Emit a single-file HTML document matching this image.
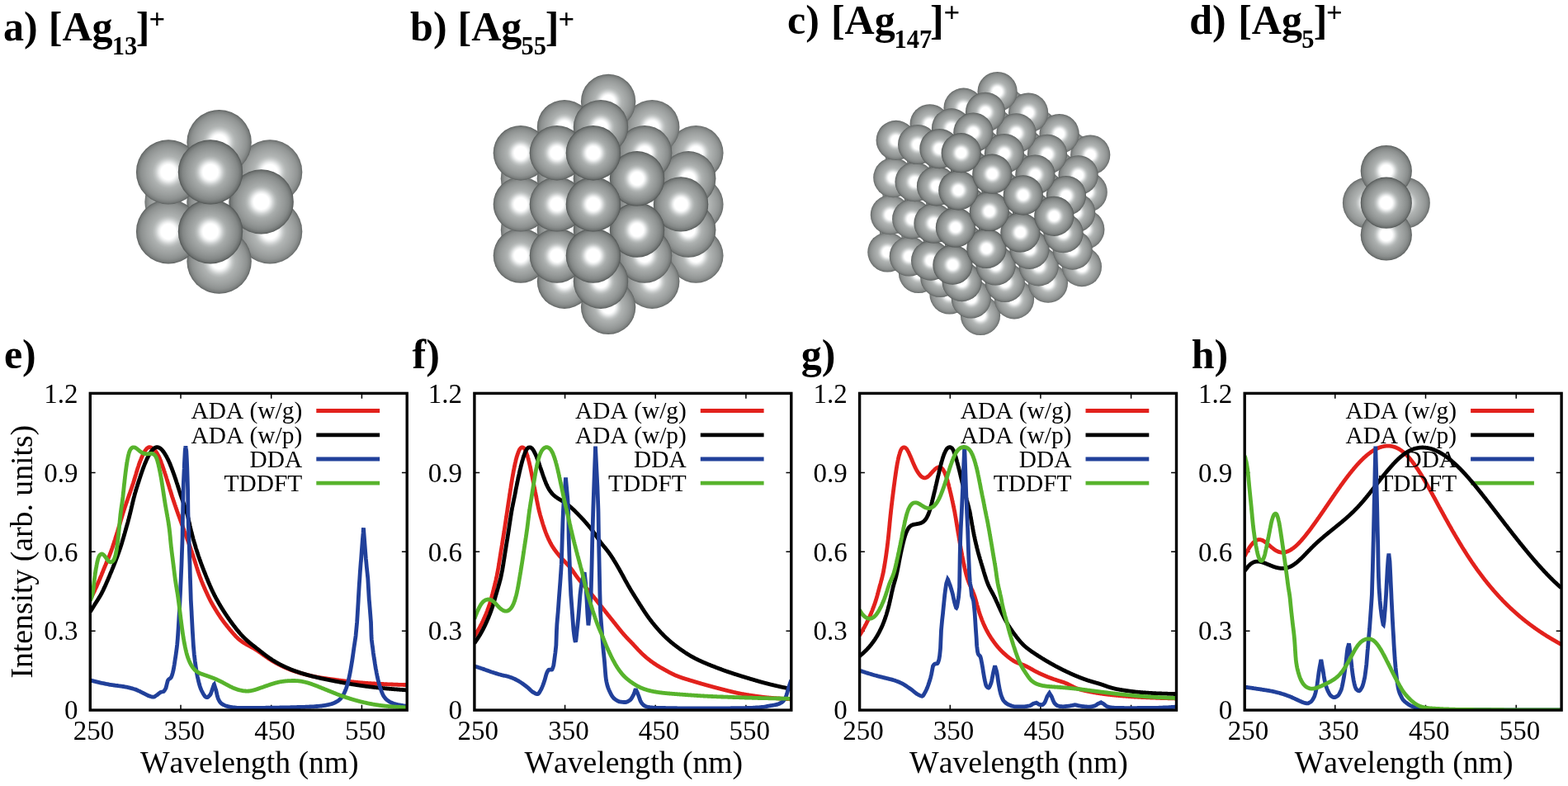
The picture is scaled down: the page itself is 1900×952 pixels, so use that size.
<!DOCTYPE html>
<html lang="en">
<head>
<meta charset="utf-8">
<title>Silver cluster absorption spectra</title>
<style>html,body{margin:0;padding:0;background:#fff;overflow:hidden}svg{display:block}</style>
</head>
<body>
<svg width="1900" height="952" viewBox="0 0 1900 952" font-family='"Liberation Serif", "DejaVu Serif", serif' fill="#000" style="display:block;font-kerning:none">
<rect width="1900" height="952" fill="#fff"/>
<defs>
<radialGradient id="sg" cx="50%" cy="50%" r="50%"><stop offset="0" stop-color="#ffffff"/><stop offset="0.23" stop-color="#ffffff"/><stop offset="0.27" stop-color="#f4f5f5"/><stop offset="0.31" stop-color="#e6e8e8"/><stop offset="0.37" stop-color="#cdd0d0"/><stop offset="0.43" stop-color="#b8bcbb"/><stop offset="0.5" stop-color="#a8acab"/><stop offset="0.62" stop-color="#9ca09f"/><stop offset="0.735" stop-color="#919594"/><stop offset="0.855" stop-color="#838786"/><stop offset="0.94" stop-color="#6f7372"/><stop offset="0.985" stop-color="#585c5b"/><stop offset="1" stop-color="#4a4e4d"/></radialGradient>
</defs>
<text x="4.1" y="49.3" font-size="50" font-weight="bold">a)</text>
<text x="58.8" y="49.3" font-size="50" font-weight="bold">[Ag</text>
<text x="135.7" y="66.2" font-size="30.5" font-weight="bold">13</text>
<text x="164.8" y="49.3" font-size="50" font-weight="bold">]</text>
<text x="180.4" y="34.3" font-size="34.5" font-weight="bold">+</text>
<text x="497.1" y="49.3" font-size="50" font-weight="bold">b)</text>
<text x="554.6" y="49.3" font-size="50" font-weight="bold">[Ag</text>
<text x="631.6" y="66.2" font-size="30.5" font-weight="bold">55</text>
<text x="660.7" y="49.3" font-size="50" font-weight="bold">]</text>
<text x="676.5" y="34.3" font-size="34.5" font-weight="bold">+</text>
<text x="954" y="41.1" font-size="50" font-weight="bold">c)</text>
<text x="1006.9" y="41.1" font-size="50" font-weight="bold">[Ag</text>
<text x="1083.4" y="58" font-size="30.5" font-weight="bold">147</text>
<text x="1126.9" y="41.1" font-size="50" font-weight="bold">]</text>
<text x="1143.4" y="26.1" font-size="34.5" font-weight="bold">+</text>
<text x="1441.3" y="41.1" font-size="50" font-weight="bold">d)</text>
<text x="1500.2" y="41.1" font-size="50" font-weight="bold">[Ag</text>
<text x="1577.2" y="58" font-size="30.5" font-weight="bold">5</text>
<text x="1591.8" y="41.1" font-size="50" font-weight="bold">]</text>
<text x="1606.9" y="26.1" font-size="34.5" font-weight="bold">+</text>
<text x="4.9" y="445.5" font-size="50" font-weight="bold">e)</text>
<text x="499.5" y="445.5" font-size="50" font-weight="bold">f)</text>
<text x="970.8" y="445.5" font-size="50" font-weight="bold">g)</text>
<text x="1443.8" y="445.5" font-size="50" font-weight="bold">h)</text>
<g>
<circle cx="276.2" cy="280.4" r="39.2" fill="url(#sg)"/>
<circle cx="276.2" cy="280.4" r="39.5" fill="#fff" opacity="0.18"/>
<circle cx="276.2" cy="208.4" r="39.2" fill="url(#sg)"/>
<circle cx="276.2" cy="208.4" r="39.5" fill="#fff" opacity="0.18"/>
<circle cx="214.6" cy="244.4" r="39.2" fill="url(#sg)"/>
<circle cx="214.6" cy="244.4" r="39.5" fill="#fff" opacity="0.16"/>
<circle cx="327.1" cy="280.4" r="39.2" fill="url(#sg)"/>
<circle cx="327.1" cy="280.4" r="39.5" fill="#fff" opacity="0.11"/>
<circle cx="327.1" cy="208.4" r="39.2" fill="url(#sg)"/>
<circle cx="327.1" cy="208.4" r="39.5" fill="#fff" opacity="0.11"/>
<circle cx="265.6" cy="316.5" r="39.2" fill="url(#sg)"/>
<circle cx="265.6" cy="316.5" r="39.5" fill="#fff" opacity="0.09"/>
<circle cx="265.6" cy="244.4" r="39.2" fill="url(#sg)"/>
<circle cx="265.6" cy="244.4" r="39.5" fill="#fff" opacity="0.09"/>
<circle cx="265.6" cy="172.3" r="39.2" fill="url(#sg)"/>
<circle cx="265.6" cy="172.3" r="39.5" fill="#fff" opacity="0.09"/>
<circle cx="204.1" cy="280.4" r="39.2" fill="url(#sg)"/>
<circle cx="204.1" cy="280.4" r="39.5" fill="#fff" opacity="0.07"/>
<circle cx="204.1" cy="208.4" r="39.2" fill="url(#sg)"/>
<circle cx="204.1" cy="208.4" r="39.5" fill="#fff" opacity="0.07"/>
<circle cx="316.6" cy="244.4" r="39.2" fill="url(#sg)"/>
<circle cx="316.6" cy="244.4" r="39.5" fill="#fff" opacity="0.02"/>
<circle cx="255" cy="280.4" r="39.2" fill="url(#sg)"/>
<circle cx="255" cy="208.4" r="39.2" fill="url(#sg)"/>
</g>
<g>
<circle cx="755.3" cy="309.6" r="33.2" fill="url(#sg)"/>
<circle cx="755.3" cy="309.6" r="33.5" fill="#fff" opacity="0.18"/>
<circle cx="755.3" cy="247.4" r="33.2" fill="url(#sg)"/>
<circle cx="755.3" cy="247.4" r="33.5" fill="#fff" opacity="0.18"/>
<circle cx="755.3" cy="185.2" r="33.2" fill="url(#sg)"/>
<circle cx="755.3" cy="185.2" r="33.5" fill="#fff" opacity="0.18"/>
<circle cx="702.2" cy="278.5" r="33.2" fill="url(#sg)"/>
<circle cx="702.2" cy="278.5" r="33.5" fill="#fff" opacity="0.17"/>
<circle cx="702.2" cy="216.3" r="33.2" fill="url(#sg)"/>
<circle cx="702.2" cy="216.3" r="33.5" fill="#fff" opacity="0.17"/>
<circle cx="649.1" cy="247.4" r="33.2" fill="url(#sg)"/>
<circle cx="649.1" cy="247.4" r="33.5" fill="#fff" opacity="0.16"/>
<circle cx="799.3" cy="309.6" r="33.2" fill="url(#sg)"/>
<circle cx="799.3" cy="309.6" r="33.5" fill="#fff" opacity="0.14"/>
<circle cx="799.3" cy="247.4" r="33.2" fill="url(#sg)"/>
<circle cx="799.3" cy="247.4" r="33.5" fill="#fff" opacity="0.14"/>
<circle cx="799.3" cy="185.2" r="33.2" fill="url(#sg)"/>
<circle cx="799.3" cy="185.2" r="33.5" fill="#fff" opacity="0.14"/>
<circle cx="746.2" cy="340.7" r="33.2" fill="url(#sg)"/>
<circle cx="746.2" cy="340.7" r="33.5" fill="#fff" opacity="0.13"/>
<circle cx="746.2" cy="278.5" r="33.2" fill="url(#sg)"/>
<circle cx="746.2" cy="278.5" r="33.5" fill="#fff" opacity="0.13"/>
<circle cx="746.2" cy="216.3" r="33.2" fill="url(#sg)"/>
<circle cx="746.2" cy="216.3" r="33.5" fill="#fff" opacity="0.13"/>
<circle cx="746.2" cy="154.1" r="33.2" fill="url(#sg)"/>
<circle cx="746.2" cy="154.1" r="33.5" fill="#fff" opacity="0.13"/>
<circle cx="693.1" cy="309.6" r="33.2" fill="url(#sg)"/>
<circle cx="693.1" cy="309.6" r="33.5" fill="#fff" opacity="0.13"/>
<circle cx="693.1" cy="247.4" r="33.2" fill="url(#sg)"/>
<circle cx="693.1" cy="247.4" r="33.5" fill="#fff" opacity="0.13"/>
<circle cx="693.1" cy="185.2" r="33.2" fill="url(#sg)"/>
<circle cx="693.1" cy="185.2" r="33.5" fill="#fff" opacity="0.13"/>
<circle cx="640" cy="278.5" r="33.2" fill="url(#sg)"/>
<circle cx="640" cy="278.5" r="33.5" fill="#fff" opacity="0.12"/>
<circle cx="640" cy="216.3" r="33.2" fill="url(#sg)"/>
<circle cx="640" cy="216.3" r="33.5" fill="#fff" opacity="0.12"/>
<circle cx="843.3" cy="309.6" r="33.2" fill="url(#sg)"/>
<circle cx="843.3" cy="309.6" r="33.5" fill="#fff" opacity="0.11"/>
<circle cx="843.3" cy="247.4" r="33.2" fill="url(#sg)"/>
<circle cx="843.3" cy="247.4" r="33.5" fill="#fff" opacity="0.11"/>
<circle cx="843.3" cy="185.2" r="33.2" fill="url(#sg)"/>
<circle cx="843.3" cy="185.2" r="33.5" fill="#fff" opacity="0.11"/>
<circle cx="790.2" cy="340.7" r="33.2" fill="url(#sg)"/>
<circle cx="790.2" cy="340.7" r="33.5" fill="#fff" opacity="0.10"/>
<circle cx="790.2" cy="278.5" r="33.2" fill="url(#sg)"/>
<circle cx="790.2" cy="278.5" r="33.5" fill="#fff" opacity="0.10"/>
<circle cx="790.2" cy="216.3" r="33.2" fill="url(#sg)"/>
<circle cx="790.2" cy="216.3" r="33.5" fill="#fff" opacity="0.10"/>
<circle cx="790.2" cy="154.1" r="33.2" fill="url(#sg)"/>
<circle cx="790.2" cy="154.1" r="33.5" fill="#fff" opacity="0.10"/>
<circle cx="737.1" cy="371.8" r="33.2" fill="url(#sg)"/>
<circle cx="737.1" cy="371.8" r="33.5" fill="#fff" opacity="0.09"/>
<circle cx="737.1" cy="309.6" r="33.2" fill="url(#sg)"/>
<circle cx="737.1" cy="309.6" r="33.5" fill="#fff" opacity="0.09"/>
<circle cx="737.1" cy="247.4" r="33.2" fill="url(#sg)"/>
<circle cx="737.1" cy="247.4" r="33.5" fill="#fff" opacity="0.09"/>
<circle cx="737.1" cy="185.2" r="33.2" fill="url(#sg)"/>
<circle cx="737.1" cy="185.2" r="33.5" fill="#fff" opacity="0.09"/>
<circle cx="737.1" cy="123" r="33.2" fill="url(#sg)"/>
<circle cx="737.1" cy="123" r="33.5" fill="#fff" opacity="0.09"/>
<circle cx="684" cy="340.7" r="33.2" fill="url(#sg)"/>
<circle cx="684" cy="340.7" r="33.5" fill="#fff" opacity="0.08"/>
<circle cx="684" cy="278.5" r="33.2" fill="url(#sg)"/>
<circle cx="684" cy="278.5" r="33.5" fill="#fff" opacity="0.08"/>
<circle cx="684" cy="216.3" r="33.2" fill="url(#sg)"/>
<circle cx="684" cy="216.3" r="33.5" fill="#fff" opacity="0.08"/>
<circle cx="684" cy="154.1" r="33.2" fill="url(#sg)"/>
<circle cx="684" cy="154.1" r="33.5" fill="#fff" opacity="0.08"/>
<circle cx="630.9" cy="309.6" r="33.2" fill="url(#sg)"/>
<circle cx="630.9" cy="309.6" r="33.5" fill="#fff" opacity="0.07"/>
<circle cx="630.9" cy="247.4" r="33.2" fill="url(#sg)"/>
<circle cx="630.9" cy="247.4" r="33.5" fill="#fff" opacity="0.07"/>
<circle cx="630.9" cy="185.2" r="33.2" fill="url(#sg)"/>
<circle cx="630.9" cy="185.2" r="33.5" fill="#fff" opacity="0.07"/>
<circle cx="834.2" cy="278.5" r="33.2" fill="url(#sg)"/>
<circle cx="834.2" cy="278.5" r="33.5" fill="#fff" opacity="0.06"/>
<circle cx="834.2" cy="216.3" r="33.2" fill="url(#sg)"/>
<circle cx="834.2" cy="216.3" r="33.5" fill="#fff" opacity="0.06"/>
<circle cx="781.1" cy="309.6" r="33.2" fill="url(#sg)"/>
<circle cx="781.1" cy="309.6" r="33.5" fill="#fff" opacity="0.05"/>
<circle cx="781.1" cy="247.4" r="33.2" fill="url(#sg)"/>
<circle cx="781.1" cy="247.4" r="33.5" fill="#fff" opacity="0.05"/>
<circle cx="781.1" cy="185.2" r="33.2" fill="url(#sg)"/>
<circle cx="781.1" cy="185.2" r="33.5" fill="#fff" opacity="0.05"/>
<circle cx="728" cy="340.7" r="33.2" fill="url(#sg)"/>
<circle cx="728" cy="340.7" r="33.5" fill="#fff" opacity="0.04"/>
<circle cx="728" cy="278.5" r="33.2" fill="url(#sg)"/>
<circle cx="728" cy="278.5" r="33.5" fill="#fff" opacity="0.04"/>
<circle cx="728" cy="216.3" r="33.2" fill="url(#sg)"/>
<circle cx="728" cy="216.3" r="33.5" fill="#fff" opacity="0.04"/>
<circle cx="728" cy="154.1" r="33.2" fill="url(#sg)"/>
<circle cx="728" cy="154.1" r="33.5" fill="#fff" opacity="0.04"/>
<circle cx="674.9" cy="309.6" r="33.2" fill="url(#sg)"/>
<circle cx="674.9" cy="309.6" r="33.5" fill="#fff" opacity="0.04"/>
<circle cx="674.9" cy="247.4" r="33.2" fill="url(#sg)"/>
<circle cx="674.9" cy="247.4" r="33.5" fill="#fff" opacity="0.04"/>
<circle cx="674.9" cy="185.2" r="33.2" fill="url(#sg)"/>
<circle cx="674.9" cy="185.2" r="33.5" fill="#fff" opacity="0.04"/>
<circle cx="825.1" cy="247.4" r="33.2" fill="url(#sg)"/>
<circle cx="825.1" cy="247.4" r="33.5" fill="#fff" opacity="0.02"/>
<circle cx="772" cy="278.5" r="33.2" fill="url(#sg)"/>
<circle cx="772" cy="216.3" r="33.2" fill="url(#sg)"/>
<circle cx="718.9" cy="309.6" r="33.2" fill="url(#sg)"/>
<circle cx="718.9" cy="247.4" r="33.2" fill="url(#sg)"/>
<circle cx="718.9" cy="185.2" r="33.2" fill="url(#sg)"/>
</g>
<g>
<circle cx="1231.9" cy="307.8" r="24.1" fill="url(#sg)"/>
<circle cx="1231.9" cy="307.8" r="24.4" fill="#fff" opacity="0.18"/>
<circle cx="1194.3" cy="282.3" r="24.1" fill="url(#sg)"/>
<circle cx="1194.3" cy="282.3" r="24.4" fill="#fff" opacity="0.18"/>
<circle cx="1235.3" cy="262.6" r="24.1" fill="url(#sg)"/>
<circle cx="1235.3" cy="262.6" r="24.4" fill="#fff" opacity="0.18"/>
<circle cx="1156.8" cy="256.7" r="24.1" fill="url(#sg)"/>
<circle cx="1156.8" cy="256.7" r="24.4" fill="#fff" opacity="0.18"/>
<circle cx="1197.8" cy="237.1" r="24.1" fill="url(#sg)"/>
<circle cx="1197.8" cy="237.1" r="24.4" fill="#fff" opacity="0.18"/>
<circle cx="1119.3" cy="231.2" r="24.1" fill="url(#sg)"/>
<circle cx="1119.3" cy="231.2" r="24.4" fill="#fff" opacity="0.17"/>
<circle cx="1238.7" cy="217.5" r="24.1" fill="url(#sg)"/>
<circle cx="1238.7" cy="217.5" r="24.4" fill="#fff" opacity="0.17"/>
<circle cx="1160.2" cy="211.6" r="24.1" fill="url(#sg)"/>
<circle cx="1160.2" cy="211.6" r="24.4" fill="#fff" opacity="0.17"/>
<circle cx="1201.2" cy="192" r="24.1" fill="url(#sg)"/>
<circle cx="1201.2" cy="192" r="24.4" fill="#fff" opacity="0.17"/>
<circle cx="1242.2" cy="172.3" r="24.1" fill="url(#sg)"/>
<circle cx="1242.2" cy="172.3" r="24.4" fill="#fff" opacity="0.17"/>
<circle cx="1217.2" cy="332.5" r="24.1" fill="url(#sg)"/>
<circle cx="1217.2" cy="332.5" r="24.4" fill="#fff" opacity="0.15"/>
<circle cx="1258.2" cy="312.9" r="24.1" fill="url(#sg)"/>
<circle cx="1258.2" cy="312.9" r="24.4" fill="#fff" opacity="0.15"/>
<circle cx="1179.7" cy="307" r="24.1" fill="url(#sg)"/>
<circle cx="1179.7" cy="307" r="24.4" fill="#fff" opacity="0.15"/>
<circle cx="1220.7" cy="287.4" r="24.1" fill="url(#sg)"/>
<circle cx="1220.7" cy="287.4" r="24.4" fill="#fff" opacity="0.15"/>
<circle cx="1142.2" cy="281.5" r="24.1" fill="url(#sg)"/>
<circle cx="1142.2" cy="281.5" r="24.4" fill="#fff" opacity="0.15"/>
<circle cx="1261.6" cy="267.7" r="24.1" fill="url(#sg)"/>
<circle cx="1261.6" cy="267.7" r="24.4" fill="#fff" opacity="0.15"/>
<circle cx="1183.1" cy="261.8" r="24.1" fill="url(#sg)"/>
<circle cx="1183.1" cy="261.8" r="24.4" fill="#fff" opacity="0.15"/>
<circle cx="1104.7" cy="255.9" r="24.1" fill="url(#sg)"/>
<circle cx="1104.7" cy="255.9" r="24.4" fill="#fff" opacity="0.15"/>
<circle cx="1224.1" cy="242.2" r="24.1" fill="url(#sg)"/>
<circle cx="1224.1" cy="242.2" r="24.4" fill="#fff" opacity="0.15"/>
<circle cx="1145.6" cy="236.3" r="24.1" fill="url(#sg)"/>
<circle cx="1145.6" cy="236.3" r="24.4" fill="#fff" opacity="0.15"/>
<circle cx="1265.1" cy="222.6" r="24.1" fill="url(#sg)"/>
<circle cx="1265.1" cy="222.6" r="24.4" fill="#fff" opacity="0.15"/>
<circle cx="1186.6" cy="216.7" r="24.1" fill="url(#sg)"/>
<circle cx="1186.6" cy="216.7" r="24.4" fill="#fff" opacity="0.15"/>
<circle cx="1108.1" cy="210.8" r="24.1" fill="url(#sg)"/>
<circle cx="1108.1" cy="210.8" r="24.4" fill="#fff" opacity="0.14"/>
<circle cx="1227.5" cy="197" r="24.1" fill="url(#sg)"/>
<circle cx="1227.5" cy="197" r="24.4" fill="#fff" opacity="0.14"/>
<circle cx="1149.1" cy="191.2" r="24.1" fill="url(#sg)"/>
<circle cx="1149.1" cy="191.2" r="24.4" fill="#fff" opacity="0.14"/>
<circle cx="1268.5" cy="177.4" r="24.1" fill="url(#sg)"/>
<circle cx="1268.5" cy="177.4" r="24.4" fill="#fff" opacity="0.14"/>
<circle cx="1190" cy="171.5" r="24.1" fill="url(#sg)"/>
<circle cx="1190" cy="171.5" r="24.4" fill="#fff" opacity="0.14"/>
<circle cx="1231" cy="151.9" r="24.1" fill="url(#sg)"/>
<circle cx="1231" cy="151.9" r="24.4" fill="#fff" opacity="0.14"/>
<circle cx="1202.6" cy="357.2" r="24.1" fill="url(#sg)"/>
<circle cx="1202.6" cy="357.2" r="24.4" fill="#fff" opacity="0.13"/>
<circle cx="1243.6" cy="337.6" r="24.1" fill="url(#sg)"/>
<circle cx="1243.6" cy="337.6" r="24.4" fill="#fff" opacity="0.12"/>
<circle cx="1165.1" cy="331.7" r="24.1" fill="url(#sg)"/>
<circle cx="1165.1" cy="331.7" r="24.4" fill="#fff" opacity="0.12"/>
<circle cx="1284.5" cy="318" r="24.1" fill="url(#sg)"/>
<circle cx="1284.5" cy="318" r="24.4" fill="#fff" opacity="0.12"/>
<circle cx="1206.1" cy="312.1" r="24.1" fill="url(#sg)"/>
<circle cx="1206.1" cy="312.1" r="24.4" fill="#fff" opacity="0.12"/>
<circle cx="1127.6" cy="306.2" r="24.1" fill="url(#sg)"/>
<circle cx="1127.6" cy="306.2" r="24.4" fill="#fff" opacity="0.12"/>
<circle cx="1247" cy="292.4" r="24.1" fill="url(#sg)"/>
<circle cx="1247" cy="292.4" r="24.4" fill="#fff" opacity="0.12"/>
<circle cx="1168.5" cy="286.6" r="24.1" fill="url(#sg)"/>
<circle cx="1168.5" cy="286.6" r="24.4" fill="#fff" opacity="0.12"/>
<circle cx="1288" cy="272.8" r="24.1" fill="url(#sg)"/>
<circle cx="1288" cy="272.8" r="24.4" fill="#fff" opacity="0.12"/>
<circle cx="1090" cy="280.7" r="24.1" fill="url(#sg)"/>
<circle cx="1090" cy="280.7" r="24.4" fill="#fff" opacity="0.12"/>
<circle cx="1209.5" cy="266.9" r="24.1" fill="url(#sg)"/>
<circle cx="1209.5" cy="266.9" r="24.4" fill="#fff" opacity="0.12"/>
<circle cx="1131" cy="261" r="24.1" fill="url(#sg)"/>
<circle cx="1131" cy="261" r="24.4" fill="#fff" opacity="0.12"/>
<circle cx="1250.4" cy="247.3" r="24.1" fill="url(#sg)"/>
<circle cx="1250.4" cy="247.3" r="24.4" fill="#fff" opacity="0.12"/>
<circle cx="1172" cy="241.4" r="24.1" fill="url(#sg)"/>
<circle cx="1172" cy="241.4" r="24.4" fill="#fff" opacity="0.12"/>
<circle cx="1291.4" cy="227.7" r="24.1" fill="url(#sg)"/>
<circle cx="1291.4" cy="227.7" r="24.4" fill="#fff" opacity="0.12"/>
<circle cx="1093.5" cy="235.5" r="24.1" fill="url(#sg)"/>
<circle cx="1093.5" cy="235.5" r="24.4" fill="#fff" opacity="0.12"/>
<circle cx="1212.9" cy="221.8" r="24.1" fill="url(#sg)"/>
<circle cx="1212.9" cy="221.8" r="24.4" fill="#fff" opacity="0.12"/>
<circle cx="1134.4" cy="215.9" r="24.1" fill="url(#sg)"/>
<circle cx="1134.4" cy="215.9" r="24.4" fill="#fff" opacity="0.12"/>
<circle cx="1253.9" cy="202.1" r="24.1" fill="url(#sg)"/>
<circle cx="1253.9" cy="202.1" r="24.4" fill="#fff" opacity="0.12"/>
<circle cx="1175.4" cy="196.3" r="24.1" fill="url(#sg)"/>
<circle cx="1175.4" cy="196.3" r="24.4" fill="#fff" opacity="0.12"/>
<circle cx="1294.8" cy="182.5" r="24.1" fill="url(#sg)"/>
<circle cx="1294.8" cy="182.5" r="24.4" fill="#fff" opacity="0.11"/>
<circle cx="1096.9" cy="190.4" r="24.1" fill="url(#sg)"/>
<circle cx="1096.9" cy="190.4" r="24.4" fill="#fff" opacity="0.11"/>
<circle cx="1216.4" cy="176.6" r="24.1" fill="url(#sg)"/>
<circle cx="1216.4" cy="176.6" r="24.4" fill="#fff" opacity="0.11"/>
<circle cx="1137.9" cy="170.7" r="24.1" fill="url(#sg)"/>
<circle cx="1137.9" cy="170.7" r="24.4" fill="#fff" opacity="0.11"/>
<circle cx="1257.3" cy="157" r="24.1" fill="url(#sg)"/>
<circle cx="1257.3" cy="157" r="24.4" fill="#fff" opacity="0.11"/>
<circle cx="1178.8" cy="151.1" r="24.1" fill="url(#sg)"/>
<circle cx="1178.8" cy="151.1" r="24.4" fill="#fff" opacity="0.11"/>
<circle cx="1219.8" cy="131.5" r="24.1" fill="url(#sg)"/>
<circle cx="1219.8" cy="131.5" r="24.4" fill="#fff" opacity="0.11"/>
<circle cx="1188" cy="382" r="24.1" fill="url(#sg)"/>
<circle cx="1188" cy="382" r="24.4" fill="#fff" opacity="0.10"/>
<circle cx="1229" cy="362.3" r="24.1" fill="url(#sg)"/>
<circle cx="1229" cy="362.3" r="24.4" fill="#fff" opacity="0.10"/>
<circle cx="1150.5" cy="356.4" r="24.1" fill="url(#sg)"/>
<circle cx="1150.5" cy="356.4" r="24.4" fill="#fff" opacity="0.10"/>
<circle cx="1269.9" cy="342.7" r="24.1" fill="url(#sg)"/>
<circle cx="1269.9" cy="342.7" r="24.4" fill="#fff" opacity="0.10"/>
<circle cx="1191.4" cy="336.8" r="24.1" fill="url(#sg)"/>
<circle cx="1191.4" cy="336.8" r="24.4" fill="#fff" opacity="0.10"/>
<circle cx="1310.9" cy="323.1" r="24.1" fill="url(#sg)"/>
<circle cx="1310.9" cy="323.1" r="24.4" fill="#fff" opacity="0.10"/>
<circle cx="1113" cy="330.9" r="24.1" fill="url(#sg)"/>
<circle cx="1113" cy="330.9" r="24.4" fill="#fff" opacity="0.10"/>
<circle cx="1232.4" cy="317.2" r="24.1" fill="url(#sg)"/>
<circle cx="1232.4" cy="317.2" r="24.4" fill="#fff" opacity="0.09"/>
<circle cx="1153.9" cy="311.3" r="24.1" fill="url(#sg)"/>
<circle cx="1153.9" cy="311.3" r="24.4" fill="#fff" opacity="0.09"/>
<circle cx="1273.4" cy="297.5" r="24.1" fill="url(#sg)"/>
<circle cx="1273.4" cy="297.5" r="24.4" fill="#fff" opacity="0.09"/>
<circle cx="1075.4" cy="305.4" r="24.1" fill="url(#sg)"/>
<circle cx="1075.4" cy="305.4" r="24.4" fill="#fff" opacity="0.09"/>
<circle cx="1194.9" cy="291.7" r="24.1" fill="url(#sg)"/>
<circle cx="1194.9" cy="291.7" r="24.4" fill="#fff" opacity="0.09"/>
<circle cx="1314.3" cy="277.9" r="24.1" fill="url(#sg)"/>
<circle cx="1314.3" cy="277.9" r="24.4" fill="#fff" opacity="0.09"/>
<circle cx="1116.4" cy="285.8" r="24.1" fill="url(#sg)"/>
<circle cx="1116.4" cy="285.8" r="24.4" fill="#fff" opacity="0.09"/>
<circle cx="1235.8" cy="272" r="24.1" fill="url(#sg)"/>
<circle cx="1235.8" cy="272" r="24.4" fill="#fff" opacity="0.09"/>
<circle cx="1157.3" cy="266.1" r="24.1" fill="url(#sg)"/>
<circle cx="1157.3" cy="266.1" r="24.4" fill="#fff" opacity="0.09"/>
<circle cx="1276.8" cy="252.4" r="24.1" fill="url(#sg)"/>
<circle cx="1276.8" cy="252.4" r="24.4" fill="#fff" opacity="0.09"/>
<circle cx="1078.9" cy="260.2" r="24.1" fill="url(#sg)"/>
<circle cx="1078.9" cy="260.2" r="24.4" fill="#fff" opacity="0.09"/>
<circle cx="1198.3" cy="246.5" r="24.1" fill="url(#sg)"/>
<circle cx="1198.3" cy="246.5" r="24.4" fill="#fff" opacity="0.09"/>
<circle cx="1317.7" cy="232.8" r="24.1" fill="url(#sg)"/>
<circle cx="1317.7" cy="232.8" r="24.4" fill="#fff" opacity="0.09"/>
<circle cx="1119.8" cy="240.6" r="24.1" fill="url(#sg)"/>
<circle cx="1119.8" cy="240.6" r="24.4" fill="#fff" opacity="0.09"/>
<circle cx="1239.3" cy="226.9" r="24.1" fill="url(#sg)"/>
<circle cx="1239.3" cy="226.9" r="24.4" fill="#fff" opacity="0.09"/>
<circle cx="1160.8" cy="221" r="24.1" fill="url(#sg)"/>
<circle cx="1160.8" cy="221" r="24.4" fill="#fff" opacity="0.09"/>
<circle cx="1280.2" cy="207.2" r="24.1" fill="url(#sg)"/>
<circle cx="1280.2" cy="207.2" r="24.4" fill="#fff" opacity="0.09"/>
<circle cx="1082.3" cy="215.1" r="24.1" fill="url(#sg)"/>
<circle cx="1082.3" cy="215.1" r="24.4" fill="#fff" opacity="0.09"/>
<circle cx="1201.7" cy="201.3" r="24.1" fill="url(#sg)"/>
<circle cx="1201.7" cy="201.3" r="24.4" fill="#fff" opacity="0.09"/>
<circle cx="1321.2" cy="187.6" r="24.1" fill="url(#sg)"/>
<circle cx="1321.2" cy="187.6" r="24.4" fill="#fff" opacity="0.09"/>
<circle cx="1123.2" cy="195.5" r="24.1" fill="url(#sg)"/>
<circle cx="1123.2" cy="195.5" r="24.4" fill="#fff" opacity="0.09"/>
<circle cx="1242.7" cy="181.7" r="24.1" fill="url(#sg)"/>
<circle cx="1242.7" cy="181.7" r="24.4" fill="#fff" opacity="0.09"/>
<circle cx="1164.2" cy="175.8" r="24.1" fill="url(#sg)"/>
<circle cx="1164.2" cy="175.8" r="24.4" fill="#fff" opacity="0.09"/>
<circle cx="1283.6" cy="162.1" r="24.1" fill="url(#sg)"/>
<circle cx="1283.6" cy="162.1" r="24.4" fill="#fff" opacity="0.08"/>
<circle cx="1085.7" cy="169.9" r="24.1" fill="url(#sg)"/>
<circle cx="1085.7" cy="169.9" r="24.4" fill="#fff" opacity="0.08"/>
<circle cx="1205.2" cy="156.2" r="24.1" fill="url(#sg)"/>
<circle cx="1205.2" cy="156.2" r="24.4" fill="#fff" opacity="0.08"/>
<circle cx="1126.7" cy="150.3" r="24.1" fill="url(#sg)"/>
<circle cx="1126.7" cy="150.3" r="24.4" fill="#fff" opacity="0.08"/>
<circle cx="1246.1" cy="136.6" r="24.1" fill="url(#sg)"/>
<circle cx="1246.1" cy="136.6" r="24.4" fill="#fff" opacity="0.08"/>
<circle cx="1167.6" cy="130.7" r="24.1" fill="url(#sg)"/>
<circle cx="1167.6" cy="130.7" r="24.4" fill="#fff" opacity="0.08"/>
<circle cx="1208.6" cy="111" r="24.1" fill="url(#sg)"/>
<circle cx="1208.6" cy="111" r="24.4" fill="#fff" opacity="0.08"/>
<circle cx="1176.8" cy="361.5" r="24.1" fill="url(#sg)"/>
<circle cx="1176.8" cy="361.5" r="24.4" fill="#fff" opacity="0.07"/>
<circle cx="1217.8" cy="341.9" r="24.1" fill="url(#sg)"/>
<circle cx="1217.8" cy="341.9" r="24.4" fill="#fff" opacity="0.07"/>
<circle cx="1139.3" cy="336" r="24.1" fill="url(#sg)"/>
<circle cx="1139.3" cy="336" r="24.4" fill="#fff" opacity="0.07"/>
<circle cx="1258.7" cy="322.3" r="24.1" fill="url(#sg)"/>
<circle cx="1258.7" cy="322.3" r="24.4" fill="#fff" opacity="0.07"/>
<circle cx="1180.2" cy="316.4" r="24.1" fill="url(#sg)"/>
<circle cx="1180.2" cy="316.4" r="24.4" fill="#fff" opacity="0.07"/>
<circle cx="1299.7" cy="302.6" r="24.1" fill="url(#sg)"/>
<circle cx="1299.7" cy="302.6" r="24.4" fill="#fff" opacity="0.07"/>
<circle cx="1101.8" cy="310.5" r="24.1" fill="url(#sg)"/>
<circle cx="1101.8" cy="310.5" r="24.4" fill="#fff" opacity="0.07"/>
<circle cx="1221.2" cy="296.7" r="24.1" fill="url(#sg)"/>
<circle cx="1221.2" cy="296.7" r="24.4" fill="#fff" opacity="0.06"/>
<circle cx="1142.7" cy="290.9" r="24.1" fill="url(#sg)"/>
<circle cx="1142.7" cy="290.9" r="24.4" fill="#fff" opacity="0.06"/>
<circle cx="1262.2" cy="277.1" r="24.1" fill="url(#sg)"/>
<circle cx="1262.2" cy="277.1" r="24.4" fill="#fff" opacity="0.06"/>
<circle cx="1183.7" cy="271.2" r="24.1" fill="url(#sg)"/>
<circle cx="1183.7" cy="271.2" r="24.4" fill="#fff" opacity="0.06"/>
<circle cx="1303.1" cy="257.5" r="24.1" fill="url(#sg)"/>
<circle cx="1303.1" cy="257.5" r="24.4" fill="#fff" opacity="0.06"/>
<circle cx="1105.2" cy="265.3" r="24.1" fill="url(#sg)"/>
<circle cx="1105.2" cy="265.3" r="24.4" fill="#fff" opacity="0.06"/>
<circle cx="1224.6" cy="251.6" r="24.1" fill="url(#sg)"/>
<circle cx="1224.6" cy="251.6" r="24.4" fill="#fff" opacity="0.06"/>
<circle cx="1146.2" cy="245.7" r="24.1" fill="url(#sg)"/>
<circle cx="1146.2" cy="245.7" r="24.4" fill="#fff" opacity="0.06"/>
<circle cx="1265.6" cy="232" r="24.1" fill="url(#sg)"/>
<circle cx="1265.6" cy="232" r="24.4" fill="#fff" opacity="0.06"/>
<circle cx="1187.1" cy="226.1" r="24.1" fill="url(#sg)"/>
<circle cx="1187.1" cy="226.1" r="24.4" fill="#fff" opacity="0.06"/>
<circle cx="1306.6" cy="212.3" r="24.1" fill="url(#sg)"/>
<circle cx="1306.6" cy="212.3" r="24.4" fill="#fff" opacity="0.06"/>
<circle cx="1108.6" cy="220.2" r="24.1" fill="url(#sg)"/>
<circle cx="1108.6" cy="220.2" r="24.4" fill="#fff" opacity="0.06"/>
<circle cx="1228.1" cy="206.4" r="24.1" fill="url(#sg)"/>
<circle cx="1228.1" cy="206.4" r="24.4" fill="#fff" opacity="0.06"/>
<circle cx="1149.6" cy="200.6" r="24.1" fill="url(#sg)"/>
<circle cx="1149.6" cy="200.6" r="24.4" fill="#fff" opacity="0.06"/>
<circle cx="1269" cy="186.8" r="24.1" fill="url(#sg)"/>
<circle cx="1269" cy="186.8" r="24.4" fill="#fff" opacity="0.06"/>
<circle cx="1190.5" cy="180.9" r="24.1" fill="url(#sg)"/>
<circle cx="1190.5" cy="180.9" r="24.4" fill="#fff" opacity="0.06"/>
<circle cx="1112.1" cy="175" r="24.1" fill="url(#sg)"/>
<circle cx="1112.1" cy="175" r="24.4" fill="#fff" opacity="0.06"/>
<circle cx="1231.5" cy="161.3" r="24.1" fill="url(#sg)"/>
<circle cx="1231.5" cy="161.3" r="24.4" fill="#fff" opacity="0.06"/>
<circle cx="1153" cy="155.4" r="24.1" fill="url(#sg)"/>
<circle cx="1153" cy="155.4" r="24.4" fill="#fff" opacity="0.06"/>
<circle cx="1194" cy="135.8" r="24.1" fill="url(#sg)"/>
<circle cx="1194" cy="135.8" r="24.4" fill="#fff" opacity="0.05"/>
<circle cx="1165.6" cy="341.1" r="24.1" fill="url(#sg)"/>
<circle cx="1165.6" cy="341.1" r="24.4" fill="#fff" opacity="0.04"/>
<circle cx="1206.6" cy="321.5" r="24.1" fill="url(#sg)"/>
<circle cx="1206.6" cy="321.5" r="24.4" fill="#fff" opacity="0.04"/>
<circle cx="1128.1" cy="315.6" r="24.1" fill="url(#sg)"/>
<circle cx="1128.1" cy="315.6" r="24.4" fill="#fff" opacity="0.04"/>
<circle cx="1247.5" cy="301.8" r="24.1" fill="url(#sg)"/>
<circle cx="1247.5" cy="301.8" r="24.4" fill="#fff" opacity="0.04"/>
<circle cx="1169.1" cy="296" r="24.1" fill="url(#sg)"/>
<circle cx="1169.1" cy="296" r="24.4" fill="#fff" opacity="0.04"/>
<circle cx="1288.5" cy="282.2" r="24.1" fill="url(#sg)"/>
<circle cx="1288.5" cy="282.2" r="24.4" fill="#fff" opacity="0.04"/>
<circle cx="1210" cy="276.3" r="24.1" fill="url(#sg)"/>
<circle cx="1210" cy="276.3" r="24.4" fill="#fff" opacity="0.03"/>
<circle cx="1131.5" cy="270.4" r="24.1" fill="url(#sg)"/>
<circle cx="1131.5" cy="270.4" r="24.4" fill="#fff" opacity="0.03"/>
<circle cx="1251" cy="256.7" r="24.1" fill="url(#sg)"/>
<circle cx="1251" cy="256.7" r="24.4" fill="#fff" opacity="0.03"/>
<circle cx="1172.5" cy="250.8" r="24.1" fill="url(#sg)"/>
<circle cx="1172.5" cy="250.8" r="24.4" fill="#fff" opacity="0.03"/>
<circle cx="1291.9" cy="237.1" r="24.1" fill="url(#sg)"/>
<circle cx="1291.9" cy="237.1" r="24.4" fill="#fff" opacity="0.03"/>
<circle cx="1213.5" cy="231.2" r="24.1" fill="url(#sg)"/>
<circle cx="1213.5" cy="231.2" r="24.4" fill="#fff" opacity="0.03"/>
<circle cx="1135" cy="225.3" r="24.1" fill="url(#sg)"/>
<circle cx="1135" cy="225.3" r="24.4" fill="#fff" opacity="0.03"/>
<circle cx="1254.4" cy="211.5" r="24.1" fill="url(#sg)"/>
<circle cx="1254.4" cy="211.5" r="24.4" fill="#fff" opacity="0.03"/>
<circle cx="1175.9" cy="205.6" r="24.1" fill="url(#sg)"/>
<circle cx="1175.9" cy="205.6" r="24.4" fill="#fff" opacity="0.03"/>
<circle cx="1216.9" cy="186" r="24.1" fill="url(#sg)"/>
<circle cx="1216.9" cy="186" r="24.4" fill="#fff" opacity="0.03"/>
<circle cx="1138.4" cy="180.1" r="24.1" fill="url(#sg)"/>
<circle cx="1138.4" cy="180.1" r="24.4" fill="#fff" opacity="0.03"/>
<circle cx="1179.4" cy="160.5" r="24.1" fill="url(#sg)"/>
<circle cx="1179.4" cy="160.5" r="24.4" fill="#fff" opacity="0.03"/>
<circle cx="1154.4" cy="320.7" r="24.1" fill="url(#sg)"/>
<circle cx="1195.4" cy="301" r="24.1" fill="url(#sg)"/>
<circle cx="1236.4" cy="281.4" r="24.1" fill="url(#sg)"/>
<circle cx="1157.9" cy="275.5" r="24.1" fill="url(#sg)"/>
<circle cx="1277.3" cy="261.8" r="24.1" fill="url(#sg)"/>
<circle cx="1198.8" cy="255.9" r="24.1" fill="url(#sg)"/>
<circle cx="1239.8" cy="236.3" r="24.1" fill="url(#sg)"/>
<circle cx="1161.3" cy="230.4" r="24.1" fill="url(#sg)"/>
<circle cx="1202.3" cy="210.7" r="24.1" fill="url(#sg)"/>
<circle cx="1164.7" cy="185.2" r="24.1" fill="url(#sg)"/>
</g>
<g>
<circle cx="1658" cy="245.7" r="31.1" fill="url(#sg)"/>
<circle cx="1658" cy="245.7" r="31.4" fill="#fff" opacity="0.10"/>
<circle cx="1701.7" cy="245.7" r="31.1" fill="url(#sg)"/>
<circle cx="1701.7" cy="245.7" r="31.4" fill="#fff" opacity="0.10"/>
<circle cx="1679.8" cy="207.1" r="31.1" fill="url(#sg)"/>
<circle cx="1679.8" cy="207.1" r="31.4" fill="#fff" opacity="0.05"/>
<circle cx="1679.8" cy="284.4" r="31.1" fill="url(#sg)"/>
<circle cx="1679.8" cy="284.4" r="31.4" fill="#fff" opacity="0.05"/>
<circle cx="1679.8" cy="245.7" r="31.1" fill="url(#sg)"/>
</g>
<g>
<path d="M219 860.1 v-6.3 M219 476.4 v6.3 M328.7 860.1 v-6.3 M328.7 476.4 v6.3 M438.4 860.1 v-6.3 M438.4 476.4 v6.3 M109.3 764.2 h6.3 M493.2 764.2 h-6.3 M109.3 668.3 h6.3 M493.2 668.3 h-6.3 M109.3 572.4 h6.3 M493.2 572.4 h-6.3" stroke="#000" stroke-width="1.5" fill="none"/>
<path d="M383.3 497.5 H460.1" stroke="#e2211c" stroke-width="4.8" fill="none"/>
<path d="M383.3 526.8 H460.1" stroke="#000000" stroke-width="4.8" fill="none"/>
<path d="M383.3 556 H460.1" stroke="#21409a" stroke-width="4.8" fill="none"/>
<path d="M383.3 585.2 H460.1" stroke="#57b32c" stroke-width="4.8" fill="none"/>
<clipPath id="cp0"><rect x="109.3" y="476.4" width="383.9" height="383.7"/></clipPath>
<g clip-path="url(#cp0)" fill="none" stroke-width="4.8" stroke-linejoin="bevel">
<path d="M109.3 726.3 L109.6 725.9 L109.8 725.4 L110 725 L110.2 724.5 L110.5 724.1 L110.7 723.6 L110.9 723.2 L111.1 722.7 L111.3 722.3 L111.6 721.8 L111.8 721.4 L112 720.9 L112.2 720.5 L112.4 720 L112.6 719.6 L112.9 719.1 L113.1 718.7 L113.3 718.2 L113.5 717.8 L113.7 717.3 L113.9 716.9 L114.2 716.4 L114.4 716 L114.6 715.5 L114.8 715 L115 714.6 L115.2 714.1 L115.4 713.7 L115.6 713.2 L115.8 712.8 L116 712.3 L116.2 711.9 L116.5 711.4 L116.7 711 L116.9 710.5 L117.1 710 L117.3 709.6 L117.5 709.1 L117.7 708.7 L117.9 708.2 L118.1 707.8 L118.3 707.3 L118.5 706.8 L118.7 706.4 L118.9 705.9 L119.1 705.5 L119.3 705 L119.5 704.6 L119.7 704.1 L119.9 703.6 L120.1 703.2 L120.3 702.7 L120.5 702.3 L120.7 701.8 L120.9 701.3 L121.1 700.9 L121.3 700.4 L121.5 700 L121.6 699.5 L121.8 699 L122 698.6 L122.2 698.1 L122.4 697.6 L122.6 697.2 L122.8 696.7 L123 696.3 L123.2 695.8 L123.3 695.3 L123.5 694.9 L123.7 694.4 L123.9 693.9 L124.1 693.5 L124.3 693 L124.5 692.5 L124.7 692.1 L124.8 691.6 L125 691.2 L125.2 690.7 L125.4 690.2 L125.6 689.8 L125.8 689.3 L126 688.8 L126.2 688.4 L126.3 687.9 L126.5 687.5 L126.7 687 L126.9 686.5 L127.1 686.1 L127.3 685.6 L127.5 685.1 L127.7 684.7 L127.9 684.2 L128.1 683.8 L128.3 683.3 L128.5 682.8 L128.7 682.4 L128.9 681.9 L129 681.5 L129.2 681 L129.4 680.5 L129.6 680.1 L129.8 679.6 L130 679.2 L130.2 678.7 L130.4 678.2 L130.6 677.8 L130.8 677.3 L131 676.9 L131.2 676.4 L131.4 675.9 L131.6 675.5 L131.8 675 L132 674.5 L132.1 674.1 L132.3 673.6 L132.5 673.2 L132.7 672.7 L132.9 672.2 L133.1 671.8 L133.2 671.3 L133.4 670.8 L133.6 670.4 L133.8 669.9 L134 669.4 L134.1 669 L134.3 668.5 L134.5 668 L134.6 667.6 L134.8 667.1 L135 666.6 L135.2 666.1 L135.3 665.7 L135.5 665.2 L135.6 664.7 L135.8 664.3 L136 663.8 L136.1 663.3 L136.3 662.8 L136.5 662.4 L136.6 661.9 L136.8 661.4 L136.9 660.9 L137.1 660.5 L137.2 660 L137.4 659.5 L137.6 659 L137.7 658.6 L137.9 658.1 L138 657.6 L138.2 657.1 L138.3 656.7 L138.5 656.2 L138.6 655.7 L138.8 655.2 L138.9 654.8 L139.1 654.3 L139.2 653.8 L139.4 653.3 L139.5 652.8 L139.7 652.4 L139.8 651.9 L140 651.4 L140.1 650.9 L140.3 650.5 L140.4 650 L140.6 649.5 L140.7 649 L140.9 648.6 L141 648.1 L141.2 647.6 L141.3 647.1 L141.5 646.7 L141.6 646.2 L141.8 645.7 L141.9 645.2 L142.1 644.7 L142.2 644.3 L142.4 643.8 L142.5 643.3 L142.7 642.8 L142.8 642.4 L143 641.9 L143.1 641.4 L143.3 640.9 L143.4 640.4 L143.6 640 L143.7 639.5 L143.8 639 L144 638.5 L144.1 638 L144.3 637.6 L144.4 637.1 L144.6 636.6 L144.7 636.1 L144.9 635.7 L145 635.2 L145.1 634.7 L145.3 634.2 L145.4 633.7 L145.6 633.3 L145.7 632.8 L145.8 632.3 L146 631.8 L146.1 631.3 L146.3 630.9 L146.4 630.4 L146.5 629.9 L146.7 629.4 L146.8 628.9 L147 628.5 L147.1 628 L147.3 627.5 L147.4 627 L147.5 626.5 L147.7 626.1 L147.8 625.6 L148 625.1 L148.1 624.6 L148.3 624.1 L148.4 623.7 L148.5 623.2 L148.7 622.7 L148.8 622.2 L149 621.8 L149.1 621.3 L149.3 620.8 L149.4 620.3 L149.6 619.8 L149.7 619.4 L149.9 618.9 L150 618.4 L150.2 617.9 L150.3 617.5 L150.5 617 L150.6 616.5 L150.8 616 L151 615.6 L151.1 615.1 L151.3 614.6 L151.4 614.1 L151.6 613.7 L151.7 613.2 L151.9 612.7 L152.1 612.2 L152.2 611.8 L152.4 611.3 L152.5 610.8 L152.7 610.3 L152.9 609.9 L153 609.4 L153.2 608.9 L153.4 608.5 L153.5 608 L153.7 607.5 L153.9 607 L154 606.6 L154.2 606.1 L154.3 605.6 L154.5 605.2 L154.7 604.7 L154.8 604.2 L155 603.7 L155.2 603.3 L155.3 602.8 L155.5 602.3 L155.7 601.9 L155.8 601.4 L156 600.9 L156.2 600.4 L156.3 600 L156.5 599.5 L156.7 599 L156.8 598.6 L157 598.1 L157.2 597.6 L157.3 597.1 L157.5 596.7 L157.7 596.2 L157.8 595.7 L158 595.2 L158.2 594.8 L158.3 594.3 L158.5 593.8 L158.7 593.4 L158.8 592.9 L159 592.4 L159.1 591.9 L159.3 591.5 L159.5 591 L159.6 590.5 L159.8 590 L159.9 589.6 L160.1 589.1 L160.3 588.6 L160.4 588.1 L160.6 587.7 L160.7 587.2 L160.9 586.7 L161 586.3 L161.2 585.8 L161.4 585.3 L161.5 584.8 L161.7 584.3 L161.8 583.9 L162 583.4 L162.1 582.9 L162.3 582.4 L162.4 582 L162.6 581.5 L162.7 581 L162.9 580.5 L163 580.1 L163.1 579.6 L163.3 579.1 L163.4 578.6 L163.6 578.1 L163.7 577.7 L163.9 577.2 L164 576.7 L164.1 576.2 L164.3 575.7 L164.4 575.3 L164.6 574.8 L164.7 574.3 L164.9 573.8 L165 573.3 L165.1 572.9 L165.3 572.4 L165.4 571.9 L165.6 571.4 L165.7 571 L165.9 570.5 L166 570 L166.2 569.5 L166.3 569 L166.4 568.6 L166.6 568.1 L166.7 567.6 L166.9 567.1 L167 566.7 L167.2 566.2 L167.4 565.7 L167.5 565.2 L167.7 564.8 L167.8 564.3 L168 563.8 L168.1 563.3 L168.3 562.9 L168.5 562.4 L168.6 561.9 L168.8 561.4 L169 561 L169.1 560.5 L169.3 560 L169.5 559.6 L169.7 559.1 L169.8 558.6 L170 558.2 L170.2 557.7 L170.4 557.2 L170.6 556.8 L170.8 556.3 L170.9 555.9 L171.1 555.4 L171.3 554.9 L171.5 554.5 L171.7 554 L171.9 553.6 L172.1 553.1 L172.3 552.7 L172.5 552.2 L172.7 551.8 L172.9 551.3 L173.2 550.9 L173.4 550.4 L173.6 550 L173.8 549.6 L174 549.1 L174.3 548.7 L174.5 548.3 L174.7 547.8 L175 547.4 L175.2 547 L175.4 546.6 L175.7 546.2 L175.9 545.8 L176.2 545.4 L176.5 545 L176.8 544.6 L177.1 544.2 L177.4 543.9 L177.7 543.5 L178 543.2 L178.4 542.9 L178.7 542.6 L179.1 542.3 L179.5 542.1 L179.9 541.9 L180.3 541.8 L180.7 541.7 L181.2 541.7 L181.6 541.7 L182 541.8 L182.5 541.9 L182.9 542 L183.3 542.2 L183.8 542.4 L184.2 542.6 L184.6 542.8 L185 543.1 L185.4 543.3 L185.8 543.6 L186.1 543.9 L186.5 544.2 L186.8 544.5 L187.2 544.9 L187.5 545.2 L187.8 545.6 L188.1 545.9 L188.4 546.3 L188.7 546.7 L189 547.1 L189.3 547.5 L189.6 547.9 L189.8 548.3 L190.1 548.7 L190.4 549.1 L190.6 549.5 L190.8 550 L191.1 550.4 L191.3 550.8 L191.6 551.2 L191.8 551.7 L192 552.1 L192.2 552.6 L192.4 553 L192.7 553.5 L192.9 553.9 L193.1 554.4 L193.3 554.8 L193.5 555.3 L193.7 555.7 L193.8 556.2 L194 556.6 L194.2 557.1 L194.4 557.6 L194.6 558 L194.8 558.5 L194.9 559 L195.1 559.4 L195.3 559.9 L195.5 560.4 L195.6 560.8 L195.8 561.3 L196 561.8 L196.1 562.3 L196.3 562.7 L196.5 563.2 L196.6 563.7 L196.8 564.1 L197 564.6 L197.1 565.1 L197.3 565.6 L197.4 566 L197.6 566.5 L197.8 567 L197.9 567.4 L198.1 567.9 L198.2 568.4 L198.4 568.9 L198.6 569.3 L198.7 569.8 L198.9 570.3 L199 570.8 L199.2 571.2 L199.4 571.7 L199.5 572.2 L199.7 572.7 L199.8 573.1 L200 573.6 L200.1 574.1 L200.3 574.6 L200.4 575 L200.6 575.5 L200.7 576 L200.9 576.5 L201.1 576.9 L201.2 577.4 L201.4 577.9 L201.5 578.4 L201.7 578.9 L201.8 579.3 L202 579.8 L202.1 580.3 L202.3 580.8 L202.4 581.2 L202.6 581.7 L202.7 582.2 L202.8 582.7 L203 583.1 L203.1 583.6 L203.3 584.1 L203.4 584.6 L203.6 585.1 L203.7 585.5 L203.9 586 L204 586.5 L204.2 587 L204.3 587.5 L204.5 587.9 L204.6 588.4 L204.8 588.9 L204.9 589.4 L205.1 589.8 L205.2 590.3 L205.3 590.8 L205.5 591.3 L205.6 591.8 L205.8 592.2 L205.9 592.7 L206.1 593.2 L206.2 593.7 L206.4 594.1 L206.5 594.6 L206.7 595.1 L206.8 595.6 L207 596.1 L207.1 596.5 L207.3 597 L207.4 597.5 L207.5 598 L207.7 598.4 L207.8 598.9 L208 599.4 L208.1 599.9 L208.3 600.4 L208.4 600.8 L208.6 601.3 L208.7 601.8 L208.9 602.3 L209.1 602.7 L209.2 603.2 L209.4 603.7 L209.5 604.2 L209.7 604.6 L209.8 605.1 L210 605.6 L210.1 606.1 L210.3 606.5 L210.5 607 L210.6 607.5 L210.8 608 L210.9 608.4 L211.1 608.9 L211.3 609.4 L211.4 609.9 L211.6 610.3 L211.7 610.8 L211.9 611.3 L212.1 611.7 L212.2 612.2 L212.4 612.7 L212.6 613.2 L212.7 613.6 L212.9 614.1 L213 614.6 L213.2 615 L213.4 615.5 L213.5 616 L213.7 616.5 L213.9 616.9 L214 617.4 L214.2 617.9 L214.4 618.4 L214.5 618.8 L214.7 619.3 L214.9 619.8 L215 620.2 L215.2 620.7 L215.4 621.2 L215.5 621.6 L215.7 622.1 L215.9 622.6 L216 623.1 L216.2 623.5 L216.4 624 L216.6 624.5 L216.7 624.9 L216.9 625.4 L217.1 625.9 L217.2 626.4 L217.4 626.8 L217.6 627.3 L217.7 627.8 L217.9 628.2 L218.1 628.7 L218.2 629.2 L218.4 629.6 L218.6 630.1 L218.8 630.6 L218.9 631.1 L219.1 631.5 L219.3 632 L219.4 632.5 L219.6 632.9 L219.8 633.4 L220 633.9 L220.1 634.3 L220.3 634.8 L220.5 635.3 L220.6 635.8 L220.8 636.2 L221 636.7 L221.2 637.2 L221.3 637.6 L221.5 638.1 L221.7 638.6 L221.9 639 L222 639.5 L222.2 640 L222.4 640.4 L222.5 640.9 L222.7 641.4 L222.9 641.9 L223.1 642.3 L223.2 642.8 L223.4 643.3 L223.6 643.7 L223.7 644.2 L223.9 644.7 L224.1 645.1 L224.3 645.6 L224.4 646.1 L224.6 646.5 L224.8 647 L225 647.5 L225.1 648 L225.3 648.4 L225.5 648.9 L225.6 649.4 L225.8 649.8 L226 650.3 L226.2 650.8 L226.3 651.2 L226.5 651.7 L226.7 652.2 L226.8 652.7 L227 653.1 L227.2 653.6 L227.4 654.1 L227.5 654.5 L227.7 655 L227.9 655.5 L228 655.9 L228.2 656.4 L228.4 656.9 L228.5 657.4 L228.7 657.8 L228.9 658.3 L229 658.8 L229.2 659.2 L229.4 659.7 L229.6 660.2 L229.7 660.7 L229.9 661.1 L230.1 661.6 L230.2 662.1 L230.4 662.5 L230.6 663 L230.7 663.5 L230.9 664 L231 664.4 L231.2 664.9 L231.4 665.4 L231.5 665.8 L231.7 666.3 L231.9 666.8 L232 667.3 L232.2 667.7 L232.4 668.2 L232.5 668.7 L232.7 669.2 L232.8 669.6 L233 670.1 L233.2 670.6 L233.3 671 L233.5 671.5 L233.6 672 L233.8 672.5 L233.9 672.9 L234.1 673.4 L234.3 673.9 L234.4 674.4 L234.6 674.8 L234.7 675.3 L234.9 675.8 L235 676.3 L235.2 676.7 L235.3 677.2 L235.5 677.7 L235.6 678.2 L235.8 678.7 L235.9 679.1 L236.1 679.6 L236.2 680.1 L236.4 680.6 L236.5 681 L236.7 681.5 L236.8 682 L237 682.5 L237.1 682.9 L237.3 683.4 L237.4 683.9 L237.6 684.4 L237.7 684.9 L237.9 685.3 L238 685.8 L238.2 686.3 L238.3 686.8 L238.5 687.2 L238.6 687.7 L238.8 688.2 L238.9 688.7 L239.1 689.2 L239.2 689.6 L239.4 690.1 L239.5 690.6 L239.7 691.1 L239.8 691.5 L240 692 L240.1 692.5 L240.3 693 L240.5 693.4 L240.6 693.9 L240.8 694.4 L240.9 694.9 L241.1 695.3 L241.3 695.8 L241.4 696.3 L241.6 696.7 L241.8 697.2 L241.9 697.7 L242.1 698.2 L242.3 698.6 L242.4 699.1 L242.6 699.6 L242.8 700 L243 700.5 L243.1 701 L243.3 701.4 L243.5 701.9 L243.7 702.4 L243.9 702.8 L244 703.3 L244.2 703.8 L244.4 704.2 L244.6 704.7 L244.8 705.2 L245 705.6 L245.2 706.1 L245.4 706.5 L245.5 707 L245.7 707.5 L245.9 707.9 L246.1 708.4 L246.3 708.8 L246.5 709.3 L246.7 709.8 L246.9 710.2 L247.1 710.7 L247.3 711.1 L247.5 711.6 L247.7 712 L247.9 712.5 L248.1 713 L248.3 713.4 L248.5 713.9 L248.7 714.3 L248.9 714.8 L249.1 715.3 L249.3 715.7 L249.5 716.2 L249.7 716.6 L250 717.1 L250.2 717.5 L250.4 718 L250.6 718.4 L250.8 718.9 L251 719.3 L251.2 719.8 L251.4 720.3 L251.6 720.7 L251.8 721.2 L252 721.6 L252.3 722.1 L252.5 722.5 L252.7 723 L252.9 723.4 L253.1 723.9 L253.3 724.3 L253.6 724.8 L253.8 725.2 L254 725.7 L254.2 726.1 L254.5 726.5 L254.7 727 L254.9 727.4 L255.2 727.9 L255.4 728.3 L255.6 728.8 L255.9 729.2 L256.1 729.6 L256.3 730.1 L256.6 730.5 L256.8 731 L257.1 731.4 L257.3 731.8 L257.6 732.3 L257.8 732.7 L258 733.1 L258.3 733.6 L258.5 734 L258.8 734.4 L259.1 734.9 L259.3 735.3 L259.6 735.7 L259.8 736.1 L260.1 736.6 L260.3 737 L260.6 737.4 L260.8 737.9 L261.1 738.3 L261.4 738.7 L261.6 739.1 L261.9 739.6 L262.2 740 L262.4 740.4 L262.7 740.8 L263 741.3 L263.2 741.7 L263.5 742.1 L263.8 742.5 L264 742.9 L264.3 743.4 L264.6 743.8 L264.9 744.2 L265.1 744.6 L265.4 745 L265.7 745.5 L266 745.9 L266.2 746.3 L266.5 746.7 L266.8 747.1 L267.1 747.5 L267.3 747.9 L267.6 748.4 L267.9 748.8 L268.2 749.2 L268.5 749.6 L268.8 750 L269.1 750.4 L269.4 750.8 L269.7 751.2 L269.9 751.6 L270.2 752 L270.5 752.4 L270.8 752.8 L271.1 753.2 L271.4 753.6 L271.7 754 L272 754.4 L272.3 754.8 L272.6 755.2 L272.9 755.6 L273.3 756 L273.6 756.4 L273.9 756.8 L274.2 757.2 L274.5 757.6 L274.8 758 L275.1 758.3 L275.4 758.7 L275.8 759.1 L276.1 759.5 L276.4 759.9 L276.7 760.3 L277 760.7 L277.3 761 L277.7 761.4 L278 761.8 L278.3 762.2 L278.6 762.6 L278.9 763 L279.3 763.3 L279.6 763.7 L279.9 764.1 L280.2 764.5 L280.6 764.9 L280.9 765.3 L281.2 765.6 L281.5 766 L281.9 766.4 L282.2 766.8 L282.5 767.1 L282.8 767.5 L283.2 767.9 L283.5 768.3 L283.8 768.6 L284.2 769 L284.5 769.4 L284.8 769.7 L285.2 770.1 L285.5 770.5 L285.9 770.8 L286.2 771.2 L286.6 771.6 L286.9 771.9 L287.3 772.3 L287.6 772.6 L288 772.9 L288.3 773.3 L288.7 773.6 L289.1 773.9 L289.4 774.3 L289.8 774.6 L290.2 774.9 L290.6 775.2 L291 775.5 L291.4 775.8 L291.8 776.1 L292.2 776.4 L292.6 776.7 L293 777 L293.4 777.3 L293.8 777.6 L294.2 777.8 L294.6 778.1 L295 778.4 L295.4 778.6 L295.9 778.9 L296.3 779.2 L296.7 779.4 L297.2 779.7 L297.6 779.9 L298 780.2 L298.5 780.4 L298.9 780.6 L299.3 780.9 L299.8 781.1 L300.2 781.4 L300.6 781.6 L301.1 781.8 L301.5 782.1 L302 782.3 L302.4 782.5 L302.9 782.8 L303.3 783 L303.7 783.2 L304.2 783.5 L304.6 783.7 L305 784 L305.5 784.2 L305.9 784.4 L306.4 784.7 L306.8 784.9 L307.2 785.2 L307.7 785.4 L308.1 785.7 L308.5 785.9 L308.9 786.2 L309.4 786.5 L309.8 786.7 L310.2 787 L310.6 787.2 L311 787.5 L311.5 787.8 L311.9 788.1 L312.3 788.3 L312.7 788.6 L313.1 788.9 L313.5 789.2 L313.9 789.5 L314.3 789.8 L314.8 790.1 L315.2 790.3 L315.6 790.6 L316 790.9 L316.4 791.2 L316.8 791.5 L317.2 791.8 L317.6 792.1 L318 792.4 L318.4 792.7 L318.8 793 L319.2 793.3 L319.6 793.6 L320 793.8 L320.4 794.1 L320.8 794.4 L321.2 794.7 L321.6 795 L322.1 795.3 L322.5 795.6 L322.9 795.9 L323.3 796.1 L323.7 796.4 L324.1 796.7 L324.5 797 L324.9 797.3 L325.4 797.5 L325.8 797.8 L326.2 798.1 L326.6 798.4 L327 798.6 L327.5 798.9 L327.9 799.2 L328.3 799.4 L328.7 799.7 L329.2 800 L329.6 800.2 L330 800.5 L330.4 800.7 L330.9 801 L331.3 801.2 L331.7 801.5 L332.2 801.7 L332.6 802 L333 802.2 L333.5 802.5 L333.9 802.7 L334.3 803 L334.8 803.2 L335.2 803.4 L335.7 803.7 L336.1 803.9 L336.5 804.2 L337 804.4 L337.4 804.6 L337.9 804.8 L338.3 805.1 L338.8 805.3 L339.2 805.5 L339.6 805.7 L340.1 806 L340.5 806.2 L341 806.4 L341.4 806.6 L341.9 806.8 L342.3 807 L342.8 807.3 L343.2 807.5 L343.7 807.7 L344.2 807.9 L344.6 808.1 L345.1 808.3 L345.5 808.5 L346 808.7 L346.4 808.9 L346.9 809.1 L347.4 809.3 L347.8 809.5 L348.3 809.7 L348.7 809.9 L349.2 810.1 L349.7 810.3 L350.1 810.4 L350.6 810.6 L351.1 810.8 L351.5 811 L352 811.2 L352.5 811.4 L352.9 811.5 L353.4 811.7 L353.9 811.9 L354.3 812.1 L354.8 812.2 L355.3 812.4 L355.7 812.6 L356.2 812.7 L356.7 812.9 L357.2 813 L357.6 813.2 L358.1 813.4 L358.6 813.5 L359 813.7 L359.5 813.8 L360 814 L360.5 814.1 L361 814.3 L361.4 814.4 L361.9 814.6 L362.4 814.7 L362.9 814.9 L363.3 815 L363.8 815.2 L364.3 815.3 L364.8 815.4 L365.3 815.6 L365.7 815.7 L366.2 815.9 L366.7 816 L367.2 816.1 L367.7 816.3 L368.1 816.4 L368.6 816.5 L369.1 816.6 L369.6 816.8 L370.1 816.9 L370.6 817 L371 817.2 L371.5 817.3 L372 817.4 L372.5 817.5 L373 817.6 L373.5 817.8 L374 817.9 L374.4 818 L374.9 818.1 L375.4 818.2 L375.9 818.3 L376.4 818.5 L376.9 818.6 L377.4 818.7 L377.8 818.8 L378.3 818.9 L378.8 819 L379.3 819.1 L379.8 819.2 L380.3 819.3 L380.8 819.4 L381.3 819.5 L381.8 819.6 L382.3 819.7 L382.7 819.8 L383.2 819.9 L383.7 820 L384.2 820.1 L384.7 820.2 L385.2 820.3 L385.7 820.4 L386.2 820.4 L386.7 820.5 L387.2 820.6 L387.7 820.7 L388.2 820.8 L388.6 820.8 L389.1 820.9 L389.6 821 L390.1 821.1 L390.6 821.2 L391.1 821.2 L391.6 821.3 L392.1 821.4 L392.6 821.5 L393.1 821.5 L393.6 821.6 L394.1 821.7 L394.6 821.7 L395.1 821.8 L395.6 821.9 L396.1 821.9 L396.6 822 L397.1 822.1 L397.6 822.1 L398 822.2 L398.5 822.3 L399 822.3 L399.5 822.4 L400 822.5 L400.5 822.6 L401 822.6 L401.5 822.7 L402 822.8 L402.5 822.8 L403 822.9 L403.5 823 L404 823 L404.5 823.1 L405 823.2 L405.5 823.2 L406 823.3 L406.5 823.4 L407 823.4 L407.5 823.5 L408 823.6 L408.4 823.7 L408.9 823.7 L409.4 823.8 L409.9 823.9 L410.4 823.9 L410.9 824 L411.4 824.1 L411.9 824.1 L412.4 824.2 L412.9 824.3 L413.4 824.3 L413.9 824.4 L414.4 824.5 L414.9 824.5 L415.4 824.6 L415.9 824.7 L416.4 824.7 L416.9 824.8 L417.4 824.8 L417.9 824.9 L418.4 824.9 L418.9 825 L419.4 825.1 L419.8 825.1 L420.3 825.2 L420.8 825.2 L421.3 825.3 L421.8 825.3 L422.3 825.4 L422.8 825.4 L423.3 825.5 L423.8 825.5 L424.3 825.6 L424.8 825.6 L425.3 825.7 L425.8 825.7 L426.3 825.8 L426.8 825.8 L427.3 825.9 L427.8 825.9 L428.3 826 L428.8 826 L429.3 826.1 L429.8 826.1 L430.3 826.2 L430.8 826.2 L431.3 826.3 L431.8 826.3 L432.3 826.4 L432.8 826.4 L433.3 826.5 L433.8 826.5 L434.3 826.6 L434.8 826.6 L435.3 826.7 L435.8 826.7 L436.3 826.8 L436.8 826.8 L437.3 826.8 L437.8 826.9 L438.3 826.9 L438.8 827 L439.3 827 L439.8 827.1 L440.3 827.1 L440.7 827.1 L441.2 827.2 L441.7 827.2 L442.2 827.3 L442.7 827.3 L443.2 827.3 L443.7 827.4 L444.2 827.4 L444.7 827.4 L445.2 827.5 L445.7 827.5 L446.2 827.6 L446.7 827.6 L447.2 827.6 L447.7 827.7 L448.2 827.7 L448.7 827.7 L449.2 827.7 L449.7 827.8 L450.2 827.8 L450.7 827.8 L451.2 827.9 L451.7 827.9 L452.2 827.9 L452.7 827.9 L453.2 828 L453.7 828 L454.2 828 L454.7 828.1 L455.2 828.1 L455.7 828.1 L456.2 828.1 L456.7 828.2 L457.2 828.2 L457.7 828.2 L458.2 828.2 L458.7 828.3 L459.2 828.3 L459.7 828.3 L460.2 828.3 L460.7 828.4 L461.2 828.4 L461.7 828.4 L462.2 828.4 L462.7 828.5 L463.2 828.5 L463.7 828.5 L464.2 828.5 L464.7 828.5 L465.2 828.6 L465.7 828.6 L466.2 828.6 L466.7 828.6 L467.2 828.7 L467.7 828.7 L468.2 828.7 L468.7 828.7 L469.2 828.8 L469.7 828.8 L470.2 828.8 L470.7 828.8 L471.2 828.8 L471.7 828.9 L472.2 828.9 L472.7 828.9 L473.2 828.9 L473.7 828.9 L474.2 829 L474.7 829 L475.2 829 L475.7 829 L476.2 829 L476.7 829.1 L477.2 829.1 L477.7 829.1 L478.2 829.1 L478.7 829.1 L479.2 829.2 L479.7 829.2 L480.2 829.2 L480.7 829.2 L481.2 829.2 L481.7 829.2 L482.2 829.3 L482.7 829.3 L483.2 829.3 L483.7 829.3 L484.2 829.3 L484.7 829.3 L485.2 829.3 L485.7 829.4 L486.2 829.4 L486.7 829.4 L487.2 829.4 L487.7 829.4 L488.2 829.4 L488.7 829.5 L489.2 829.5 L489.7 829.5 L490.2 829.5 L490.7 829.5 L491.2 829.5 L491.7 829.5 L492.2 829.6 L492.7 829.6" stroke="#e2211c"/>
<path d="M109.3 741.1 L109.6 740.6 L109.9 740.2 L110.1 739.8 L110.4 739.3 L110.7 738.9 L110.9 738.5 L111.2 738.1 L111.4 737.6 L111.7 737.2 L112 736.8 L112.2 736.4 L112.5 735.9 L112.7 735.5 L113 735.1 L113.3 734.7 L113.5 734.2 L113.8 733.8 L114.1 733.4 L114.3 733 L114.6 732.5 L114.9 732.1 L115.1 731.7 L115.4 731.3 L115.7 730.9 L115.9 730.4 L116.2 730 L116.5 729.6 L116.7 729.2 L117 728.7 L117.3 728.3 L117.6 727.9 L117.8 727.5 L118.1 727.1 L118.4 726.6 L118.6 726.2 L118.9 725.8 L119.2 725.4 L119.4 724.9 L119.7 724.5 L119.9 724.1 L120.2 723.7 L120.5 723.2 L120.7 722.8 L121 722.4 L121.2 722 L121.5 721.5 L121.7 721.1 L122 720.7 L122.2 720.2 L122.5 719.8 L122.7 719.3 L122.9 718.9 L123.2 718.5 L123.4 718 L123.6 717.6 L123.9 717.1 L124.1 716.7 L124.3 716.3 L124.5 715.8 L124.8 715.4 L125 714.9 L125.2 714.5 L125.4 714 L125.6 713.6 L125.8 713.1 L126 712.6 L126.2 712.2 L126.5 711.7 L126.7 711.3 L126.9 710.8 L127.1 710.4 L127.3 709.9 L127.5 709.5 L127.7 709 L127.9 708.6 L128.1 708.1 L128.3 707.6 L128.5 707.2 L128.7 706.7 L128.9 706.3 L129.1 705.8 L129.3 705.3 L129.5 704.9 L129.7 704.4 L129.9 704 L130.1 703.5 L130.3 703.1 L130.5 702.6 L130.7 702.1 L130.9 701.7 L131.1 701.2 L131.3 700.8 L131.5 700.3 L131.7 699.8 L131.9 699.4 L132.1 698.9 L132.3 698.5 L132.5 698 L132.7 697.5 L132.8 697.1 L133 696.6 L133.2 696.2 L133.4 695.7 L133.6 695.2 L133.8 694.8 L134 694.3 L134.2 693.9 L134.4 693.4 L134.6 692.9 L134.8 692.5 L135 692 L135.2 691.5 L135.4 691.1 L135.5 690.6 L135.7 690.2 L135.9 689.7 L136.1 689.2 L136.3 688.8 L136.5 688.3 L136.7 687.8 L136.9 687.4 L137.1 686.9 L137.2 686.5 L137.4 686 L137.6 685.5 L137.8 685.1 L138 684.6 L138.2 684.1 L138.4 683.7 L138.5 683.2 L138.7 682.7 L138.9 682.3 L139.1 681.8 L139.3 681.3 L139.5 680.9 L139.6 680.4 L139.8 679.9 L140 679.5 L140.2 679 L140.4 678.5 L140.5 678.1 L140.7 677.6 L140.9 677.1 L141.1 676.7 L141.3 676.2 L141.4 675.7 L141.6 675.3 L141.8 674.8 L142 674.3 L142.1 673.9 L142.3 673.4 L142.5 672.9 L142.6 672.5 L142.8 672 L143 671.5 L143.2 671.1 L143.3 670.6 L143.5 670.1 L143.7 669.6 L143.8 669.2 L144 668.7 L144.2 668.2 L144.3 667.8 L144.5 667.3 L144.7 666.8 L144.8 666.3 L145 665.9 L145.1 665.4 L145.3 664.9 L145.5 664.4 L145.6 664 L145.8 663.5 L145.9 663 L146.1 662.5 L146.2 662.1 L146.4 661.6 L146.6 661.1 L146.7 660.6 L146.9 660.2 L147 659.7 L147.2 659.2 L147.3 658.7 L147.5 658.3 L147.6 657.8 L147.8 657.3 L147.9 656.8 L148 656.3 L148.2 655.9 L148.3 655.4 L148.5 654.9 L148.6 654.4 L148.8 654 L148.9 653.5 L149 653 L149.2 652.5 L149.3 652 L149.5 651.6 L149.6 651.1 L149.7 650.6 L149.9 650.1 L150 649.6 L150.2 649.2 L150.3 648.7 L150.4 648.2 L150.6 647.7 L150.7 647.2 L150.9 646.7 L151 646.3 L151.1 645.8 L151.3 645.3 L151.4 644.8 L151.5 644.3 L151.7 643.9 L151.8 643.4 L152 642.9 L152.1 642.4 L152.2 641.9 L152.4 641.5 L152.5 641 L152.6 640.5 L152.8 640 L152.9 639.5 L153 639.1 L153.2 638.6 L153.3 638.1 L153.4 637.6 L153.6 637.1 L153.7 636.6 L153.9 636.2 L154 635.7 L154.1 635.2 L154.3 634.7 L154.4 634.2 L154.5 633.8 L154.7 633.3 L154.8 632.8 L154.9 632.3 L155.1 631.8 L155.2 631.3 L155.3 630.9 L155.4 630.4 L155.6 629.9 L155.7 629.4 L155.8 628.9 L156 628.4 L156.1 628 L156.2 627.5 L156.3 627 L156.5 626.5 L156.6 626 L156.7 625.5 L156.8 625.1 L157 624.6 L157.1 624.1 L157.2 623.6 L157.3 623.1 L157.4 622.6 L157.6 622.2 L157.7 621.7 L157.8 621.2 L157.9 620.7 L158 620.2 L158.2 619.7 L158.3 619.2 L158.4 618.8 L158.5 618.3 L158.6 617.8 L158.7 617.3 L158.9 616.8 L159 616.3 L159.1 615.8 L159.2 615.3 L159.3 614.9 L159.4 614.4 L159.5 613.9 L159.7 613.4 L159.8 612.9 L159.9 612.4 L160 611.9 L160.1 611.5 L160.2 611 L160.3 610.5 L160.5 610 L160.6 609.5 L160.7 609 L160.8 608.5 L160.9 608 L161 607.6 L161.2 607.1 L161.3 606.6 L161.4 606.1 L161.5 605.6 L161.6 605.1 L161.8 604.6 L161.9 604.2 L162 603.7 L162.1 603.2 L162.2 602.7 L162.4 602.2 L162.5 601.7 L162.6 601.3 L162.8 600.8 L162.9 600.3 L163 599.8 L163.1 599.3 L163.3 598.8 L163.4 598.4 L163.5 597.9 L163.7 597.4 L163.8 596.9 L164 596.4 L164.1 596 L164.2 595.5 L164.4 595 L164.5 594.5 L164.7 594 L164.8 593.6 L164.9 593.1 L165.1 592.6 L165.2 592.1 L165.4 591.7 L165.5 591.2 L165.7 590.7 L165.8 590.2 L166 589.7 L166.1 589.3 L166.3 588.8 L166.4 588.3 L166.6 587.8 L166.7 587.4 L166.9 586.9 L167 586.4 L167.2 585.9 L167.3 585.5 L167.5 585 L167.6 584.5 L167.8 584 L168 583.5 L168.1 583.1 L168.3 582.6 L168.4 582.1 L168.6 581.6 L168.7 581.2 L168.9 580.7 L169 580.2 L169.2 579.7 L169.3 579.3 L169.5 578.8 L169.6 578.3 L169.8 577.8 L170 577.4 L170.1 576.9 L170.3 576.4 L170.4 575.9 L170.6 575.5 L170.7 575 L170.9 574.5 L171.1 574 L171.2 573.6 L171.4 573.1 L171.5 572.6 L171.7 572.2 L171.9 571.7 L172 571.2 L172.2 570.7 L172.4 570.3 L172.5 569.8 L172.7 569.3 L172.9 568.8 L173 568.4 L173.2 567.9 L173.4 567.4 L173.5 567 L173.7 566.5 L173.9 566 L174.1 565.6 L174.2 565.1 L174.4 564.6 L174.6 564.2 L174.8 563.7 L175 563.2 L175.1 562.8 L175.3 562.3 L175.5 561.8 L175.7 561.4 L175.9 560.9 L176.1 560.5 L176.3 560 L176.5 559.5 L176.7 559.1 L176.9 558.6 L177.1 558.2 L177.3 557.7 L177.5 557.2 L177.7 556.8 L177.9 556.3 L178.1 555.9 L178.3 555.4 L178.5 555 L178.7 554.5 L179 554.1 L179.2 553.7 L179.4 553.2 L179.6 552.8 L179.9 552.3 L180.1 551.9 L180.3 551.5 L180.6 551 L180.8 550.6 L181.1 550.2 L181.3 549.8 L181.6 549.3 L181.8 548.9 L182.1 548.5 L182.4 548.1 L182.6 547.7 L182.9 547.3 L183.2 546.9 L183.5 546.5 L183.8 546.1 L184.1 545.7 L184.4 545.4 L184.7 545 L185 544.7 L185.3 544.3 L185.7 544 L186 543.6 L186.3 543.3 L186.7 543 L187.1 542.7 L187.5 542.5 L187.9 542.3 L188.3 542.1 L188.7 541.9 L189.1 541.8 L189.6 541.7 L190 541.7 L190.4 541.7 L190.9 541.7 L191.3 541.8 L191.8 541.9 L192.2 542.1 L192.7 542.2 L193.1 542.4 L193.5 542.7 L193.9 542.9 L194.3 543.2 L194.7 543.4 L195 543.7 L195.4 544.1 L195.7 544.4 L196.1 544.7 L196.4 545.1 L196.7 545.4 L197 545.8 L197.3 546.2 L197.6 546.6 L197.9 547 L198.2 547.3 L198.5 547.7 L198.7 548.1 L199 548.5 L199.3 548.9 L199.5 549.4 L199.8 549.8 L200.1 550.2 L200.3 550.6 L200.6 551 L200.8 551.5 L201.1 551.9 L201.3 552.3 L201.6 552.7 L201.8 553.2 L202 553.6 L202.3 554.1 L202.5 554.5 L202.7 554.9 L203 555.4 L203.2 555.8 L203.4 556.3 L203.6 556.7 L203.8 557.2 L204 557.6 L204.3 558.1 L204.5 558.5 L204.7 559 L204.9 559.4 L205.1 559.9 L205.3 560.4 L205.5 560.8 L205.7 561.3 L205.9 561.7 L206.1 562.2 L206.3 562.7 L206.4 563.1 L206.6 563.6 L206.8 564 L207 564.5 L207.2 565 L207.4 565.4 L207.6 565.9 L207.8 566.4 L207.9 566.8 L208.1 567.3 L208.3 567.8 L208.5 568.2 L208.6 568.7 L208.8 569.2 L209 569.6 L209.2 570.1 L209.3 570.6 L209.5 571 L209.7 571.5 L209.9 572 L210 572.4 L210.2 572.9 L210.4 573.4 L210.5 573.9 L210.7 574.3 L210.9 574.8 L211 575.3 L211.2 575.7 L211.4 576.2 L211.5 576.7 L211.7 577.2 L211.9 577.6 L212 578.1 L212.2 578.6 L212.3 579.1 L212.5 579.5 L212.7 580 L212.8 580.5 L213 580.9 L213.1 581.4 L213.3 581.9 L213.5 582.4 L213.6 582.8 L213.8 583.3 L213.9 583.8 L214.1 584.3 L214.2 584.7 L214.4 585.2 L214.5 585.7 L214.7 586.2 L214.9 586.7 L215 587.1 L215.2 587.6 L215.3 588.1 L215.5 588.6 L215.6 589 L215.8 589.5 L215.9 590 L216.1 590.5 L216.2 590.9 L216.4 591.4 L216.5 591.9 L216.7 592.4 L216.8 592.8 L217 593.3 L217.1 593.8 L217.3 594.3 L217.4 594.8 L217.6 595.2 L217.7 595.7 L217.9 596.2 L218 596.7 L218.2 597.1 L218.3 597.6 L218.5 598.1 L218.6 598.6 L218.8 599 L218.9 599.5 L219.1 600 L219.2 600.5 L219.4 600.9 L219.6 601.4 L219.7 601.9 L219.9 602.4 L220 602.8 L220.2 603.3 L220.4 603.8 L220.5 604.2 L220.7 604.7 L220.9 605.2 L221 605.7 L221.2 606.1 L221.4 606.6 L221.6 607.1 L221.7 607.5 L221.9 608 L222.1 608.5 L222.2 608.9 L222.4 609.4 L222.6 609.9 L222.8 610.3 L222.9 610.8 L223.1 611.3 L223.3 611.8 L223.5 612.2 L223.6 612.7 L223.8 613.2 L224 613.6 L224.1 614.1 L224.3 614.6 L224.5 615 L224.6 615.5 L224.8 616 L225 616.5 L225.1 616.9 L225.3 617.4 L225.4 617.9 L225.6 618.4 L225.7 618.8 L225.9 619.3 L226 619.8 L226.2 620.3 L226.3 620.7 L226.4 621.2 L226.6 621.7 L226.7 622.2 L226.8 622.7 L227 623.1 L227.1 623.6 L227.2 624.1 L227.3 624.6 L227.5 625.1 L227.6 625.6 L227.7 626.1 L227.8 626.5 L227.9 627 L228 627.5 L228.2 628 L228.3 628.5 L228.4 629 L228.5 629.5 L228.6 629.9 L228.7 630.4 L228.8 630.9 L228.9 631.4 L229 631.9 L229.1 632.4 L229.3 632.9 L229.4 633.4 L229.5 633.9 L229.6 634.3 L229.7 634.8 L229.8 635.3 L229.9 635.8 L230 636.3 L230.1 636.8 L230.2 637.3 L230.4 637.8 L230.5 638.2 L230.6 638.7 L230.7 639.2 L230.8 639.7 L230.9 640.2 L231 640.7 L231.2 641.2 L231.3 641.6 L231.4 642.1 L231.5 642.6 L231.6 643.1 L231.8 643.6 L231.9 644.1 L232 644.6 L232.1 645 L232.3 645.5 L232.4 646 L232.5 646.5 L232.6 647 L232.8 647.5 L232.9 647.9 L233 648.4 L233.1 648.9 L233.3 649.4 L233.4 649.9 L233.5 650.4 L233.7 650.8 L233.8 651.3 L233.9 651.8 L234.1 652.3 L234.2 652.8 L234.3 653.2 L234.5 653.7 L234.6 654.2 L234.7 654.7 L234.9 655.2 L235 655.6 L235.2 656.1 L235.3 656.6 L235.4 657.1 L235.6 657.6 L235.7 658.1 L235.9 658.5 L236 659 L236.1 659.5 L236.3 660 L236.4 660.4 L236.6 660.9 L236.7 661.4 L236.9 661.9 L237 662.4 L237.1 662.8 L237.3 663.3 L237.4 663.8 L237.6 664.3 L237.7 664.8 L237.9 665.2 L238 665.7 L238.2 666.2 L238.3 666.7 L238.5 667.1 L238.6 667.6 L238.8 668.1 L238.9 668.6 L239.1 669 L239.2 669.5 L239.4 670 L239.6 670.5 L239.7 670.9 L239.9 671.4 L240 671.9 L240.2 672.4 L240.3 672.8 L240.5 673.3 L240.7 673.8 L240.8 674.3 L241 674.7 L241.1 675.2 L241.3 675.7 L241.5 676.2 L241.6 676.6 L241.8 677.1 L242 677.6 L242.1 678 L242.3 678.5 L242.5 679 L242.6 679.5 L242.8 679.9 L243 680.4 L243.1 680.9 L243.3 681.3 L243.5 681.8 L243.7 682.3 L243.8 682.7 L244 683.2 L244.2 683.7 L244.3 684.2 L244.5 684.6 L244.7 685.1 L244.9 685.6 L245.1 686 L245.2 686.5 L245.4 687 L245.6 687.4 L245.8 687.9 L245.9 688.4 L246.1 688.8 L246.3 689.3 L246.5 689.8 L246.7 690.2 L246.8 690.7 L247 691.2 L247.2 691.6 L247.4 692.1 L247.6 692.6 L247.8 693 L247.9 693.5 L248.1 693.9 L248.3 694.4 L248.5 694.9 L248.7 695.3 L248.9 695.8 L249 696.3 L249.2 696.7 L249.4 697.2 L249.6 697.7 L249.8 698.1 L250 698.6 L250.2 699.1 L250.3 699.5 L250.5 700 L250.7 700.4 L250.9 700.9 L251.1 701.4 L251.3 701.8 L251.5 702.3 L251.7 702.8 L251.9 703.2 L252 703.7 L252.2 704.1 L252.4 704.6 L252.6 705.1 L252.8 705.5 L253 706 L253.2 706.5 L253.4 706.9 L253.6 707.4 L253.8 707.8 L254 708.3 L254.2 708.8 L254.4 709.2 L254.6 709.7 L254.8 710.1 L255 710.6 L255.2 711 L255.4 711.5 L255.6 712 L255.8 712.4 L256 712.9 L256.2 713.3 L256.4 713.8 L256.6 714.2 L256.8 714.7 L257.1 715.1 L257.3 715.6 L257.5 716 L257.7 716.5 L257.9 716.9 L258.1 717.4 L258.4 717.8 L258.6 718.3 L258.8 718.7 L259 719.2 L259.2 719.6 L259.5 720.1 L259.7 720.5 L259.9 721 L260.2 721.4 L260.4 721.8 L260.6 722.3 L260.8 722.7 L261.1 723.2 L261.3 723.6 L261.5 724.1 L261.8 724.5 L262 724.9 L262.3 725.4 L262.5 725.8 L262.7 726.3 L263 726.7 L263.2 727.1 L263.5 727.6 L263.7 728 L264 728.4 L264.2 728.9 L264.4 729.3 L264.7 729.7 L264.9 730.2 L265.2 730.6 L265.4 731 L265.7 731.5 L265.9 731.9 L266.2 732.3 L266.4 732.8 L266.7 733.2 L267 733.6 L267.2 734.1 L267.5 734.5 L267.7 734.9 L268 735.3 L268.2 735.8 L268.5 736.2 L268.8 736.6 L269 737.1 L269.3 737.5 L269.6 737.9 L269.8 738.3 L270.1 738.7 L270.4 739.2 L270.6 739.6 L270.9 740 L271.2 740.4 L271.4 740.9 L271.7 741.3 L272 741.7 L272.3 742.1 L272.5 742.5 L272.8 742.9 L273.1 743.4 L273.3 743.8 L273.6 744.2 L273.9 744.6 L274.2 745 L274.5 745.4 L274.7 745.9 L275 746.3 L275.3 746.7 L275.6 747.1 L275.9 747.5 L276.1 747.9 L276.4 748.3 L276.7 748.7 L277 749.2 L277.3 749.6 L277.6 750 L277.9 750.4 L278.2 750.8 L278.4 751.2 L278.7 751.6 L279 752 L279.3 752.4 L279.6 752.8 L279.9 753.2 L280.2 753.6 L280.5 754 L280.8 754.4 L281.1 754.9 L281.4 755.3 L281.7 755.7 L282 756.1 L282.3 756.5 L282.6 756.9 L282.9 757.3 L283.2 757.7 L283.5 758.1 L283.8 758.4 L284.1 758.8 L284.4 759.2 L284.7 759.6 L285 760 L285.3 760.4 L285.6 760.8 L285.9 761.2 L286.2 761.6 L286.5 762 L286.9 762.4 L287.2 762.8 L287.5 763.2 L287.8 763.5 L288.1 763.9 L288.5 764.3 L288.8 764.7 L289.1 765.1 L289.4 765.5 L289.7 765.8 L290.1 766.2 L290.4 766.6 L290.7 767 L291.1 767.3 L291.4 767.7 L291.7 768.1 L292 768.5 L292.4 768.8 L292.7 769.2 L293.1 769.6 L293.4 769.9 L293.7 770.3 L294.1 770.7 L294.4 771 L294.8 771.4 L295.1 771.7 L295.5 772.1 L295.8 772.4 L296.2 772.8 L296.5 773.1 L296.9 773.5 L297.3 773.8 L297.6 774.2 L298 774.5 L298.4 774.8 L298.7 775.2 L299.1 775.5 L299.5 775.8 L299.8 776.2 L300.2 776.5 L300.6 776.8 L301 777.2 L301.4 777.5 L301.7 777.8 L302.1 778.1 L302.5 778.4 L302.9 778.8 L303.3 779.1 L303.7 779.4 L304.1 779.7 L304.4 780 L304.8 780.3 L305.2 780.6 L305.6 780.9 L306 781.3 L306.4 781.6 L306.8 781.9 L307.2 782.2 L307.6 782.5 L308 782.8 L308.4 783.1 L308.8 783.4 L309.2 783.7 L309.5 784 L309.9 784.3 L310.3 784.7 L310.7 785 L311.1 785.3 L311.5 785.6 L311.9 785.9 L312.3 786.2 L312.7 786.5 L313.1 786.8 L313.5 787.1 L313.9 787.4 L314.3 787.8 L314.6 788.1 L315 788.4 L315.4 788.7 L315.8 789 L316.2 789.3 L316.6 789.6 L317 789.9 L317.4 790.2 L317.8 790.5 L318.2 790.8 L318.6 791.2 L319 791.5 L319.4 791.8 L319.8 792.1 L320.2 792.4 L320.6 792.7 L321 793 L321.4 793.3 L321.8 793.6 L322.2 793.9 L322.6 794.2 L323 794.5 L323.4 794.8 L323.8 795.1 L324.2 795.3 L324.6 795.6 L325 795.9 L325.4 796.2 L325.8 796.5 L326.2 796.8 L326.6 797.1 L327 797.4 L327.4 797.6 L327.9 797.9 L328.3 798.2 L328.7 798.5 L329.1 798.8 L329.5 799 L329.9 799.3 L330.4 799.6 L330.8 799.8 L331.2 800.1 L331.6 800.4 L332.1 800.6 L332.5 800.9 L332.9 801.1 L333.3 801.4 L333.8 801.7 L334.2 801.9 L334.6 802.2 L335.1 802.4 L335.5 802.7 L335.9 802.9 L336.4 803.2 L336.8 803.4 L337.2 803.6 L337.7 803.9 L338.1 804.1 L338.6 804.4 L339 804.6 L339.4 804.8 L339.9 805.1 L340.3 805.3 L340.8 805.5 L341.2 805.7 L341.7 806 L342.1 806.2 L342.6 806.4 L343 806.6 L343.5 806.8 L343.9 807.1 L344.4 807.3 L344.8 807.5 L345.3 807.7 L345.7 807.9 L346.2 808.1 L346.6 808.3 L347.1 808.5 L347.5 808.7 L348 808.9 L348.4 809.1 L348.9 809.3 L349.4 809.5 L349.8 809.7 L350.3 809.9 L350.7 810.1 L351.2 810.3 L351.7 810.5 L352.1 810.7 L352.6 810.9 L353.1 811.1 L353.5 811.2 L354 811.4 L354.5 811.6 L354.9 811.8 L355.4 812 L355.9 812.1 L356.3 812.3 L356.8 812.5 L357.3 812.7 L357.7 812.8 L358.2 813 L358.7 813.2 L359.1 813.3 L359.6 813.5 L360.1 813.6 L360.6 813.8 L361 814 L361.5 814.1 L362 814.3 L362.5 814.4 L362.9 814.6 L363.4 814.7 L363.9 814.9 L364.4 815.1 L364.8 815.2 L365.3 815.4 L365.8 815.5 L366.3 815.7 L366.7 815.8 L367.2 815.9 L367.7 816.1 L368.2 816.2 L368.7 816.4 L369.1 816.5 L369.6 816.7 L370.1 816.8 L370.6 816.9 L371.1 817.1 L371.5 817.2 L372 817.4 L372.5 817.5 L373 817.6 L373.5 817.8 L373.9 817.9 L374.4 818 L374.9 818.1 L375.4 818.3 L375.9 818.4 L376.4 818.5 L376.8 818.7 L377.3 818.8 L377.8 818.9 L378.3 819 L378.8 819.2 L379.3 819.3 L379.8 819.4 L380.2 819.5 L380.7 819.6 L381.2 819.8 L381.7 819.9 L382.2 820 L382.7 820.1 L383.2 820.2 L383.6 820.3 L384.1 820.5 L384.6 820.6 L385.1 820.7 L385.6 820.8 L386.1 820.9 L386.6 821 L387 821.1 L387.5 821.2 L388 821.4 L388.5 821.5 L389 821.6 L389.5 821.7 L390 821.8 L390.5 821.9 L391 822 L391.4 822.1 L391.9 822.2 L392.4 822.3 L392.9 822.4 L393.4 822.5 L393.9 822.6 L394.4 822.7 L394.9 822.8 L395.4 822.9 L395.8 823 L396.3 823.1 L396.8 823.2 L397.3 823.3 L397.8 823.4 L398.3 823.5 L398.8 823.6 L399.3 823.7 L399.8 823.8 L400.3 823.9 L400.7 824 L401.2 824.1 L401.7 824.2 L402.2 824.3 L402.7 824.4 L403.2 824.5 L403.7 824.6 L404.2 824.7 L404.7 824.8 L405.2 824.9 L405.7 825 L406.1 825.1 L406.6 825.2 L407.1 825.3 L407.6 825.4 L408.1 825.4 L408.6 825.5 L409.1 825.6 L409.6 825.7 L410.1 825.8 L410.6 825.9 L411.1 826 L411.6 826.1 L412 826.2 L412.5 826.3 L413 826.3 L413.5 826.4 L414 826.5 L414.5 826.6 L415 826.7 L415.5 826.8 L416 826.9 L416.5 827 L417 827.1 L417.5 827.1 L417.9 827.2 L418.4 827.3 L418.9 827.4 L419.4 827.5 L419.9 827.6 L420.4 827.7 L420.9 827.8 L421.4 827.8 L421.9 827.9 L422.4 828 L422.9 828.1 L423.4 828.2 L423.9 828.3 L424.3 828.4 L424.8 828.4 L425.3 828.5 L425.8 828.6 L426.3 828.7 L426.8 828.8 L427.3 828.8 L427.8 828.9 L428.3 829 L428.8 829.1 L429.3 829.2 L429.8 829.2 L430.3 829.3 L430.8 829.4 L431.3 829.5 L431.8 829.5 L432.2 829.6 L432.7 829.7 L433.2 829.8 L433.7 829.8 L434.2 829.9 L434.7 830 L435.2 830.1 L435.7 830.1 L436.2 830.2 L436.7 830.3 L437.2 830.4 L437.7 830.4 L438.2 830.5 L438.7 830.6 L439.2 830.6 L439.7 830.7 L440.2 830.8 L440.7 830.8 L441.2 830.9 L441.6 831 L442.1 831.1 L442.6 831.1 L443.1 831.2 L443.6 831.3 L444.1 831.3 L444.6 831.4 L445.1 831.4 L445.6 831.5 L446.1 831.6 L446.6 831.6 L447.1 831.7 L447.6 831.8 L448.1 831.8 L448.6 831.9 L449.1 831.9 L449.6 832 L450.1 832.1 L450.6 832.1 L451.1 832.2 L451.6 832.2 L452.1 832.3 L452.6 832.4 L453.1 832.4 L453.6 832.5 L454.1 832.5 L454.5 832.6 L455 832.6 L455.5 832.7 L456 832.7 L456.5 832.8 L457 832.8 L457.5 832.9 L458 832.9 L458.5 833 L459 833.1 L459.5 833.1 L460 833.2 L460.5 833.2 L461 833.3 L461.5 833.3 L462 833.4 L462.5 833.4 L463 833.5 L463.5 833.5 L464 833.6 L464.5 833.6 L465 833.6 L465.5 833.7 L466 833.7 L466.5 833.8 L467 833.8 L467.5 833.9 L468 833.9 L468.5 834 L469 834 L469.5 834.1 L470 834.1 L470.5 834.1 L471 834.2 L471.5 834.2 L472 834.3 L472.5 834.3 L473 834.4 L473.5 834.4 L474 834.4 L474.5 834.5 L475 834.5 L475.5 834.6 L476 834.6 L476.5 834.6 L476.9 834.7 L477.4 834.7 L477.9 834.8 L478.4 834.8 L478.9 834.8 L479.4 834.9 L479.9 834.9 L480.4 834.9 L480.9 835 L481.4 835 L481.9 835.1 L482.4 835.1 L482.9 835.1 L483.4 835.2 L483.9 835.2 L484.4 835.3 L484.9 835.3 L485.4 835.3 L485.9 835.4 L486.4 835.4 L486.9 835.4 L487.4 835.5 L487.9 835.5 L488.4 835.5 L488.9 835.6 L489.4 835.6 L489.9 835.7 L490.4 835.7 L490.9 835.7 L491.4 835.8 L491.9 835.8 L492.4 835.8 L492.9 835.9" stroke="#000000"/>
<path d="M109.3 823.9 L110.3 824.2 L111.3 824.4 L112.3 824.7 L113.3 824.9 L114.3 825.2 L115.3 825.4 L116.3 825.7 L117.3 825.9 L118.3 826.2 L119.3 826.4 L120.3 826.6 L121.3 826.9 L122.3 827.1 L123.3 827.3 L124.3 827.5 L125.3 827.7 L126.3 827.9 L127.3 828.1 L128.3 828.3 L129.3 828.5 L130.3 828.7 L131.3 828.9 L131.6 828.9 L132.3 829.1 L133.3 829.3 L134.3 829.4 L135.3 829.6 L136.3 829.7 L137.3 829.9 L138.3 830 L139.3 830.1 L140.3 830.3 L141.3 830.4 L142.3 830.5 L143.3 830.7 L144.3 830.8 L145.3 830.9 L146.3 831.1 L147.3 831.2 L148.3 831.4 L149.3 831.5 L150.3 831.7 L151.3 831.9 L152.3 832.1 L152.6 832.1 L153.3 832.2 L154.3 832.4 L155.3 832.7 L156.3 832.9 L157.3 833.1 L158.3 833.4 L159.3 833.6 L160.3 833.9 L161.3 834.2 L162.3 834.5 L163.2 834.7 L163.3 834.8 L164.3 835.1 L165.3 835.5 L166.3 836 L167.3 836.4 L168.3 836.9 L169.3 837.3 L170.3 837.8 L171.3 838.3 L172.3 838.8 L173.3 839.3 L173.7 839.5 L174.3 839.8 L175.3 840.3 L176.3 840.9 L177.3 841.4 L178.3 841.9 L179.3 842.4 L180 842.6 L180.3 842.8 L181.3 843.1 L182.3 843.5 L183.3 843.8 L184.3 844.1 L185.3 844.2 L185.8 844.2 L186.3 844.1 L187.3 843.8 L188.3 843.1 L189.3 842.4 L190.3 841.7 L190.5 841.6 L191.3 841 L192.3 840.1 L193.3 839.3 L194.3 838.6 L194.7 838.4 L195.3 838.2 L196.3 838 L197.3 837.8 L198.3 837.4 L198.4 837.4 L199.3 836.4 L200.3 834.7 L201.1 833.2 L201.3 832.3 L202.3 828.2 L203.3 824.4 L203.7 823.7 L204.3 822.9 L205.3 822.2 L206.3 821.6 L207.3 820.6 L207.4 820.5 L208.3 818.3 L209.3 814.8 L210 812.1 L210.3 810.5 L211.3 804.8 L212.3 798.2 L212.6 796.3 L213.3 791.6 L214.3 784.1 L214.7 780.5 L215.3 773.5 L216.3 758.5 L217.3 741.4 L217.4 741.1 L218.3 721.5 L218.4 720 L219.3 699.3 L220 683.2 L220.3 674.1 L221.1 651.6 L221.3 634.4 L221.6 620 L222.1 593.7 L222.3 586.1 L223.2 567.4 L223.3 563 L224.2 546.3 L224.3 545 L224.7 542.1 L224.9 540.3 L225.2 542.1 L225.3 543.1 L225.8 546.3 L226.3 555.5 L226.8 567.4 L227.3 583.2 L227.6 593.7 L227.9 620 L228.3 636.3 L228.9 651.6 L229.3 663.4 L230 683.2 L230.3 695.7 L231.1 720 L231.3 726.9 L232.1 741.1 L232.3 745.6 L233.3 764.4 L234.3 780.8 L234.7 785.8 L235.3 792.4 L236.3 801.1 L236.8 804.7 L237.3 808.2 L238.3 814.4 L239.3 819.7 L240 822.6 L240.3 824.1 L241.3 828 L242.3 831.5 L243.3 834.4 L244.2 836.3 L244.3 836.6 L245.3 838.5 L246.3 840.4 L247.3 842 L248.3 843.4 L249.3 844.3 L250.3 844.7 L250.5 844.7 L251.3 844.6 L252.3 844 L253.3 843.1 L254.3 842 L254.7 841.6 L255.3 840.5 L256.3 837.8 L257.3 834.7 L257.9 833.2 L258.3 831.9 L259 830.1 L259.3 829.1 L259.5 828.9 L259.9 830.3 L260.3 831.5 L261.3 834.5 L261.6 835.3 L262.3 838.4 L263.3 842.9 L264.2 845.8 L264.3 846.1 L265.3 848.1 L266.3 849.8 L267.3 851.1 L268.3 852.1 L268.4 852.1 L269.3 852.7 L270.3 853.4 L271.3 853.9 L272.3 854.4 L273.3 854.8 L274.3 855.1 L275.3 855.4 L276.3 855.7 L276.8 855.8 L277.3 855.9 L278.3 856.1 L279.3 856.3 L280.3 856.5 L281.3 856.6 L282.3 856.8 L283.3 856.9 L284.3 857 L285.3 857.2 L286.3 857.2 L287.3 857.3 L288.3 857.4 L289.3 857.4 L289.5 857.4 L290.3 857.4 L291.3 857.4 L292.3 857.4 L293.3 857.4 L294.3 857.4 L295.3 857.4 L296.3 857.4 L297.3 857.4 L298.3 857.4 L299.3 857.4 L300 857.4 L300.3 857.4 L301.3 857.4 L302.3 857.4 L303.3 857.4 L304.3 857.4 L305.3 857.4 L306.3 857.4 L307.3 857.4 L308.3 857.3 L309.3 857.3 L310.3 857.3 L311.3 857.3 L312.3 857.3 L313.3 857.3 L314.3 857.3 L315.3 857.3 L316.3 857.3 L317.3 857.3 L318.3 857.3 L319.3 857.3 L320.3 857.3 L321.3 857.3 L322.3 857.2 L323.3 857.2 L324.3 857.2 L325.3 857.2 L326.3 857.2 L327.3 857.2 L328.3 857.2 L329.3 857.2 L330.3 857.2 L331.3 857.2 L331.6 857.2 L332.3 857.1 L333.3 857.1 L334.3 857.1 L335.3 857.1 L336.3 857.1 L337.3 857.1 L338.3 857.1 L339.3 857 L340.3 857 L341.3 857 L342.3 857 L343.3 857 L344.3 856.9 L345.3 856.9 L346.3 856.9 L347.3 856.9 L348.3 856.8 L349.3 856.8 L350.3 856.8 L351.3 856.8 L352.3 856.7 L352.6 856.7 L353.3 856.7 L354.3 856.7 L355.3 856.7 L356.3 856.6 L357.3 856.6 L358.3 856.6 L359.3 856.6 L360.3 856.5 L361.3 856.5 L362.3 856.5 L363.3 856.5 L364.3 856.4 L365.3 856.4 L366.3 856.4 L367.3 856.3 L368.3 856.3 L369.3 856.3 L370.3 856.2 L371.3 856.2 L372.3 856.2 L373.3 856.1 L373.7 856.1 L374.3 856.1 L375.3 856 L376.3 856 L377.3 855.9 L378.3 855.9 L379.3 855.8 L380.3 855.8 L381.3 855.7 L382.3 855.6 L383.3 855.5 L384.2 855.5 L384.3 855.5 L385.3 855.4 L386.3 855.3 L387.3 855.2 L388.3 855.1 L389.3 855 L390.3 854.8 L391.3 854.7 L392.3 854.6 L393.3 854.4 L394.3 854.3 L394.7 854.2 L395.3 854.1 L396.3 853.9 L397.3 853.7 L398.3 853.5 L399.3 853.2 L400.3 853 L401.3 852.7 L402.3 852.4 L403.2 852.1 L403.3 852 L404.3 851.7 L405.3 851.2 L406.3 850.8 L407.3 850.2 L408.3 849.7 L409.3 849 L409.5 848.9 L410.3 848.3 L411.3 847.5 L412.3 846.5 L413.3 845.4 L414.3 844.2 L414.7 843.7 L415.3 842.8 L416.3 841.1 L417.3 839 L418.3 836.7 L418.9 835.3 L419.3 834.2 L420.3 831.2 L421.3 827.6 L422.1 824.7 L422.3 823.7 L423.3 819.2 L424.3 814.2 L424.7 812.1 L425.3 808.7 L426.3 802.6 L426.8 799.5 L427.3 796.1 L428.3 789 L428.9 784.7 L429.3 782 L430.3 775.4 L431.1 770 L431.3 767.4 L432.3 757.1 L432.6 753.7 L433.3 742.5 L434.2 727.4 L434.3 725 L435.3 708 L435.8 701.1 L436.3 693.2 L437.3 680.2 L437.4 680 L438.3 667.2 L439.3 654.3 L440.1 645.2 L440.3 640.5 L440.5 639.4 L440.9 645.1 L441.3 650.3 L442.3 663.5 L443.3 676.2 L443.7 680 L444.3 686.6 L445.3 696 L445.8 701.1 L446.3 709.8 L447.3 727.1 L447.4 727.4 L448.3 738.5 L449.3 751.4 L449.5 753.7 L450 770 L450.3 774.7 L451.3 783 L451.6 784.7 L452.3 790.6 L453.3 797.3 L453.7 799.5 L454.3 803.7 L455.3 809.7 L455.8 812.1 L456.3 815.1 L457.3 820.1 L458.3 824.5 L458.4 824.7 L459.3 828.2 L460.3 831.6 L461.3 834.6 L461.6 835.3 L462.3 837.3 L463.3 839.9 L464.3 842.1 L465.3 843.7 L465.3 843.8 L466.3 845.1 L467.3 846.3 L468.3 847.2 L469.3 848.1 L470.3 848.8 L470.5 848.9 L471.3 849.5 L472.3 850.1 L473.3 850.6 L474.3 851.1 L475.3 851.5 L476.3 851.9 L476.8 852.1 L477.3 852.3 L478.3 852.6 L479.3 852.9 L480.3 853.2 L481.3 853.4 L482.3 853.6 L483.3 853.8 L484.2 854 L484.3 854 L485.3 854.2 L486.3 854.4 L487.3 854.5 L488.3 854.7 L489.3 854.8 L490.3 855 L491.3 855.1 L492.3 855.2 L493.2 855.3" stroke="#21409a" stroke-linejoin="miter" stroke-miterlimit="2.5"/>
<path d="M109.4 727.4 L109.6 727 L109.8 726.5 L110 726.1 L110.1 725.6 L110.3 725.2 L110.5 724.7 L110.7 724.3 L110.9 723.8 L111 723.4 L111.2 722.9 L111.3 722.4 L111.5 721.9 L111.6 721.5 L111.7 721 L111.8 720.5 L111.9 720 L112.1 719.5 L112.2 719.1 L112.3 718.6 L112.3 718.1 L112.4 717.6 L112.5 717.1 L112.6 716.6 L112.7 716.1 L112.8 715.6 L112.8 715.1 L112.9 714.6 L113 714.1 L113 713.6 L113.1 713.1 L113.1 712.6 L113.2 712.1 L113.3 711.6 L113.3 711.2 L113.4 710.7 L113.4 710.2 L113.5 709.7 L113.5 709.2 L113.6 708.7 L113.7 708.2 L113.7 707.7 L113.8 707.2 L113.8 706.7 L113.9 706.2 L113.9 705.7 L114 705.2 L114 704.7 L114.1 704.2 L114.2 703.7 L114.2 703.2 L114.3 702.7 L114.3 702.2 L114.4 701.7 L114.5 701.2 L114.5 700.7 L114.6 700.2 L114.7 699.7 L114.7 699.2 L114.8 698.7 L114.9 698.2 L114.9 697.7 L115 697.3 L115.1 696.8 L115.2 696.3 L115.2 695.8 L115.3 695.3 L115.4 694.8 L115.4 694.3 L115.5 693.8 L115.6 693.3 L115.7 692.8 L115.8 692.3 L115.8 691.8 L115.9 691.3 L116 690.8 L116.1 690.3 L116.2 689.8 L116.2 689.4 L116.3 688.9 L116.4 688.4 L116.5 687.9 L116.6 687.4 L116.7 686.9 L116.8 686.4 L116.9 685.9 L117 685.4 L117 684.9 L117.1 684.4 L117.2 683.9 L117.3 683.5 L117.4 683 L117.5 682.5 L117.6 682 L117.7 681.5 L117.8 681 L117.9 680.5 L118 680 L118.2 679.5 L118.3 679.1 L118.4 678.6 L118.5 678.1 L118.6 677.6 L118.8 677.1 L118.9 676.7 L119 676.2 L119.2 675.7 L119.4 675.3 L119.5 674.8 L119.7 674.4 L119.9 674 L120.1 673.6 L120.3 673.2 L120.6 672.8 L120.8 672.5 L121.1 672.2 L121.4 671.9 L121.7 671.6 L122.1 671.4 L122.4 671.2 L122.7 671.1 L123.1 671 L123.5 671 L123.8 671.1 L124.2 671.2 L124.6 671.4 L124.9 671.6 L125.3 671.9 L125.6 672.1 L125.9 672.4 L126.2 672.8 L126.5 673.1 L126.8 673.4 L127.1 673.8 L127.4 674.2 L127.7 674.6 L128 675 L128.3 675.4 L128.6 675.8 L128.8 676.2 L129.1 676.6 L129.4 677 L129.7 677.4 L129.9 677.8 L130.2 678.2 L130.5 678.5 L130.8 678.9 L131.1 679.2 L131.5 679.5 L131.8 679.8 L132.1 680.1 L132.5 680.3 L132.9 680.5 L133.2 680.7 L133.6 680.8 L134 680.9 L134.4 680.9 L134.8 680.8 L135.2 680.7 L135.5 680.6 L135.9 680.4 L136.2 680.1 L136.5 679.9 L136.8 679.5 L137.1 679.2 L137.3 678.9 L137.6 678.5 L137.8 678.1 L138.1 677.7 L138.3 677.2 L138.5 676.8 L138.6 676.4 L138.8 675.9 L139 675.5 L139.2 675 L139.3 674.5 L139.4 674.1 L139.6 673.6 L139.7 673.1 L139.8 672.6 L140 672.1 L140.1 671.7 L140.2 671.2 L140.3 670.7 L140.4 670.2 L140.5 669.7 L140.6 669.2 L140.7 668.7 L140.8 668.2 L140.9 667.7 L141 667.3 L141.1 666.8 L141.2 666.3 L141.3 665.8 L141.4 665.3 L141.4 664.8 L141.5 664.3 L141.6 663.8 L141.7 663.3 L141.7 662.8 L141.8 662.3 L141.9 661.8 L142 661.3 L142 660.8 L142.1 660.3 L142.2 659.8 L142.2 659.4 L142.3 658.9 L142.3 658.4 L142.4 657.9 L142.5 657.4 L142.5 656.9 L142.6 656.4 L142.6 655.9 L142.7 655.4 L142.8 654.9 L142.8 654.4 L142.9 653.9 L142.9 653.4 L143 652.9 L143.1 652.4 L143.1 651.9 L143.2 651.4 L143.2 650.9 L143.3 650.4 L143.3 649.9 L143.4 649.4 L143.4 648.9 L143.5 648.4 L143.5 647.9 L143.6 647.4 L143.6 646.9 L143.7 646.4 L143.7 645.9 L143.8 645.4 L143.8 644.9 L143.9 644.4 L143.9 644 L144 643.5 L144 643 L144.1 642.5 L144.1 642 L144.2 641.5 L144.2 641 L144.3 640.5 L144.3 640 L144.4 639.5 L144.4 639 L144.5 638.5 L144.5 638 L144.6 637.5 L144.6 637 L144.7 636.5 L144.7 636 L144.8 635.5 L144.8 635 L144.9 634.5 L144.9 634 L145 633.5 L145 633 L145.1 632.5 L145.1 632 L145.1 631.5 L145.2 631 L145.2 630.5 L145.3 630 L145.3 629.5 L145.4 629 L145.4 628.5 L145.5 628 L145.5 627.5 L145.6 627 L145.6 626.5 L145.7 626 L145.7 625.5 L145.8 625 L145.8 624.5 L145.9 624 L145.9 623.5 L146 623.1 L146.1 622.6 L146.1 622.1 L146.2 621.6 L146.2 621.1 L146.3 620.6 L146.3 620.1 L146.4 619.6 L146.5 619.1 L146.5 618.6 L146.6 618.1 L146.7 617.6 L146.7 617.1 L146.8 616.6 L146.9 616.1 L146.9 615.6 L147 615.1 L147.1 614.6 L147.2 614.1 L147.2 613.6 L147.3 613.1 L147.4 612.6 L147.5 612.2 L147.5 611.7 L147.6 611.2 L147.7 610.7 L147.8 610.2 L147.8 609.7 L147.9 609.2 L148 608.7 L148.1 608.2 L148.1 607.7 L148.2 607.2 L148.3 606.7 L148.3 606.2 L148.4 605.7 L148.5 605.2 L148.5 604.7 L148.6 604.2 L148.7 603.7 L148.7 603.2 L148.8 602.7 L148.8 602.2 L148.9 601.8 L149 601.3 L149 600.8 L149.1 600.3 L149.1 599.8 L149.2 599.3 L149.2 598.8 L149.3 598.3 L149.3 597.8 L149.4 597.3 L149.4 596.8 L149.5 596.3 L149.5 595.8 L149.6 595.3 L149.7 594.8 L149.7 594.3 L149.8 593.8 L149.8 593.3 L149.9 592.8 L149.9 592.3 L150 591.8 L150 591.3 L150.1 590.8 L150.1 590.3 L150.2 589.8 L150.2 589.3 L150.3 588.8 L150.3 588.3 L150.4 587.8 L150.4 587.3 L150.5 586.8 L150.5 586.3 L150.6 585.8 L150.7 585.3 L150.7 584.8 L150.8 584.4 L150.8 583.9 L150.9 583.4 L150.9 582.9 L151 582.4 L151 581.9 L151.1 581.4 L151.1 580.9 L151.2 580.4 L151.3 579.9 L151.3 579.4 L151.4 578.9 L151.4 578.4 L151.5 577.9 L151.5 577.4 L151.6 576.9 L151.7 576.4 L151.7 575.9 L151.8 575.4 L151.8 574.9 L151.9 574.4 L152 573.9 L152 573.4 L152.1 572.9 L152.1 572.4 L152.2 571.9 L152.3 571.4 L152.3 570.9 L152.4 570.4 L152.5 570 L152.5 569.5 L152.6 569 L152.7 568.5 L152.7 568 L152.8 567.5 L152.9 567 L152.9 566.5 L153 566 L153.1 565.5 L153.1 565 L153.2 564.5 L153.3 564 L153.4 563.5 L153.4 563 L153.5 562.5 L153.6 562 L153.7 561.5 L153.7 561 L153.8 560.6 L153.9 560.1 L154 559.6 L154.1 559.1 L154.2 558.6 L154.2 558.1 L154.3 557.6 L154.4 557.1 L154.5 556.6 L154.6 556.1 L154.7 555.6 L154.8 555.1 L154.9 554.6 L155 554.2 L155.1 553.7 L155.2 553.2 L155.3 552.7 L155.4 552.2 L155.5 551.7 L155.6 551.2 L155.7 550.7 L155.8 550.3 L156 549.8 L156.1 549.3 L156.2 548.8 L156.4 548.4 L156.5 547.9 L156.7 547.4 L156.9 547 L157 546.5 L157.2 546.1 L157.4 545.6 L157.6 545.2 L157.8 544.8 L158.1 544.4 L158.3 544 L158.6 543.6 L158.9 543.3 L159.2 543 L159.5 542.7 L159.8 542.4 L160.2 542.2 L160.5 542 L160.9 541.9 L161.3 541.8 L161.7 541.8 L162.1 541.8 L162.5 541.8 L162.9 541.9 L163.4 542 L163.8 542.2 L164.2 542.4 L164.5 542.6 L164.9 542.9 L165.3 543.1 L165.7 543.4 L166.1 543.7 L166.5 544 L166.8 544.3 L167.2 544.6 L167.6 544.9 L168 545.2 L168.3 545.5 L168.7 545.9 L169.1 546.2 L169.5 546.5 L169.9 546.8 L170.3 547.1 L170.7 547.3 L171.1 547.6 L171.5 547.9 L171.9 548.1 L172.4 548.4 L172.8 548.6 L173.2 548.8 L173.7 549 L174.1 549.2 L174.6 549.3 L175 549.4 L175.5 549.6 L176 549.7 L176.4 549.7 L176.9 549.8 L177.4 549.8 L177.9 549.8 L178.3 549.8 L178.8 549.8 L179.3 549.8 L179.8 549.7 L180.3 549.7 L180.7 549.6 L181.2 549.6 L181.7 549.5 L182.1 549.5 L182.6 549.5 L183.1 549.4 L183.5 549.4 L184 549.5 L184.4 549.5 L184.8 549.6 L185.3 549.8 L185.7 549.9 L186.1 550.1 L186.4 550.3 L186.8 550.6 L187.1 550.9 L187.4 551.2 L187.7 551.5 L188 551.9 L188.3 552.3 L188.5 552.7 L188.8 553.1 L189 553.5 L189.2 553.9 L189.4 554.4 L189.6 554.8 L189.8 555.3 L190 555.7 L190.1 556.2 L190.3 556.6 L190.4 557.1 L190.6 557.6 L190.7 558.1 L190.9 558.5 L191 559 L191.1 559.5 L191.3 560 L191.4 560.5 L191.5 561 L191.6 561.4 L191.8 561.9 L191.9 562.4 L192 562.9 L192.1 563.4 L192.2 563.9 L192.3 564.4 L192.4 564.8 L192.6 565.3 L192.7 565.8 L192.8 566.3 L192.9 566.8 L193 567.3 L193.1 567.8 L193.2 568.3 L193.3 568.8 L193.4 569.2 L193.5 569.7 L193.6 570.2 L193.7 570.7 L193.8 571.2 L193.9 571.7 L194 572.2 L194.1 572.7 L194.2 573.2 L194.3 573.7 L194.4 574.1 L194.5 574.6 L194.5 575.1 L194.6 575.6 L194.7 576.1 L194.8 576.6 L194.9 577.1 L195 577.6 L195.1 578.1 L195.2 578.6 L195.3 579.1 L195.3 579.6 L195.4 580.1 L195.5 580.5 L195.6 581 L195.7 581.5 L195.8 582 L195.8 582.5 L195.9 583 L196 583.5 L196.1 584 L196.2 584.5 L196.2 585 L196.3 585.5 L196.4 586 L196.5 586.5 L196.6 587 L196.6 587.5 L196.7 588 L196.8 588.4 L196.9 588.9 L196.9 589.4 L197 589.9 L197.1 590.4 L197.2 590.9 L197.2 591.4 L197.3 591.9 L197.4 592.4 L197.5 592.9 L197.5 593.4 L197.6 593.9 L197.7 594.4 L197.8 594.9 L197.8 595.4 L197.9 595.9 L198 596.4 L198.1 596.8 L198.1 597.3 L198.2 597.8 L198.3 598.3 L198.4 598.8 L198.4 599.3 L198.5 599.8 L198.6 600.3 L198.7 600.8 L198.7 601.3 L198.8 601.8 L198.9 602.3 L199 602.8 L199 603.3 L199.1 603.8 L199.2 604.3 L199.3 604.8 L199.3 605.3 L199.4 605.7 L199.5 606.2 L199.6 606.7 L199.7 607.2 L199.7 607.7 L199.8 608.2 L199.9 608.7 L200 609.2 L200.1 609.7 L200.1 610.2 L200.2 610.7 L200.3 611.2 L200.4 611.7 L200.5 612.2 L200.5 612.7 L200.6 613.1 L200.7 613.6 L200.8 614.1 L200.9 614.6 L201 615.1 L201.1 615.6 L201.1 616.1 L201.2 616.6 L201.3 617.1 L201.4 617.6 L201.5 618.1 L201.6 618.6 L201.7 619.1 L201.8 619.5 L201.9 620 L201.9 620.5 L202 621 L202.1 621.5 L202.2 622 L202.3 622.5 L202.4 623 L202.5 623.5 L202.6 624 L202.7 624.5 L202.7 625 L202.8 625.5 L202.9 625.9 L203 626.4 L203.1 626.9 L203.2 627.4 L203.3 627.9 L203.3 628.4 L203.4 628.9 L203.5 629.4 L203.6 629.9 L203.7 630.4 L203.8 630.9 L203.8 631.4 L203.9 631.9 L204 632.4 L204.1 632.8 L204.2 633.3 L204.2 633.8 L204.3 634.3 L204.4 634.8 L204.4 635.3 L204.5 635.8 L204.6 636.3 L204.7 636.8 L204.7 637.3 L204.8 637.8 L204.9 638.3 L204.9 638.8 L205 639.3 L205.1 639.8 L205.1 640.3 L205.2 640.8 L205.3 641.3 L205.3 641.8 L205.4 642.3 L205.4 642.8 L205.5 643.2 L205.5 643.7 L205.6 644.2 L205.7 644.7 L205.7 645.2 L205.8 645.7 L205.8 646.2 L205.9 646.7 L205.9 647.2 L206 647.7 L206 648.2 L206.1 648.7 L206.1 649.2 L206.2 649.7 L206.2 650.2 L206.3 650.7 L206.3 651.2 L206.4 651.7 L206.4 652.2 L206.4 652.7 L206.5 653.2 L206.5 653.7 L206.6 654.2 L206.6 654.7 L206.7 655.2 L206.7 655.7 L206.8 656.2 L206.8 656.7 L206.9 657.2 L206.9 657.7 L207 658.2 L207 658.7 L207.1 659.2 L207.1 659.7 L207.2 660.2 L207.2 660.7 L207.3 661.2 L207.3 661.7 L207.4 662.2 L207.4 662.6 L207.5 663.1 L207.6 663.6 L207.6 664.1 L207.7 664.6 L207.7 665.1 L207.8 665.6 L207.8 666.1 L207.9 666.6 L208 667.1 L208 667.6 L208.1 668.1 L208.1 668.6 L208.2 669.1 L208.3 669.6 L208.3 670.1 L208.4 670.6 L208.5 671.1 L208.5 671.6 L208.6 672.1 L208.6 672.6 L208.7 673.1 L208.8 673.6 L208.8 674.1 L208.9 674.6 L209 675.1 L209 675.6 L209.1 676 L209.2 676.5 L209.2 677 L209.3 677.5 L209.3 678 L209.4 678.5 L209.5 679 L209.5 679.5 L209.6 680 L209.7 680.5 L209.7 681 L209.8 681.5 L209.8 682 L209.9 682.5 L210 683 L210 683.5 L210.1 684 L210.2 684.5 L210.2 685 L210.3 685.5 L210.3 686 L210.4 686.5 L210.5 687 L210.5 687.5 L210.6 688 L210.6 688.5 L210.7 688.9 L210.8 689.4 L210.8 689.9 L210.9 690.4 L210.9 690.9 L211 691.4 L211.1 691.9 L211.1 692.4 L211.2 692.9 L211.2 693.4 L211.3 693.9 L211.4 694.4 L211.4 694.9 L211.5 695.4 L211.5 695.9 L211.6 696.4 L211.7 696.9 L211.7 697.4 L211.8 697.9 L211.9 698.4 L211.9 698.9 L212 699.4 L212.1 699.9 L212.1 700.4 L212.2 700.9 L212.3 701.4 L212.3 701.8 L212.4 702.3 L212.5 702.8 L212.5 703.3 L212.6 703.8 L212.7 704.3 L212.8 704.8 L212.8 705.3 L212.9 705.8 L213 706.3 L213.1 706.8 L213.1 707.3 L213.2 707.8 L213.3 708.3 L213.4 708.8 L213.5 709.3 L213.5 709.8 L213.6 710.2 L213.7 710.7 L213.8 711.2 L213.9 711.7 L214 712.2 L214 712.7 L214.1 713.2 L214.2 713.7 L214.3 714.2 L214.4 714.7 L214.5 715.2 L214.5 715.7 L214.6 716.2 L214.7 716.7 L214.8 717.1 L214.9 717.6 L214.9 718.1 L215 718.6 L215.1 719.1 L215.2 719.6 L215.3 720.1 L215.3 720.6 L215.4 721.1 L215.5 721.6 L215.5 722.1 L215.6 722.6 L215.7 723.1 L215.8 723.6 L215.8 724.1 L215.9 724.6 L216 725.1 L216 725.6 L216.1 726.1 L216.2 726.5 L216.2 727 L216.3 727.5 L216.4 728 L216.4 728.5 L216.5 729 L216.6 729.5 L216.6 730 L216.7 730.5 L216.8 731 L216.8 731.5 L216.9 732 L216.9 732.5 L217 733 L217.1 733.5 L217.1 734 L217.2 734.5 L217.3 735 L217.3 735.5 L217.4 736 L217.4 736.5 L217.5 737 L217.6 737.5 L217.6 738 L217.7 738.4 L217.8 738.9 L217.8 739.4 L217.9 739.9 L217.9 740.4 L218 740.9 L218.1 741.4 L218.1 741.9 L218.2 742.4 L218.3 742.9 L218.3 743.4 L218.4 743.9 L218.4 744.4 L218.5 744.9 L218.6 745.4 L218.6 745.9 L218.7 746.4 L218.7 746.9 L218.8 747.4 L218.9 747.9 L218.9 748.4 L219 748.9 L219 749.4 L219.1 749.9 L219.2 750.4 L219.2 750.9 L219.3 751.3 L219.4 751.8 L219.4 752.3 L219.5 752.8 L219.5 753.3 L219.6 753.8 L219.7 754.3 L219.7 754.8 L219.8 755.3 L219.9 755.8 L219.9 756.3 L220 756.8 L220.1 757.3 L220.1 757.8 L220.2 758.3 L220.3 758.8 L220.3 759.3 L220.4 759.8 L220.5 760.3 L220.5 760.8 L220.6 761.3 L220.7 761.8 L220.7 762.3 L220.8 762.7 L220.9 763.2 L221 763.7 L221 764.2 L221.1 764.7 L221.2 765.2 L221.2 765.7 L221.3 766.2 L221.4 766.7 L221.4 767.2 L221.5 767.7 L221.6 768.2 L221.7 768.7 L221.7 769.2 L221.8 769.7 L221.9 770.2 L222 770.7 L222 771.2 L222.1 771.7 L222.2 772.1 L222.3 772.6 L222.4 773.1 L222.4 773.6 L222.5 774.1 L222.6 774.6 L222.7 775.1 L222.8 775.6 L222.9 776.1 L222.9 776.6 L223 777.1 L223.1 777.6 L223.2 778.1 L223.3 778.5 L223.4 779 L223.5 779.5 L223.6 780 L223.7 780.5 L223.8 781 L223.9 781.5 L224 782 L224.1 782.5 L224.2 783 L224.3 783.5 L224.4 783.9 L224.5 784.4 L224.6 784.9 L224.7 785.4 L224.8 785.9 L224.9 786.4 L225 786.9 L225.1 787.4 L225.3 787.8 L225.4 788.3 L225.5 788.8 L225.6 789.3 L225.7 789.8 L225.9 790.3 L226 790.8 L226.1 791.2 L226.2 791.7 L226.4 792.2 L226.5 792.7 L226.6 793.2 L226.8 793.6 L226.9 794.1 L227.1 794.6 L227.2 795.1 L227.4 795.5 L227.5 796 L227.7 796.5 L227.9 797 L228 797.4 L228.2 797.9 L228.4 798.4 L228.6 798.8 L228.7 799.3 L228.9 799.8 L229.1 800.2 L229.3 800.7 L229.5 801.1 L229.7 801.6 L229.9 802.1 L230.1 802.5 L230.3 803 L230.6 803.4 L230.8 803.8 L231 804.3 L231.3 804.7 L231.5 805.2 L231.7 805.6 L232 806 L232.3 806.4 L232.5 806.9 L232.8 807.3 L233.1 807.7 L233.4 808.1 L233.6 808.5 L233.9 808.9 L234.2 809.3 L234.6 809.7 L234.9 810.1 L235.2 810.4 L235.5 810.8 L235.9 811.2 L236.2 811.5 L236.6 811.8 L236.9 812.2 L237.3 812.5 L237.7 812.8 L238.1 813.1 L238.5 813.4 L238.9 813.7 L239.3 813.9 L239.7 814.2 L240.1 814.4 L240.6 814.7 L241 814.9 L241.4 815.1 L241.9 815.3 L242.3 815.5 L242.8 815.7 L243.3 815.9 L243.7 816.1 L244.2 816.3 L244.7 816.4 L245.1 816.6 L245.6 816.8 L246.1 816.9 L246.5 817.1 L247 817.3 L247.5 817.4 L248 817.6 L248.4 817.7 L248.9 817.9 L249.4 818.1 L249.9 818.2 L250.3 818.4 L250.8 818.6 L251.3 818.7 L251.7 818.9 L252.2 819 L252.7 819.2 L253.2 819.4 L253.6 819.5 L254.1 819.7 L254.6 819.9 L255 820 L255.5 820.2 L256 820.4 L256.4 820.6 L256.9 820.7 L257.4 820.9 L257.8 821.1 L258.3 821.3 L258.8 821.5 L259.2 821.7 L259.7 821.8 L260.2 822 L260.6 822.2 L261.1 822.4 L261.5 822.6 L262 822.8 L262.5 823 L262.9 823.2 L263.4 823.4 L263.8 823.6 L264.3 823.9 L264.7 824.1 L265.2 824.3 L265.6 824.5 L266.1 824.7 L266.5 824.9 L267 825.1 L267.4 825.4 L267.9 825.6 L268.3 825.8 L268.8 826 L269.2 826.3 L269.7 826.5 L270.1 826.7 L270.5 827 L271 827.2 L271.4 827.5 L271.9 827.7 L272.3 827.9 L272.7 828.2 L273.2 828.4 L273.6 828.7 L274 828.9 L274.5 829.1 L274.9 829.4 L275.4 829.6 L275.8 829.9 L276.2 830.1 L276.7 830.3 L277.1 830.6 L277.6 830.8 L278 831 L278.5 831.3 L278.9 831.5 L279.3 831.7 L279.8 831.9 L280.2 832.1 L280.7 832.3 L281.2 832.6 L281.6 832.8 L282.1 833 L282.5 833.2 L283 833.4 L283.4 833.6 L283.9 833.8 L284.4 833.9 L284.8 834.1 L285.3 834.3 L285.8 834.5 L286.2 834.6 L286.7 834.8 L287.2 835 L287.6 835.1 L288.1 835.3 L288.6 835.4 L289.1 835.5 L289.6 835.7 L290 835.8 L290.5 835.9 L291 836 L291.5 836.1 L292 836.2 L292.5 836.3 L293 836.4 L293.5 836.5 L293.9 836.6 L294.4 836.7 L294.9 836.8 L295.4 836.8 L295.9 836.9 L296.4 836.9 L296.9 837 L297.4 837 L297.9 837 L298.4 837.1 L298.9 837.1 L299.4 837.1 L299.9 837.1 L300.4 837.1 L300.9 837 L301.4 837 L301.9 837 L302.3 836.9 L302.8 836.8 L303.3 836.8 L303.8 836.7 L304.3 836.6 L304.8 836.5 L305.3 836.4 L305.8 836.3 L306.3 836.2 L306.7 836.1 L307.2 836 L307.7 835.8 L308.2 835.7 L308.7 835.6 L309.1 835.4 L309.6 835.3 L310.1 835.1 L310.6 835 L311 834.8 L311.5 834.7 L312 834.5 L312.5 834.3 L312.9 834.2 L313.4 834 L313.9 833.8 L314.4 833.7 L314.8 833.5 L315.3 833.3 L315.8 833.2 L316.2 833 L316.7 832.8 L317.2 832.7 L317.7 832.5 L318.1 832.3 L318.6 832.2 L319.1 832 L319.5 831.8 L320 831.7 L320.5 831.5 L321 831.3 L321.4 831.2 L321.9 831 L322.4 830.8 L322.8 830.7 L323.3 830.5 L323.8 830.4 L324.3 830.2 L324.7 830 L325.2 829.9 L325.7 829.7 L326.1 829.5 L326.6 829.4 L327.1 829.2 L327.6 829.1 L328 828.9 L328.5 828.8 L329 828.6 L329.5 828.5 L330 828.3 L330.4 828.2 L330.9 828 L331.4 827.9 L331.9 827.7 L332.3 827.6 L332.8 827.4 L333.3 827.3 L333.8 827.2 L334.3 827 L334.7 826.9 L335.2 826.8 L335.7 826.7 L336.2 826.6 L336.7 826.4 L337.2 826.3 L337.7 826.2 L338.2 826.1 L338.6 826 L339.1 825.9 L339.6 825.8 L340.1 825.7 L340.6 825.7 L341.1 825.6 L341.6 825.5 L342.1 825.4 L342.6 825.3 L343.1 825.3 L343.6 825.2 L344.1 825.1 L344.6 825.1 L345.1 825 L345.6 825 L346 824.9 L346.5 824.9 L347 824.8 L347.5 824.8 L348 824.8 L348.5 824.7 L349 824.7 L349.5 824.7 L350 824.7 L350.5 824.6 L351 824.6 L351.5 824.6 L352 824.6 L352.5 824.6 L353 824.5 L353.5 824.5 L354 824.5 L354.5 824.5 L355 824.5 L355.5 824.5 L356 824.5 L356.5 824.5 L357 824.5 L357.5 824.5 L358 824.5 L358.5 824.6 L359 824.6 L359.5 824.6 L360 824.7 L360.5 824.7 L361 824.7 L361.5 824.8 L362 824.8 L362.5 824.9 L363 825 L363.5 825 L364 825.1 L364.5 825.2 L365 825.2 L365.5 825.3 L366 825.4 L366.4 825.5 L366.9 825.6 L367.4 825.7 L367.9 825.8 L368.4 825.9 L368.9 826 L369.4 826.1 L369.9 826.2 L370.4 826.3 L370.8 826.5 L371.3 826.6 L371.8 826.7 L372.3 826.8 L372.8 827 L373.2 827.1 L373.7 827.3 L374.2 827.4 L374.7 827.6 L375.2 827.7 L375.6 827.9 L376.1 828 L376.6 828.2 L377 828.3 L377.5 828.5 L378 828.7 L378.5 828.8 L378.9 829 L379.4 829.2 L379.9 829.3 L380.3 829.5 L380.8 829.7 L381.3 829.9 L381.7 830 L382.2 830.2 L382.7 830.4 L383.1 830.6 L383.6 830.8 L384.1 831 L384.5 831.1 L385 831.3 L385.5 831.5 L385.9 831.7 L386.4 831.9 L386.9 832.1 L387.3 832.3 L387.8 832.5 L388.2 832.6 L388.7 832.8 L389.2 833 L389.6 833.2 L390.1 833.4 L390.6 833.6 L391 833.8 L391.5 834 L391.9 834.1 L392.4 834.3 L392.9 834.5 L393.3 834.7 L393.8 834.9 L394.3 835.1 L394.7 835.3 L395.2 835.4 L395.7 835.6 L396.1 835.8 L396.6 836 L397.1 836.2 L397.5 836.4 L398 836.6 L398.4 836.8 L398.9 836.9 L399.4 837.1 L399.8 837.3 L400.3 837.5 L400.8 837.7 L401.2 837.9 L401.7 838.1 L402.2 838.2 L402.6 838.4 L403.1 838.6 L403.5 838.8 L404 839 L404.5 839.2 L404.9 839.4 L405.4 839.6 L405.9 839.7 L406.3 839.9 L406.8 840.1 L407.3 840.3 L407.7 840.5 L408.2 840.7 L408.7 840.8 L409.1 841 L409.6 841.2 L410.1 841.4 L410.5 841.5 L411 841.7 L411.5 841.9 L411.9 842.1 L412.4 842.2 L412.9 842.4 L413.3 842.6 L413.8 842.8 L414.3 842.9 L414.8 843.1 L415.2 843.3 L415.7 843.4 L416.2 843.6 L416.6 843.8 L417.1 843.9 L417.6 844.1 L418.1 844.2 L418.5 844.4 L419 844.6 L419.5 844.7 L420 844.9 L420.4 845 L420.9 845.2 L421.4 845.3 L421.9 845.5 L422.3 845.6 L422.8 845.8 L423.3 845.9 L423.8 846.1 L424.2 846.2 L424.7 846.4 L425.2 846.5 L425.7 846.7 L426.2 846.8 L426.6 847 L427.1 847.1 L427.6 847.3 L428.1 847.4 L428.6 847.5 L429 847.7 L429.5 847.8 L430 848 L430.5 848.1 L431 848.2 L431.4 848.4 L431.9 848.5 L432.4 848.6 L432.9 848.7 L433.4 848.9 L433.9 849 L434.3 849.1 L434.8 849.3 L435.3 849.4 L435.8 849.5 L436.3 849.6 L436.8 849.8 L437.2 849.9 L437.7 850 L438.2 850.1 L438.7 850.2 L439.2 850.3 L439.7 850.5 L440.2 850.6 L440.6 850.7 L441.1 850.8 L441.6 850.9 L442.1 851 L442.6 851.1 L443.1 851.2 L443.6 851.3 L444.1 851.5 L444.5 851.6 L445 851.7 L445.5 851.8 L446 851.9 L446.5 852 L447 852.1 L447.5 852.2 L448 852.3 L448.5 852.4 L449 852.5 L449.4 852.5 L449.9 852.6 L450.4 852.7 L450.9 852.8 L451.4 852.9 L451.9 853 L452.4 853.1 L452.9 853.2 L453.4 853.3 L453.9 853.3 L454.4 853.4 L454.9 853.5 L455.4 853.6 L455.9 853.7 L456.3 853.7 L456.8 853.8 L457.3 853.9 L457.8 854 L458.3 854 L458.8 854.1 L459.3 854.2 L459.8 854.3 L460.3 854.3 L460.8 854.4 L461.3 854.5 L461.8 854.5 L462.3 854.6 L462.8 854.7 L463.3 854.7 L463.8 854.8 L464.3 854.8 L464.8 854.9 L465.3 855 L465.8 855 L466.3 855.1 L466.8 855.1 L467.2 855.2 L467.7 855.2 L468.2 855.3 L468.7 855.3 L469.2 855.4 L469.7 855.4 L470.2 855.5 L470.7 855.5 L471.2 855.6 L471.7 855.6 L472.2 855.6 L472.7 855.7 L473.2 855.7 L473.7 855.8 L474.2 855.8 L474.7 855.9 L475.2 855.9 L475.7 855.9 L476.2 856 L476.7 856 L477.2 856.1 L477.7 856.1 L478.2 856.1 L478.7 856.2 L479.2 856.2 L479.7 856.2 L480.2 856.3 L480.7 856.3 L481.2 856.3 L481.7 856.4 L482.2 856.4 L482.7 856.4 L483.2 856.5 L483.7 856.5 L484.2 856.5 L484.7 856.5 L485.2 856.6 L485.7 856.6 L486.2 856.6 L486.7 856.6 L487.2 856.7 L487.7 856.7 L488.2 856.7 L488.7 856.7 L489.2 856.8 L489.7 856.8 L490.2 856.8 L490.7 856.8 L491.2 856.9 L491.7 856.9 L492.2 856.9 L492.7 856.9" stroke="#57b32c"/>
</g>
<text x="366.2" y="507.4" font-size="29.4" text-anchor="end">ADA (w/g)</text>
<text x="366.2" y="536.7" font-size="29.4" text-anchor="end">ADA (w/p)</text>
<text x="366.2" y="565.9" font-size="29.4" text-anchor="end">DDA</text>
<text x="366.2" y="595.1" font-size="29.4" text-anchor="end">TDDFT</text>
<rect x="109.3" y="476.4" width="383.9" height="383.7" fill="none" stroke="#000" stroke-width="3.4"/>
<text x="113.6" y="896.2" font-size="33" text-anchor="middle">250</text>
<text x="223.3" y="896.2" font-size="33" text-anchor="middle">350</text>
<text x="333" y="896.2" font-size="33" text-anchor="middle">450</text>
<text x="442.7" y="896.2" font-size="33" text-anchor="middle">550</text>
<text x="94.4" y="871.3" font-size="33" text-anchor="end">0</text>
<text x="94.4" y="775.4" font-size="33" text-anchor="end">0.3</text>
<text x="94.4" y="679.5" font-size="33" text-anchor="end">0.6</text>
<text x="94.4" y="583.6" font-size="33" text-anchor="end">0.9</text>
<text x="94.4" y="487.6" font-size="33" text-anchor="end">1.2</text>
<text x="302.3" y="936.3" font-size="37.7" text-anchor="middle">Wavelength (nm)</text>
<text transform="translate(39.1 668.2) rotate(-90)" font-size="37.7" text-anchor="middle">Intensity (arb. units)</text>
</g>
<g>
<path d="M684.6 860.1 v-6.3 M684.6 476.4 v6.3 M794.2 860.1 v-6.3 M794.2 476.4 v6.3 M903.9 860.1 v-6.3 M903.9 476.4 v6.3 M574.9 764.2 h6.3 M958.8 764.2 h-6.3 M574.9 668.3 h6.3 M958.8 668.3 h-6.3 M574.9 572.4 h6.3 M958.8 572.4 h-6.3" stroke="#000" stroke-width="1.5" fill="none"/>
<path d="M848.8 497.5 H925.6" stroke="#e2211c" stroke-width="4.8" fill="none"/>
<path d="M848.8 526.8 H925.6" stroke="#000000" stroke-width="4.8" fill="none"/>
<path d="M848.8 556 H925.6" stroke="#21409a" stroke-width="4.8" fill="none"/>
<path d="M848.8 585.2 H925.6" stroke="#57b32c" stroke-width="4.8" fill="none"/>
<clipPath id="cp1"><rect x="574.9" y="476.4" width="383.9" height="383.7"/></clipPath>
<g clip-path="url(#cp1)" fill="none" stroke-width="4.8" stroke-linejoin="bevel">
<path d="M574.9 770.5 L575.2 770.1 L575.4 769.7 L575.7 769.2 L576 768.8 L576.2 768.4 L576.5 768 L576.8 767.5 L577 767.1 L577.3 766.7 L577.6 766.3 L577.8 765.8 L578.1 765.4 L578.3 765 L578.6 764.6 L578.8 764.1 L579.1 763.7 L579.4 763.3 L579.6 762.8 L579.9 762.4 L580.1 762 L580.4 761.5 L580.6 761.1 L580.8 760.7 L581.1 760.2 L581.3 759.8 L581.6 759.4 L581.8 758.9 L582 758.5 L582.3 758 L582.5 757.6 L582.7 757.1 L583 756.7 L583.2 756.3 L583.4 755.8 L583.6 755.4 L583.9 754.9 L584.1 754.5 L584.3 754 L584.5 753.6 L584.7 753.1 L585 752.7 L585.2 752.2 L585.4 751.8 L585.6 751.3 L585.8 750.9 L586 750.4 L586.2 750 L586.4 749.5 L586.6 749 L586.8 748.6 L587 748.1 L587.2 747.7 L587.4 747.2 L587.6 746.8 L587.8 746.3 L588 745.8 L588.2 745.4 L588.4 744.9 L588.6 744.5 L588.8 744 L589 743.5 L589.2 743.1 L589.4 742.6 L589.6 742.1 L589.7 741.7 L589.9 741.2 L590.1 740.7 L590.3 740.3 L590.5 739.8 L590.6 739.3 L590.8 738.9 L591 738.4 L591.2 737.9 L591.3 737.5 L591.5 737 L591.7 736.5 L591.8 736.1 L592 735.6 L592.1 735.1 L592.3 734.6 L592.5 734.2 L592.6 733.7 L592.8 733.2 L592.9 732.7 L593.1 732.3 L593.2 731.8 L593.4 731.3 L593.5 730.8 L593.7 730.4 L593.8 729.9 L594 729.4 L594.1 728.9 L594.2 728.4 L594.4 728 L594.5 727.5 L594.7 727 L594.8 726.5 L594.9 726 L595.1 725.6 L595.2 725.1 L595.3 724.6 L595.5 724.1 L595.6 723.6 L595.7 723.1 L595.9 722.7 L596 722.2 L596.1 721.7 L596.3 721.2 L596.4 720.7 L596.5 720.2 L596.6 719.8 L596.8 719.3 L596.9 718.8 L597 718.3 L597.1 717.8 L597.3 717.3 L597.4 716.9 L597.5 716.4 L597.6 715.9 L597.7 715.4 L597.9 714.9 L598 714.4 L598.1 714 L598.2 713.5 L598.4 713 L598.5 712.5 L598.6 712 L598.7 711.5 L598.8 711 L599 710.6 L599.1 710.1 L599.2 709.6 L599.3 709.1 L599.5 708.6 L599.6 708.1 L599.7 707.6 L599.8 707.2 L599.9 706.7 L600.1 706.2 L600.2 705.7 L600.3 705.2 L600.4 704.7 L600.5 704.2 L600.6 703.8 L600.8 703.3 L600.9 702.8 L601 702.3 L601.1 701.8 L601.2 701.3 L601.3 700.8 L601.4 700.4 L601.5 699.9 L601.6 699.4 L601.7 698.9 L601.8 698.4 L602 697.9 L602.1 697.4 L602.2 696.9 L602.3 696.4 L602.4 696 L602.4 695.5 L602.5 695 L602.6 694.5 L602.7 694 L602.8 693.5 L602.9 693 L603 692.5 L603.1 692 L603.2 691.5 L603.3 691 L603.4 690.5 L603.4 690.1 L603.5 689.6 L603.6 689.1 L603.7 688.6 L603.8 688.1 L603.9 687.6 L604 687.1 L604 686.6 L604.1 686.1 L604.2 685.6 L604.3 685.1 L604.4 684.6 L604.4 684.1 L604.5 683.6 L604.6 683.2 L604.7 682.7 L604.8 682.2 L604.8 681.7 L604.9 681.2 L605 680.7 L605.1 680.2 L605.2 679.7 L605.2 679.2 L605.3 678.7 L605.4 678.2 L605.5 677.7 L605.5 677.2 L605.6 676.7 L605.7 676.2 L605.8 675.7 L605.9 675.3 L605.9 674.8 L606 674.3 L606.1 673.8 L606.2 673.3 L606.3 672.8 L606.3 672.3 L606.4 671.8 L606.5 671.3 L606.6 670.8 L606.6 670.3 L606.7 669.8 L606.8 669.3 L606.9 668.8 L607 668.3 L607 667.8 L607.1 667.3 L607.2 666.9 L607.3 666.4 L607.4 665.9 L607.4 665.4 L607.5 664.9 L607.6 664.4 L607.7 663.9 L607.8 663.4 L607.8 662.9 L607.9 662.4 L608 661.9 L608.1 661.4 L608.2 660.9 L608.2 660.4 L608.3 659.9 L608.4 659.5 L608.5 659 L608.5 658.5 L608.6 658 L608.7 657.5 L608.8 657 L608.9 656.5 L608.9 656 L609 655.5 L609.1 655 L609.2 654.5 L609.3 654 L609.3 653.5 L609.4 653 L609.5 652.5 L609.6 652 L609.7 651.6 L609.7 651.1 L609.8 650.6 L609.9 650.1 L610 649.6 L610 649.1 L610.1 648.6 L610.2 648.1 L610.3 647.6 L610.4 647.1 L610.4 646.6 L610.5 646.1 L610.6 645.6 L610.7 645.1 L610.7 644.6 L610.8 644.1 L610.9 643.7 L611 643.2 L611.1 642.7 L611.1 642.2 L611.2 641.7 L611.3 641.2 L611.4 640.7 L611.4 640.2 L611.5 639.7 L611.6 639.2 L611.7 638.7 L611.7 638.2 L611.8 637.7 L611.9 637.2 L612 636.7 L612 636.2 L612.1 635.7 L612.2 635.2 L612.3 634.8 L612.3 634.3 L612.4 633.8 L612.5 633.3 L612.6 632.8 L612.6 632.3 L612.7 631.8 L612.8 631.3 L612.9 630.8 L612.9 630.3 L613 629.8 L613.1 629.3 L613.2 628.8 L613.2 628.3 L613.3 627.8 L613.4 627.3 L613.5 626.8 L613.5 626.3 L613.6 625.9 L613.7 625.4 L613.7 624.9 L613.8 624.4 L613.9 623.9 L614 623.4 L614 622.9 L614.1 622.4 L614.2 621.9 L614.3 621.4 L614.3 620.9 L614.4 620.4 L614.5 619.9 L614.6 619.4 L614.6 618.9 L614.7 618.4 L614.8 617.9 L614.9 617.4 L614.9 617 L615 616.5 L615.1 616 L615.1 615.5 L615.2 615 L615.3 614.5 L615.4 614 L615.4 613.5 L615.5 613 L615.6 612.5 L615.7 612 L615.7 611.5 L615.8 611 L615.9 610.5 L616 610 L616 609.5 L616.1 609 L616.2 608.5 L616.3 608.1 L616.3 607.6 L616.4 607.1 L616.5 606.6 L616.6 606.1 L616.6 605.6 L616.7 605.1 L616.8 604.6 L616.9 604.1 L616.9 603.6 L617 603.1 L617.1 602.6 L617.2 602.1 L617.2 601.6 L617.3 601.1 L617.4 600.6 L617.5 600.1 L617.5 599.6 L617.6 599.2 L617.7 598.7 L617.8 598.2 L617.8 597.7 L617.9 597.2 L618 596.7 L618.1 596.2 L618.1 595.7 L618.2 595.2 L618.3 594.7 L618.4 594.2 L618.4 593.7 L618.5 593.2 L618.6 592.7 L618.7 592.2 L618.7 591.7 L618.8 591.2 L618.9 590.8 L619 590.3 L619.1 589.8 L619.1 589.3 L619.2 588.8 L619.3 588.3 L619.4 587.8 L619.4 587.3 L619.5 586.8 L619.6 586.3 L619.7 585.8 L619.8 585.3 L619.8 584.8 L619.9 584.3 L620 583.8 L620.1 583.3 L620.2 582.9 L620.2 582.4 L620.3 581.9 L620.4 581.4 L620.5 580.9 L620.6 580.4 L620.7 579.9 L620.7 579.4 L620.8 578.9 L620.9 578.4 L621 577.9 L621.1 577.4 L621.2 576.9 L621.3 576.4 L621.3 576 L621.4 575.5 L621.5 575 L621.6 574.5 L621.7 574 L621.8 573.5 L621.9 573 L622 572.5 L622 572 L622.1 571.5 L622.2 571 L622.3 570.5 L622.4 570 L622.5 569.6 L622.6 569.1 L622.7 568.6 L622.8 568.1 L622.9 567.6 L623 567.1 L623.1 566.6 L623.2 566.1 L623.3 565.6 L623.4 565.1 L623.5 564.7 L623.6 564.2 L623.7 563.7 L623.8 563.2 L623.9 562.7 L624 562.2 L624.1 561.7 L624.2 561.2 L624.3 560.7 L624.4 560.3 L624.5 559.8 L624.7 559.3 L624.8 558.8 L624.9 558.3 L625 557.8 L625.1 557.3 L625.2 556.9 L625.4 556.4 L625.5 555.9 L625.6 555.4 L625.7 554.9 L625.9 554.5 L626 554 L626.1 553.5 L626.3 553 L626.4 552.6 L626.6 552.1 L626.7 551.6 L626.9 551.2 L627 550.7 L627.2 550.2 L627.3 549.8 L627.5 549.3 L627.7 548.9 L627.8 548.4 L628 548 L628.2 547.5 L628.3 547.1 L628.5 546.6 L628.7 546.2 L628.9 545.7 L629.1 545.3 L629.3 544.9 L629.5 544.5 L629.8 544.1 L630.1 543.7 L630.3 543.3 L630.7 543 L631 542.7 L631.3 542.4 L631.7 542.2 L632.1 542 L632.4 541.9 L632.8 541.9 L633.2 541.9 L633.6 542 L634 542.1 L634.3 542.4 L634.7 542.6 L635 542.9 L635.3 543.3 L635.6 543.6 L635.9 544 L636.1 544.4 L636.3 544.8 L636.6 545.3 L636.8 545.7 L637 546.1 L637.2 546.6 L637.3 547 L637.5 547.5 L637.7 547.9 L637.8 548.4 L638 548.8 L638.2 549.3 L638.3 549.7 L638.5 550.2 L638.6 550.7 L638.8 551.1 L638.9 551.6 L639.1 552 L639.2 552.5 L639.4 553 L639.5 553.5 L639.6 553.9 L639.8 554.4 L639.9 554.9 L640 555.4 L640.2 555.8 L640.3 556.3 L640.4 556.8 L640.6 557.3 L640.7 557.8 L640.8 558.3 L640.9 558.7 L641 559.2 L641.1 559.7 L641.3 560.2 L641.4 560.7 L641.5 561.2 L641.6 561.7 L641.7 562.1 L641.8 562.6 L641.9 563.1 L642 563.6 L642.2 564.1 L642.3 564.6 L642.4 565.1 L642.5 565.6 L642.6 566.1 L642.7 566.5 L642.8 567 L642.9 567.5 L643 568 L643.1 568.5 L643.2 569 L643.3 569.5 L643.4 570 L643.5 570.5 L643.6 570.9 L643.7 571.4 L643.8 571.9 L643.9 572.4 L644 572.9 L644.1 573.4 L644.2 573.9 L644.3 574.4 L644.4 574.9 L644.5 575.4 L644.6 575.8 L644.7 576.3 L644.8 576.8 L644.9 577.3 L645 577.8 L645.1 578.3 L645.2 578.8 L645.3 579.3 L645.4 579.8 L645.5 580.3 L645.6 580.7 L645.7 581.2 L645.8 581.7 L645.9 582.2 L646 582.7 L646.1 583.2 L646.2 583.7 L646.3 584.2 L646.4 584.7 L646.5 585.2 L646.6 585.7 L646.7 586.1 L646.8 586.6 L646.8 587.1 L646.9 587.6 L647 588.1 L647.1 588.6 L647.2 589.1 L647.3 589.6 L647.4 590.1 L647.5 590.6 L647.6 591 L647.7 591.5 L647.8 592 L647.9 592.5 L648 593 L648.1 593.5 L648.2 594 L648.3 594.5 L648.4 595 L648.5 595.5 L648.6 596 L648.7 596.4 L648.8 596.9 L648.9 597.4 L649 597.9 L649.1 598.4 L649.2 598.9 L649.3 599.4 L649.4 599.9 L649.5 600.4 L649.6 600.9 L649.7 601.3 L649.8 601.8 L649.9 602.3 L649.9 602.8 L650 603.3 L650.1 603.8 L650.2 604.3 L650.3 604.8 L650.4 605.3 L650.5 605.8 L650.6 606.3 L650.7 606.7 L650.8 607.2 L650.9 607.7 L651 608.2 L651.1 608.7 L651.2 609.2 L651.3 609.7 L651.4 610.2 L651.5 610.7 L651.6 611.2 L651.7 611.7 L651.8 612.1 L651.9 612.6 L652 613.1 L652.1 613.6 L652.2 614.1 L652.3 614.6 L652.4 615.1 L652.5 615.6 L652.6 616 L652.7 616.5 L652.9 617 L653 617.5 L653.1 618 L653.2 618.5 L653.3 619 L653.4 619.5 L653.6 619.9 L653.7 620.4 L653.8 620.9 L653.9 621.4 L654.1 621.9 L654.2 622.4 L654.3 622.8 L654.5 623.3 L654.6 623.8 L654.7 624.3 L654.9 624.8 L655 625.2 L655.1 625.7 L655.3 626.2 L655.4 626.7 L655.6 627.2 L655.7 627.6 L655.8 628.1 L656 628.6 L656.1 629.1 L656.3 629.6 L656.4 630 L656.6 630.5 L656.7 631 L656.8 631.5 L657 631.9 L657.1 632.4 L657.3 632.9 L657.4 633.4 L657.6 633.9 L657.7 634.3 L657.9 634.8 L658 635.3 L658.2 635.8 L658.3 636.2 L658.5 636.7 L658.6 637.2 L658.8 637.7 L658.9 638.2 L659.1 638.6 L659.2 639.1 L659.4 639.6 L659.6 640 L659.7 640.5 L659.9 641 L660 641.5 L660.2 641.9 L660.4 642.4 L660.5 642.9 L660.7 643.3 L660.9 643.8 L661.1 644.3 L661.2 644.7 L661.4 645.2 L661.6 645.7 L661.8 646.1 L662 646.6 L662.2 647.1 L662.3 647.5 L662.5 648 L662.7 648.5 L662.9 648.9 L663.1 649.4 L663.3 649.8 L663.5 650.3 L663.7 650.8 L663.9 651.2 L664.1 651.7 L664.3 652.1 L664.5 652.6 L664.7 653 L664.9 653.5 L665.2 653.9 L665.4 654.4 L665.6 654.8 L665.8 655.3 L666 655.7 L666.3 656.2 L666.5 656.6 L666.7 657.1 L666.9 657.5 L667.2 657.9 L667.4 658.4 L667.6 658.8 L667.9 659.3 L668.1 659.7 L668.4 660.1 L668.6 660.6 L668.9 661 L669.1 661.4 L669.4 661.8 L669.7 662.3 L669.9 662.7 L670.2 663.1 L670.5 663.5 L670.8 663.9 L671 664.3 L671.3 664.8 L671.6 665.2 L671.9 665.6 L672.2 666 L672.5 666.4 L672.8 666.8 L673.1 667.2 L673.4 667.6 L673.7 668 L674 668.4 L674.3 668.8 L674.6 669.2 L674.9 669.6 L675.2 669.9 L675.5 670.3 L675.8 670.7 L676.1 671.1 L676.5 671.5 L676.8 671.9 L677.1 672.3 L677.4 672.6 L677.7 673 L678.1 673.4 L678.4 673.8 L678.7 674.2 L679.1 674.5 L679.4 674.9 L679.7 675.3 L680 675.6 L680.4 676 L680.7 676.4 L681.1 676.8 L681.4 677.1 L681.7 677.5 L682.1 677.9 L682.4 678.2 L682.8 678.6 L683.1 679 L683.4 679.3 L683.8 679.7 L684.1 680 L684.5 680.4 L684.8 680.8 L685.2 681.1 L685.5 681.5 L685.9 681.8 L686.2 682.2 L686.5 682.6 L686.9 682.9 L687.2 683.3 L687.6 683.7 L687.9 684 L688.2 684.4 L688.6 684.8 L688.9 685.1 L689.2 685.5 L689.6 685.9 L689.9 686.3 L690.2 686.6 L690.5 687 L690.9 687.4 L691.2 687.8 L691.5 688.2 L691.8 688.6 L692.1 689 L692.4 689.3 L692.7 689.7 L693 690.1 L693.3 690.5 L693.6 690.9 L693.9 691.3 L694.2 691.7 L694.5 692.2 L694.8 692.6 L695 693 L695.3 693.4 L695.6 693.8 L695.9 694.2 L696.2 694.6 L696.5 695 L696.8 695.4 L697 695.8 L697.3 696.2 L697.6 696.6 L697.9 697.1 L698.2 697.5 L698.5 697.9 L698.8 698.3 L699.1 698.7 L699.4 699.1 L699.7 699.5 L700 699.9 L700.3 700.3 L700.6 700.7 L700.9 701.1 L701.2 701.4 L701.5 701.8 L701.8 702.2 L702.1 702.6 L702.4 703 L702.8 703.4 L703.1 703.8 L703.4 704.1 L703.7 704.5 L704.1 704.9 L704.4 705.3 L704.7 705.7 L705 706.1 L705.4 706.4 L705.7 706.8 L706 707.2 L706.3 707.6 L706.7 707.9 L707 708.3 L707.3 708.7 L707.7 709.1 L708 709.4 L708.3 709.8 L708.6 710.2 L709 710.6 L709.3 710.9 L709.6 711.3 L710 711.7 L710.3 712.1 L710.6 712.4 L710.9 712.8 L711.3 713.2 L711.6 713.6 L711.9 714 L712.2 714.3 L712.6 714.7 L712.9 715.1 L713.2 715.5 L713.5 715.9 L713.9 716.2 L714.2 716.6 L714.5 717 L714.8 717.4 L715.2 717.8 L715.5 718.2 L715.8 718.5 L716.1 718.9 L716.4 719.3 L716.7 719.7 L717.1 720.1 L717.4 720.5 L717.7 720.9 L718 721.3 L718.3 721.6 L718.6 722 L718.9 722.4 L719.3 722.8 L719.6 723.2 L719.9 723.6 L720.2 724 L720.5 724.4 L720.8 724.8 L721.1 725.2 L721.4 725.5 L721.8 725.9 L722.1 726.3 L722.4 726.7 L722.7 727.1 L723 727.5 L723.3 727.9 L723.6 728.3 L723.9 728.7 L724.3 729.1 L724.6 729.5 L724.9 729.8 L725.2 730.2 L725.5 730.6 L725.8 731 L726.1 731.4 L726.4 731.8 L726.8 732.2 L727.1 732.6 L727.4 733 L727.7 733.4 L728 733.7 L728.3 734.1 L728.6 734.5 L728.9 734.9 L729.3 735.3 L729.6 735.7 L729.9 736.1 L730.2 736.5 L730.5 736.9 L730.8 737.3 L731.1 737.7 L731.4 738 L731.7 738.4 L732.1 738.8 L732.4 739.2 L732.7 739.6 L733 740 L733.3 740.4 L733.6 740.8 L733.9 741.2 L734.2 741.6 L734.6 741.9 L734.9 742.3 L735.2 742.7 L735.5 743.1 L735.8 743.5 L736.1 743.9 L736.4 744.3 L736.7 744.7 L737.1 745.1 L737.4 745.5 L737.7 745.9 L738 746.2 L738.3 746.6 L738.6 747 L738.9 747.4 L739.2 747.8 L739.6 748.2 L739.9 748.6 L740.2 749 L740.5 749.4 L740.8 749.8 L741.1 750.1 L741.4 750.5 L741.7 750.9 L742.1 751.3 L742.4 751.7 L742.7 752.1 L743 752.5 L743.3 752.9 L743.6 753.3 L743.9 753.7 L744.2 754.1 L744.6 754.4 L744.9 754.8 L745.2 755.2 L745.5 755.6 L745.8 756 L746.1 756.4 L746.4 756.8 L746.7 757.2 L747 757.6 L747.4 758 L747.7 758.4 L748 758.8 L748.3 759.1 L748.6 759.5 L748.9 759.9 L749.2 760.3 L749.5 760.7 L749.8 761.1 L750.2 761.5 L750.5 761.9 L750.8 762.3 L751.1 762.7 L751.4 763 L751.7 763.4 L752 763.8 L752.4 764.2 L752.7 764.6 L753 765 L753.3 765.4 L753.6 765.8 L753.9 766.1 L754.3 766.5 L754.6 766.9 L754.9 767.3 L755.2 767.7 L755.6 768 L755.9 768.4 L756.2 768.8 L756.6 769.2 L756.9 769.5 L757.2 769.9 L757.6 770.3 L757.9 770.6 L758.2 771 L758.6 771.4 L758.9 771.7 L759.3 772.1 L759.6 772.5 L760 772.8 L760.3 773.2 L760.6 773.5 L761 773.9 L761.3 774.3 L761.7 774.6 L762 775 L762.4 775.3 L762.7 775.7 L763.1 776.1 L763.4 776.4 L763.8 776.8 L764.1 777.1 L764.5 777.5 L764.8 777.9 L765.1 778.2 L765.5 778.6 L765.8 778.9 L766.2 779.3 L766.5 779.7 L766.9 780 L767.2 780.4 L767.5 780.8 L767.9 781.1 L768.2 781.5 L768.6 781.9 L768.9 782.2 L769.2 782.6 L769.6 783 L769.9 783.3 L770.3 783.7 L770.6 784.1 L770.9 784.4 L771.3 784.8 L771.6 785.2 L772 785.5 L772.3 785.9 L772.6 786.3 L773 786.6 L773.3 787 L773.7 787.4 L774 787.7 L774.4 788.1 L774.7 788.4 L775.1 788.8 L775.4 789.1 L775.8 789.5 L776.1 789.9 L776.5 790.2 L776.8 790.6 L777.2 790.9 L777.5 791.3 L777.9 791.6 L778.3 791.9 L778.6 792.3 L779 792.6 L779.4 793 L779.7 793.3 L780.1 793.6 L780.5 794 L780.8 794.3 L781.2 794.7 L781.6 795 L782 795.3 L782.3 795.6 L782.7 796 L783.1 796.3 L783.5 796.6 L783.8 796.9 L784.2 797.3 L784.6 797.6 L785 797.9 L785.4 798.2 L785.8 798.5 L786.2 798.8 L786.6 799.1 L787 799.4 L787.4 799.7 L787.7 800.1 L788.1 800.4 L788.5 800.7 L788.9 801 L789.3 801.2 L789.7 801.5 L790.2 801.8 L790.6 802.1 L791 802.4 L791.4 802.7 L791.8 803 L792.2 803.3 L792.6 803.5 L793 803.8 L793.4 804.1 L793.9 804.4 L794.3 804.7 L794.7 804.9 L795.1 805.2 L795.5 805.5 L796 805.7 L796.4 806 L796.8 806.3 L797.2 806.5 L797.7 806.8 L798.1 807 L798.5 807.3 L798.9 807.5 L799.4 807.8 L799.8 808.1 L800.2 808.3 L800.7 808.6 L801.1 808.8 L801.5 809 L802 809.3 L802.4 809.5 L802.8 809.8 L803.3 810 L803.7 810.3 L804.2 810.5 L804.6 810.8 L805 811 L805.5 811.2 L805.9 811.5 L806.3 811.7 L806.8 812 L807.2 812.2 L807.6 812.5 L808.1 812.7 L808.5 812.9 L809 813.2 L809.4 813.4 L809.8 813.7 L810.3 813.9 L810.7 814.1 L811.2 814.4 L811.6 814.6 L812 814.8 L812.5 815.1 L812.9 815.3 L813.4 815.5 L813.8 815.7 L814.3 816 L814.7 816.2 L815.2 816.4 L815.6 816.6 L816.1 816.8 L816.5 817.1 L817 817.3 L817.4 817.5 L817.9 817.7 L818.3 817.9 L818.8 818.1 L819.2 818.3 L819.7 818.5 L820.2 818.6 L820.6 818.8 L821.1 819 L821.6 819.2 L822 819.4 L822.5 819.5 L823 819.7 L823.4 819.9 L823.9 820.1 L824.4 820.2 L824.8 820.4 L825.3 820.6 L825.8 820.7 L826.3 820.9 L826.7 821 L827.2 821.2 L827.7 821.4 L828.1 821.5 L828.6 821.7 L829.1 821.8 L829.6 822 L830.1 822.1 L830.5 822.3 L831 822.4 L831.5 822.6 L832 822.7 L832.4 822.9 L832.9 823 L833.4 823.1 L833.9 823.3 L834.4 823.4 L834.8 823.6 L835.3 823.7 L835.8 823.9 L836.3 824 L836.7 824.2 L837.2 824.3 L837.7 824.5 L838.2 824.6 L838.7 824.7 L839.1 824.9 L839.6 825 L840.1 825.2 L840.6 825.3 L841.1 825.5 L841.5 825.6 L842 825.7 L842.5 825.9 L843 826 L843.5 826.2 L843.9 826.3 L844.4 826.5 L844.9 826.6 L845.4 826.7 L845.8 826.9 L846.3 827 L846.8 827.2 L847.3 827.3 L847.8 827.4 L848.2 827.6 L848.7 827.7 L849.2 827.9 L849.7 828 L850.2 828.1 L850.6 828.3 L851.1 828.4 L851.6 828.6 L852.1 828.7 L852.6 828.8 L853.1 829 L853.5 829.1 L854 829.2 L854.5 829.4 L855 829.5 L855.5 829.6 L855.9 829.8 L856.4 829.9 L856.9 830 L857.4 830.2 L857.9 830.3 L858.3 830.4 L858.8 830.6 L859.3 830.7 L859.8 830.8 L860.3 831 L860.8 831.1 L861.2 831.2 L861.7 831.4 L862.2 831.5 L862.7 831.6 L863.2 831.8 L863.7 831.9 L864.1 832 L864.6 832.2 L865.1 832.3 L865.6 832.4 L866.1 832.5 L866.6 832.7 L867 832.8 L867.5 832.9 L868 833.1 L868.5 833.2 L869 833.3 L869.5 833.4 L869.9 833.6 L870.4 833.7 L870.9 833.8 L871.4 833.9 L871.9 834.1 L872.4 834.2 L872.8 834.3 L873.3 834.4 L873.8 834.6 L874.3 834.7 L874.8 834.8 L875.3 834.9 L875.7 835.1 L876.2 835.2 L876.7 835.3 L877.2 835.4 L877.7 835.5 L878.2 835.7 L878.7 835.8 L879.1 835.9 L879.6 836 L880.1 836.2 L880.6 836.3 L881.1 836.4 L881.6 836.5 L882.1 836.6 L882.5 836.8 L883 836.9 L883.5 837 L884 837.1 L884.5 837.2 L885 837.4 L885.4 837.5 L885.9 837.6 L886.4 837.7 L886.9 837.8 L887.4 837.9 L887.9 838.1 L888.4 838.2 L888.9 838.3 L889.3 838.4 L889.8 838.5 L890.3 838.6 L890.8 838.7 L891.3 838.9 L891.8 839 L892.3 839.1 L892.8 839.2 L893.2 839.3 L893.7 839.4 L894.2 839.5 L894.7 839.6 L895.2 839.7 L895.7 839.8 L896.2 839.9 L896.7 840 L897.2 840.1 L897.6 840.2 L898.1 840.3 L898.6 840.4 L899.1 840.5 L899.6 840.6 L900.1 840.7 L900.6 840.7 L901.1 840.8 L901.6 840.9 L902.1 841 L902.6 841.1 L903.1 841.2 L903.5 841.3 L904 841.3 L904.5 841.4 L905 841.5 L905.5 841.6 L906 841.7 L906.5 841.7 L907 841.8 L907.5 841.9 L908 842 L908.5 842.1 L909 842.1 L909.5 842.2 L910 842.3 L910.5 842.4 L911 842.4 L911.4 842.5 L911.9 842.6 L912.4 842.7 L912.9 842.7 L913.4 842.8 L913.9 842.9 L914.4 842.9 L914.9 843 L915.4 843.1 L915.9 843.2 L916.4 843.2 L916.9 843.3 L917.4 843.4 L917.9 843.5 L918.4 843.5 L918.9 843.6 L919.4 843.7 L919.9 843.7 L920.4 843.8 L920.9 843.9 L921.3 843.9 L921.8 844 L922.3 844 L922.8 844.1 L923.3 844.2 L923.8 844.2 L924.3 844.3 L924.8 844.4 L925.3 844.4 L925.8 844.5 L926.3 844.5 L926.8 844.6 L927.3 844.6 L927.8 844.7 L928.3 844.7 L928.8 844.8 L929.3 844.8 L929.8 844.9 L930.3 844.9 L930.8 845 L931.3 845 L931.8 845.1 L932.3 845.1 L932.8 845.2 L933.3 845.2 L933.8 845.2 L934.3 845.3 L934.8 845.3 L935.3 845.4 L935.8 845.4 L936.3 845.4 L936.8 845.5 L937.3 845.5 L937.8 845.6 L938.3 845.6 L938.8 845.6 L939.3 845.7 L939.8 845.7 L940.3 845.7 L940.8 845.8 L941.3 845.8 L941.7 845.8 L942.2 845.9 L942.7 845.9 L943.2 845.9 L943.7 846 L944.2 846 L944.7 846 L945.2 846.1 L945.7 846.1 L946.2 846.1 L946.7 846.2 L947.2 846.2 L947.7 846.2 L948.2 846.2 L948.7 846.3 L949.2 846.3 L949.7 846.3 L950.2 846.4 L950.7 846.4 L951.2 846.4 L951.7 846.5 L952.2 846.5 L952.7 846.5 L953.2 846.5 L953.7 846.6 L954.2 846.6 L954.7 846.6 L955.2 846.7 L955.7 846.7 L956.2 846.7 L956.7 846.7 L957.2 846.8 L957.7 846.8 L958.2 846.8" stroke="#e2211c"/>
<path d="M574.9 779 L575.2 778.6 L575.5 778.2 L575.8 777.8 L576 777.4 L576.3 777 L576.6 776.5 L576.9 776.1 L577.2 775.7 L577.5 775.3 L577.7 774.9 L578 774.5 L578.3 774.1 L578.6 773.7 L578.9 773.2 L579.1 772.8 L579.4 772.4 L579.7 772 L579.9 771.6 L580.2 771.1 L580.5 770.7 L580.7 770.3 L581 769.9 L581.3 769.4 L581.5 769 L581.8 768.6 L582 768.2 L582.3 767.7 L582.5 767.3 L582.8 766.9 L583 766.4 L583.3 766 L583.5 765.6 L583.8 765.1 L584 764.7 L584.2 764.2 L584.5 763.8 L584.7 763.4 L584.9 762.9 L585.2 762.5 L585.4 762 L585.6 761.6 L585.9 761.1 L586.1 760.7 L586.3 760.3 L586.5 759.8 L586.8 759.4 L587 758.9 L587.2 758.5 L587.4 758 L587.6 757.6 L587.8 757.1 L588.1 756.7 L588.3 756.2 L588.5 755.7 L588.7 755.3 L588.9 754.8 L589.1 754.4 L589.3 753.9 L589.5 753.5 L589.7 753 L589.9 752.6 L590.1 752.1 L590.3 751.6 L590.5 751.2 L590.7 750.7 L590.9 750.3 L591.1 749.8 L591.3 749.3 L591.5 748.9 L591.7 748.4 L591.9 748 L592.1 747.5 L592.3 747 L592.4 746.6 L592.6 746.1 L592.8 745.6 L593 745.2 L593.2 744.7 L593.4 744.3 L593.6 743.8 L593.7 743.3 L593.9 742.9 L594.1 742.4 L594.3 741.9 L594.4 741.5 L594.6 741 L594.8 740.5 L595 740 L595.1 739.6 L595.3 739.1 L595.5 738.6 L595.6 738.2 L595.8 737.7 L596 737.2 L596.1 736.7 L596.3 736.3 L596.4 735.8 L596.6 735.3 L596.7 734.8 L596.9 734.4 L597.1 733.9 L597.2 733.4 L597.4 732.9 L597.5 732.5 L597.6 732 L597.8 731.5 L597.9 731 L598.1 730.6 L598.2 730.1 L598.4 729.6 L598.5 729.1 L598.6 728.6 L598.8 728.2 L598.9 727.7 L599.1 727.2 L599.2 726.7 L599.3 726.2 L599.5 725.8 L599.6 725.3 L599.8 724.8 L599.9 724.3 L600 723.8 L600.2 723.4 L600.3 722.9 L600.4 722.4 L600.6 721.9 L600.7 721.4 L600.8 720.9 L601 720.5 L601.1 720 L601.3 719.5 L601.4 719 L601.5 718.5 L601.7 718.1 L601.8 717.6 L602 717.1 L602.1 716.6 L602.2 716.1 L602.4 715.7 L602.5 715.2 L602.6 714.7 L602.8 714.2 L602.9 713.7 L603.1 713.3 L603.2 712.8 L603.3 712.3 L603.5 711.8 L603.6 711.3 L603.8 710.9 L603.9 710.4 L604 709.9 L604.2 709.4 L604.3 708.9 L604.4 708.5 L604.6 708 L604.7 707.5 L604.9 707 L605 706.5 L605.1 706 L605.3 705.6 L605.4 705.1 L605.5 704.6 L605.6 704.1 L605.8 703.6 L605.9 703.2 L606 702.7 L606.2 702.2 L606.3 701.7 L606.4 701.2 L606.5 700.7 L606.6 700.2 L606.8 699.8 L606.9 699.3 L607 698.8 L607.1 698.3 L607.2 697.8 L607.3 697.3 L607.4 696.8 L607.5 696.4 L607.6 695.9 L607.7 695.4 L607.8 694.9 L607.9 694.4 L608 693.9 L608.1 693.4 L608.2 692.9 L608.3 692.4 L608.4 691.9 L608.5 691.4 L608.6 691 L608.7 690.5 L608.8 690 L608.8 689.5 L608.9 689 L609 688.5 L609.1 688 L609.2 687.5 L609.3 687 L609.3 686.5 L609.4 686 L609.5 685.5 L609.6 685 L609.7 684.6 L609.8 684.1 L609.8 683.6 L609.9 683.1 L610 682.6 L610.1 682.1 L610.1 681.6 L610.2 681.1 L610.3 680.6 L610.4 680.1 L610.5 679.6 L610.5 679.1 L610.6 678.6 L610.7 678.1 L610.8 677.6 L610.8 677.1 L610.9 676.6 L611 676.2 L611.1 675.7 L611.1 675.2 L611.2 674.7 L611.3 674.2 L611.4 673.7 L611.5 673.2 L611.5 672.7 L611.6 672.2 L611.7 671.7 L611.8 671.2 L611.8 670.7 L611.9 670.2 L612 669.7 L612.1 669.2 L612.2 668.7 L612.2 668.3 L612.3 667.8 L612.4 667.3 L612.5 666.8 L612.6 666.3 L612.6 665.8 L612.7 665.3 L612.8 664.8 L612.9 664.3 L613 663.8 L613 663.3 L613.1 662.8 L613.2 662.3 L613.3 661.8 L613.3 661.3 L613.4 660.8 L613.5 660.4 L613.6 659.9 L613.7 659.4 L613.7 658.9 L613.8 658.4 L613.9 657.9 L614 657.4 L614.1 656.9 L614.1 656.4 L614.2 655.9 L614.3 655.4 L614.4 654.9 L614.5 654.4 L614.5 653.9 L614.6 653.4 L614.7 652.9 L614.8 652.5 L614.9 652 L614.9 651.5 L615 651 L615.1 650.5 L615.2 650 L615.2 649.5 L615.3 649 L615.4 648.5 L615.5 648 L615.6 647.5 L615.6 647 L615.7 646.5 L615.8 646 L615.9 645.5 L615.9 645 L616 644.6 L616.1 644.1 L616.2 643.6 L616.3 643.1 L616.3 642.6 L616.4 642.1 L616.5 641.6 L616.6 641.1 L616.6 640.6 L616.7 640.1 L616.8 639.6 L616.9 639.1 L616.9 638.6 L617 638.1 L617.1 637.6 L617.1 637.1 L617.2 636.6 L617.3 636.1 L617.4 635.7 L617.4 635.2 L617.5 634.7 L617.6 634.2 L617.7 633.7 L617.7 633.2 L617.8 632.7 L617.9 632.2 L618 631.7 L618 631.2 L618.1 630.7 L618.2 630.2 L618.3 629.7 L618.3 629.2 L618.4 628.7 L618.5 628.2 L618.6 627.7 L618.6 627.2 L618.7 626.8 L618.8 626.3 L618.9 625.8 L618.9 625.3 L619 624.8 L619.1 624.3 L619.2 623.8 L619.3 623.3 L619.3 622.8 L619.4 622.3 L619.5 621.8 L619.6 621.3 L619.7 620.8 L619.7 620.3 L619.8 619.8 L619.9 619.4 L620 618.9 L620.1 618.4 L620.2 617.9 L620.3 617.4 L620.4 616.9 L620.4 616.4 L620.5 615.9 L620.6 615.4 L620.7 614.9 L620.8 614.4 L620.9 613.9 L621 613.5 L621.1 613 L621.2 612.5 L621.3 612 L621.4 611.5 L621.5 611 L621.6 610.5 L621.7 610 L621.8 609.5 L621.9 609 L622 608.5 L622.1 608.1 L622.2 607.6 L622.3 607.1 L622.4 606.6 L622.5 606.1 L622.6 605.6 L622.7 605.1 L622.8 604.6 L622.9 604.1 L623 603.7 L623.1 603.2 L623.2 602.7 L623.3 602.2 L623.4 601.7 L623.5 601.2 L623.6 600.7 L623.7 600.2 L623.8 599.7 L623.9 599.2 L624 598.8 L624.1 598.3 L624.2 597.8 L624.3 597.3 L624.4 596.8 L624.5 596.3 L624.6 595.8 L624.7 595.3 L624.8 594.8 L624.8 594.3 L624.9 593.8 L625 593.4 L625.1 592.9 L625.2 592.4 L625.3 591.9 L625.4 591.4 L625.5 590.9 L625.6 590.4 L625.7 589.9 L625.8 589.4 L625.9 588.9 L626 588.5 L626.1 588 L626.2 587.5 L626.3 587 L626.4 586.5 L626.5 586 L626.6 585.5 L626.7 585 L626.8 584.5 L626.9 584 L627 583.6 L627.1 583.1 L627.2 582.6 L627.3 582.1 L627.4 581.6 L627.5 581.1 L627.6 580.6 L627.7 580.1 L627.8 579.6 L627.9 579.1 L628 578.7 L628.1 578.2 L628.2 577.7 L628.3 577.2 L628.4 576.7 L628.6 576.2 L628.7 575.7 L628.8 575.2 L628.9 574.7 L629 574.3 L629.1 573.8 L629.2 573.3 L629.3 572.8 L629.4 572.3 L629.5 571.8 L629.6 571.3 L629.8 570.8 L629.9 570.4 L630 569.9 L630.1 569.4 L630.2 568.9 L630.3 568.4 L630.4 567.9 L630.6 567.4 L630.7 567 L630.8 566.5 L630.9 566 L631 565.5 L631.1 565 L631.3 564.5 L631.4 564 L631.5 563.6 L631.6 563.1 L631.8 562.6 L631.9 562.1 L632 561.6 L632.1 561.1 L632.3 560.7 L632.4 560.2 L632.5 559.7 L632.6 559.2 L632.8 558.7 L632.9 558.2 L633 557.8 L633.2 557.3 L633.3 556.8 L633.5 556.3 L633.6 555.8 L633.7 555.4 L633.9 554.9 L634 554.4 L634.2 553.9 L634.3 553.5 L634.5 553 L634.6 552.5 L634.8 552.1 L635 551.6 L635.1 551.1 L635.3 550.7 L635.5 550.2 L635.6 549.8 L635.8 549.3 L636 548.9 L636.2 548.4 L636.3 548 L636.5 547.5 L636.7 547.1 L636.9 546.7 L637.1 546.2 L637.3 545.8 L637.5 545.4 L637.8 544.9 L638 544.5 L638.3 544.1 L638.6 543.7 L638.8 543.4 L639.2 543 L639.5 542.7 L639.8 542.4 L640.2 542.2 L640.6 542 L641 541.9 L641.4 541.8 L641.8 541.8 L642.2 541.8 L642.6 541.9 L643 542.1 L643.4 542.2 L643.8 542.5 L644.1 542.7 L644.5 543 L644.8 543.4 L645.2 543.7 L645.4 544.1 L645.7 544.5 L646 544.9 L646.3 545.3 L646.5 545.7 L646.7 546.1 L647 546.5 L647.2 546.9 L647.4 547.4 L647.6 547.8 L647.8 548.2 L648.1 548.7 L648.3 549.1 L648.5 549.5 L648.7 550 L648.9 550.4 L649.1 550.9 L649.3 551.3 L649.5 551.8 L649.7 552.2 L649.9 552.7 L650.1 553.1 L650.3 553.6 L650.4 554 L650.6 554.5 L650.8 555 L651 555.4 L651.2 555.9 L651.3 556.4 L651.5 556.8 L651.7 557.3 L651.9 557.8 L652 558.2 L652.2 558.7 L652.4 559.2 L652.5 559.7 L652.7 560.1 L652.9 560.6 L653 561.1 L653.2 561.5 L653.4 562 L653.5 562.5 L653.7 563 L653.8 563.4 L654 563.9 L654.2 564.4 L654.3 564.8 L654.5 565.3 L654.6 565.8 L654.8 566.3 L655 566.7 L655.1 567.2 L655.3 567.7 L655.4 568.2 L655.6 568.6 L655.8 569.1 L655.9 569.6 L656.1 570.1 L656.2 570.5 L656.4 571 L656.6 571.5 L656.7 572 L656.9 572.4 L657 572.9 L657.2 573.4 L657.4 573.8 L657.5 574.3 L657.7 574.8 L657.9 575.3 L658 575.7 L658.2 576.2 L658.3 576.7 L658.5 577.2 L658.7 577.6 L658.8 578.1 L659 578.6 L659.2 579 L659.4 579.5 L659.5 580 L659.7 580.4 L659.9 580.9 L660.1 581.4 L660.2 581.8 L660.4 582.3 L660.6 582.8 L660.8 583.2 L661 583.7 L661.2 584.2 L661.3 584.6 L661.5 585.1 L661.7 585.5 L661.9 586 L662.1 586.5 L662.3 586.9 L662.5 587.4 L662.7 587.8 L663 588.3 L663.2 588.7 L663.4 589.2 L663.6 589.6 L663.8 590.1 L664.1 590.5 L664.3 590.9 L664.5 591.4 L664.8 591.8 L665 592.2 L665.3 592.7 L665.5 593.1 L665.8 593.5 L666.1 593.9 L666.3 594.3 L666.6 594.7 L666.9 595.1 L667.2 595.5 L667.5 595.9 L667.8 596.3 L668.1 596.7 L668.4 597.1 L668.7 597.5 L669 597.8 L669.4 598.2 L669.7 598.6 L670 598.9 L670.4 599.3 L670.7 599.6 L671.1 599.9 L671.5 600.2 L671.8 600.6 L672.2 600.9 L672.6 601.2 L673 601.5 L673.4 601.8 L673.8 602.1 L674.2 602.4 L674.6 602.6 L675 602.9 L675.4 603.2 L675.8 603.5 L676.2 603.7 L676.7 604 L677.1 604.3 L677.5 604.5 L677.9 604.8 L678.4 605 L678.8 605.3 L679.2 605.5 L679.6 605.8 L680.1 606.1 L680.5 606.3 L680.9 606.6 L681.3 606.8 L681.8 607.1 L682.2 607.4 L682.6 607.6 L683 607.9 L683.5 608.1 L683.9 608.4 L684.3 608.7 L684.7 609 L685.1 609.2 L685.5 609.5 L685.9 609.8 L686.4 610.1 L686.8 610.4 L687.2 610.7 L687.6 611 L688 611.3 L688.3 611.6 L688.7 611.9 L689.1 612.2 L689.5 612.5 L689.9 612.8 L690.3 613.1 L690.7 613.5 L691 613.8 L691.4 614.1 L691.8 614.4 L692.2 614.8 L692.5 615.1 L692.9 615.4 L693.3 615.8 L693.6 616.1 L694 616.5 L694.4 616.8 L694.7 617.2 L695.1 617.5 L695.4 617.8 L695.8 618.2 L696.2 618.5 L696.5 618.9 L696.9 619.2 L697.2 619.6 L697.6 619.9 L697.9 620.3 L698.3 620.6 L698.6 621 L699 621.4 L699.4 621.7 L699.7 622.1 L700.1 622.4 L700.4 622.8 L700.8 623.1 L701.1 623.5 L701.5 623.8 L701.8 624.2 L702.2 624.6 L702.5 624.9 L702.8 625.3 L703.2 625.6 L703.5 626 L703.9 626.4 L704.2 626.7 L704.6 627.1 L704.9 627.5 L705.3 627.8 L705.6 628.2 L705.9 628.5 L706.3 628.9 L706.6 629.3 L706.9 629.7 L707.3 630 L707.6 630.4 L708 630.8 L708.3 631.1 L708.6 631.5 L708.9 631.9 L709.3 632.3 L709.6 632.6 L709.9 633 L710.3 633.4 L710.6 633.8 L710.9 634.2 L711.2 634.5 L711.6 634.9 L711.9 635.3 L712.2 635.7 L712.5 636.1 L712.9 636.4 L713.2 636.8 L713.5 637.2 L713.8 637.6 L714.1 638 L714.4 638.4 L714.8 638.8 L715.1 639.1 L715.4 639.5 L715.7 639.9 L716 640.3 L716.3 640.7 L716.6 641.1 L716.9 641.5 L717.3 641.9 L717.6 642.3 L717.9 642.7 L718.2 643.1 L718.5 643.5 L718.8 643.9 L719.1 644.3 L719.3 644.7 L719.6 645.1 L719.9 645.5 L720.2 645.9 L720.5 646.3 L720.8 646.7 L721.1 647.1 L721.4 647.5 L721.6 647.9 L721.9 648.4 L722.2 648.8 L722.5 649.2 L722.8 649.6 L723 650 L723.3 650.4 L723.6 650.8 L723.9 651.3 L724.2 651.7 L724.4 652.1 L724.7 652.5 L725 652.9 L725.3 653.3 L725.6 653.7 L725.8 654.1 L726.1 654.5 L726.4 655 L726.7 655.4 L727 655.8 L727.3 656.2 L727.6 656.6 L727.9 657 L728.2 657.4 L728.5 657.8 L728.8 658.1 L729.1 658.5 L729.4 658.9 L729.7 659.3 L730 659.7 L730.4 660.1 L730.7 660.5 L731 660.9 L731.3 661.2 L731.6 661.6 L731.9 662 L732.3 662.4 L732.6 662.8 L732.9 663.2 L733.2 663.5 L733.5 663.9 L733.9 664.3 L734.2 664.7 L734.5 665.1 L734.8 665.5 L735.1 665.9 L735.4 666.3 L735.7 666.6 L736 667 L736.3 667.4 L736.6 667.8 L736.9 668.2 L737.2 668.6 L737.5 669 L737.8 669.4 L738.1 669.8 L738.4 670.2 L738.7 670.7 L739 671.1 L739.3 671.5 L739.6 671.9 L739.8 672.3 L740.1 672.7 L740.4 673.1 L740.7 673.5 L741 674 L741.2 674.4 L741.5 674.8 L741.8 675.2 L742 675.6 L742.3 676 L742.6 676.5 L742.9 676.9 L743.1 677.3 L743.4 677.7 L743.6 678.2 L743.9 678.6 L744.2 679 L744.4 679.4 L744.7 679.9 L745 680.3 L745.2 680.7 L745.5 681.1 L745.7 681.6 L746 682 L746.3 682.4 L746.5 682.9 L746.8 683.3 L747 683.7 L747.3 684.1 L747.5 684.6 L747.8 685 L748 685.4 L748.3 685.9 L748.5 686.3 L748.8 686.7 L749 687.2 L749.3 687.6 L749.5 688 L749.8 688.5 L750 688.9 L750.3 689.3 L750.5 689.8 L750.8 690.2 L751 690.7 L751.2 691.1 L751.5 691.5 L751.7 692 L752 692.4 L752.2 692.8 L752.5 693.3 L752.7 693.7 L752.9 694.2 L753.2 694.6 L753.4 695 L753.7 695.5 L753.9 695.9 L754.1 696.3 L754.4 696.8 L754.6 697.2 L754.9 697.7 L755.1 698.1 L755.3 698.5 L755.6 699 L755.8 699.4 L756 699.9 L756.3 700.3 L756.5 700.7 L756.8 701.2 L757 701.6 L757.2 702.1 L757.5 702.5 L757.7 702.9 L758 703.4 L758.2 703.8 L758.4 704.2 L758.7 704.7 L758.9 705.1 L759.2 705.6 L759.4 706 L759.7 706.4 L759.9 706.9 L760.2 707.3 L760.4 707.7 L760.6 708.2 L760.9 708.6 L761.1 709 L761.4 709.5 L761.6 709.9 L761.9 710.3 L762.1 710.8 L762.4 711.2 L762.6 711.6 L762.9 712.1 L763.1 712.5 L763.4 712.9 L763.7 713.4 L763.9 713.8 L764.2 714.2 L764.4 714.7 L764.7 715.1 L764.9 715.5 L765.2 715.9 L765.5 716.4 L765.7 716.8 L766 717.2 L766.2 717.6 L766.5 718.1 L766.8 718.5 L767 718.9 L767.3 719.3 L767.5 719.8 L767.8 720.2 L768.1 720.6 L768.3 721 L768.6 721.5 L768.9 721.9 L769.1 722.3 L769.4 722.7 L769.7 723.2 L769.9 723.6 L770.2 724 L770.5 724.4 L770.7 724.9 L771 725.3 L771.3 725.7 L771.5 726.1 L771.8 726.5 L772.1 727 L772.3 727.4 L772.6 727.8 L772.9 728.2 L773.1 728.7 L773.4 729.1 L773.7 729.5 L773.9 729.9 L774.2 730.3 L774.5 730.8 L774.7 731.2 L775 731.6 L775.3 732 L775.5 732.5 L775.8 732.9 L776.1 733.3 L776.4 733.7 L776.6 734.1 L776.9 734.6 L777.2 735 L777.4 735.4 L777.7 735.8 L778 736.3 L778.2 736.7 L778.5 737.1 L778.8 737.5 L779.1 737.9 L779.3 738.4 L779.6 738.8 L779.9 739.2 L780.1 739.6 L780.4 740 L780.7 740.4 L781 740.9 L781.2 741.3 L781.5 741.7 L781.8 742.1 L782.1 742.5 L782.4 742.9 L782.6 743.4 L782.9 743.8 L783.2 744.2 L783.5 744.6 L783.8 745 L784.1 745.4 L784.3 745.8 L784.6 746.2 L784.9 746.6 L785.2 747 L785.5 747.4 L785.8 747.9 L786.1 748.3 L786.4 748.7 L786.7 749.1 L787 749.5 L787.3 749.9 L787.6 750.3 L787.9 750.7 L788.2 751.1 L788.5 751.5 L788.8 751.8 L789.1 752.2 L789.4 752.6 L789.7 753 L790 753.4 L790.3 753.8 L790.6 754.2 L791 754.6 L791.3 755 L791.6 755.4 L791.9 755.8 L792.2 756.1 L792.5 756.5 L792.9 756.9 L793.2 757.3 L793.5 757.7 L793.8 758.1 L794.1 758.5 L794.5 758.8 L794.8 759.2 L795.1 759.6 L795.4 760 L795.8 760.4 L796.1 760.7 L796.4 761.1 L796.7 761.5 L797.1 761.9 L797.4 762.2 L797.7 762.6 L798.1 763 L798.4 763.4 L798.7 763.7 L799.1 764.1 L799.4 764.5 L799.7 764.9 L800.1 765.2 L800.4 765.6 L800.7 766 L801.1 766.3 L801.4 766.7 L801.8 767 L802.1 767.4 L802.5 767.8 L802.8 768.1 L803.2 768.5 L803.5 768.8 L803.9 769.2 L804.2 769.5 L804.6 769.9 L804.9 770.3 L805.3 770.6 L805.6 770.9 L806 771.3 L806.4 771.6 L806.7 772 L807.1 772.3 L807.4 772.7 L807.8 773 L808.2 773.4 L808.5 773.7 L808.9 774 L809.3 774.4 L809.7 774.7 L810 775 L810.4 775.4 L810.8 775.7 L811.1 776 L811.5 776.4 L811.9 776.7 L812.3 777 L812.7 777.3 L813 777.7 L813.4 778 L813.8 778.3 L814.2 778.6 L814.6 778.9 L815 779.2 L815.4 779.6 L815.7 779.9 L816.1 780.2 L816.5 780.5 L816.9 780.8 L817.3 781.1 L817.7 781.4 L818.1 781.7 L818.5 782 L818.9 782.3 L819.3 782.6 L819.7 782.9 L820.1 783.2 L820.5 783.5 L820.9 783.8 L821.3 784.1 L821.7 784.4 L822.1 784.7 L822.5 785 L822.9 785.3 L823.3 785.6 L823.7 785.9 L824.1 786.2 L824.5 786.5 L825 786.7 L825.4 787 L825.8 787.3 L826.2 787.6 L826.6 787.9 L827 788.2 L827.4 788.4 L827.8 788.7 L828.2 789 L828.7 789.3 L829.1 789.6 L829.5 789.8 L829.9 790.1 L830.3 790.4 L830.7 790.7 L831.2 790.9 L831.6 791.2 L832 791.5 L832.4 791.8 L832.8 792 L833.3 792.3 L833.7 792.6 L834.1 792.8 L834.5 793.1 L835 793.3 L835.4 793.6 L835.8 793.9 L836.2 794.1 L836.7 794.4 L837.1 794.6 L837.5 794.9 L838 795.1 L838.4 795.4 L838.8 795.6 L839.3 795.8 L839.7 796.1 L840.2 796.3 L840.6 796.6 L841 796.8 L841.5 797 L841.9 797.3 L842.4 797.5 L842.8 797.7 L843.3 797.9 L843.7 798.2 L844.1 798.4 L844.6 798.6 L845 798.8 L845.5 799 L845.9 799.3 L846.4 799.5 L846.8 799.7 L847.3 799.9 L847.8 800.1 L848.2 800.3 L848.7 800.5 L849.1 800.7 L849.6 800.9 L850 801.1 L850.5 801.4 L850.9 801.6 L851.4 801.8 L851.9 802 L852.3 802.2 L852.8 802.4 L853.2 802.6 L853.7 802.8 L854.1 802.9 L854.6 803.1 L855.1 803.3 L855.5 803.5 L856 803.7 L856.5 803.9 L856.9 804.1 L857.4 804.3 L857.8 804.5 L858.3 804.7 L858.8 804.9 L859.2 805.1 L859.7 805.2 L860.2 805.4 L860.6 805.6 L861.1 805.8 L861.5 806 L862 806.2 L862.5 806.4 L862.9 806.5 L863.4 806.7 L863.9 806.9 L864.3 807.1 L864.8 807.3 L865.3 807.4 L865.7 807.6 L866.2 807.8 L866.7 808 L867.1 808.2 L867.6 808.4 L868.1 808.5 L868.5 808.7 L869 808.9 L869.5 809.1 L869.9 809.2 L870.4 809.4 L870.9 809.6 L871.3 809.8 L871.8 809.9 L872.3 810.1 L872.7 810.3 L873.2 810.5 L873.7 810.6 L874.2 810.8 L874.6 811 L875.1 811.2 L875.6 811.3 L876 811.5 L876.5 811.7 L877 811.8 L877.4 812 L877.9 812.2 L878.4 812.4 L878.9 812.5 L879.3 812.7 L879.8 812.9 L880.3 813 L880.7 813.2 L881.2 813.4 L881.7 813.5 L882.2 813.7 L882.6 813.8 L883.1 814 L883.6 814.2 L884 814.3 L884.5 814.5 L885 814.6 L885.5 814.8 L885.9 815 L886.4 815.1 L886.9 815.3 L887.4 815.4 L887.8 815.6 L888.3 815.8 L888.8 815.9 L889.3 816.1 L889.7 816.2 L890.2 816.4 L890.7 816.5 L891.2 816.7 L891.6 816.8 L892.1 817 L892.6 817.1 L893.1 817.3 L893.5 817.4 L894 817.6 L894.5 817.7 L895 817.9 L895.5 818 L895.9 818.2 L896.4 818.3 L896.9 818.5 L897.4 818.6 L897.8 818.8 L898.3 818.9 L898.8 819.1 L899.3 819.2 L899.8 819.4 L900.2 819.5 L900.7 819.7 L901.2 819.8 L901.7 819.9 L902.1 820.1 L902.6 820.2 L903.1 820.4 L903.6 820.5 L904.1 820.7 L904.5 820.8 L905 821 L905.5 821.1 L906 821.2 L906.5 821.4 L906.9 821.5 L907.4 821.7 L907.9 821.8 L908.4 822 L908.9 822.1 L909.3 822.3 L909.8 822.4 L910.3 822.5 L910.8 822.7 L911.2 822.8 L911.7 823 L912.2 823.1 L912.7 823.3 L913.2 823.4 L913.6 823.5 L914.1 823.7 L914.6 823.8 L915.1 824 L915.6 824.1 L916 824.2 L916.5 824.4 L917 824.5 L917.5 824.7 L918 824.8 L918.4 824.9 L918.9 825.1 L919.4 825.2 L919.9 825.4 L920.4 825.5 L920.8 825.6 L921.3 825.8 L921.8 825.9 L922.3 826 L922.8 826.2 L923.3 826.3 L923.7 826.4 L924.2 826.6 L924.7 826.7 L925.2 826.8 L925.7 827 L926.1 827.1 L926.6 827.2 L927.1 827.3 L927.6 827.5 L928.1 827.6 L928.6 827.7 L929 827.8 L929.5 828 L930 828.1 L930.5 828.2 L931 828.3 L931.5 828.5 L932 828.6 L932.4 828.7 L932.9 828.8 L933.4 828.9 L933.9 829.1 L934.4 829.2 L934.9 829.3 L935.4 829.4 L935.8 829.5 L936.3 829.6 L936.8 829.8 L937.3 829.9 L937.8 830 L938.3 830.1 L938.8 830.2 L939.2 830.3 L939.7 830.4 L940.2 830.6 L940.7 830.7 L941.2 830.8 L941.7 830.9 L942.2 831 L942.7 831.1 L943.1 831.2 L943.6 831.3 L944.1 831.5 L944.6 831.6 L945.1 831.7 L945.6 831.8 L946.1 831.9 L946.6 832 L947.1 832.1 L947.5 832.2 L948 832.3 L948.5 832.4 L949 832.5 L949.5 832.6 L950 832.7 L950.5 832.8 L951 832.9 L951.5 833 L951.9 833.1 L952.4 833.2 L952.9 833.3 L953.4 833.4 L953.9 833.5 L954.4 833.6 L954.9 833.7 L955.4 833.8 L955.9 833.9 L956.4 834 L956.9 834.1 L957.3 834.2 L957.8 834.3 L958.3 834.3" stroke="#000000"/>
<path d="M574.9 806.8 L575.9 807.2 L576.9 807.5 L577.9 807.8 L578.9 808.1 L579.9 808.5 L580.9 808.8 L581.9 809.1 L582.9 809.5 L583.9 809.8 L584.9 810.1 L585.9 810.5 L586.1 810.5 L586.9 810.8 L587.9 811.2 L588.9 811.5 L589.9 811.9 L590.9 812.2 L591.9 812.6 L592.9 813 L593.9 813.3 L594.9 813.7 L595.9 814 L596.6 814.2 L596.9 814.3 L597.9 814.6 L598.9 815 L599.9 815.3 L600.9 815.6 L601.9 815.9 L602.9 816.2 L603.9 816.5 L604.9 816.8 L605.9 817 L606.9 817.3 L607.1 817.4 L607.9 817.6 L608.9 817.8 L609.9 818.1 L610.9 818.3 L611.9 818.5 L612.9 818.7 L613.9 819 L614.9 819.2 L615.9 819.5 L616.9 819.8 L617.6 820 L617.9 820.1 L618.9 820.4 L619.9 820.8 L620.9 821.2 L621.9 821.6 L622.9 822.1 L623.9 822.5 L624.9 823 L625.9 823.5 L626.9 824.1 L627.9 824.6 L628.2 824.7 L628.9 825.2 L629.9 825.8 L630.9 826.4 L631.9 827.1 L632.9 827.8 L633.9 828.5 L634.9 829.2 L635.9 830 L636.9 830.7 L637.9 831.5 L638.7 832.1 L638.9 832.3 L639.9 833.1 L640.9 834 L641.9 835 L642.9 836 L643.9 836.8 L644.9 837.7 L645.9 838.3 L646.1 838.4 L646.9 838.9 L647.9 839.5 L648.9 840.1 L649.9 840.5 L650.9 840.7 L651.3 840.7 L651.9 840.6 L652.9 839.6 L653.9 838.1 L654.9 836.4 L655.5 835.3 L655.9 834.6 L656.9 832.4 L657.9 829.9 L658.9 827.1 L659.7 824.7 L659.9 824.2 L660.9 820.6 L661.9 816.9 L662.9 814.2 L662.9 814.2 L663.9 812.5 L664.9 811.3 L665.5 811.1 L665.9 811.1 L666.9 811.1 L667.9 811.1 L668.7 811.1 L668.9 811 L669.9 808.9 L670.8 805.8 L670.9 805.3 L671.9 798.1 L672.4 794.2 L672.9 790.5 L673.9 781.2 L673.9 780.5 L674.5 763.2 L674.9 755.9 L675.9 744 L676.1 742.1 L676.9 730.8 L677.6 721.1 L677.9 717.5 L678.9 704.4 L679.2 700 L679.9 689.8 L680.3 683.2 L680.9 665 L681.3 651.6 L681.9 632.5 L682.4 620 L682.9 610.9 L683.9 598 L684.9 586.6 L685.1 584.3 L685.5 578.4 L685.9 583.2 L686 584.3 L686.9 594 L687.9 604.9 L688.7 620 L688.9 631.3 L689.2 651.6 L689.9 673 L690.3 683.2 L690.8 700 L690.9 702.7 L691.8 721.1 L691.9 722 L692.9 735.5 L693.4 742.1 L693.9 749 L694.9 762.3 L695 763.2 L695.9 770.6 L696.9 776.4 L697.4 777.4 L697.9 775.7 L698.9 766.2 L699.2 763.2 L699.9 756.9 L700.9 746.7 L701.3 742.1 L701.9 734.2 L702.9 721.1 L702.9 721 L703.9 712.3 L704.9 705.8 L705 705.3 L705.9 701.3 L706.9 697.9 L707.8 694.9 L707.9 694.2 L708.2 693.2 L708.6 697 L708.9 699.5 L709.6 706 L709.9 709.7 L710.9 725.2 L711.2 730 L711.9 743.9 L712.9 757.4 L712.9 757.4 L713.9 749.3 L714.5 742.1 L714.9 737.5 L715.9 724 L716.1 721.1 L716.9 691.5 L717.1 683.2 L717.8 651.6 L717.9 649.3 L718.7 620 L718.9 613.1 L719.9 584.6 L720.9 558 L721.1 553.1 L721.5 540.5 L721.9 548.8 L722 550.8 L722.9 569.2 L723.9 588.5 L724.9 616.4 L725 620 L725.5 651.6 L725.9 671.1 L726.9 719.3 L727.6 742.1 L727.9 746.9 L728.9 759.3 L729.2 763.2 L729.9 772.7 L730.8 784.2 L730.9 785.4 L731.9 795.3 L732.4 800 L732.9 806.4 L733.9 818.9 L734.5 823.7 L734.9 825.8 L735.9 830 L736.9 833.1 L737.9 835.6 L738.7 837.4 L738.9 837.8 L739.9 839.9 L740.9 841.7 L741.9 843.4 L742.9 844.7 L743.9 845.7 L743.9 845.8 L744.9 846.6 L745.9 847.4 L746.9 848.1 L747.9 848.7 L748.9 849.2 L749.9 849.7 L750.9 849.9 L751.3 850 L751.9 850.1 L752.9 850.2 L753.9 850.3 L754.9 850.4 L755.9 850.5 L756.9 850.5 L757.6 850.5 L757.9 850.5 L758.9 850.4 L759.9 850 L760.9 849.6 L761.9 849 L762.9 848.4 L762.9 848.4 L763.9 847.6 L764.9 846.3 L765.9 844.8 L766.9 843 L767.6 841.6 L767.9 841 L768.9 838.3 L769.8 835.6 L769.9 835.4 L770.3 834.4 L770.7 835.4 L770.9 835.9 L771.9 838.1 L772.9 840.3 L773.4 841.6 L773.9 842.8 L774.9 845.8 L775.9 848.6 L776.6 850 L776.9 850.5 L777.9 852 L778.9 853.2 L779.9 854.1 L780.8 854.7 L780.9 854.8 L781.9 855.3 L782.9 855.7 L783.9 856 L784.9 856.3 L785.9 856.5 L786.1 856.5 L786.9 856.6 L787.9 856.8 L788.9 856.9 L789.9 857 L790.9 857.1 L791.9 857.1 L792.9 857.2 L793.9 857.3 L794.9 857.3 L795.9 857.4 L796.6 857.4 L796.9 857.4 L797.9 857.4 L798.9 857.4 L799.9 857.4 L800.9 857.5 L801.9 857.5 L802.9 857.5 L803.9 857.5 L804.9 857.5 L805.9 857.5 L806.9 857.6 L807.9 857.6 L808.9 857.6 L809.9 857.6 L810.9 857.6 L811.9 857.6 L812.9 857.7 L813.9 857.7 L814.9 857.7 L815.9 857.7 L816.9 857.7 L817.9 857.7 L818.9 857.7 L819.9 857.7 L820.9 857.8 L821.9 857.8 L822.9 857.8 L823.9 857.8 L824.9 857.8 L825.9 857.8 L826.9 857.8 L827.9 857.8 L828.9 857.8 L829.9 857.8 L830.9 857.8 L831.9 857.8 L832.9 857.8 L833.9 857.9 L834.9 857.9 L835.9 857.9 L836.9 857.9 L837.9 857.9 L838.9 857.9 L839.9 857.9 L840.9 857.9 L841.9 857.9 L842.9 857.9 L843.9 857.9 L844.9 857.9 L845.9 857.9 L846.9 857.9 L847.9 857.9 L848.9 857.9 L849.2 857.9 L849.9 857.9 L850.9 857.9 L851.9 857.9 L852.9 857.9 L853.9 857.9 L854.9 857.9 L855.9 857.9 L856.9 857.9 L857.9 857.9 L858.9 857.9 L859.9 857.9 L860.9 857.9 L861.9 857.9 L862.9 857.9 L863.9 857.9 L864.9 857.9 L865.9 857.9 L866.9 857.9 L867.9 857.9 L868.9 857.9 L869.9 857.8 L870.9 857.8 L871.9 857.8 L872.9 857.8 L873.9 857.8 L874.9 857.8 L875.9 857.8 L876.9 857.8 L877.9 857.8 L878.9 857.8 L879.9 857.8 L880.9 857.8 L881.9 857.8 L882.9 857.8 L883.9 857.8 L884.9 857.8 L885.9 857.7 L886.9 857.7 L887.9 857.7 L888.9 857.7 L889.9 857.7 L890.9 857.7 L891.9 857.7 L892.9 857.7 L893.9 857.7 L894.9 857.7 L895.9 857.6 L896.9 857.6 L897.9 857.6 L898.9 857.6 L899.9 857.6 L900.9 857.6 L901.8 857.6 L901.9 857.6 L902.9 857.6 L903.9 857.5 L904.9 857.5 L905.9 857.5 L906.9 857.5 L907.9 857.4 L908.9 857.4 L909.9 857.4 L910.9 857.3 L911.9 857.3 L912.9 857.2 L913.9 857.2 L914.9 857.1 L915.9 857 L916.9 857 L917.9 856.9 L918.9 856.8 L919.9 856.8 L920.9 856.7 L921.9 856.6 L922.9 856.5 L922.9 856.5 L923.9 856.4 L924.9 856.3 L925.9 856.2 L926.9 856 L927.9 855.8 L928.9 855.6 L929.9 855.4 L930.9 855.2 L931.9 855 L932.9 854.8 L933.4 854.7 L933.9 854.7 L934.9 854.5 L935.9 854.3 L936.9 854.2 L937.9 854 L938.9 853.8 L939.9 853.6 L940.9 853.4 L941.8 853.2 L941.9 853.1 L942.9 852.8 L943.9 852.5 L944.9 852 L945.9 851.5 L946.9 850.9 L947.9 850.2 L948.2 850 L948.9 849.3 L949.9 848.1 L950.9 846.5 L951.9 844.6 L952.4 843.7 L952.9 842.3 L953.9 839 L954.9 835.3 L955.5 833.2 L955.9 832 L956.9 829 L957.9 826.1 L958.8 823.7" stroke="#21409a" stroke-linejoin="miter" stroke-miterlimit="2.5"/>
<path d="M574.9 749.5 L575.1 749 L575.3 748.6 L575.4 748.1 L575.6 747.6 L575.8 747.2 L576 746.7 L576.2 746.2 L576.3 745.8 L576.5 745.3 L576.7 744.8 L576.9 744.4 L577.1 743.9 L577.3 743.4 L577.5 743 L577.6 742.5 L577.8 742.1 L578 741.6 L578.2 741.1 L578.4 740.7 L578.6 740.2 L578.8 739.8 L579 739.3 L579.2 738.9 L579.4 738.4 L579.7 737.9 L579.9 737.5 L580.1 737 L580.3 736.6 L580.5 736.1 L580.7 735.7 L581 735.3 L581.2 734.8 L581.4 734.4 L581.7 733.9 L581.9 733.5 L582.2 733.1 L582.4 732.7 L582.7 732.3 L583 731.8 L583.3 731.4 L583.6 731 L583.9 730.6 L584.2 730.3 L584.5 729.9 L584.8 729.5 L585.1 729.2 L585.5 728.8 L585.8 728.5 L586.2 728.2 L586.6 727.9 L587 727.6 L587.4 727.4 L587.8 727.1 L588.2 726.9 L588.6 726.7 L589 726.5 L589.5 726.4 L589.9 726.3 L590.4 726.2 L590.8 726.1 L591.3 726 L591.8 726 L592.2 726 L592.7 726.1 L593.1 726.1 L593.6 726.2 L594 726.4 L594.5 726.5 L594.9 726.7 L595.3 726.9 L595.8 727.1 L596.2 727.3 L596.6 727.6 L597 727.9 L597.4 728.2 L597.8 728.4 L598.1 728.8 L598.5 729.1 L598.9 729.4 L599.2 729.7 L599.6 730.1 L599.9 730.4 L600.3 730.8 L600.6 731.1 L601 731.5 L601.3 731.9 L601.6 732.2 L602 732.6 L602.3 733 L602.7 733.4 L603 733.7 L603.3 734.1 L603.7 734.5 L604 734.8 L604.4 735.2 L604.7 735.5 L605.1 735.9 L605.4 736.2 L605.8 736.6 L606.1 736.9 L606.5 737.2 L606.9 737.5 L607.3 737.8 L607.7 738.1 L608.1 738.4 L608.5 738.7 L608.9 738.9 L609.3 739.1 L609.7 739.3 L610.1 739.5 L610.6 739.7 L611 739.9 L611.5 740 L611.9 740.1 L612.4 740.1 L612.8 740.2 L613.3 740.2 L613.7 740.1 L614.2 740.1 L614.6 740 L615 739.8 L615.4 739.7 L615.9 739.5 L616.3 739.3 L616.7 739 L617 738.7 L617.4 738.5 L617.8 738.1 L618.1 737.8 L618.4 737.5 L618.8 737.1 L619.1 736.8 L619.4 736.4 L619.7 736 L619.9 735.6 L620.2 735.2 L620.5 734.8 L620.7 734.3 L621 733.9 L621.2 733.5 L621.4 733 L621.6 732.6 L621.9 732.1 L622.1 731.7 L622.3 731.2 L622.4 730.8 L622.6 730.3 L622.8 729.8 L623 729.4 L623.2 728.9 L623.3 728.4 L623.5 728 L623.7 727.5 L623.8 727 L624 726.5 L624.1 726.1 L624.2 725.6 L624.4 725.1 L624.5 724.6 L624.7 724.1 L624.8 723.7 L624.9 723.2 L625.1 722.7 L625.2 722.2 L625.3 721.7 L625.5 721.3 L625.6 720.8 L625.7 720.3 L625.8 719.8 L625.9 719.3 L626.1 718.8 L626.2 718.3 L626.3 717.9 L626.4 717.4 L626.5 716.9 L626.6 716.4 L626.7 715.9 L626.8 715.4 L626.9 714.9 L627 714.4 L627.1 713.9 L627.2 713.5 L627.3 713 L627.4 712.5 L627.5 712 L627.6 711.5 L627.7 711 L627.8 710.5 L627.9 710 L628 709.5 L628.1 709 L628.1 708.5 L628.2 708 L628.3 707.6 L628.4 707.1 L628.5 706.6 L628.6 706.1 L628.6 705.6 L628.7 705.1 L628.8 704.6 L628.9 704.1 L629 703.6 L629.1 703.1 L629.1 702.6 L629.2 702.1 L629.3 701.6 L629.4 701.1 L629.5 700.7 L629.5 700.2 L629.6 699.7 L629.7 699.2 L629.8 698.7 L629.9 698.2 L630 697.7 L630 697.2 L630.1 696.7 L630.2 696.2 L630.3 695.7 L630.4 695.2 L630.5 694.7 L630.5 694.2 L630.6 693.7 L630.7 693.3 L630.8 692.8 L630.9 692.3 L631 691.8 L631 691.3 L631.1 690.8 L631.2 690.3 L631.3 689.8 L631.4 689.3 L631.4 688.8 L631.5 688.3 L631.6 687.8 L631.7 687.3 L631.8 686.8 L631.8 686.3 L631.9 685.9 L632 685.4 L632.1 684.9 L632.2 684.4 L632.2 683.9 L632.3 683.4 L632.4 682.9 L632.5 682.4 L632.6 681.9 L632.6 681.4 L632.7 680.9 L632.8 680.4 L632.9 679.9 L632.9 679.4 L633 678.9 L633.1 678.4 L633.2 678 L633.2 677.5 L633.3 677 L633.4 676.5 L633.5 676 L633.5 675.5 L633.6 675 L633.7 674.5 L633.8 674 L633.8 673.5 L633.9 673 L634 672.5 L634.1 672 L634.1 671.5 L634.2 671 L634.3 670.5 L634.4 670 L634.4 669.5 L634.5 669.1 L634.6 668.6 L634.6 668.1 L634.7 667.6 L634.8 667.1 L634.9 666.6 L634.9 666.1 L635 665.6 L635.1 665.1 L635.2 664.6 L635.2 664.1 L635.3 663.6 L635.4 663.1 L635.5 662.6 L635.5 662.1 L635.6 661.6 L635.7 661.1 L635.8 660.6 L635.8 660.1 L635.9 659.7 L636 659.2 L636.1 658.7 L636.1 658.2 L636.2 657.7 L636.3 657.2 L636.4 656.7 L636.4 656.2 L636.5 655.7 L636.6 655.2 L636.7 654.7 L636.7 654.2 L636.8 653.7 L636.9 653.2 L637 652.7 L637 652.2 L637.1 651.7 L637.2 651.3 L637.3 650.8 L637.3 650.3 L637.4 649.8 L637.5 649.3 L637.6 648.8 L637.6 648.3 L637.7 647.8 L637.8 647.3 L637.9 646.8 L637.9 646.3 L638 645.8 L638.1 645.3 L638.1 644.8 L638.2 644.3 L638.3 643.8 L638.4 643.3 L638.4 642.8 L638.5 642.3 L638.6 641.9 L638.6 641.4 L638.7 640.9 L638.8 640.4 L638.8 639.9 L638.9 639.4 L639 638.9 L639 638.4 L639.1 637.9 L639.1 637.4 L639.2 636.9 L639.3 636.4 L639.3 635.9 L639.4 635.4 L639.5 634.9 L639.5 634.4 L639.6 633.9 L639.6 633.4 L639.7 632.9 L639.8 632.4 L639.8 631.9 L639.9 631.4 L639.9 630.9 L640 630.4 L640.1 629.9 L640.1 629.5 L640.2 629 L640.2 628.5 L640.3 628 L640.4 627.5 L640.4 627 L640.5 626.5 L640.6 626 L640.6 625.5 L640.7 625 L640.7 624.5 L640.8 624 L640.9 623.5 L640.9 623 L641 622.5 L641.1 622 L641.1 621.5 L641.2 621 L641.3 620.5 L641.3 620 L641.4 619.5 L641.5 619 L641.5 618.5 L641.6 618 L641.7 617.6 L641.8 617.1 L641.8 616.6 L641.9 616.1 L642 615.6 L642.1 615.1 L642.1 614.6 L642.2 614.1 L642.3 613.6 L642.4 613.1 L642.4 612.6 L642.5 612.1 L642.6 611.6 L642.7 611.1 L642.7 610.6 L642.8 610.1 L642.9 609.6 L643 609.2 L643.1 608.7 L643.1 608.2 L643.2 607.7 L643.3 607.2 L643.4 606.7 L643.5 606.2 L643.5 605.7 L643.6 605.2 L643.7 604.7 L643.8 604.2 L643.9 603.7 L643.9 603.2 L644 602.7 L644.1 602.2 L644.2 601.7 L644.2 601.3 L644.3 600.8 L644.4 600.3 L644.5 599.8 L644.6 599.3 L644.6 598.8 L644.7 598.3 L644.8 597.8 L644.9 597.3 L644.9 596.8 L645 596.3 L645.1 595.8 L645.2 595.3 L645.2 594.8 L645.3 594.3 L645.4 593.8 L645.5 593.3 L645.6 592.9 L645.6 592.4 L645.7 591.9 L645.8 591.4 L645.9 590.9 L645.9 590.4 L646 589.9 L646.1 589.4 L646.2 588.9 L646.3 588.4 L646.3 587.9 L646.4 587.4 L646.5 586.9 L646.6 586.4 L646.7 585.9 L646.7 585.4 L646.8 585 L646.9 584.5 L647 584 L647.1 583.5 L647.1 583 L647.2 582.5 L647.3 582 L647.4 581.5 L647.5 581 L647.5 580.5 L647.6 580 L647.7 579.5 L647.8 579 L647.9 578.5 L648 578 L648 577.6 L648.1 577.1 L648.2 576.6 L648.3 576.1 L648.4 575.6 L648.5 575.1 L648.5 574.6 L648.6 574.1 L648.7 573.6 L648.8 573.1 L648.9 572.6 L649 572.1 L649.1 571.6 L649.2 571.2 L649.2 570.7 L649.3 570.2 L649.4 569.7 L649.5 569.2 L649.6 568.7 L649.7 568.2 L649.8 567.7 L649.9 567.2 L650 566.7 L650.1 566.2 L650.2 565.8 L650.3 565.3 L650.4 564.8 L650.5 564.3 L650.6 563.8 L650.7 563.3 L650.8 562.8 L650.9 562.3 L651 561.8 L651.2 561.4 L651.3 560.9 L651.4 560.4 L651.5 559.9 L651.6 559.4 L651.7 558.9 L651.9 558.4 L652 558 L652.1 557.5 L652.2 557 L652.4 556.5 L652.5 556 L652.6 555.5 L652.8 555.1 L652.9 554.6 L653.1 554.1 L653.2 553.6 L653.4 553.2 L653.5 552.7 L653.7 552.2 L653.8 551.7 L654 551.3 L654.2 550.8 L654.4 550.3 L654.6 549.9 L654.7 549.4 L654.9 549 L655.2 548.5 L655.4 548.1 L655.6 547.6 L655.8 547.2 L656 546.8 L656.3 546.3 L656.5 545.9 L656.8 545.5 L657.1 545.1 L657.4 544.7 L657.7 544.4 L658 544 L658.3 543.6 L658.6 543.3 L659 543 L659.3 542.7 L659.7 542.5 L660.1 542.3 L660.5 542.1 L660.9 541.9 L661.3 541.8 L661.7 541.7 L662.2 541.7 L662.6 541.7 L663 541.7 L663.4 541.8 L663.9 541.9 L664.3 542.1 L664.7 542.3 L665.1 542.5 L665.4 542.7 L665.8 543 L666.1 543.3 L666.5 543.7 L666.8 544 L667.1 544.4 L667.4 544.7 L667.7 545.1 L667.9 545.5 L668.2 545.9 L668.4 546.4 L668.7 546.8 L668.9 547.2 L669.2 547.6 L669.4 548.1 L669.6 548.5 L669.8 549 L670 549.4 L670.2 549.9 L670.4 550.4 L670.6 550.8 L670.7 551.3 L670.9 551.8 L671.1 552.2 L671.3 552.7 L671.4 553.2 L671.6 553.6 L671.8 554.1 L671.9 554.6 L672.1 555.1 L672.2 555.5 L672.4 556 L672.5 556.5 L672.7 557 L672.8 557.4 L673 557.9 L673.1 558.4 L673.3 558.9 L673.4 559.4 L673.5 559.8 L673.7 560.3 L673.8 560.8 L673.9 561.3 L674.1 561.8 L674.2 562.2 L674.3 562.7 L674.4 563.2 L674.6 563.7 L674.7 564.2 L674.8 564.7 L674.9 565.1 L675.1 565.6 L675.2 566.1 L675.3 566.6 L675.4 567.1 L675.5 567.6 L675.7 568.1 L675.8 568.6 L675.9 569 L676 569.5 L676.1 570 L676.2 570.5 L676.3 571 L676.4 571.5 L676.5 572 L676.7 572.5 L676.8 572.9 L676.9 573.4 L677 573.9 L677.1 574.4 L677.2 574.9 L677.3 575.4 L677.4 575.9 L677.5 576.4 L677.6 576.8 L677.7 577.3 L677.8 577.8 L677.9 578.3 L678.1 578.8 L678.2 579.3 L678.3 579.8 L678.4 580.3 L678.5 580.8 L678.6 581.2 L678.7 581.7 L678.8 582.2 L678.9 582.7 L679 583.2 L679.1 583.7 L679.2 584.2 L679.3 584.7 L679.4 585.2 L679.5 585.6 L679.6 586.1 L679.7 586.6 L679.8 587.1 L679.9 587.6 L680 588.1 L680.2 588.6 L680.3 589.1 L680.4 589.6 L680.5 590 L680.6 590.5 L680.7 591 L680.8 591.5 L680.9 592 L681 592.5 L681.1 593 L681.2 593.5 L681.3 594 L681.4 594.4 L681.5 594.9 L681.6 595.4 L681.7 595.9 L681.8 596.4 L681.9 596.9 L682 597.4 L682.1 597.9 L682.2 598.4 L682.3 598.8 L682.4 599.3 L682.5 599.8 L682.6 600.3 L682.8 600.8 L682.9 601.3 L683 601.8 L683.1 602.3 L683.2 602.8 L683.3 603.2 L683.4 603.7 L683.5 604.2 L683.6 604.7 L683.7 605.2 L683.8 605.7 L683.9 606.2 L684 606.7 L684.1 607.2 L684.3 607.6 L684.4 608.1 L684.5 608.6 L684.6 609.1 L684.7 609.6 L684.8 610.1 L684.9 610.6 L685 611.1 L685.1 611.5 L685.3 612 L685.4 612.5 L685.5 613 L685.6 613.5 L685.7 614 L685.8 614.5 L685.9 614.9 L686 615.4 L686.2 615.9 L686.3 616.4 L686.4 616.9 L686.5 617.4 L686.6 617.9 L686.7 618.4 L686.8 618.8 L686.9 619.3 L687.1 619.8 L687.2 620.3 L687.3 620.8 L687.4 621.3 L687.5 621.8 L687.6 622.3 L687.7 622.7 L687.9 623.2 L688 623.7 L688.1 624.2 L688.2 624.7 L688.3 625.2 L688.4 625.7 L688.5 626.2 L688.6 626.6 L688.8 627.1 L688.9 627.6 L689 628.1 L689.1 628.6 L689.2 629.1 L689.3 629.6 L689.4 630.1 L689.5 630.5 L689.6 631 L689.8 631.5 L689.9 632 L690 632.5 L690.1 633 L690.2 633.5 L690.3 633.9 L690.4 634.4 L690.5 634.9 L690.7 635.4 L690.8 635.9 L690.9 636.4 L691 636.9 L691.1 637.4 L691.2 637.8 L691.3 638.3 L691.4 638.8 L691.6 639.3 L691.7 639.8 L691.8 640.3 L691.9 640.8 L692 641.3 L692.1 641.7 L692.2 642.2 L692.3 642.7 L692.5 643.2 L692.6 643.7 L692.7 644.2 L692.8 644.7 L692.9 645.2 L693 645.6 L693.1 646.1 L693.3 646.6 L693.4 647.1 L693.5 647.6 L693.6 648.1 L693.7 648.6 L693.8 649 L694 649.5 L694.1 650 L694.2 650.5 L694.3 651 L694.4 651.5 L694.5 652 L694.7 652.4 L694.8 652.9 L694.9 653.4 L695 653.9 L695.1 654.4 L695.3 654.9 L695.4 655.4 L695.5 655.8 L695.6 656.3 L695.8 656.8 L695.9 657.3 L696 657.8 L696.1 658.3 L696.2 658.8 L696.4 659.2 L696.5 659.7 L696.6 660.2 L696.7 660.7 L696.9 661.2 L697 661.7 L697.1 662.1 L697.2 662.6 L697.4 663.1 L697.5 663.6 L697.6 664.1 L697.7 664.6 L697.9 665 L698 665.5 L698.1 666 L698.2 666.5 L698.4 667 L698.5 667.5 L698.6 667.9 L698.7 668.4 L698.9 668.9 L699 669.4 L699.1 669.9 L699.3 670.4 L699.4 670.8 L699.5 671.3 L699.6 671.8 L699.8 672.3 L699.9 672.8 L700 673.3 L700.2 673.7 L700.3 674.2 L700.4 674.7 L700.6 675.2 L700.7 675.7 L700.8 676.2 L700.9 676.6 L701.1 677.1 L701.2 677.6 L701.3 678.1 L701.5 678.6 L701.6 679.1 L701.7 679.5 L701.9 680 L702 680.5 L702.1 681 L702.2 681.5 L702.4 682 L702.5 682.4 L702.6 682.9 L702.8 683.4 L702.9 683.9 L703 684.4 L703.2 684.9 L703.3 685.3 L703.4 685.8 L703.5 686.3 L703.7 686.8 L703.8 687.3 L703.9 687.7 L704.1 688.2 L704.2 688.7 L704.3 689.2 L704.5 689.7 L704.6 690.2 L704.7 690.6 L704.8 691.1 L705 691.6 L705.1 692.1 L705.2 692.6 L705.3 693.1 L705.5 693.5 L705.6 694 L705.7 694.5 L705.8 695 L706 695.5 L706.1 696 L706.2 696.5 L706.3 696.9 L706.4 697.4 L706.5 697.9 L706.7 698.4 L706.8 698.9 L706.9 699.4 L707 699.9 L707.1 700.3 L707.2 700.8 L707.3 701.3 L707.5 701.8 L707.6 702.3 L707.7 702.8 L707.8 703.3 L707.9 703.8 L708 704.2 L708.1 704.7 L708.2 705.2 L708.4 705.7 L708.5 706.2 L708.6 706.7 L708.7 707.2 L708.8 707.7 L708.9 708.1 L709 708.6 L709.2 709.1 L709.3 709.6 L709.4 710.1 L709.5 710.6 L709.6 711.1 L709.8 711.5 L709.9 712 L710 712.5 L710.1 713 L710.3 713.5 L710.4 714 L710.5 714.4 L710.7 714.9 L710.8 715.4 L710.9 715.9 L711.1 716.4 L711.2 716.8 L711.3 717.3 L711.5 717.8 L711.6 718.3 L711.8 718.8 L711.9 719.2 L712.1 719.7 L712.2 720.2 L712.4 720.7 L712.5 721.2 L712.7 721.6 L712.8 722.1 L713 722.6 L713.1 723.1 L713.3 723.5 L713.4 724 L713.6 724.5 L713.7 725 L713.9 725.4 L714 725.9 L714.2 726.4 L714.3 726.9 L714.5 727.4 L714.6 727.8 L714.8 728.3 L714.9 728.8 L715.1 729.3 L715.2 729.7 L715.3 730.2 L715.5 730.7 L715.6 731.2 L715.8 731.7 L715.9 732.1 L716.1 732.6 L716.2 733.1 L716.4 733.6 L716.5 734 L716.7 734.5 L716.8 735 L717 735.5 L717.1 736 L717.3 736.4 L717.4 736.9 L717.6 737.4 L717.7 737.9 L717.9 738.3 L718 738.8 L718.2 739.3 L718.3 739.8 L718.5 740.2 L718.6 740.7 L718.8 741.2 L718.9 741.7 L719.1 742.1 L719.2 742.6 L719.4 743.1 L719.5 743.6 L719.7 744 L719.9 744.5 L720 745 L720.2 745.5 L720.3 745.9 L720.5 746.4 L720.7 746.9 L720.8 747.4 L721 747.8 L721.1 748.3 L721.3 748.8 L721.5 749.3 L721.6 749.7 L721.8 750.2 L722 750.7 L722.1 751.1 L722.3 751.6 L722.5 752.1 L722.6 752.6 L722.8 753 L723 753.5 L723.1 754 L723.3 754.4 L723.5 754.9 L723.7 755.4 L723.8 755.8 L724 756.3 L724.2 756.8 L724.4 757.2 L724.6 757.7 L724.7 758.2 L724.9 758.6 L725.1 759.1 L725.3 759.6 L725.5 760 L725.7 760.5 L725.9 761 L726.1 761.4 L726.3 761.9 L726.4 762.3 L726.6 762.8 L726.8 763.3 L727 763.7 L727.2 764.2 L727.4 764.6 L727.6 765.1 L727.8 765.6 L728 766 L728.2 766.5 L728.4 766.9 L728.6 767.4 L728.8 767.8 L729 768.3 L729.2 768.8 L729.4 769.2 L729.6 769.7 L729.8 770.1 L730 770.6 L730.2 771.1 L730.4 771.5 L730.6 772 L730.8 772.5 L730.9 772.9 L731.1 773.4 L731.3 773.8 L731.5 774.3 L731.7 774.8 L731.9 775.2 L732.1 775.7 L732.2 776.2 L732.4 776.6 L732.6 777.1 L732.8 777.6 L733 778 L733.2 778.5 L733.4 778.9 L733.6 779.4 L733.8 779.9 L733.9 780.3 L734.1 780.8 L734.3 781.3 L734.5 781.7 L734.7 782.2 L734.9 782.6 L735.1 783.1 L735.3 783.6 L735.5 784 L735.7 784.5 L735.9 784.9 L736.1 785.4 L736.3 785.8 L736.5 786.3 L736.7 786.8 L736.9 787.2 L737.1 787.7 L737.4 788.1 L737.6 788.6 L737.8 789 L738 789.5 L738.2 789.9 L738.4 790.4 L738.6 790.8 L738.8 791.3 L739 791.7 L739.3 792.2 L739.5 792.6 L739.7 793.1 L739.9 793.5 L740.1 794 L740.3 794.4 L740.6 794.9 L740.8 795.3 L741 795.8 L741.2 796.2 L741.4 796.7 L741.7 797.1 L741.9 797.6 L742.1 798 L742.3 798.5 L742.6 798.9 L742.8 799.4 L743 799.8 L743.3 800.3 L743.5 800.7 L743.7 801.1 L744 801.6 L744.2 802 L744.5 802.4 L744.7 802.9 L744.9 803.3 L745.2 803.8 L745.4 804.2 L745.7 804.6 L745.9 805.1 L746.2 805.5 L746.4 805.9 L746.7 806.3 L747 806.8 L747.2 807.2 L747.5 807.6 L747.8 808 L748 808.5 L748.3 808.9 L748.6 809.3 L748.9 809.7 L749.1 810.1 L749.4 810.5 L749.7 810.9 L750 811.4 L750.3 811.8 L750.6 812.2 L750.9 812.6 L751.2 813 L751.5 813.4 L751.8 813.8 L752.1 814.2 L752.4 814.5 L752.7 814.9 L753 815.3 L753.3 815.7 L753.7 816.1 L754 816.5 L754.3 816.8 L754.6 817.2 L755 817.6 L755.3 818 L755.6 818.3 L756 818.7 L756.3 819 L756.7 819.4 L757 819.7 L757.4 820.1 L757.8 820.4 L758.1 820.8 L758.5 821.1 L758.9 821.4 L759.2 821.8 L759.6 822.1 L760 822.4 L760.4 822.7 L760.8 823.1 L761.2 823.4 L761.6 823.7 L762 824 L762.3 824.3 L762.7 824.6 L763.1 824.9 L763.5 825.2 L763.9 825.5 L764.4 825.8 L764.8 826.1 L765.2 826.4 L765.6 826.6 L766 826.9 L766.4 827.2 L766.8 827.5 L767.2 827.8 L767.6 828 L768.1 828.3 L768.5 828.6 L768.9 828.9 L769.3 829.1 L769.8 829.4 L770.2 829.6 L770.6 829.9 L771 830.2 L771.5 830.4 L771.9 830.6 L772.3 830.9 L772.8 831.1 L773.2 831.4 L773.7 831.6 L774.1 831.8 L774.6 832 L775 832.2 L775.5 832.5 L775.9 832.7 L776.4 832.9 L776.8 833.1 L777.3 833.3 L777.7 833.5 L778.2 833.6 L778.7 833.8 L779.1 834 L779.6 834.2 L780.1 834.4 L780.5 834.5 L781 834.7 L781.5 834.9 L782 835 L782.4 835.2 L782.9 835.3 L783.4 835.5 L783.9 835.6 L784.3 835.8 L784.8 835.9 L785.3 836 L785.8 836.2 L786.3 836.3 L786.8 836.4 L787.2 836.5 L787.7 836.7 L788.2 836.8 L788.7 836.9 L789.2 837 L789.7 837.1 L790.2 837.2 L790.6 837.3 L791.1 837.4 L791.6 837.5 L792.1 837.6 L792.6 837.7 L793.1 837.8 L793.6 837.9 L794.1 838 L794.6 838 L795.1 838.1 L795.6 838.2 L796.1 838.3 L796.6 838.4 L797 838.4 L797.5 838.5 L798 838.6 L798.5 838.7 L799 838.7 L799.5 838.8 L800 838.9 L800.5 838.9 L801 839 L801.5 839 L802 839.1 L802.5 839.2 L803 839.2 L803.5 839.3 L804 839.3 L804.5 839.4 L805 839.4 L805.5 839.5 L806 839.5 L806.5 839.6 L807 839.6 L807.5 839.7 L808 839.7 L808.5 839.8 L809 839.8 L809.5 839.9 L810 839.9 L810.5 840 L811 840 L811.5 840 L811.9 840.1 L812.4 840.1 L812.9 840.2 L813.4 840.2 L813.9 840.2 L814.4 840.3 L814.9 840.3 L815.4 840.4 L815.9 840.4 L816.4 840.4 L816.9 840.5 L817.4 840.5 L817.9 840.6 L818.4 840.6 L818.9 840.6 L819.4 840.7 L819.9 840.7 L820.4 840.7 L820.9 840.8 L821.4 840.8 L821.9 840.9 L822.4 840.9 L822.9 840.9 L823.4 841 L823.9 841 L824.4 841.1 L824.9 841.1 L825.4 841.1 L825.9 841.2 L826.4 841.2 L826.9 841.2 L827.4 841.3 L827.9 841.3 L828.4 841.4 L828.9 841.4 L829.4 841.4 L829.9 841.5 L830.4 841.5 L830.9 841.5 L831.4 841.6 L831.9 841.6 L832.4 841.7 L832.9 841.7 L833.4 841.7 L833.9 841.8 L834.4 841.8 L834.9 841.8 L835.4 841.9 L835.9 841.9 L836.4 841.9 L836.9 842 L837.4 842 L837.9 842 L838.4 842.1 L838.9 842.1 L839.4 842.1 L839.9 842.2 L840.4 842.2 L840.9 842.2 L841.4 842.3 L841.9 842.3 L842.4 842.3 L842.9 842.4 L843.4 842.4 L843.9 842.4 L844.4 842.5 L844.9 842.5 L845.4 842.5 L845.9 842.6 L846.4 842.6 L846.9 842.6 L847.4 842.7 L847.9 842.7 L848.4 842.7 L848.9 842.8 L849.4 842.8 L849.8 842.8 L850.3 842.8 L850.8 842.9 L851.3 842.9 L851.8 842.9 L852.3 843 L852.8 843 L853.3 843 L853.8 843.1 L854.3 843.1 L854.8 843.1 L855.3 843.1 L855.8 843.2 L856.3 843.2 L856.8 843.2 L857.3 843.2 L857.8 843.3 L858.3 843.3 L858.8 843.3 L859.3 843.3 L859.8 843.4 L860.3 843.4 L860.8 843.4 L861.3 843.4 L861.8 843.5 L862.3 843.5 L862.8 843.5 L863.3 843.5 L863.8 843.5 L864.3 843.6 L864.8 843.6 L865.3 843.6 L865.8 843.6 L866.3 843.7 L866.8 843.7 L867.3 843.7 L867.8 843.7 L868.3 843.7 L868.8 843.8 L869.3 843.8 L869.8 843.8 L870.3 843.8 L870.8 843.8 L871.3 843.9 L871.8 843.9 L872.3 843.9 L872.8 843.9 L873.3 843.9 L873.8 844 L874.3 844 L874.8 844 L875.3 844 L875.8 844 L876.3 844 L876.8 844.1 L877.3 844.1 L877.8 844.1 L878.3 844.1 L878.8 844.1 L879.3 844.2 L879.8 844.2 L880.3 844.2 L880.8 844.2 L881.3 844.2 L881.8 844.2 L882.3 844.3 L882.8 844.3 L883.3 844.3 L883.8 844.3 L884.3 844.3 L884.8 844.4 L885.3 844.4 L885.8 844.4 L886.3 844.4 L886.8 844.4 L887.3 844.4 L887.8 844.5 L888.3 844.5 L888.8 844.5 L889.3 844.5 L889.8 844.5 L890.3 844.6 L890.8 844.6 L891.3 844.6 L891.8 844.6 L892.3 844.6 L892.8 844.6 L893.3 844.7 L893.8 844.7 L894.3 844.7 L894.8 844.7 L895.3 844.7 L895.8 844.7 L896.3 844.8 L896.8 844.8 L897.3 844.8 L897.8 844.8 L898.3 844.8 L898.8 844.8 L899.3 844.9 L899.8 844.9 L900.3 844.9 L900.8 844.9 L901.3 844.9 L901.8 844.9 L902.3 845 L902.8 845 L903.3 845 L903.8 845 L904.3 845 L904.8 845 L905.3 845.1 L905.8 845.1 L906.3 845.1 L906.8 845.1 L907.3 845.1 L907.8 845.1 L908.3 845.2 L908.8 845.2 L909.3 845.2 L909.8 845.2 L910.3 845.2 L910.8 845.2 L911.3 845.2 L911.8 845.3 L912.3 845.3 L912.8 845.3 L913.3 845.3 L913.8 845.3 L914.3 845.3 L914.8 845.4 L915.3 845.4 L915.8 845.4 L916.3 845.4 L916.8 845.4 L917.3 845.4 L917.8 845.4 L918.3 845.5 L918.8 845.5 L919.3 845.5 L919.8 845.5 L920.3 845.5 L920.8 845.5 L921.3 845.5 L921.8 845.5 L922.3 845.6 L922.8 845.6 L923.3 845.6 L923.8 845.6 L924.3 845.6 L924.8 845.6 L925.3 845.6 L925.8 845.6 L926.3 845.7 L926.8 845.7 L927.3 845.7 L927.8 845.7 L928.3 845.7 L928.8 845.7 L929.3 845.7 L929.8 845.7 L930.3 845.7 L930.8 845.7 L931.3 845.8 L931.8 845.8 L932.3 845.8 L932.8 845.8 L933.3 845.8 L933.8 845.8 L934.3 845.8 L934.8 845.8 L935.3 845.8 L935.8 845.8 L936.3 845.9 L936.8 845.9 L937.3 845.9 L937.8 845.9 L938.3 845.9 L938.8 845.9 L939.3 845.9 L939.8 845.9 L940.3 845.9 L940.8 845.9 L941.3 845.9 L941.8 846 L942.3 846 L942.8 846 L943.3 846 L943.8 846 L944.3 846 L944.8 846 L945.3 846 L945.8 846 L946.3 846 L946.8 846.1 L947.3 846.1 L947.8 846.1 L948.3 846.1 L948.8 846.1 L949.3 846.1 L949.8 846.1 L950.3 846.1 L950.8 846.1 L951.3 846.2 L951.8 846.2 L952.3 846.2 L952.8 846.2 L953.3 846.2 L953.8 846.2 L954.3 846.2 L954.8 846.2 L955.3 846.2 L955.8 846.3 L956.3 846.3 L956.8 846.3 L957.3 846.3 L957.8 846.3 L958.3 846.3" stroke="#57b32c"/>
</g>
<text x="831.8" y="507.4" font-size="29.4" text-anchor="end">ADA (w/g)</text>
<text x="831.8" y="536.7" font-size="29.4" text-anchor="end">ADA (w/p)</text>
<text x="831.8" y="565.9" font-size="29.4" text-anchor="end">DDA</text>
<text x="831.8" y="595.1" font-size="29.4" text-anchor="end">TDDFT</text>
<rect x="574.9" y="476.4" width="383.9" height="383.7" fill="none" stroke="#000" stroke-width="3.4"/>
<text x="579.2" y="896.2" font-size="33" text-anchor="middle">250</text>
<text x="688.9" y="896.2" font-size="33" text-anchor="middle">350</text>
<text x="798.5" y="896.2" font-size="33" text-anchor="middle">450</text>
<text x="908.2" y="896.2" font-size="33" text-anchor="middle">550</text>
<text x="560" y="871.3" font-size="33" text-anchor="end">0</text>
<text x="560" y="775.4" font-size="33" text-anchor="end">0.3</text>
<text x="560" y="679.5" font-size="33" text-anchor="end">0.6</text>
<text x="560" y="583.6" font-size="33" text-anchor="end">0.9</text>
<text x="560" y="487.6" font-size="33" text-anchor="end">1.2</text>
<text x="767.8" y="936.3" font-size="37.7" text-anchor="middle">Wavelength (nm)</text>
</g>
<g>
<path d="M1151.3 860.1 v-6.3 M1151.3 476.4 v6.3 M1260.9 860.1 v-6.3 M1260.9 476.4 v6.3 M1370.6 860.1 v-6.3 M1370.6 476.4 v6.3 M1041.6 764.2 h6.3 M1425.4 764.2 h-6.3 M1041.6 668.3 h6.3 M1425.4 668.3 h-6.3 M1041.6 572.4 h6.3 M1425.4 572.4 h-6.3" stroke="#000" stroke-width="1.5" fill="none"/>
<path d="M1315.5 497.5 H1392.3" stroke="#e2211c" stroke-width="4.8" fill="none"/>
<path d="M1315.5 526.8 H1392.3" stroke="#000000" stroke-width="4.8" fill="none"/>
<path d="M1315.5 556 H1392.3" stroke="#21409a" stroke-width="4.8" fill="none"/>
<path d="M1315.5 585.2 H1392.3" stroke="#57b32c" stroke-width="4.8" fill="none"/>
<clipPath id="cp2"><rect x="1041.6" y="476.4" width="383.9" height="383.7"/></clipPath>
<g clip-path="url(#cp2)" fill="none" stroke-width="4.8" stroke-linejoin="bevel">
<path d="M1041.6 769.5 L1041.9 769.1 L1042.1 768.6 L1042.4 768.2 L1042.6 767.8 L1042.9 767.4 L1043.2 766.9 L1043.4 766.5 L1043.7 766.1 L1043.9 765.7 L1044.2 765.2 L1044.4 764.8 L1044.7 764.4 L1045 763.9 L1045.2 763.5 L1045.5 763.1 L1045.7 762.6 L1046 762.2 L1046.2 761.8 L1046.4 761.3 L1046.7 760.9 L1046.9 760.5 L1047.2 760 L1047.4 759.6 L1047.7 759.2 L1047.9 758.7 L1048.1 758.3 L1048.4 757.8 L1048.6 757.4 L1048.8 757 L1049.1 756.5 L1049.3 756.1 L1049.5 755.6 L1049.8 755.2 L1050 754.7 L1050.2 754.3 L1050.4 753.8 L1050.7 753.4 L1050.9 752.9 L1051.1 752.5 L1051.3 752.1 L1051.6 751.6 L1051.8 751.2 L1052 750.7 L1052.2 750.2 L1052.4 749.8 L1052.6 749.3 L1052.8 748.9 L1053 748.4 L1053.3 748 L1053.5 747.5 L1053.7 747.1 L1053.9 746.6 L1054.1 746.2 L1054.3 745.7 L1054.5 745.2 L1054.7 744.8 L1054.9 744.3 L1055.1 743.9 L1055.3 743.4 L1055.5 743 L1055.7 742.5 L1055.9 742 L1056 741.6 L1056.2 741.1 L1056.4 740.6 L1056.6 740.2 L1056.8 739.7 L1057 739.3 L1057.2 738.8 L1057.3 738.3 L1057.5 737.9 L1057.7 737.4 L1057.9 736.9 L1058.1 736.5 L1058.2 736 L1058.4 735.5 L1058.6 735.1 L1058.8 734.6 L1058.9 734.1 L1059.1 733.6 L1059.3 733.2 L1059.4 732.7 L1059.6 732.2 L1059.8 731.8 L1059.9 731.3 L1060.1 730.8 L1060.3 730.3 L1060.4 729.9 L1060.6 729.4 L1060.7 728.9 L1060.9 728.4 L1061 728 L1061.2 727.5 L1061.3 727 L1061.5 726.5 L1061.6 726.1 L1061.8 725.6 L1061.9 725.1 L1062.1 724.6 L1062.2 724.1 L1062.4 723.7 L1062.5 723.2 L1062.6 722.7 L1062.8 722.2 L1062.9 721.7 L1063 721.3 L1063.2 720.8 L1063.3 720.3 L1063.4 719.8 L1063.6 719.3 L1063.7 718.9 L1063.8 718.4 L1063.9 717.9 L1064.1 717.4 L1064.2 716.9 L1064.3 716.4 L1064.5 716 L1064.6 715.5 L1064.7 715 L1064.8 714.5 L1065 714 L1065.1 713.5 L1065.2 713.1 L1065.3 712.6 L1065.5 712.1 L1065.6 711.6 L1065.7 711.1 L1065.9 710.6 L1066 710.2 L1066.1 709.7 L1066.3 709.2 L1066.4 708.7 L1066.5 708.2 L1066.7 707.7 L1066.8 707.3 L1066.9 706.8 L1067.1 706.3 L1067.2 705.8 L1067.3 705.3 L1067.5 704.9 L1067.6 704.4 L1067.7 703.9 L1067.8 703.4 L1068 702.9 L1068.1 702.4 L1068.2 702 L1068.4 701.5 L1068.5 701 L1068.6 700.5 L1068.7 700 L1068.8 699.5 L1069 699.1 L1069.1 698.6 L1069.2 698.1 L1069.3 697.6 L1069.4 697.1 L1069.5 696.6 L1069.6 696.1 L1069.8 695.6 L1069.9 695.2 L1070 694.7 L1070.1 694.2 L1070.2 693.7 L1070.3 693.2 L1070.4 692.7 L1070.5 692.2 L1070.6 691.7 L1070.7 691.2 L1070.7 690.8 L1070.8 690.3 L1070.9 689.8 L1071 689.3 L1071.1 688.8 L1071.2 688.3 L1071.3 687.8 L1071.4 687.3 L1071.5 686.8 L1071.5 686.3 L1071.6 685.8 L1071.7 685.3 L1071.8 684.8 L1071.9 684.4 L1072 683.9 L1072 683.4 L1072.1 682.9 L1072.2 682.4 L1072.3 681.9 L1072.4 681.4 L1072.4 680.9 L1072.5 680.4 L1072.6 679.9 L1072.7 679.4 L1072.8 678.9 L1072.8 678.4 L1072.9 677.9 L1073 677.4 L1073.1 676.9 L1073.1 676.5 L1073.2 676 L1073.3 675.5 L1073.4 675 L1073.4 674.5 L1073.5 674 L1073.6 673.5 L1073.7 673 L1073.7 672.5 L1073.8 672 L1073.9 671.5 L1073.9 671 L1074 670.5 L1074.1 670 L1074.1 669.5 L1074.2 669 L1074.3 668.5 L1074.3 668 L1074.4 667.5 L1074.5 667 L1074.5 666.6 L1074.6 666.1 L1074.7 665.6 L1074.7 665.1 L1074.8 664.6 L1074.9 664.1 L1074.9 663.6 L1075 663.1 L1075.1 662.6 L1075.1 662.1 L1075.2 661.6 L1075.2 661.1 L1075.3 660.6 L1075.4 660.1 L1075.4 659.6 L1075.5 659.1 L1075.5 658.6 L1075.6 658.1 L1075.7 657.6 L1075.7 657.1 L1075.8 656.6 L1075.8 656.1 L1075.9 655.6 L1075.9 655.1 L1076 654.6 L1076.1 654.1 L1076.1 653.6 L1076.2 653.2 L1076.2 652.7 L1076.3 652.2 L1076.3 651.7 L1076.4 651.2 L1076.4 650.7 L1076.5 650.2 L1076.5 649.7 L1076.6 649.2 L1076.6 648.7 L1076.7 648.2 L1076.7 647.7 L1076.8 647.2 L1076.8 646.7 L1076.9 646.2 L1076.9 645.7 L1077 645.2 L1077 644.7 L1077.1 644.2 L1077.1 643.7 L1077.2 643.2 L1077.2 642.7 L1077.3 642.2 L1077.3 641.7 L1077.4 641.2 L1077.4 640.7 L1077.5 640.2 L1077.5 639.7 L1077.6 639.2 L1077.6 638.7 L1077.7 638.2 L1077.7 637.7 L1077.8 637.2 L1077.8 636.7 L1077.9 636.2 L1077.9 635.7 L1078 635.2 L1078 634.7 L1078 634.2 L1078.1 633.7 L1078.1 633.3 L1078.2 632.8 L1078.2 632.3 L1078.3 631.8 L1078.3 631.3 L1078.4 630.8 L1078.4 630.3 L1078.5 629.8 L1078.5 629.3 L1078.6 628.8 L1078.6 628.3 L1078.7 627.8 L1078.7 627.3 L1078.8 626.8 L1078.8 626.3 L1078.9 625.8 L1078.9 625.3 L1079 624.8 L1079 624.3 L1079.1 623.8 L1079.1 623.3 L1079.2 622.8 L1079.3 622.3 L1079.3 621.8 L1079.4 621.3 L1079.4 620.8 L1079.5 620.3 L1079.5 619.8 L1079.6 619.3 L1079.6 618.8 L1079.7 618.3 L1079.7 617.8 L1079.8 617.3 L1079.8 616.8 L1079.9 616.3 L1080 615.8 L1080 615.3 L1080.1 614.9 L1080.1 614.4 L1080.2 613.9 L1080.2 613.4 L1080.3 612.9 L1080.3 612.4 L1080.4 611.9 L1080.5 611.4 L1080.5 610.9 L1080.6 610.4 L1080.6 609.9 L1080.7 609.4 L1080.8 608.9 L1080.8 608.4 L1080.9 607.9 L1080.9 607.4 L1081 606.9 L1081.1 606.4 L1081.1 605.9 L1081.2 605.4 L1081.2 604.9 L1081.3 604.4 L1081.4 603.9 L1081.4 603.4 L1081.5 602.9 L1081.5 602.4 L1081.6 601.9 L1081.7 601.4 L1081.7 601 L1081.8 600.5 L1081.8 600 L1081.9 599.5 L1082 599 L1082 598.5 L1082.1 598 L1082.2 597.5 L1082.2 597 L1082.3 596.5 L1082.3 596 L1082.4 595.5 L1082.5 595 L1082.5 594.5 L1082.6 594 L1082.7 593.5 L1082.7 593 L1082.8 592.5 L1082.9 592 L1082.9 591.5 L1083 591 L1083 590.5 L1083.1 590 L1083.2 589.5 L1083.2 589 L1083.3 588.6 L1083.4 588.1 L1083.4 587.6 L1083.5 587.1 L1083.6 586.6 L1083.6 586.1 L1083.7 585.6 L1083.8 585.1 L1083.8 584.6 L1083.9 584.1 L1084 583.6 L1084 583.1 L1084.1 582.6 L1084.2 582.1 L1084.2 581.6 L1084.3 581.1 L1084.4 580.6 L1084.4 580.1 L1084.5 579.6 L1084.6 579.1 L1084.6 578.6 L1084.7 578.1 L1084.8 577.6 L1084.8 577.2 L1084.9 576.7 L1085 576.2 L1085.1 575.7 L1085.1 575.2 L1085.2 574.7 L1085.3 574.2 L1085.3 573.7 L1085.4 573.2 L1085.5 572.7 L1085.6 572.2 L1085.6 571.7 L1085.7 571.2 L1085.8 570.7 L1085.9 570.2 L1085.9 569.7 L1086 569.2 L1086.1 568.7 L1086.2 568.3 L1086.2 567.8 L1086.3 567.3 L1086.4 566.8 L1086.5 566.3 L1086.6 565.8 L1086.6 565.3 L1086.7 564.8 L1086.8 564.3 L1086.9 563.8 L1087 563.3 L1087.1 562.8 L1087.1 562.3 L1087.2 561.8 L1087.3 561.4 L1087.4 560.9 L1087.5 560.4 L1087.6 559.9 L1087.7 559.4 L1087.8 558.9 L1087.9 558.4 L1088 557.9 L1088.1 557.4 L1088.2 556.9 L1088.3 556.5 L1088.4 556 L1088.5 555.5 L1088.6 555 L1088.7 554.5 L1088.8 554 L1088.9 553.6 L1089.1 553.1 L1089.2 552.6 L1089.3 552.1 L1089.4 551.7 L1089.6 551.2 L1089.7 550.7 L1089.9 550.3 L1090 549.8 L1090.1 549.3 L1090.3 548.9 L1090.4 548.4 L1090.6 547.9 L1090.7 547.5 L1090.9 547 L1091 546.6 L1091.2 546.1 L1091.4 545.7 L1091.6 545.3 L1091.8 544.8 L1092 544.4 L1092.3 544 L1092.5 543.6 L1092.8 543.3 L1093.1 542.9 L1093.5 542.6 L1093.8 542.4 L1094.2 542.1 L1094.6 542 L1094.9 541.9 L1095.3 541.8 L1095.7 541.8 L1096.1 541.9 L1096.5 542.1 L1096.9 542.3 L1097.3 542.5 L1097.6 542.8 L1097.9 543.1 L1098.3 543.5 L1098.6 543.8 L1098.9 544.2 L1099.1 544.6 L1099.4 545 L1099.6 545.4 L1099.9 545.8 L1100.1 546.2 L1100.3 546.7 L1100.6 547.1 L1100.8 547.5 L1101 547.9 L1101.2 548.4 L1101.4 548.8 L1101.6 549.2 L1101.8 549.7 L1102 550.1 L1102.2 550.6 L1102.4 551 L1102.6 551.5 L1102.8 551.9 L1103 552.4 L1103.2 552.8 L1103.4 553.3 L1103.6 553.7 L1103.8 554.2 L1104 554.6 L1104.2 555.1 L1104.4 555.6 L1104.6 556 L1104.8 556.5 L1105 556.9 L1105.2 557.4 L1105.4 557.9 L1105.5 558.3 L1105.7 558.8 L1105.9 559.2 L1106.1 559.7 L1106.3 560.2 L1106.5 560.6 L1106.7 561.1 L1106.9 561.5 L1107.1 562 L1107.3 562.5 L1107.5 562.9 L1107.7 563.4 L1107.9 563.8 L1108.1 564.3 L1108.3 564.7 L1108.5 565.2 L1108.7 565.6 L1109 566.1 L1109.2 566.5 L1109.4 567 L1109.6 567.4 L1109.8 567.9 L1110.1 568.3 L1110.3 568.7 L1110.5 569.2 L1110.8 569.6 L1111 570 L1111.3 570.5 L1111.5 570.9 L1111.8 571.3 L1112 571.7 L1112.3 572.1 L1112.6 572.5 L1112.8 572.9 L1113.1 573.3 L1113.4 573.7 L1113.7 574.1 L1114 574.5 L1114.3 574.9 L1114.6 575.3 L1114.9 575.6 L1115.2 576 L1115.5 576.3 L1115.9 576.6 L1116.2 577 L1116.6 577.3 L1117 577.5 L1117.3 577.8 L1117.7 578 L1118.2 578.2 L1118.6 578.4 L1119 578.6 L1119.4 578.7 L1119.9 578.8 L1120.3 578.8 L1120.8 578.8 L1121.2 578.8 L1121.7 578.7 L1122.1 578.5 L1122.5 578.4 L1122.9 578.2 L1123.3 578 L1123.7 577.7 L1124.1 577.5 L1124.5 577.2 L1124.9 576.9 L1125.2 576.6 L1125.6 576.2 L1125.9 575.9 L1126.2 575.6 L1126.6 575.2 L1126.9 574.9 L1127.2 574.5 L1127.5 574.2 L1127.9 573.8 L1128.2 573.5 L1128.5 573.1 L1128.8 572.7 L1129.2 572.4 L1129.5 572 L1129.8 571.7 L1130.1 571.3 L1130.4 570.9 L1130.8 570.6 L1131.1 570.2 L1131.4 569.9 L1131.8 569.5 L1132.1 569.2 L1132.4 568.9 L1132.8 568.5 L1133.1 568.2 L1133.5 567.9 L1133.8 567.6 L1134.2 567.3 L1134.6 567 L1135 566.8 L1135.4 566.6 L1135.8 566.4 L1136.3 566.2 L1136.7 566 L1137.1 565.9 L1137.6 565.9 L1138 565.8 L1138.5 565.9 L1138.9 565.9 L1139.3 566 L1139.8 566.2 L1140.2 566.4 L1140.6 566.6 L1140.9 566.9 L1141.3 567.1 L1141.6 567.4 L1141.9 567.8 L1142.2 568.1 L1142.5 568.5 L1142.8 568.9 L1143 569.3 L1143.3 569.7 L1143.5 570.1 L1143.7 570.6 L1144 571 L1144.2 571.4 L1144.4 571.9 L1144.6 572.3 L1144.8 572.7 L1145 573.2 L1145.2 573.6 L1145.4 574.1 L1145.5 574.5 L1145.7 575 L1145.9 575.4 L1146.1 575.9 L1146.2 576.4 L1146.4 576.8 L1146.6 577.3 L1146.7 577.8 L1146.9 578.2 L1147 578.7 L1147.2 579.2 L1147.3 579.7 L1147.5 580.1 L1147.6 580.6 L1147.8 581.1 L1147.9 581.6 L1148 582 L1148.2 582.5 L1148.3 583 L1148.5 583.5 L1148.6 584 L1148.7 584.4 L1148.8 584.9 L1149 585.4 L1149.1 585.9 L1149.2 586.4 L1149.4 586.9 L1149.5 587.3 L1149.6 587.8 L1149.7 588.3 L1149.8 588.8 L1150 589.3 L1150.1 589.8 L1150.2 590.3 L1150.3 590.7 L1150.4 591.2 L1150.6 591.7 L1150.7 592.2 L1150.8 592.7 L1150.9 593.2 L1151 593.7 L1151.1 594.1 L1151.3 594.6 L1151.4 595.1 L1151.5 595.6 L1151.6 596.1 L1151.7 596.6 L1151.8 597.1 L1152 597.5 L1152.1 598 L1152.2 598.5 L1152.3 599 L1152.4 599.5 L1152.5 600 L1152.6 600.5 L1152.7 601 L1152.9 601.4 L1153 601.9 L1153.1 602.4 L1153.2 602.9 L1153.3 603.4 L1153.4 603.9 L1153.5 604.4 L1153.6 604.9 L1153.7 605.3 L1153.8 605.8 L1154 606.3 L1154.1 606.8 L1154.2 607.3 L1154.3 607.8 L1154.4 608.3 L1154.5 608.8 L1154.6 609.3 L1154.7 609.7 L1154.8 610.2 L1154.9 610.7 L1155 611.2 L1155.1 611.7 L1155.2 612.2 L1155.3 612.7 L1155.4 613.2 L1155.5 613.7 L1155.6 614.1 L1155.7 614.6 L1155.8 615.1 L1155.9 615.6 L1156 616.1 L1156.1 616.6 L1156.2 617.1 L1156.3 617.6 L1156.4 618.1 L1156.5 618.6 L1156.6 619 L1156.7 619.5 L1156.8 620 L1156.9 620.5 L1157 621 L1157.1 621.5 L1157.1 622 L1157.2 622.5 L1157.3 623 L1157.4 623.5 L1157.5 624 L1157.6 624.5 L1157.7 625 L1157.8 625.4 L1157.8 625.9 L1157.9 626.4 L1158 626.9 L1158.1 627.4 L1158.2 627.9 L1158.3 628.4 L1158.3 628.9 L1158.4 629.4 L1158.5 629.9 L1158.6 630.4 L1158.7 630.9 L1158.7 631.4 L1158.8 631.9 L1158.9 632.3 L1159 632.8 L1159.1 633.3 L1159.2 633.8 L1159.2 634.3 L1159.3 634.8 L1159.4 635.3 L1159.5 635.8 L1159.6 636.3 L1159.6 636.8 L1159.7 637.3 L1159.8 637.8 L1159.9 638.3 L1160 638.8 L1160.1 639.3 L1160.1 639.7 L1160.2 640.2 L1160.3 640.7 L1160.4 641.2 L1160.5 641.7 L1160.5 642.2 L1160.6 642.7 L1160.7 643.2 L1160.8 643.7 L1160.9 644.2 L1160.9 644.7 L1161 645.2 L1161.1 645.7 L1161.2 646.2 L1161.3 646.7 L1161.4 647.1 L1161.4 647.6 L1161.5 648.1 L1161.6 648.6 L1161.7 649.1 L1161.8 649.6 L1161.9 650.1 L1161.9 650.6 L1162 651.1 L1162.1 651.6 L1162.2 652.1 L1162.3 652.6 L1162.4 653.1 L1162.4 653.6 L1162.5 654 L1162.6 654.5 L1162.7 655 L1162.8 655.5 L1162.9 656 L1162.9 656.5 L1163 657 L1163.1 657.5 L1163.2 658 L1163.3 658.5 L1163.4 659 L1163.5 659.5 L1163.5 660 L1163.6 660.5 L1163.7 660.9 L1163.8 661.4 L1163.9 661.9 L1164 662.4 L1164.1 662.9 L1164.1 663.4 L1164.2 663.9 L1164.3 664.4 L1164.4 664.9 L1164.5 665.4 L1164.6 665.9 L1164.7 666.4 L1164.8 666.9 L1164.8 667.3 L1164.9 667.8 L1165 668.3 L1165.1 668.8 L1165.2 669.3 L1165.3 669.8 L1165.4 670.3 L1165.5 670.8 L1165.6 671.3 L1165.7 671.8 L1165.7 672.3 L1165.8 672.8 L1165.9 673.2 L1166 673.7 L1166.1 674.2 L1166.2 674.7 L1166.3 675.2 L1166.4 675.7 L1166.5 676.2 L1166.6 676.7 L1166.7 677.2 L1166.8 677.7 L1166.9 678.2 L1167 678.7 L1167.1 679.1 L1167.2 679.6 L1167.3 680.1 L1167.4 680.6 L1167.4 681.1 L1167.5 681.6 L1167.6 682.1 L1167.8 682.6 L1167.9 683.1 L1168 683.6 L1168.1 684 L1168.2 684.5 L1168.3 685 L1168.4 685.5 L1168.5 686 L1168.6 686.5 L1168.7 687 L1168.8 687.5 L1168.9 687.9 L1169 688.4 L1169.1 688.9 L1169.2 689.4 L1169.4 689.9 L1169.5 690.4 L1169.6 690.9 L1169.7 691.4 L1169.8 691.8 L1169.9 692.3 L1170.1 692.8 L1170.2 693.3 L1170.3 693.8 L1170.4 694.3 L1170.5 694.7 L1170.7 695.2 L1170.8 695.7 L1170.9 696.2 L1171.1 696.7 L1171.2 697.2 L1171.3 697.6 L1171.5 698.1 L1171.6 698.6 L1171.8 699.1 L1171.9 699.6 L1172 700 L1172.2 700.5 L1172.3 701 L1172.5 701.5 L1172.7 701.9 L1172.8 702.4 L1173 702.9 L1173.2 703.3 L1173.3 703.8 L1173.5 704.3 L1173.7 704.7 L1173.8 705.2 L1174 705.7 L1174.2 706.1 L1174.4 706.6 L1174.6 707.1 L1174.8 707.5 L1175 708 L1175.2 708.4 L1175.4 708.9 L1175.6 709.3 L1175.8 709.8 L1176 710.3 L1176.2 710.7 L1176.4 711.2 L1176.6 711.6 L1176.8 712.1 L1177 712.5 L1177.2 713 L1177.4 713.4 L1177.6 713.9 L1177.9 714.3 L1178.1 714.8 L1178.3 715.2 L1178.5 715.7 L1178.7 716.2 L1178.8 716.6 L1179 717.1 L1179.2 717.5 L1179.4 718 L1179.6 718.5 L1179.8 718.9 L1180 719.4 L1180.1 719.9 L1180.3 720.3 L1180.5 720.8 L1180.6 721.3 L1180.8 721.7 L1181 722.2 L1181.1 722.7 L1181.3 723.2 L1181.4 723.6 L1181.6 724.1 L1181.7 724.6 L1181.8 725.1 L1182 725.5 L1182.1 726 L1182.3 726.5 L1182.4 727 L1182.5 727.5 L1182.7 727.9 L1182.8 728.4 L1182.9 728.9 L1183.1 729.4 L1183.2 729.9 L1183.3 730.4 L1183.5 730.8 L1183.6 731.3 L1183.7 731.8 L1183.9 732.3 L1184 732.8 L1184.1 733.2 L1184.3 733.7 L1184.4 734.2 L1184.5 734.7 L1184.7 735.2 L1184.8 735.7 L1184.9 736.1 L1185.1 736.6 L1185.2 737.1 L1185.4 737.6 L1185.5 738.1 L1185.7 738.5 L1185.8 739 L1185.9 739.5 L1186.1 740 L1186.2 740.4 L1186.4 740.9 L1186.5 741.4 L1186.7 741.9 L1186.8 742.3 L1187 742.8 L1187.2 743.3 L1187.3 743.8 L1187.5 744.2 L1187.6 744.7 L1187.8 745.2 L1188 745.7 L1188.1 746.1 L1188.3 746.6 L1188.5 747.1 L1188.6 747.5 L1188.8 748 L1189 748.5 L1189.1 749 L1189.3 749.4 L1189.5 749.9 L1189.7 750.4 L1189.8 750.8 L1190 751.3 L1190.2 751.8 L1190.4 752.2 L1190.6 752.7 L1190.8 753.1 L1191 753.6 L1191.2 754.1 L1191.3 754.5 L1191.5 755 L1191.7 755.4 L1191.9 755.9 L1192.1 756.4 L1192.3 756.8 L1192.5 757.3 L1192.7 757.7 L1193 758.2 L1193.2 758.6 L1193.4 759.1 L1193.6 759.5 L1193.8 760 L1194 760.4 L1194.2 760.9 L1194.5 761.3 L1194.7 761.8 L1194.9 762.2 L1195.1 762.7 L1195.4 763.1 L1195.6 763.6 L1195.8 764 L1196.1 764.4 L1196.3 764.9 L1196.5 765.3 L1196.8 765.8 L1197 766.2 L1197.3 766.6 L1197.5 767.1 L1197.8 767.5 L1198 767.9 L1198.3 768.4 L1198.5 768.8 L1198.8 769.2 L1199.1 769.6 L1199.3 770.1 L1199.6 770.5 L1199.8 770.9 L1200.1 771.3 L1200.4 771.7 L1200.6 772.2 L1200.9 772.6 L1201.2 773 L1201.5 773.4 L1201.7 773.8 L1202 774.2 L1202.3 774.7 L1202.6 775.1 L1202.9 775.5 L1203.2 775.9 L1203.5 776.3 L1203.7 776.7 L1204 777.1 L1204.3 777.5 L1204.6 777.9 L1204.9 778.3 L1205.2 778.7 L1205.5 779.1 L1205.8 779.5 L1206.1 779.9 L1206.4 780.3 L1206.7 780.7 L1207 781.1 L1207.3 781.5 L1207.7 781.9 L1208 782.3 L1208.3 782.7 L1208.6 783 L1208.9 783.4 L1209.2 783.8 L1209.6 784.2 L1209.9 784.6 L1210.2 784.9 L1210.6 785.3 L1210.9 785.7 L1211.2 786.1 L1211.6 786.4 L1211.9 786.8 L1212.2 787.1 L1212.6 787.5 L1212.9 787.9 L1213.3 788.2 L1213.6 788.6 L1214 788.9 L1214.3 789.3 L1214.7 789.6 L1215.1 790 L1215.4 790.3 L1215.8 790.7 L1216.1 791 L1216.5 791.3 L1216.9 791.7 L1217.3 792 L1217.6 792.3 L1218 792.7 L1218.4 793 L1218.8 793.3 L1219.1 793.7 L1219.5 794 L1219.9 794.3 L1220.3 794.6 L1220.7 794.9 L1221 795.3 L1221.4 795.6 L1221.8 795.9 L1222.2 796.2 L1222.6 796.5 L1223 796.8 L1223.4 797.1 L1223.8 797.4 L1224.2 797.7 L1224.6 798 L1225 798.3 L1225.4 798.6 L1225.8 798.9 L1226.2 799.2 L1226.6 799.4 L1227 799.7 L1227.4 800 L1227.8 800.2 L1228.3 800.5 L1228.7 800.7 L1229.1 801 L1229.5 801.2 L1230 801.4 L1230.4 801.7 L1230.9 801.9 L1231.3 802.1 L1231.7 802.3 L1232.2 802.5 L1232.6 802.7 L1233.1 802.9 L1233.6 803 L1234 803.2 L1234.5 803.4 L1234.9 803.5 L1235.4 803.7 L1235.9 803.9 L1236.3 804 L1236.8 804.2 L1237.3 804.3 L1237.7 804.5 L1238.2 804.7 L1238.7 804.8 L1239.1 805 L1239.6 805.2 L1240 805.4 L1240.5 805.6 L1240.9 805.8 L1241.4 806 L1241.8 806.2 L1242.3 806.4 L1242.7 806.6 L1243.2 806.8 L1243.6 807 L1244.1 807.2 L1244.5 807.5 L1244.9 807.7 L1245.4 807.9 L1245.8 808.2 L1246.3 808.4 L1246.7 808.6 L1247.1 808.9 L1247.6 809.1 L1248 809.4 L1248.4 809.6 L1248.9 809.9 L1249.3 810.1 L1249.7 810.4 L1250.2 810.6 L1250.6 810.9 L1251 811.1 L1251.5 811.3 L1251.9 811.6 L1252.3 811.8 L1252.8 812.1 L1253.2 812.3 L1253.6 812.5 L1254.1 812.8 L1254.5 813 L1255 813.2 L1255.4 813.5 L1255.9 813.7 L1256.3 813.9 L1256.7 814.1 L1257.2 814.4 L1257.6 814.6 L1258.1 814.8 L1258.5 815 L1259 815.2 L1259.4 815.5 L1259.9 815.7 L1260.3 815.9 L1260.8 816.1 L1261.3 816.3 L1261.7 816.5 L1262.2 816.7 L1262.6 816.9 L1263.1 817.1 L1263.5 817.3 L1264 817.5 L1264.4 817.7 L1264.9 817.9 L1265.4 818.1 L1265.8 818.3 L1266.3 818.5 L1266.7 818.7 L1267.2 818.9 L1267.7 819.1 L1268.1 819.3 L1268.6 819.5 L1269 819.7 L1269.5 819.9 L1270 820 L1270.4 820.2 L1270.9 820.4 L1271.4 820.6 L1271.8 820.8 L1272.3 821 L1272.8 821.1 L1273.2 821.3 L1273.7 821.5 L1274.2 821.7 L1274.6 821.8 L1275.1 822 L1275.6 822.2 L1276.1 822.3 L1276.5 822.5 L1277 822.7 L1277.5 822.8 L1277.9 823 L1278.4 823.1 L1278.9 823.3 L1279.4 823.5 L1279.8 823.6 L1280.3 823.8 L1280.8 823.9 L1281.3 824.1 L1281.7 824.2 L1282.2 824.4 L1282.7 824.5 L1283.2 824.7 L1283.6 824.8 L1284.1 825 L1284.6 825.1 L1285.1 825.3 L1285.6 825.4 L1286 825.6 L1286.5 825.7 L1287 825.9 L1287.4 826 L1287.9 826.2 L1288.4 826.3 L1288.9 826.5 L1289.3 826.7 L1289.8 826.8 L1290.3 827 L1290.7 827.2 L1291.2 827.4 L1291.6 827.6 L1292.1 827.7 L1292.6 827.9 L1293 828.1 L1293.5 828.3 L1293.9 828.5 L1294.4 828.8 L1294.8 829 L1295.2 829.2 L1295.7 829.4 L1296.1 829.6 L1296.6 829.9 L1297 830.1 L1297.4 830.3 L1297.9 830.6 L1298.3 830.8 L1298.8 831 L1299.2 831.2 L1299.6 831.5 L1300.1 831.7 L1300.5 831.9 L1301 832.1 L1301.4 832.4 L1301.9 832.6 L1302.3 832.8 L1302.8 833 L1303.2 833.2 L1303.7 833.4 L1304.1 833.5 L1304.6 833.7 L1305 833.9 L1305.5 834.1 L1306 834.2 L1306.4 834.4 L1306.9 834.6 L1307.4 834.7 L1307.9 834.8 L1308.3 835 L1308.8 835.1 L1309.3 835.3 L1309.8 835.4 L1310.2 835.5 L1310.7 835.6 L1311.2 835.8 L1311.7 835.9 L1312.2 836 L1312.7 836.1 L1313.1 836.2 L1313.6 836.3 L1314.1 836.5 L1314.6 836.6 L1315.1 836.7 L1315.6 836.8 L1316.1 836.9 L1316.6 837 L1317.1 837.1 L1317.5 837.2 L1318 837.3 L1318.5 837.4 L1319 837.5 L1319.5 837.6 L1320 837.7 L1320.5 837.8 L1321 837.9 L1321.5 838 L1322 838.1 L1322.4 838.1 L1322.9 838.2 L1323.4 838.3 L1323.9 838.4 L1324.4 838.5 L1324.9 838.6 L1325.4 838.7 L1325.9 838.8 L1326.4 838.9 L1326.9 838.9 L1327.4 839 L1327.9 839.1 L1328.4 839.2 L1328.8 839.3 L1329.3 839.4 L1329.8 839.4 L1330.3 839.5 L1330.8 839.6 L1331.3 839.7 L1331.8 839.7 L1332.3 839.8 L1332.8 839.9 L1333.3 840 L1333.8 840 L1334.3 840.1 L1334.8 840.2 L1335.3 840.2 L1335.8 840.3 L1336.3 840.4 L1336.8 840.5 L1337.3 840.5 L1337.7 840.6 L1338.2 840.6 L1338.7 840.7 L1339.2 840.8 L1339.7 840.8 L1340.2 840.9 L1340.7 841 L1341.2 841 L1341.7 841.1 L1342.2 841.1 L1342.7 841.2 L1343.2 841.3 L1343.7 841.3 L1344.2 841.4 L1344.7 841.4 L1345.2 841.5 L1345.7 841.5 L1346.2 841.6 L1346.7 841.6 L1347.2 841.7 L1347.7 841.8 L1348.2 841.8 L1348.7 841.9 L1349.2 841.9 L1349.7 842 L1350.2 842 L1350.7 842.1 L1351.2 842.1 L1351.7 842.2 L1352.2 842.2 L1352.7 842.3 L1353.1 842.3 L1353.6 842.4 L1354.1 842.4 L1354.6 842.4 L1355.1 842.5 L1355.6 842.5 L1356.1 842.6 L1356.6 842.6 L1357.1 842.7 L1357.6 842.7 L1358.1 842.8 L1358.6 842.8 L1359.1 842.8 L1359.6 842.9 L1360.1 842.9 L1360.6 843 L1361.1 843 L1361.6 843.1 L1362.1 843.1 L1362.6 843.1 L1363.1 843.2 L1363.6 843.2 L1364.1 843.2 L1364.6 843.3 L1365.1 843.3 L1365.6 843.4 L1366.1 843.4 L1366.6 843.4 L1367.1 843.5 L1367.6 843.5 L1368.1 843.6 L1368.6 843.6 L1369.1 843.6 L1369.6 843.7 L1370.1 843.7 L1370.6 843.7 L1371.1 843.8 L1371.6 843.8 L1372.1 843.8 L1372.6 843.9 L1373.1 843.9 L1373.6 843.9 L1374.1 844 L1374.6 844 L1375.1 844 L1375.6 844.1 L1376.1 844.1 L1376.6 844.1 L1377.1 844.2 L1377.6 844.2 L1378.1 844.2 L1378.6 844.2 L1379.1 844.3 L1379.6 844.3 L1380.1 844.3 L1380.6 844.4 L1381.1 844.4 L1381.6 844.4 L1382.1 844.4 L1382.6 844.5 L1383.1 844.5 L1383.6 844.5 L1384.1 844.5 L1384.6 844.6 L1385.1 844.6 L1385.6 844.6 L1386.1 844.6 L1386.6 844.7 L1387.1 844.7 L1387.6 844.7 L1388.1 844.7 L1388.6 844.7 L1389.1 844.8 L1389.6 844.8 L1390.1 844.8 L1390.6 844.8 L1391.1 844.9 L1391.6 844.9 L1392.1 844.9 L1392.6 844.9 L1393.1 844.9 L1393.6 845 L1394.1 845 L1394.6 845 L1395.1 845 L1395.6 845 L1396.1 845.1 L1396.6 845.1 L1397.1 845.1 L1397.6 845.1 L1398.1 845.1 L1398.6 845.2 L1399.1 845.2 L1399.5 845.2 L1400 845.2 L1400.5 845.2 L1401 845.3 L1401.5 845.3 L1402 845.3 L1402.5 845.3 L1403 845.3 L1403.5 845.4 L1404 845.4 L1404.5 845.4 L1405 845.4 L1405.5 845.4 L1406 845.5 L1406.5 845.5 L1407 845.5 L1407.5 845.5 L1408 845.5 L1408.5 845.5 L1409 845.6 L1409.5 845.6 L1410 845.6 L1410.5 845.6 L1411 845.6 L1411.5 845.6 L1412 845.7 L1412.5 845.7 L1413 845.7 L1413.5 845.7 L1414 845.7 L1414.5 845.7 L1415 845.7 L1415.5 845.8 L1416 845.8 L1416.5 845.8 L1417 845.8 L1417.5 845.8 L1418 845.8 L1418.5 845.8 L1419 845.9 L1419.5 845.9 L1420 845.9 L1420.5 845.9 L1421 845.9 L1421.5 845.9 L1422 845.9 L1422.5 845.9 L1423 845.9 L1423.5 846 L1424 846 L1424.5 846 L1425 846" stroke="#e2211c"/>
<path d="M1041.6 794.7 L1042 794.4 L1042.4 794.1 L1042.7 793.7 L1043.1 793.4 L1043.5 793.1 L1043.9 792.8 L1044.3 792.4 L1044.6 792.1 L1045 791.8 L1045.4 791.5 L1045.8 791.1 L1046.1 790.8 L1046.5 790.5 L1046.9 790.1 L1047.2 789.8 L1047.6 789.4 L1048 789.1 L1048.3 788.7 L1048.7 788.4 L1049 788.1 L1049.4 787.7 L1049.7 787.3 L1050.1 787 L1050.4 786.6 L1050.8 786.3 L1051.1 785.9 L1051.5 785.5 L1051.8 785.2 L1052.1 784.8 L1052.5 784.4 L1052.8 784.1 L1053.1 783.7 L1053.5 783.3 L1053.8 782.9 L1054.1 782.6 L1054.4 782.2 L1054.7 781.8 L1055.1 781.4 L1055.4 781 L1055.7 780.6 L1056 780.2 L1056.3 779.8 L1056.6 779.4 L1056.9 779 L1057.2 778.6 L1057.5 778.2 L1057.8 777.8 L1058.1 777.4 L1058.4 777 L1058.7 776.6 L1059 776.2 L1059.2 775.8 L1059.5 775.4 L1059.8 775 L1060.1 774.6 L1060.4 774.2 L1060.6 773.7 L1060.9 773.3 L1061.2 772.9 L1061.4 772.5 L1061.7 772.1 L1062 771.6 L1062.2 771.2 L1062.5 770.8 L1062.7 770.4 L1063 769.9 L1063.3 769.5 L1063.5 769.1 L1063.7 768.6 L1064 768.2 L1064.2 767.8 L1064.5 767.3 L1064.7 766.9 L1065 766.4 L1065.2 766 L1065.4 765.6 L1065.7 765.1 L1065.9 764.7 L1066.1 764.2 L1066.3 763.8 L1066.6 763.3 L1066.8 762.9 L1067 762.4 L1067.2 762 L1067.4 761.5 L1067.6 761.1 L1067.9 760.6 L1068.1 760.2 L1068.3 759.7 L1068.5 759.3 L1068.7 758.8 L1068.9 758.4 L1069.1 757.9 L1069.3 757.4 L1069.5 757 L1069.7 756.5 L1069.8 756.1 L1070 755.6 L1070.2 755.1 L1070.4 754.7 L1070.6 754.2 L1070.8 753.7 L1071 753.3 L1071.1 752.8 L1071.3 752.3 L1071.5 751.9 L1071.7 751.4 L1071.8 750.9 L1072 750.5 L1072.2 750 L1072.3 749.5 L1072.5 749.1 L1072.7 748.6 L1072.8 748.1 L1073 747.6 L1073.1 747.2 L1073.3 746.7 L1073.5 746.2 L1073.6 745.7 L1073.8 745.3 L1073.9 744.8 L1074.1 744.3 L1074.2 743.8 L1074.4 743.4 L1074.5 742.9 L1074.6 742.4 L1074.8 741.9 L1074.9 741.4 L1075.1 741 L1075.2 740.5 L1075.3 740 L1075.5 739.5 L1075.6 739 L1075.8 738.6 L1075.9 738.1 L1076 737.6 L1076.1 737.1 L1076.3 736.6 L1076.4 736.1 L1076.5 735.7 L1076.6 735.2 L1076.8 734.7 L1076.9 734.2 L1077 733.7 L1077.1 733.2 L1077.3 732.7 L1077.4 732.3 L1077.5 731.8 L1077.6 731.3 L1077.7 730.8 L1077.8 730.3 L1077.9 729.8 L1078.1 729.3 L1078.2 728.9 L1078.3 728.4 L1078.4 727.9 L1078.5 727.4 L1078.6 726.9 L1078.7 726.4 L1078.8 725.9 L1078.9 725.4 L1079 725 L1079.2 724.5 L1079.3 724 L1079.4 723.5 L1079.5 723 L1079.6 722.5 L1079.7 722 L1079.8 721.5 L1079.9 721 L1080 720.6 L1080.1 720.1 L1080.2 719.6 L1080.3 719.1 L1080.4 718.6 L1080.5 718.1 L1080.6 717.6 L1080.7 717.1 L1080.8 716.6 L1081 716.2 L1081.1 715.7 L1081.2 715.2 L1081.3 714.7 L1081.4 714.2 L1081.5 713.7 L1081.6 713.2 L1081.8 712.8 L1081.9 712.3 L1082 711.8 L1082.1 711.3 L1082.2 710.8 L1082.4 710.3 L1082.5 709.9 L1082.6 709.4 L1082.8 708.9 L1082.9 708.4 L1083 707.9 L1083.2 707.4 L1083.3 707 L1083.4 706.5 L1083.6 706 L1083.7 705.5 L1083.9 705.1 L1084 704.6 L1084.1 704.1 L1084.3 703.6 L1084.4 703.1 L1084.6 702.7 L1084.7 702.2 L1084.8 701.7 L1085 701.2 L1085.1 700.7 L1085.2 700.2 L1085.4 699.8 L1085.5 699.3 L1085.6 698.8 L1085.7 698.3 L1085.9 697.8 L1086 697.3 L1086.1 696.9 L1086.2 696.4 L1086.3 695.9 L1086.4 695.4 L1086.6 694.9 L1086.7 694.4 L1086.8 693.9 L1086.9 693.5 L1087 693 L1087.1 692.5 L1087.2 692 L1087.3 691.5 L1087.4 691 L1087.5 690.5 L1087.6 690 L1087.7 689.5 L1087.8 689.1 L1087.9 688.6 L1088 688.1 L1088.1 687.6 L1088.2 687.1 L1088.3 686.6 L1088.4 686.1 L1088.5 685.6 L1088.6 685.1 L1088.7 684.6 L1088.8 684.2 L1088.9 683.7 L1089 683.2 L1089.1 682.7 L1089.1 682.2 L1089.2 681.7 L1089.3 681.2 L1089.4 680.7 L1089.5 680.2 L1089.6 679.7 L1089.7 679.2 L1089.8 678.8 L1089.9 678.3 L1090 677.8 L1090.1 677.3 L1090.2 676.8 L1090.3 676.3 L1090.4 675.8 L1090.5 675.3 L1090.6 674.8 L1090.7 674.3 L1090.8 673.8 L1090.9 673.4 L1091 672.9 L1091.1 672.4 L1091.2 671.9 L1091.3 671.4 L1091.4 670.9 L1091.5 670.4 L1091.6 669.9 L1091.7 669.4 L1091.8 669 L1091.9 668.5 L1092 668 L1092.1 667.5 L1092.2 667 L1092.3 666.5 L1092.4 666 L1092.5 665.5 L1092.6 665 L1092.8 664.6 L1092.9 664.1 L1093 663.6 L1093.1 663.1 L1093.2 662.6 L1093.3 662.1 L1093.4 661.6 L1093.5 661.1 L1093.6 660.7 L1093.7 660.2 L1093.9 659.7 L1094 659.2 L1094.1 658.7 L1094.2 658.2 L1094.3 657.7 L1094.4 657.2 L1094.6 656.8 L1094.7 656.3 L1094.8 655.8 L1094.9 655.3 L1095.1 654.8 L1095.2 654.3 L1095.3 653.9 L1095.4 653.4 L1095.6 652.9 L1095.7 652.4 L1095.8 651.9 L1096 651.5 L1096.1 651 L1096.3 650.5 L1096.4 650 L1096.5 649.5 L1096.7 649.1 L1096.8 648.6 L1097 648.1 L1097.2 647.7 L1097.3 647.2 L1097.5 646.7 L1097.6 646.3 L1097.8 645.8 L1098 645.3 L1098.2 644.9 L1098.4 644.4 L1098.6 644 L1098.7 643.5 L1099 643.1 L1099.2 642.7 L1099.4 642.2 L1099.6 641.8 L1099.8 641.4 L1100.1 640.9 L1100.3 640.5 L1100.5 640.1 L1100.8 639.7 L1101.1 639.3 L1101.4 639 L1101.7 638.6 L1102 638.2 L1102.3 637.9 L1102.6 637.6 L1103 637.3 L1103.4 637 L1103.8 636.7 L1104.1 636.5 L1104.6 636.3 L1105 636.1 L1105.4 635.9 L1105.8 635.7 L1106.3 635.6 L1106.7 635.4 L1107.2 635.3 L1107.6 635.2 L1108.1 635.1 L1108.6 635.1 L1109 635 L1109.5 634.9 L1110 634.8 L1110.5 634.7 L1110.9 634.6 L1111.4 634.6 L1111.9 634.5 L1112.3 634.4 L1112.8 634.3 L1113.3 634.2 L1113.8 634.1 L1114.2 634 L1114.7 633.8 L1115.1 633.7 L1115.6 633.6 L1116 633.4 L1116.5 633.2 L1116.9 633 L1117.3 632.8 L1117.7 632.6 L1118.1 632.3 L1118.5 632.1 L1118.9 631.8 L1119.3 631.5 L1119.6 631.2 L1120 630.9 L1120.3 630.5 L1120.6 630.2 L1120.9 629.8 L1121.2 629.4 L1121.5 629.1 L1121.8 628.7 L1122.1 628.3 L1122.3 627.9 L1122.6 627.4 L1122.8 627 L1123.1 626.6 L1123.3 626.2 L1123.5 625.7 L1123.7 625.3 L1124 624.9 L1124.2 624.4 L1124.4 624 L1124.6 623.5 L1124.8 623.1 L1125 622.6 L1125.2 622.2 L1125.3 621.7 L1125.5 621.2 L1125.7 620.8 L1125.9 620.3 L1126 619.8 L1126.2 619.4 L1126.3 618.9 L1126.5 618.4 L1126.6 618 L1126.8 617.5 L1126.9 617 L1127.1 616.5 L1127.2 616.1 L1127.4 615.6 L1127.5 615.1 L1127.6 614.6 L1127.8 614.1 L1127.9 613.6 L1128 613.2 L1128.1 612.7 L1128.3 612.2 L1128.4 611.7 L1128.5 611.2 L1128.6 610.7 L1128.8 610.3 L1128.9 609.8 L1129 609.3 L1129.1 608.8 L1129.3 608.3 L1129.4 607.8 L1129.5 607.4 L1129.6 606.9 L1129.7 606.4 L1129.9 605.9 L1130 605.4 L1130.1 604.9 L1130.2 604.4 L1130.3 604 L1130.5 603.5 L1130.6 603 L1130.7 602.5 L1130.8 602 L1130.9 601.5 L1131.1 601 L1131.2 600.6 L1131.3 600.1 L1131.4 599.6 L1131.5 599.1 L1131.6 598.6 L1131.8 598.1 L1131.9 597.6 L1132 597.2 L1132.1 596.7 L1132.2 596.2 L1132.3 595.7 L1132.5 595.2 L1132.6 594.7 L1132.7 594.2 L1132.8 593.8 L1132.9 593.3 L1133 592.8 L1133.2 592.3 L1133.3 591.8 L1133.4 591.3 L1133.5 590.8 L1133.6 590.3 L1133.7 589.9 L1133.8 589.4 L1133.9 588.9 L1134.1 588.4 L1134.2 587.9 L1134.3 587.4 L1134.4 586.9 L1134.5 586.4 L1134.6 586 L1134.7 585.5 L1134.8 585 L1135 584.5 L1135.1 584 L1135.2 583.5 L1135.3 583 L1135.4 582.6 L1135.5 582.1 L1135.6 581.6 L1135.7 581.1 L1135.8 580.6 L1136 580.1 L1136.1 579.6 L1136.2 579.1 L1136.3 578.7 L1136.4 578.2 L1136.5 577.7 L1136.6 577.2 L1136.7 576.7 L1136.9 576.2 L1137 575.7 L1137.1 575.2 L1137.2 574.8 L1137.3 574.3 L1137.4 573.8 L1137.5 573.3 L1137.7 572.8 L1137.8 572.3 L1137.9 571.8 L1138 571.3 L1138.1 570.9 L1138.2 570.4 L1138.3 569.9 L1138.5 569.4 L1138.6 568.9 L1138.7 568.4 L1138.8 567.9 L1138.9 567.5 L1139 567 L1139.2 566.5 L1139.3 566 L1139.4 565.5 L1139.5 565 L1139.6 564.5 L1139.8 564.1 L1139.9 563.6 L1140 563.1 L1140.1 562.6 L1140.3 562.1 L1140.4 561.6 L1140.5 561.2 L1140.6 560.7 L1140.8 560.2 L1140.9 559.7 L1141 559.2 L1141.2 558.7 L1141.3 558.3 L1141.4 557.8 L1141.6 557.3 L1141.7 556.8 L1141.9 556.4 L1142 555.9 L1142.2 555.4 L1142.3 554.9 L1142.5 554.5 L1142.6 554 L1142.8 553.5 L1142.9 553 L1143.1 552.6 L1143.3 552.1 L1143.4 551.7 L1143.6 551.2 L1143.8 550.7 L1143.9 550.3 L1144.1 549.8 L1144.3 549.4 L1144.5 548.9 L1144.7 548.5 L1144.9 548 L1145.1 547.6 L1145.3 547.2 L1145.5 546.7 L1145.7 546.3 L1145.9 545.9 L1146.2 545.5 L1146.4 545 L1146.6 544.6 L1146.9 544.2 L1147.2 543.8 L1147.5 543.5 L1147.8 543.1 L1148.1 542.8 L1148.5 542.5 L1148.8 542.3 L1149.2 542.1 L1149.6 541.9 L1150.1 541.8 L1150.5 541.7 L1150.9 541.7 L1151.3 541.7 L1151.7 541.8 L1152.1 541.9 L1152.5 542.1 L1152.9 542.4 L1153.2 542.7 L1153.6 543 L1153.9 543.3 L1154.2 543.7 L1154.4 544.1 L1154.7 544.5 L1154.9 544.9 L1155.1 545.3 L1155.3 545.8 L1155.5 546.2 L1155.7 546.7 L1155.8 547.1 L1156 547.6 L1156.2 548 L1156.4 548.5 L1156.5 548.9 L1156.7 549.4 L1156.9 549.8 L1157 550.3 L1157.2 550.7 L1157.3 551.2 L1157.5 551.7 L1157.7 552.1 L1157.8 552.6 L1158 553.1 L1158.1 553.5 L1158.3 554 L1158.4 554.5 L1158.5 555 L1158.7 555.4 L1158.8 555.9 L1159 556.4 L1159.1 556.9 L1159.2 557.3 L1159.4 557.8 L1159.5 558.3 L1159.6 558.8 L1159.8 559.3 L1159.9 559.8 L1160 560.2 L1160.1 560.7 L1160.3 561.2 L1160.4 561.7 L1160.5 562.2 L1160.6 562.7 L1160.8 563.1 L1160.9 563.6 L1161 564.1 L1161.1 564.6 L1161.3 565.1 L1161.4 565.6 L1161.5 566 L1161.6 566.5 L1161.8 567 L1161.9 567.5 L1162 568 L1162.1 568.5 L1162.2 569 L1162.4 569.4 L1162.5 569.9 L1162.6 570.4 L1162.7 570.9 L1162.8 571.4 L1163 571.9 L1163.1 572.4 L1163.2 572.8 L1163.3 573.3 L1163.4 573.8 L1163.5 574.3 L1163.7 574.8 L1163.8 575.3 L1163.9 575.8 L1164 576.2 L1164.1 576.7 L1164.2 577.2 L1164.4 577.7 L1164.5 578.2 L1164.6 578.7 L1164.7 579.2 L1164.8 579.7 L1164.9 580.1 L1165 580.6 L1165.2 581.1 L1165.3 581.6 L1165.4 582.1 L1165.5 582.6 L1165.6 583.1 L1165.7 583.5 L1165.8 584 L1166 584.5 L1166.1 585 L1166.2 585.5 L1166.3 586 L1166.4 586.5 L1166.5 587 L1166.7 587.4 L1166.8 587.9 L1166.9 588.4 L1167 588.9 L1167.1 589.4 L1167.3 589.9 L1167.4 590.3 L1167.5 590.8 L1167.6 591.3 L1167.8 591.8 L1167.9 592.3 L1168 592.8 L1168.1 593.3 L1168.3 593.7 L1168.4 594.2 L1168.5 594.7 L1168.6 595.2 L1168.8 595.7 L1168.9 596.2 L1169 596.6 L1169.1 597.1 L1169.3 597.6 L1169.4 598.1 L1169.5 598.6 L1169.7 599.1 L1169.8 599.5 L1169.9 600 L1170.1 600.5 L1170.2 601 L1170.3 601.5 L1170.5 601.9 L1170.6 602.4 L1170.7 602.9 L1170.9 603.4 L1171 603.9 L1171.1 604.4 L1171.2 604.8 L1171.4 605.3 L1171.5 605.8 L1171.6 606.3 L1171.8 606.8 L1171.9 607.2 L1172 607.7 L1172.2 608.2 L1172.3 608.7 L1172.4 609.2 L1172.6 609.7 L1172.7 610.1 L1172.8 610.6 L1173 611.1 L1173.1 611.6 L1173.2 612.1 L1173.3 612.6 L1173.5 613 L1173.6 613.5 L1173.7 614 L1173.8 614.5 L1174 615 L1174.1 615.5 L1174.2 616 L1174.3 616.4 L1174.4 616.9 L1174.5 617.4 L1174.6 617.9 L1174.8 618.4 L1174.9 618.9 L1175 619.4 L1175.1 619.8 L1175.2 620.3 L1175.3 620.8 L1175.4 621.3 L1175.5 621.8 L1175.6 622.3 L1175.7 622.8 L1175.8 623.3 L1175.8 623.8 L1175.9 624.3 L1176 624.8 L1176.1 625.2 L1176.2 625.7 L1176.3 626.2 L1176.4 626.7 L1176.5 627.2 L1176.6 627.7 L1176.6 628.2 L1176.7 628.7 L1176.8 629.2 L1176.9 629.7 L1177 630.2 L1177.1 630.7 L1177.2 631.2 L1177.2 631.6 L1177.3 632.1 L1177.4 632.6 L1177.5 633.1 L1177.6 633.6 L1177.7 634.1 L1177.7 634.6 L1177.8 635.1 L1177.9 635.6 L1178 636.1 L1178.1 636.6 L1178.2 637.1 L1178.3 637.6 L1178.4 638 L1178.5 638.5 L1178.5 639 L1178.6 639.5 L1178.7 640 L1178.8 640.5 L1178.9 641 L1179 641.5 L1179.1 642 L1179.2 642.5 L1179.3 643 L1179.4 643.5 L1179.5 643.9 L1179.6 644.4 L1179.7 644.9 L1179.8 645.4 L1179.9 645.9 L1179.9 646.4 L1180 646.9 L1180.1 647.4 L1180.2 647.9 L1180.3 648.4 L1180.4 648.8 L1180.5 649.3 L1180.7 649.8 L1180.8 650.3 L1180.9 650.8 L1181 651.3 L1181.1 651.8 L1181.2 652.3 L1181.3 652.8 L1181.4 653.2 L1181.5 653.7 L1181.6 654.2 L1181.7 654.7 L1181.8 655.2 L1181.9 655.7 L1182 656.2 L1182.2 656.7 L1182.3 657.1 L1182.4 657.6 L1182.5 658.1 L1182.6 658.6 L1182.7 659.1 L1182.8 659.6 L1183 660.1 L1183.1 660.6 L1183.2 661 L1183.3 661.5 L1183.4 662 L1183.5 662.5 L1183.7 663 L1183.8 663.5 L1183.9 663.9 L1184 664.4 L1184.2 664.9 L1184.3 665.4 L1184.4 665.9 L1184.5 666.4 L1184.7 666.9 L1184.8 667.3 L1184.9 667.8 L1185 668.3 L1185.2 668.8 L1185.3 669.3 L1185.4 669.8 L1185.6 670.2 L1185.7 670.7 L1185.8 671.2 L1186 671.7 L1186.1 672.2 L1186.2 672.6 L1186.4 673.1 L1186.5 673.6 L1186.7 674.1 L1186.8 674.6 L1186.9 675 L1187.1 675.5 L1187.2 676 L1187.4 676.5 L1187.5 677 L1187.6 677.4 L1187.8 677.9 L1187.9 678.4 L1188.1 678.9 L1188.2 679.4 L1188.4 679.8 L1188.5 680.3 L1188.6 680.8 L1188.8 681.3 L1188.9 681.8 L1189.1 682.2 L1189.2 682.7 L1189.4 683.2 L1189.5 683.7 L1189.6 684.1 L1189.8 684.6 L1189.9 685.1 L1190.1 685.6 L1190.2 686.1 L1190.4 686.5 L1190.5 687 L1190.6 687.5 L1190.8 688 L1190.9 688.5 L1191.1 688.9 L1191.2 689.4 L1191.4 689.9 L1191.5 690.4 L1191.6 690.9 L1191.8 691.3 L1191.9 691.8 L1192.1 692.3 L1192.2 692.8 L1192.4 693.3 L1192.5 693.7 L1192.6 694.2 L1192.8 694.7 L1192.9 695.2 L1193.1 695.6 L1193.2 696.1 L1193.4 696.6 L1193.5 697.1 L1193.7 697.6 L1193.8 698 L1194 698.5 L1194.1 699 L1194.3 699.5 L1194.4 699.9 L1194.6 700.4 L1194.7 700.9 L1194.9 701.4 L1195 701.8 L1195.2 702.3 L1195.4 702.8 L1195.5 703.2 L1195.7 703.7 L1195.9 704.2 L1196 704.7 L1196.2 705.1 L1196.4 705.6 L1196.6 706.1 L1196.8 706.5 L1197 707 L1197.1 707.4 L1197.3 707.9 L1197.5 708.4 L1197.7 708.8 L1197.9 709.3 L1198.1 709.7 L1198.3 710.2 L1198.6 710.6 L1198.8 711.1 L1199 711.5 L1199.2 712 L1199.4 712.4 L1199.7 712.9 L1199.9 713.3 L1200.1 713.7 L1200.3 714.2 L1200.6 714.6 L1200.8 715.1 L1201 715.5 L1201.3 715.9 L1201.5 716.4 L1201.8 716.8 L1202 717.3 L1202.2 717.7 L1202.5 718.1 L1202.7 718.6 L1202.9 719 L1203.2 719.5 L1203.4 719.9 L1203.6 720.4 L1203.9 720.8 L1204.1 721.2 L1204.3 721.7 L1204.5 722.1 L1204.8 722.6 L1205 723 L1205.2 723.5 L1205.4 723.9 L1205.6 724.4 L1205.8 724.8 L1206.1 725.3 L1206.3 725.7 L1206.5 726.2 L1206.7 726.6 L1206.9 727.1 L1207.1 727.5 L1207.3 728 L1207.5 728.4 L1207.7 728.9 L1208 729.4 L1208.2 729.8 L1208.4 730.3 L1208.6 730.7 L1208.8 731.2 L1209 731.6 L1209.2 732.1 L1209.4 732.5 L1209.6 733 L1209.8 733.5 L1210 733.9 L1210.2 734.4 L1210.4 734.8 L1210.6 735.3 L1210.8 735.7 L1211.1 736.2 L1211.3 736.6 L1211.5 737.1 L1211.7 737.5 L1211.9 738 L1212.1 738.5 L1212.3 738.9 L1212.5 739.4 L1212.7 739.8 L1212.9 740.3 L1213.2 740.7 L1213.4 741.2 L1213.6 741.6 L1213.8 742.1 L1214 742.5 L1214.2 743 L1214.4 743.4 L1214.7 743.9 L1214.9 744.3 L1215.1 744.8 L1215.3 745.2 L1215.5 745.7 L1215.8 746.1 L1216 746.6 L1216.2 747 L1216.4 747.5 L1216.7 747.9 L1216.9 748.3 L1217.1 748.8 L1217.3 749.2 L1217.6 749.7 L1217.8 750.1 L1218 750.6 L1218.3 751 L1218.5 751.4 L1218.8 751.9 L1219 752.3 L1219.2 752.8 L1219.5 753.2 L1219.7 753.6 L1220 754.1 L1220.2 754.5 L1220.5 754.9 L1220.7 755.4 L1221 755.8 L1221.2 756.2 L1221.5 756.7 L1221.7 757.1 L1222 757.5 L1222.2 757.9 L1222.5 758.4 L1222.8 758.8 L1223 759.2 L1223.3 759.6 L1223.6 760.1 L1223.8 760.5 L1224.1 760.9 L1224.4 761.3 L1224.7 761.7 L1225 762.1 L1225.2 762.5 L1225.5 763 L1225.8 763.4 L1226.1 763.8 L1226.4 764.2 L1226.7 764.6 L1227 765 L1227.2 765.4 L1227.5 765.8 L1227.8 766.2 L1228.1 766.6 L1228.4 767 L1228.7 767.4 L1229 767.8 L1229.3 768.2 L1229.6 768.6 L1229.9 769 L1230.2 769.4 L1230.5 769.8 L1230.8 770.2 L1231.1 770.6 L1231.4 771 L1231.7 771.4 L1232 771.8 L1232.3 772.2 L1232.7 772.6 L1233 773 L1233.3 773.4 L1233.6 773.8 L1233.9 774.2 L1234.2 774.6 L1234.5 774.9 L1234.8 775.3 L1235.2 775.7 L1235.5 776.1 L1235.8 776.5 L1236.1 776.9 L1236.4 777.2 L1236.8 777.6 L1237.1 778 L1237.4 778.4 L1237.8 778.7 L1238.1 779.1 L1238.4 779.4 L1238.8 779.8 L1239.1 780.2 L1239.5 780.5 L1239.8 780.9 L1240.2 781.2 L1240.5 781.6 L1240.9 781.9 L1241.3 782.2 L1241.6 782.6 L1242 782.9 L1242.4 783.2 L1242.8 783.6 L1243.1 783.9 L1243.5 784.2 L1243.9 784.5 L1244.3 784.8 L1244.7 785.1 L1245.1 785.4 L1245.5 785.7 L1245.9 786 L1246.3 786.3 L1246.7 786.6 L1247.1 786.9 L1247.5 787.2 L1247.9 787.5 L1248.3 787.8 L1248.7 788.1 L1249.1 788.4 L1249.5 788.7 L1249.9 789 L1250.3 789.3 L1250.7 789.5 L1251.1 789.8 L1251.6 790.1 L1252 790.4 L1252.4 790.7 L1252.8 790.9 L1253.2 791.2 L1253.6 791.5 L1254.1 791.8 L1254.5 792 L1254.9 792.3 L1255.3 792.6 L1255.7 792.9 L1256.1 793.1 L1256.6 793.4 L1257 793.7 L1257.4 794 L1257.8 794.2 L1258.2 794.5 L1258.7 794.8 L1259.1 795 L1259.5 795.3 L1259.9 795.6 L1260.4 795.8 L1260.8 796.1 L1261.2 796.4 L1261.6 796.6 L1262.1 796.9 L1262.5 797.1 L1262.9 797.4 L1263.3 797.7 L1263.8 797.9 L1264.2 798.2 L1264.6 798.5 L1265 798.7 L1265.5 799 L1265.9 799.2 L1266.3 799.5 L1266.8 799.7 L1267.2 800 L1267.6 800.3 L1268 800.5 L1268.5 800.8 L1268.9 801 L1269.3 801.3 L1269.8 801.5 L1270.2 801.8 L1270.6 802 L1271.1 802.3 L1271.5 802.5 L1271.9 802.8 L1272.4 803 L1272.8 803.3 L1273.2 803.5 L1273.7 803.8 L1274.1 804 L1274.5 804.2 L1275 804.5 L1275.4 804.7 L1275.9 805 L1276.3 805.2 L1276.7 805.5 L1277.2 805.7 L1277.6 805.9 L1278 806.2 L1278.5 806.4 L1278.9 806.7 L1279.4 806.9 L1279.8 807.1 L1280.2 807.4 L1280.7 807.6 L1281.1 807.8 L1281.6 808.1 L1282 808.3 L1282.5 808.5 L1282.9 808.8 L1283.3 809 L1283.8 809.2 L1284.2 809.5 L1284.7 809.7 L1285.1 809.9 L1285.6 810.1 L1286 810.4 L1286.5 810.6 L1286.9 810.8 L1287.3 811 L1287.8 811.3 L1288.2 811.5 L1288.7 811.7 L1289.1 811.9 L1289.6 812.1 L1290 812.4 L1290.5 812.6 L1290.9 812.8 L1291.4 813 L1291.8 813.2 L1292.3 813.5 L1292.7 813.7 L1293.2 813.9 L1293.6 814.1 L1294.1 814.3 L1294.6 814.5 L1295 814.7 L1295.5 814.9 L1295.9 815.1 L1296.4 815.4 L1296.8 815.6 L1297.3 815.8 L1297.7 816 L1298.2 816.2 L1298.6 816.4 L1299.1 816.6 L1299.6 816.8 L1300 817 L1300.5 817.2 L1300.9 817.4 L1301.4 817.6 L1301.8 817.8 L1302.3 818 L1302.8 818.2 L1303.2 818.4 L1303.7 818.6 L1304.1 818.8 L1304.6 819 L1305.1 819.2 L1305.5 819.3 L1306 819.5 L1306.5 819.7 L1306.9 819.9 L1307.4 820.1 L1307.8 820.3 L1308.3 820.5 L1308.8 820.7 L1309.2 820.8 L1309.7 821 L1310.2 821.2 L1310.6 821.4 L1311.1 821.6 L1311.6 821.7 L1312 821.9 L1312.5 822.1 L1313 822.3 L1313.4 822.4 L1313.9 822.6 L1314.4 822.8 L1314.9 822.9 L1315.3 823.1 L1315.8 823.3 L1316.3 823.4 L1316.7 823.6 L1317.2 823.7 L1317.7 823.9 L1318.2 824.1 L1318.6 824.2 L1319.1 824.4 L1319.6 824.5 L1320.1 824.7 L1320.5 824.8 L1321 825 L1321.5 825.1 L1322 825.3 L1322.5 825.4 L1322.9 825.5 L1323.4 825.7 L1323.9 825.8 L1324.4 826 L1324.9 826.1 L1325.3 826.2 L1325.8 826.4 L1326.3 826.5 L1326.8 826.6 L1327.3 826.8 L1327.7 826.9 L1328.2 827 L1328.7 827.2 L1329.2 827.3 L1329.7 827.5 L1330.1 827.6 L1330.6 827.7 L1331.1 827.9 L1331.6 828 L1332.1 828.2 L1332.5 828.3 L1333 828.5 L1333.5 828.6 L1334 828.8 L1334.4 828.9 L1334.9 829.1 L1335.4 829.2 L1335.9 829.4 L1336.3 829.5 L1336.8 829.7 L1337.3 829.9 L1337.7 830 L1338.2 830.2 L1338.7 830.4 L1339.1 830.5 L1339.6 830.7 L1340.1 830.9 L1340.6 831 L1341 831.2 L1341.5 831.4 L1342 831.5 L1342.4 831.7 L1342.9 831.9 L1343.4 832 L1343.9 832.2 L1344.3 832.3 L1344.8 832.5 L1345.3 832.6 L1345.8 832.8 L1346.2 832.9 L1346.7 833 L1347.2 833.2 L1347.7 833.3 L1348.1 833.4 L1348.6 833.6 L1349.1 833.7 L1349.6 833.8 L1350.1 833.9 L1350.6 834 L1351.1 834.1 L1351.5 834.3 L1352 834.4 L1352.5 834.5 L1353 834.6 L1353.5 834.7 L1354 834.8 L1354.5 834.8 L1355 834.9 L1355.5 835 L1355.9 835.1 L1356.4 835.2 L1356.9 835.3 L1357.4 835.4 L1357.9 835.5 L1358.4 835.5 L1358.9 835.6 L1359.4 835.7 L1359.9 835.8 L1360.4 835.9 L1360.9 835.9 L1361.4 836 L1361.9 836.1 L1362.4 836.2 L1362.9 836.2 L1363.3 836.3 L1363.8 836.4 L1364.3 836.5 L1364.8 836.5 L1365.3 836.6 L1365.8 836.7 L1366.3 836.7 L1366.8 836.8 L1367.3 836.9 L1367.8 836.9 L1368.3 837 L1368.8 837.1 L1369.3 837.2 L1369.8 837.2 L1370.3 837.3 L1370.8 837.3 L1371.3 837.4 L1371.8 837.5 L1372.3 837.5 L1372.8 837.6 L1373.3 837.7 L1373.8 837.7 L1374.2 837.8 L1374.7 837.8 L1375.2 837.9 L1375.7 837.9 L1376.2 838 L1376.7 838.1 L1377.2 838.1 L1377.7 838.2 L1378.2 838.2 L1378.7 838.3 L1379.2 838.3 L1379.7 838.4 L1380.2 838.4 L1380.7 838.4 L1381.2 838.5 L1381.7 838.5 L1382.2 838.6 L1382.7 838.6 L1383.2 838.7 L1383.7 838.7 L1384.2 838.7 L1384.7 838.8 L1385.2 838.8 L1385.7 838.9 L1386.2 838.9 L1386.7 838.9 L1387.2 839 L1387.7 839 L1388.2 839 L1388.7 839.1 L1389.2 839.1 L1389.7 839.1 L1390.2 839.2 L1390.7 839.2 L1391.2 839.2 L1391.7 839.3 L1392.2 839.3 L1392.7 839.3 L1393.2 839.4 L1393.7 839.4 L1394.2 839.4 L1394.7 839.4 L1395.2 839.5 L1395.7 839.5 L1396.2 839.5 L1396.7 839.6 L1397.2 839.6 L1397.7 839.6 L1398.2 839.6 L1398.7 839.7 L1399.2 839.7 L1399.7 839.7 L1400.2 839.7 L1400.7 839.8 L1401.2 839.8 L1401.7 839.8 L1402.2 839.8 L1402.7 839.8 L1403.2 839.9 L1403.7 839.9 L1404.2 839.9 L1404.7 839.9 L1405.2 839.9 L1405.7 840 L1406.2 840 L1406.7 840 L1407.2 840 L1407.7 840 L1408.2 840.1 L1408.7 840.1 L1409.2 840.1 L1409.7 840.1 L1410.2 840.1 L1410.7 840.1 L1411.2 840.2 L1411.7 840.2 L1412.2 840.2 L1412.7 840.2 L1413.2 840.2 L1413.7 840.2 L1414.2 840.2 L1414.7 840.3 L1415.2 840.3 L1415.7 840.3 L1416.2 840.3 L1416.7 840.3 L1417.2 840.3 L1417.7 840.3 L1418.2 840.4 L1418.7 840.4 L1419.2 840.4 L1419.7 840.4 L1420.2 840.4 L1420.7 840.4 L1421.2 840.4 L1421.7 840.4 L1422.2 840.5 L1422.7 840.5 L1423.2 840.5 L1423.7 840.5 L1424.2 840.5 L1424.7 840.5 L1425.2 840.5" stroke="#000000"/>
<path d="M1041.6 812.1 L1042.6 812.5 L1043.6 812.8 L1044.6 813.1 L1045.6 813.5 L1046.6 813.8 L1047.6 814.1 L1048.6 814.5 L1049.6 814.8 L1050.6 815.1 L1051.6 815.4 L1052.6 815.7 L1053.6 816 L1054.6 816.3 L1055.6 816.6 L1056.3 816.8 L1056.6 816.9 L1057.6 817.2 L1058.6 817.5 L1059.6 817.8 L1060.6 818 L1061.6 818.3 L1062.6 818.6 L1063.6 818.9 L1064.6 819.1 L1065.6 819.4 L1066.6 819.6 L1067.6 819.9 L1068.6 820.2 L1069.6 820.4 L1070.6 820.7 L1071.6 820.9 L1072.1 821.1 L1072.6 821.2 L1073.6 821.4 L1074.6 821.7 L1075.6 821.9 L1076.6 822.1 L1077.6 822.4 L1078.6 822.6 L1079.6 822.8 L1080.6 823.1 L1081.6 823.4 L1082.6 823.7 L1082.6 823.7 L1083.6 824 L1084.6 824.3 L1085.6 824.7 L1086.6 825 L1087.6 825.4 L1088.6 825.8 L1089.6 826.2 L1090.6 826.7 L1091.6 827.1 L1092.6 827.6 L1093.2 827.9 L1093.6 828.1 L1094.6 828.7 L1095.6 829.2 L1096.6 829.9 L1097.6 830.5 L1098.6 831.2 L1099.6 831.9 L1100.6 832.6 L1101.6 833.3 L1102.6 834 L1103.6 834.7 L1103.7 834.7 L1104.6 835.4 L1105.6 836.2 L1106.6 837 L1107.6 837.8 L1108.6 838.7 L1109.6 839.4 L1110.6 840.2 L1111.6 840.8 L1112.1 841.1 L1112.6 841.3 L1113.6 841.9 L1114.6 842.4 L1115.6 842.8 L1116.6 843.1 L1117.4 843.2 L1117.6 843.1 L1118.6 842.4 L1119.6 841 L1120.6 839.2 L1121.6 837.4 L1121.6 837.3 L1122.6 835.3 L1123.6 833 L1124.6 830.3 L1125.6 827.4 L1125.8 826.8 L1126.6 824.3 L1127.6 820.8 L1128.6 816.8 L1128.9 815.3 L1129.6 811.5 L1130.5 806.8 L1130.6 806.7 L1131.6 805 L1132.6 804.2 L1132.6 804.2 L1133.6 804 L1134.6 803.9 L1135.6 803.7 L1135.8 803.7 L1136.6 802.6 L1137.6 799.5 L1137.9 798.4 L1138.6 794.4 L1139.5 785.8 L1139.6 783.9 L1140.5 763.2 L1140.6 762.1 L1141.6 751.3 L1142.6 742.4 L1142.6 742.1 L1143.6 732 L1144.6 722.2 L1144.7 721.1 L1145.6 714 L1146.6 707.4 L1146.8 706.3 L1147.6 704 L1148 702.9 L1148.4 701.6 L1148.6 701.9 L1148.9 702.7 L1149.6 704.6 L1150.6 707.2 L1151.1 708.4 L1151.6 710 L1152.6 713.2 L1153.6 716.7 L1154.2 718.9 L1154.6 720.5 L1155.6 725.2 L1156.6 729.7 L1156.8 730.5 L1157.6 733.3 L1158.6 736.1 L1158.9 736.3 L1159.6 734.9 L1160.6 729.3 L1161.1 726.3 L1161.6 722.9 L1162.6 711.2 L1162.6 710.5 L1163.2 672.6 L1163.6 656.6 L1164.2 641.1 L1164.6 632.7 L1165.3 620 L1165.6 612.8 L1166.6 590.2 L1167.6 566.9 L1168.3 551 L1168.6 542.3 L1168.7 540.7 L1169.2 553.3 L1169.6 565.1 L1170.6 594.4 L1171.6 620 L1171.6 620.5 L1172.6 640.3 L1172.6 641.1 L1173.6 670.5 L1173.7 672.6 L1174.6 694.1 L1175.3 704.2 L1175.6 706.6 L1176.3 710.5 L1176.6 713.3 L1177.4 721.1 L1177.6 722.1 L1178.6 724.7 L1179.5 727.4 L1179.6 728 L1180.6 736.9 L1181.1 742.1 L1181.6 749.9 L1182.1 757.9 L1182.6 765.2 L1183.2 773.7 L1183.6 781.6 L1183.7 782.6 L1184.6 789.6 L1185.3 792.1 L1185.6 792.7 L1186.6 793.8 L1187.6 794.8 L1187.9 795.3 L1188.6 797.5 L1189.6 802.6 L1190 804.7 L1190.6 808.1 L1191.6 814.6 L1192.6 820.4 L1192.6 820.5 L1193.6 825.3 L1194.6 829.5 L1195.3 831.1 L1195.6 831.5 L1196.6 832.6 L1197.6 833.1 L1197.9 833.2 L1198.6 832.7 L1199.6 830.8 L1200.6 828.1 L1201.1 826.8 L1201.6 824.8 L1202.6 819.8 L1203.6 814.6 L1203.7 814.2 L1204.6 810.4 L1205.1 808.2 L1205.6 806.3 L1205.6 806.3 L1206 807.8 L1206.6 809.7 L1207.6 813 L1207.9 814.2 L1208.6 818.3 L1209.6 825.4 L1210 827.9 L1210.6 831.2 L1211.6 836.4 L1212.6 840.4 L1212.6 840.5 L1213.6 843.4 L1214.6 845.9 L1215.6 847.9 L1216.3 848.9 L1216.6 849.3 L1217.6 850.4 L1218.6 851.3 L1219.6 852 L1220.6 852.7 L1221.6 853.2 L1221.6 853.2 L1222.6 853.6 L1223.6 854.1 L1224.6 854.5 L1225.6 854.9 L1226.6 855.2 L1227.6 855.5 L1228.6 855.7 L1229.6 855.8 L1230 855.8 L1230.6 855.8 L1231.6 855.8 L1232.6 855.8 L1233.6 855.8 L1234.6 855.8 L1235.6 855.8 L1236.6 855.8 L1237.6 855.8 L1238.6 855.8 L1239.6 855.8 L1240.5 855.8 L1240.6 855.8 L1241.6 855.8 L1242.6 855.7 L1243.6 855.6 L1244.6 855.4 L1245.6 855.2 L1246.6 855 L1247.6 854.8 L1247.9 854.7 L1248.6 854.5 L1249.6 854 L1250.6 853.3 L1251.6 852.6 L1252.6 852.1 L1252.6 852.1 L1253.6 851.8 L1254.6 851.4 L1255.3 851.2 L1255.6 851.1 L1255.8 851.1 L1256.2 851.4 L1256.6 851.6 L1257.6 852.4 L1258.6 853 L1258.9 853.2 L1259.6 853.3 L1260.6 853.5 L1261.6 853.6 L1262.6 853.7 L1262.6 853.7 L1263.6 853.3 L1264.6 852.5 L1265.6 851.3 L1265.8 851.1 L1266.6 849.6 L1267.6 847 L1268.6 844.4 L1268.9 843.7 L1269.6 842.6 L1270.6 841 L1271.1 840.2 L1271.6 839.5 L1271.6 839.5 L1272 840.2 L1272.6 841.1 L1273.6 842.6 L1274.2 843.7 L1274.6 844.5 L1275.6 847.1 L1276.6 849.6 L1277.4 851.1 L1277.6 851.4 L1278.6 852.5 L1279.6 853.5 L1280.6 854.3 L1281.6 854.7 L1281.6 854.7 L1282.6 855 L1283.6 855.3 L1284.6 855.5 L1285.6 855.6 L1286.6 855.7 L1287.6 855.8 L1287.9 855.8 L1288.6 855.8 L1289.6 855.7 L1290.6 855.6 L1291.6 855.5 L1292.6 855.4 L1293.6 855.3 L1294.6 855.1 L1295.3 855.1 L1295.6 855 L1296.6 854.9 L1297.6 854.7 L1298.6 854.5 L1299.6 854.3 L1300.6 854.1 L1301.6 853.9 L1302.2 853.8 L1302.6 853.7 L1302.6 853.7 L1303.1 853.8 L1303.6 853.9 L1304.6 854.1 L1305.6 854.4 L1306.6 854.6 L1307.6 854.8 L1308.6 855 L1309.6 855.2 L1310 855.3 L1310.6 855.3 L1311.6 855.5 L1312.6 855.6 L1313.6 855.7 L1314.6 855.8 L1315.6 855.9 L1316.6 856 L1317.6 856.1 L1318.6 856.1 L1319.5 856.1 L1319.6 856.1 L1320.6 856.1 L1321.6 856 L1322.6 855.8 L1323.6 855.6 L1324.6 855.4 L1325.6 855.1 L1326.6 854.8 L1326.8 854.7 L1327.6 854.4 L1328.6 853.8 L1329.6 853 L1330.6 852.4 L1331.1 852.1 L1331.6 851.9 L1332.6 851.5 L1333.6 851.1 L1333.8 851 L1334.2 850.8 L1334.6 851.1 L1334.7 851.1 L1335.6 851.6 L1336.6 852.2 L1337.4 852.6 L1337.6 852.8 L1338.6 853.6 L1339.6 854.5 L1340.6 855.3 L1341.6 855.8 L1341.6 855.8 L1342.6 856.1 L1343.6 856.4 L1344.6 856.7 L1345.6 856.9 L1346.6 857 L1347.6 857.1 L1347.9 857.2 L1348.6 857.2 L1349.6 857.2 L1350.6 857.3 L1351.6 857.3 L1352.6 857.3 L1353.6 857.4 L1354.6 857.4 L1355.6 857.4 L1356.6 857.5 L1357.6 857.5 L1358.6 857.5 L1359.6 857.5 L1360.6 857.5 L1361.6 857.5 L1362.6 857.6 L1363.6 857.6 L1364.6 857.6 L1365.6 857.6 L1366.6 857.6 L1366.8 857.6 L1367.6 857.6 L1368.6 857.6 L1369.6 857.6 L1370.6 857.6 L1371.6 857.6 L1372.6 857.6 L1373.6 857.6 L1374.6 857.6 L1375.6 857.6 L1376.6 857.6 L1377.6 857.6 L1378.6 857.5 L1379.6 857.5 L1380.6 857.5 L1381.6 857.5 L1382.6 857.5 L1383.6 857.5 L1384.6 857.5 L1385.6 857.5 L1386.6 857.5 L1387.6 857.5 L1388.6 857.5 L1389.6 857.5 L1390.6 857.5 L1391.6 857.4 L1392.6 857.4 L1393.6 857.4 L1394.6 857.4 L1395.6 857.4 L1396.6 857.4 L1397.6 857.4 L1398.4 857.4 L1398.6 857.4 L1399.6 857.4 L1400.6 857.3 L1401.6 857.3 L1402.6 857.3 L1403.6 857.3 L1404.6 857.2 L1405.6 857.2 L1406.6 857.2 L1407.6 857.1 L1408.6 857.1 L1409.6 857 L1410.6 857 L1411.6 857 L1412.6 856.9 L1413.6 856.9 L1414.2 856.8 L1414.6 856.8 L1415.6 856.8 L1416.6 856.7 L1417.6 856.7 L1418.6 856.6 L1419.6 856.5 L1420.6 856.5 L1421.6 856.4 L1422.6 856.3 L1423.6 856.2 L1424.6 856.2 L1425.4 856.1" stroke="#21409a" stroke-linejoin="miter" stroke-miterlimit="2.5"/>
<path d="M1041.6 738.9 L1041.9 739.3 L1042.1 739.7 L1042.4 740.2 L1042.7 740.6 L1042.9 741 L1043.2 741.4 L1043.5 741.8 L1043.8 742.3 L1044 742.7 L1044.3 743.1 L1044.6 743.5 L1044.9 743.9 L1045.2 744.2 L1045.6 744.6 L1045.9 745 L1046.2 745.3 L1046.6 745.7 L1046.9 746 L1047.3 746.4 L1047.6 746.7 L1048 747 L1048.4 747.3 L1048.8 747.6 L1049.2 747.9 L1049.6 748.1 L1050 748.3 L1050.4 748.5 L1050.9 748.7 L1051.3 748.9 L1051.7 749 L1052.2 749.1 L1052.6 749.2 L1053.1 749.2 L1053.6 749.3 L1054 749.2 L1054.5 749.2 L1054.9 749.1 L1055.4 749.1 L1055.8 748.9 L1056.3 748.8 L1056.7 748.6 L1057.1 748.4 L1057.5 748.2 L1058 747.9 L1058.4 747.7 L1058.7 747.4 L1059.1 747.1 L1059.5 746.8 L1059.8 746.5 L1060.2 746.1 L1060.5 745.8 L1060.9 745.4 L1061.2 745.1 L1061.5 744.7 L1061.8 744.3 L1062.1 743.9 L1062.4 743.5 L1062.7 743.1 L1063 742.7 L1063.2 742.3 L1063.5 741.9 L1063.8 741.4 L1064 741 L1064.3 740.6 L1064.6 740.2 L1064.8 739.7 L1065.1 739.3 L1065.3 738.9 L1065.6 738.4 L1065.8 738 L1066 737.6 L1066.3 737.1 L1066.5 736.7 L1066.8 736.2 L1067 735.8 L1067.2 735.3 L1067.4 734.9 L1067.7 734.4 L1067.9 734 L1068.1 733.5 L1068.3 733.1 L1068.5 732.6 L1068.7 732.2 L1068.9 731.7 L1069.1 731.3 L1069.3 730.8 L1069.5 730.4 L1069.7 729.9 L1069.9 729.4 L1070.1 729 L1070.3 728.5 L1070.5 728.1 L1070.7 727.6 L1070.9 727.1 L1071.1 726.7 L1071.2 726.2 L1071.4 725.7 L1071.6 725.3 L1071.8 724.8 L1071.9 724.3 L1072.1 723.9 L1072.3 723.4 L1072.5 722.9 L1072.6 722.4 L1072.8 722 L1073 721.5 L1073.1 721 L1073.3 720.6 L1073.4 720.1 L1073.6 719.6 L1073.8 719.1 L1073.9 718.7 L1074.1 718.2 L1074.2 717.7 L1074.4 717.2 L1074.5 716.8 L1074.7 716.3 L1074.8 715.8 L1075 715.3 L1075.2 714.9 L1075.3 714.4 L1075.5 713.9 L1075.6 713.4 L1075.8 713 L1075.9 712.5 L1076.1 712 L1076.2 711.5 L1076.4 711.1 L1076.5 710.6 L1076.7 710.1 L1076.8 709.6 L1077 709.2 L1077.2 708.7 L1077.3 708.2 L1077.5 707.7 L1077.7 707.3 L1077.8 706.8 L1078 706.3 L1078.2 705.9 L1078.4 705.4 L1078.6 705 L1078.8 704.5 L1079 704 L1079.2 703.6 L1079.4 703.1 L1079.6 702.7 L1079.8 702.2 L1080 701.8 L1080.2 701.3 L1080.4 700.8 L1080.6 700.4 L1080.8 699.9 L1081 699.5 L1081.2 699 L1081.4 698.6 L1081.6 698.1 L1081.8 697.6 L1082 697.2 L1082.1 696.7 L1082.3 696.2 L1082.5 695.8 L1082.6 695.3 L1082.8 694.8 L1083 694.3 L1083.1 693.9 L1083.3 693.4 L1083.4 692.9 L1083.5 692.4 L1083.7 692 L1083.8 691.5 L1083.9 691 L1084.1 690.5 L1084.2 690 L1084.3 689.5 L1084.4 689.1 L1084.6 688.6 L1084.7 688.1 L1084.8 687.6 L1084.9 687.1 L1085 686.6 L1085.1 686.1 L1085.3 685.7 L1085.4 685.2 L1085.5 684.7 L1085.6 684.2 L1085.7 683.7 L1085.8 683.2 L1085.9 682.7 L1086 682.2 L1086.2 681.8 L1086.3 681.3 L1086.4 680.8 L1086.5 680.3 L1086.6 679.8 L1086.7 679.3 L1086.8 678.8 L1086.9 678.3 L1087 677.9 L1087.2 677.4 L1087.3 676.9 L1087.4 676.4 L1087.5 675.9 L1087.6 675.4 L1087.7 674.9 L1087.8 674.4 L1087.9 674 L1088 673.5 L1088.1 673 L1088.2 672.5 L1088.3 672 L1088.4 671.5 L1088.5 671 L1088.7 670.5 L1088.8 670 L1088.9 669.6 L1089 669.1 L1089.1 668.6 L1089.2 668.1 L1089.3 667.6 L1089.4 667.1 L1089.5 666.6 L1089.6 666.1 L1089.7 665.6 L1089.8 665.2 L1089.9 664.7 L1090 664.2 L1090.1 663.7 L1090.2 663.2 L1090.3 662.7 L1090.4 662.2 L1090.5 661.7 L1090.6 661.2 L1090.7 660.7 L1090.8 660.3 L1090.9 659.8 L1091 659.3 L1091.1 658.8 L1091.2 658.3 L1091.3 657.8 L1091.4 657.3 L1091.5 656.8 L1091.6 656.3 L1091.7 655.8 L1091.8 655.4 L1091.9 654.9 L1092 654.4 L1092.1 653.9 L1092.2 653.4 L1092.3 652.9 L1092.4 652.4 L1092.5 651.9 L1092.6 651.4 L1092.7 650.9 L1092.8 650.5 L1092.9 650 L1092.9 649.5 L1093 649 L1093.1 648.5 L1093.2 648 L1093.3 647.5 L1093.4 647 L1093.5 646.5 L1093.6 646 L1093.7 645.5 L1093.8 645.1 L1093.9 644.6 L1094 644.1 L1094.1 643.6 L1094.2 643.1 L1094.3 642.6 L1094.4 642.1 L1094.5 641.6 L1094.6 641.1 L1094.7 640.6 L1094.8 640.1 L1094.9 639.7 L1095 639.2 L1095.1 638.7 L1095.2 638.2 L1095.3 637.7 L1095.4 637.2 L1095.5 636.7 L1095.6 636.2 L1095.7 635.7 L1095.8 635.2 L1095.9 634.8 L1096 634.3 L1096.1 633.8 L1096.2 633.3 L1096.3 632.8 L1096.4 632.3 L1096.5 631.8 L1096.6 631.3 L1096.7 630.9 L1096.8 630.4 L1097 629.9 L1097.1 629.4 L1097.2 628.9 L1097.3 628.4 L1097.4 627.9 L1097.5 627.4 L1097.6 627 L1097.8 626.5 L1097.9 626 L1098 625.5 L1098.1 625 L1098.3 624.5 L1098.4 624.1 L1098.5 623.6 L1098.6 623.1 L1098.8 622.6 L1098.9 622.1 L1099.1 621.7 L1099.2 621.2 L1099.4 620.7 L1099.5 620.2 L1099.7 619.8 L1099.8 619.3 L1100 618.8 L1100.2 618.3 L1100.4 617.9 L1100.5 617.4 L1100.7 617 L1100.9 616.5 L1101.1 616 L1101.3 615.6 L1101.6 615.2 L1101.8 614.7 L1102 614.3 L1102.3 613.9 L1102.5 613.4 L1102.8 613 L1103 612.6 L1103.3 612.2 L1103.6 611.8 L1103.9 611.5 L1104.2 611.1 L1104.6 610.8 L1104.9 610.5 L1105.3 610.2 L1105.6 609.9 L1106 609.7 L1106.4 609.4 L1106.8 609.2 L1107.2 609.1 L1107.7 608.9 L1108.1 608.9 L1108.6 608.8 L1109 608.8 L1109.4 608.8 L1109.9 608.8 L1110.4 608.9 L1110.8 609 L1111.2 609.1 L1111.7 609.2 L1112.1 609.4 L1112.6 609.6 L1113 609.8 L1113.4 610 L1113.9 610.3 L1114.3 610.5 L1114.7 610.8 L1115.1 611 L1115.5 611.3 L1115.9 611.6 L1116.3 611.8 L1116.8 612.1 L1117.2 612.4 L1117.6 612.7 L1118 612.9 L1118.4 613.2 L1118.8 613.4 L1119.3 613.7 L1119.7 613.9 L1120.1 614.2 L1120.6 614.4 L1121 614.6 L1121.5 614.8 L1121.9 614.9 L1122.4 615.1 L1122.8 615.2 L1123.3 615.3 L1123.7 615.4 L1124.2 615.5 L1124.7 615.6 L1125.1 615.6 L1125.6 615.6 L1126.1 615.6 L1126.5 615.5 L1127 615.4 L1127.4 615.3 L1127.9 615.2 L1128.3 615 L1128.8 614.8 L1129.2 614.6 L1129.6 614.4 L1130 614.1 L1130.4 613.9 L1130.8 613.6 L1131.2 613.3 L1131.6 613 L1131.9 612.7 L1132.3 612.3 L1132.6 612 L1133 611.6 L1133.3 611.3 L1133.6 610.9 L1133.9 610.5 L1134.2 610.1 L1134.5 609.7 L1134.8 609.3 L1135.1 608.9 L1135.4 608.5 L1135.6 608.1 L1135.9 607.7 L1136.1 607.2 L1136.4 606.8 L1136.6 606.4 L1136.9 605.9 L1137.1 605.5 L1137.4 605.1 L1137.6 604.6 L1137.8 604.2 L1138 603.7 L1138.3 603.3 L1138.5 602.8 L1138.7 602.4 L1138.9 601.9 L1139.1 601.5 L1139.3 601 L1139.5 600.6 L1139.7 600.1 L1139.9 599.6 L1140.1 599.2 L1140.3 598.7 L1140.5 598.2 L1140.7 597.8 L1140.8 597.3 L1141 596.9 L1141.2 596.4 L1141.4 595.9 L1141.6 595.5 L1141.7 595 L1141.9 594.5 L1142.1 594.1 L1142.3 593.6 L1142.4 593.1 L1142.6 592.6 L1142.8 592.2 L1142.9 591.7 L1143.1 591.2 L1143.3 590.8 L1143.4 590.3 L1143.6 589.8 L1143.8 589.3 L1143.9 588.9 L1144.1 588.4 L1144.2 587.9 L1144.4 587.4 L1144.6 587 L1144.7 586.5 L1144.9 586 L1145 585.6 L1145.2 585.1 L1145.3 584.6 L1145.5 584.1 L1145.7 583.7 L1145.8 583.2 L1146 582.7 L1146.1 582.2 L1146.3 581.7 L1146.4 581.3 L1146.6 580.8 L1146.7 580.3 L1146.9 579.8 L1147 579.4 L1147.2 578.9 L1147.3 578.4 L1147.5 577.9 L1147.6 577.5 L1147.8 577 L1147.9 576.5 L1148.1 576 L1148.2 575.5 L1148.4 575.1 L1148.5 574.6 L1148.6 574.1 L1148.8 573.6 L1148.9 573.2 L1149.1 572.7 L1149.2 572.2 L1149.4 571.7 L1149.5 571.2 L1149.7 570.8 L1149.8 570.3 L1150 569.8 L1150.1 569.3 L1150.3 568.9 L1150.4 568.4 L1150.6 567.9 L1150.7 567.4 L1150.9 566.9 L1151 566.5 L1151.2 566 L1151.3 565.5 L1151.5 565 L1151.7 564.6 L1151.8 564.1 L1152 563.6 L1152.1 563.2 L1152.3 562.7 L1152.5 562.2 L1152.6 561.7 L1152.8 561.3 L1153 560.8 L1153.1 560.3 L1153.3 559.9 L1153.5 559.4 L1153.7 558.9 L1153.8 558.5 L1154 558 L1154.2 557.5 L1154.4 557.1 L1154.6 556.6 L1154.8 556.1 L1154.9 555.7 L1155.1 555.2 L1155.3 554.7 L1155.5 554.3 L1155.7 553.8 L1155.9 553.4 L1156.1 552.9 L1156.3 552.5 L1156.5 552 L1156.8 551.6 L1157 551.1 L1157.2 550.7 L1157.4 550.2 L1157.7 549.8 L1157.9 549.3 L1158.1 548.9 L1158.4 548.5 L1158.6 548.1 L1158.9 547.6 L1159.2 547.2 L1159.5 546.8 L1159.8 546.4 L1160.1 546 L1160.4 545.7 L1160.7 545.3 L1161 544.9 L1161.3 544.6 L1161.7 544.2 L1162 543.9 L1162.4 543.6 L1162.8 543.3 L1163.2 543 L1163.6 542.8 L1164 542.5 L1164.4 542.3 L1164.9 542.1 L1165.3 542 L1165.7 541.8 L1166.2 541.7 L1166.6 541.6 L1167.1 541.5 L1167.6 541.5 L1168 541.4 L1168.5 541.5 L1168.9 541.5 L1169.4 541.6 L1169.9 541.7 L1170.3 541.8 L1170.7 541.9 L1171.2 542.1 L1171.6 542.3 L1172 542.5 L1172.4 542.8 L1172.8 543.1 L1173.2 543.3 L1173.5 543.6 L1173.9 544 L1174.2 544.3 L1174.6 544.7 L1174.9 545 L1175.2 545.4 L1175.5 545.8 L1175.8 546.2 L1176 546.6 L1176.3 547 L1176.6 547.4 L1176.8 547.8 L1177.1 548.3 L1177.3 548.7 L1177.5 549.2 L1177.7 549.6 L1178 550 L1178.2 550.5 L1178.4 551 L1178.6 551.4 L1178.8 551.9 L1178.9 552.3 L1179.1 552.8 L1179.3 553.3 L1179.5 553.7 L1179.6 554.2 L1179.8 554.7 L1180 555.1 L1180.1 555.6 L1180.3 556.1 L1180.5 556.6 L1180.6 557 L1180.8 557.5 L1180.9 558 L1181.1 558.5 L1181.2 558.9 L1181.4 559.4 L1181.5 559.9 L1181.6 560.4 L1181.8 560.9 L1181.9 561.3 L1182.1 561.8 L1182.2 562.3 L1182.3 562.8 L1182.4 563.3 L1182.6 563.8 L1182.7 564.2 L1182.8 564.7 L1183 565.2 L1183.1 565.7 L1183.2 566.2 L1183.3 566.7 L1183.4 567.1 L1183.6 567.6 L1183.7 568.1 L1183.8 568.6 L1183.9 569.1 L1184 569.6 L1184.1 570.1 L1184.2 570.5 L1184.4 571 L1184.5 571.5 L1184.6 572 L1184.7 572.5 L1184.8 573 L1184.9 573.5 L1185 574 L1185.1 574.5 L1185.2 574.9 L1185.3 575.4 L1185.4 575.9 L1185.5 576.4 L1185.6 576.9 L1185.7 577.4 L1185.8 577.9 L1185.9 578.4 L1186 578.9 L1186.1 579.4 L1186.2 579.8 L1186.3 580.3 L1186.4 580.8 L1186.5 581.3 L1186.6 581.8 L1186.7 582.3 L1186.8 582.8 L1186.9 583.3 L1187 583.8 L1187.1 584.3 L1187.2 584.7 L1187.3 585.2 L1187.4 585.7 L1187.5 586.2 L1187.6 586.7 L1187.7 587.2 L1187.8 587.7 L1187.9 588.2 L1188 588.7 L1188 589.2 L1188.1 589.7 L1188.2 590.1 L1188.3 590.6 L1188.4 591.1 L1188.5 591.6 L1188.6 592.1 L1188.7 592.6 L1188.8 593.1 L1188.9 593.6 L1189 594.1 L1189.1 594.6 L1189.2 595 L1189.3 595.5 L1189.4 596 L1189.5 596.5 L1189.6 597 L1189.7 597.5 L1189.8 598 L1189.9 598.5 L1190 599 L1190.1 599.5 L1190.2 600 L1190.3 600.4 L1190.4 600.9 L1190.5 601.4 L1190.6 601.9 L1190.7 602.4 L1190.8 602.9 L1190.9 603.4 L1191 603.9 L1191.1 604.4 L1191.2 604.9 L1191.3 605.3 L1191.4 605.8 L1191.5 606.3 L1191.6 606.8 L1191.7 607.3 L1191.8 607.8 L1191.9 608.3 L1192 608.8 L1192.1 609.3 L1192.2 609.8 L1192.3 610.2 L1192.4 610.7 L1192.5 611.2 L1192.6 611.7 L1192.7 612.2 L1192.8 612.7 L1192.8 613.2 L1192.9 613.7 L1193 614.2 L1193.1 614.7 L1193.2 615.1 L1193.3 615.6 L1193.4 616.1 L1193.5 616.6 L1193.6 617.1 L1193.7 617.6 L1193.8 618.1 L1193.9 618.6 L1194 619.1 L1194.1 619.6 L1194.2 620.1 L1194.3 620.5 L1194.4 621 L1194.5 621.5 L1194.6 622 L1194.7 622.5 L1194.8 623 L1194.9 623.5 L1195 624 L1195.1 624.5 L1195.2 625 L1195.3 625.4 L1195.4 625.9 L1195.5 626.4 L1195.6 626.9 L1195.7 627.4 L1195.8 627.9 L1195.9 628.4 L1196 628.9 L1196.1 629.4 L1196.2 629.9 L1196.3 630.3 L1196.4 630.8 L1196.5 631.3 L1196.6 631.8 L1196.7 632.3 L1196.8 632.8 L1196.9 633.3 L1197 633.8 L1197.1 634.3 L1197.2 634.8 L1197.3 635.3 L1197.3 635.7 L1197.4 636.2 L1197.5 636.7 L1197.6 637.2 L1197.7 637.7 L1197.8 638.2 L1197.9 638.7 L1198 639.2 L1198.1 639.7 L1198.2 640.2 L1198.3 640.7 L1198.3 641.2 L1198.4 641.6 L1198.5 642.1 L1198.6 642.6 L1198.7 643.1 L1198.8 643.6 L1198.9 644.1 L1199 644.6 L1199 645.1 L1199.1 645.6 L1199.2 646.1 L1199.3 646.6 L1199.4 647.1 L1199.5 647.6 L1199.6 648 L1199.6 648.5 L1199.7 649 L1199.8 649.5 L1199.9 650 L1200 650.5 L1200.1 651 L1200.1 651.5 L1200.2 652 L1200.3 652.5 L1200.4 653 L1200.5 653.5 L1200.6 654 L1200.7 654.5 L1200.7 654.9 L1200.8 655.4 L1200.9 655.9 L1201 656.4 L1201.1 656.9 L1201.2 657.4 L1201.2 657.9 L1201.3 658.4 L1201.4 658.9 L1201.5 659.4 L1201.6 659.9 L1201.7 660.4 L1201.7 660.9 L1201.8 661.4 L1201.9 661.8 L1202 662.3 L1202.1 662.8 L1202.1 663.3 L1202.2 663.8 L1202.3 664.3 L1202.4 664.8 L1202.5 665.3 L1202.6 665.8 L1202.6 666.3 L1202.7 666.8 L1202.8 667.3 L1202.9 667.8 L1203 668.3 L1203 668.8 L1203.1 669.2 L1203.2 669.7 L1203.3 670.2 L1203.4 670.7 L1203.5 671.2 L1203.5 671.7 L1203.6 672.2 L1203.7 672.7 L1203.8 673.2 L1203.9 673.7 L1204 674.2 L1204 674.7 L1204.1 675.2 L1204.2 675.7 L1204.3 676.2 L1204.4 676.6 L1204.5 677.1 L1204.5 677.6 L1204.6 678.1 L1204.7 678.6 L1204.8 679.1 L1204.9 679.6 L1205 680.1 L1205.1 680.6 L1205.1 681.1 L1205.2 681.6 L1205.3 682.1 L1205.4 682.6 L1205.5 683 L1205.6 683.5 L1205.6 684 L1205.7 684.5 L1205.8 685 L1205.9 685.5 L1206 686 L1206 686.5 L1206.1 687 L1206.2 687.5 L1206.3 688 L1206.4 688.5 L1206.4 689 L1206.5 689.5 L1206.6 690 L1206.6 690.5 L1206.7 691 L1206.8 691.4 L1206.9 691.9 L1206.9 692.4 L1207 692.9 L1207.1 693.4 L1207.1 693.9 L1207.2 694.4 L1207.3 694.9 L1207.3 695.4 L1207.4 695.9 L1207.4 696.4 L1207.5 696.9 L1207.6 697.4 L1207.6 697.9 L1207.7 698.4 L1207.8 698.9 L1207.9 699.4 L1207.9 699.9 L1208 700.4 L1208.1 700.9 L1208.2 701.3 L1208.2 701.8 L1208.3 702.3 L1208.4 702.8 L1208.5 703.3 L1208.6 703.8 L1208.7 704.3 L1208.7 704.8 L1208.8 705.3 L1208.9 705.8 L1209 706.3 L1209.1 706.8 L1209.2 707.3 L1209.3 707.7 L1209.4 708.2 L1209.5 708.7 L1209.6 709.2 L1209.7 709.7 L1209.8 710.2 L1209.9 710.7 L1210 711.2 L1210.1 711.7 L1210.2 712.1 L1210.4 712.6 L1210.5 713.1 L1210.6 713.6 L1210.7 714.1 L1210.8 714.6 L1210.9 715.1 L1211 715.6 L1211.1 716 L1211.3 716.5 L1211.4 717 L1211.5 717.5 L1211.6 718 L1211.7 718.5 L1211.8 719 L1211.9 719.5 L1212 719.9 L1212.1 720.4 L1212.3 720.9 L1212.4 721.4 L1212.5 721.9 L1212.6 722.4 L1212.7 722.9 L1212.8 723.4 L1212.9 723.9 L1213 724.3 L1213.1 724.8 L1213.2 725.3 L1213.3 725.8 L1213.4 726.3 L1213.5 726.8 L1213.6 727.3 L1213.7 727.8 L1213.8 728.3 L1213.8 728.8 L1213.9 729.2 L1214 729.7 L1214.1 730.2 L1214.2 730.7 L1214.3 731.2 L1214.4 731.7 L1214.5 732.2 L1214.6 732.7 L1214.7 733.2 L1214.8 733.7 L1214.9 734.1 L1215.1 734.6 L1215.2 735.1 L1215.3 735.6 L1215.4 736.1 L1215.5 736.6 L1215.6 737.1 L1215.7 737.6 L1215.8 738 L1216 738.5 L1216.1 739 L1216.2 739.5 L1216.3 740 L1216.5 740.5 L1216.6 740.9 L1216.7 741.4 L1216.8 741.9 L1217 742.4 L1217.1 742.9 L1217.2 743.4 L1217.3 743.8 L1217.5 744.3 L1217.6 744.8 L1217.7 745.3 L1217.9 745.8 L1218 746.3 L1218.1 746.7 L1218.3 747.2 L1218.4 747.7 L1218.5 748.2 L1218.7 748.7 L1218.8 749.2 L1218.9 749.6 L1219.1 750.1 L1219.2 750.6 L1219.3 751.1 L1219.5 751.6 L1219.6 752 L1219.7 752.5 L1219.8 753 L1220 753.5 L1220.1 754 L1220.2 754.5 L1220.4 754.9 L1220.5 755.4 L1220.6 755.9 L1220.7 756.4 L1220.9 756.9 L1221 757.4 L1221.1 757.8 L1221.2 758.3 L1221.4 758.8 L1221.5 759.3 L1221.6 759.8 L1221.8 760.3 L1221.9 760.7 L1222 761.2 L1222.1 761.7 L1222.3 762.2 L1222.4 762.7 L1222.5 763.2 L1222.7 763.6 L1222.8 764.1 L1222.9 764.6 L1223.1 765.1 L1223.2 765.6 L1223.3 766.1 L1223.5 766.5 L1223.6 767 L1223.7 767.5 L1223.9 768 L1224 768.5 L1224.2 768.9 L1224.3 769.4 L1224.4 769.9 L1224.6 770.4 L1224.7 770.9 L1224.9 771.3 L1225 771.8 L1225.2 772.3 L1225.3 772.8 L1225.5 773.2 L1225.6 773.7 L1225.7 774.2 L1225.9 774.7 L1226 775.2 L1226.2 775.6 L1226.3 776.1 L1226.5 776.6 L1226.6 777.1 L1226.8 777.5 L1226.9 778 L1227.1 778.5 L1227.2 779 L1227.4 779.5 L1227.5 779.9 L1227.7 780.4 L1227.8 780.9 L1228 781.4 L1228.1 781.8 L1228.3 782.3 L1228.5 782.8 L1228.6 783.3 L1228.8 783.7 L1228.9 784.2 L1229.1 784.7 L1229.2 785.2 L1229.4 785.6 L1229.5 786.1 L1229.7 786.6 L1229.8 787.1 L1230 787.5 L1230.2 788 L1230.3 788.5 L1230.5 789 L1230.6 789.4 L1230.8 789.9 L1231 790.4 L1231.1 790.9 L1231.3 791.3 L1231.5 791.8 L1231.6 792.3 L1231.8 792.7 L1232 793.2 L1232.1 793.7 L1232.3 794.1 L1232.5 794.6 L1232.7 795.1 L1232.8 795.6 L1233 796 L1233.2 796.5 L1233.4 797 L1233.6 797.4 L1233.7 797.9 L1233.9 798.3 L1234.1 798.8 L1234.3 799.3 L1234.5 799.7 L1234.7 800.2 L1234.9 800.7 L1235.1 801.1 L1235.3 801.6 L1235.5 802 L1235.7 802.5 L1235.9 803 L1236.1 803.4 L1236.3 803.9 L1236.5 804.3 L1236.7 804.8 L1236.9 805.2 L1237.2 805.7 L1237.4 806.1 L1237.6 806.5 L1237.9 807 L1238.1 807.4 L1238.3 807.9 L1238.6 808.3 L1238.8 808.7 L1239.1 809.2 L1239.3 809.6 L1239.6 810 L1239.8 810.4 L1240.1 810.9 L1240.4 811.3 L1240.6 811.7 L1240.9 812.1 L1241.2 812.5 L1241.5 813 L1241.7 813.4 L1242 813.8 L1242.3 814.2 L1242.6 814.6 L1242.8 815.1 L1243.1 815.5 L1243.4 815.9 L1243.7 816.3 L1244 816.7 L1244.2 817.1 L1244.5 817.5 L1244.8 818 L1245.1 818.4 L1245.4 818.8 L1245.6 819.2 L1245.9 819.6 L1246.2 820 L1246.5 820.4 L1246.8 820.8 L1247.1 821.2 L1247.4 821.6 L1247.7 822 L1248.1 822.4 L1248.4 822.7 L1248.7 823.1 L1249 823.5 L1249.4 823.8 L1249.7 824.2 L1250.1 824.5 L1250.5 824.8 L1250.8 825.1 L1251.2 825.4 L1251.6 825.7 L1252 826 L1252.4 826.3 L1252.8 826.6 L1253.3 826.8 L1253.7 827.1 L1254.1 827.3 L1254.6 827.5 L1255 827.8 L1255.4 828 L1255.9 828.2 L1256.4 828.4 L1256.8 828.5 L1257.3 828.7 L1257.7 828.9 L1258.2 829.1 L1258.7 829.2 L1259.2 829.4 L1259.6 829.5 L1260.1 829.7 L1260.6 829.8 L1261.1 829.9 L1261.6 830 L1262 830.2 L1262.5 830.3 L1263 830.4 L1263.5 830.5 L1264 830.6 L1264.5 830.7 L1265 830.7 L1265.5 830.8 L1266 830.9 L1266.5 831 L1266.9 831 L1267.4 831.1 L1267.9 831.1 L1268.4 831.2 L1268.9 831.3 L1269.4 831.3 L1269.9 831.4 L1270.4 831.4 L1270.9 831.5 L1271.4 831.5 L1271.9 831.5 L1272.4 831.6 L1272.9 831.6 L1273.4 831.7 L1273.9 831.7 L1274.4 831.7 L1274.9 831.8 L1275.4 831.8 L1275.9 831.8 L1276.4 831.9 L1276.9 831.9 L1277.4 832 L1277.9 832 L1278.4 832 L1278.9 832.1 L1279.4 832.1 L1279.9 832.1 L1280.4 832.2 L1280.9 832.2 L1281.4 832.2 L1281.9 832.3 L1282.4 832.3 L1282.9 832.3 L1283.4 832.4 L1283.9 832.4 L1284.4 832.5 L1284.9 832.5 L1285.4 832.5 L1285.9 832.6 L1286.4 832.6 L1286.9 832.6 L1287.4 832.7 L1287.9 832.7 L1288.4 832.8 L1288.9 832.8 L1289.4 832.8 L1289.9 832.9 L1290.4 832.9 L1290.9 833 L1291.4 833 L1291.9 833.1 L1292.4 833.1 L1292.9 833.1 L1293.4 833.2 L1293.8 833.2 L1294.3 833.3 L1294.8 833.3 L1295.3 833.4 L1295.8 833.4 L1296.3 833.5 L1296.8 833.5 L1297.3 833.6 L1297.8 833.6 L1298.3 833.7 L1298.8 833.7 L1299.3 833.8 L1299.8 833.8 L1300.3 833.9 L1300.8 833.9 L1301.3 834 L1301.8 834 L1302.3 834.1 L1302.8 834.1 L1303.3 834.2 L1303.8 834.2 L1304.3 834.3 L1304.8 834.3 L1305.3 834.4 L1305.8 834.5 L1306.3 834.5 L1306.8 834.6 L1307.3 834.6 L1307.8 834.7 L1308.3 834.7 L1308.8 834.8 L1309.3 834.9 L1309.8 834.9 L1310.3 835 L1310.8 835 L1311.2 835.1 L1311.7 835.2 L1312.2 835.2 L1312.7 835.3 L1313.2 835.4 L1313.7 835.4 L1314.2 835.5 L1314.7 835.5 L1315.2 835.6 L1315.7 835.7 L1316.2 835.7 L1316.7 835.8 L1317.2 835.9 L1317.7 835.9 L1318.2 836 L1318.7 836.1 L1319.2 836.1 L1319.7 836.2 L1320.2 836.2 L1320.7 836.3 L1321.2 836.4 L1321.7 836.4 L1322.2 836.5 L1322.7 836.6 L1323.1 836.6 L1323.6 836.7 L1324.1 836.8 L1324.6 836.8 L1325.1 836.9 L1325.6 837 L1326.1 837 L1326.6 837.1 L1327.1 837.2 L1327.6 837.2 L1328.1 837.3 L1328.6 837.3 L1329.1 837.4 L1329.6 837.5 L1330.1 837.5 L1330.6 837.6 L1331.1 837.7 L1331.6 837.7 L1332.1 837.8 L1332.6 837.9 L1333.1 837.9 L1333.6 838 L1334.1 838.1 L1334.6 838.1 L1335.1 838.2 L1335.5 838.2 L1336 838.3 L1336.5 838.4 L1337 838.4 L1337.5 838.5 L1338 838.5 L1338.5 838.6 L1339 838.7 L1339.5 838.7 L1340 838.8 L1340.5 838.8 L1341 838.9 L1341.5 839 L1342 839 L1342.5 839.1 L1343 839.1 L1343.5 839.2 L1344 839.3 L1344.5 839.3 L1345 839.4 L1345.5 839.4 L1346 839.5 L1346.5 839.6 L1347 839.6 L1347.5 839.7 L1348 839.7 L1348.5 839.8 L1348.9 839.9 L1349.4 839.9 L1349.9 840 L1350.4 840 L1350.9 840.1 L1351.4 840.2 L1351.9 840.2 L1352.4 840.3 L1352.9 840.3 L1353.4 840.4 L1353.9 840.4 L1354.4 840.5 L1354.9 840.6 L1355.4 840.6 L1355.9 840.7 L1356.4 840.7 L1356.9 840.8 L1357.4 840.8 L1357.9 840.9 L1358.4 840.9 L1358.9 841 L1359.4 841 L1359.9 841.1 L1360.4 841.1 L1360.9 841.2 L1361.4 841.2 L1361.9 841.3 L1362.4 841.3 L1362.9 841.4 L1363.4 841.4 L1363.9 841.5 L1364.4 841.5 L1364.9 841.6 L1365.4 841.6 L1365.8 841.7 L1366.3 841.7 L1366.8 841.8 L1367.3 841.8 L1367.8 841.9 L1368.3 841.9 L1368.8 842 L1369.3 842 L1369.8 842.1 L1370.3 842.1 L1370.8 842.2 L1371.3 842.2 L1371.8 842.3 L1372.3 842.3 L1372.8 842.4 L1373.3 842.4 L1373.8 842.5 L1374.3 842.5 L1374.8 842.6 L1375.3 842.6 L1375.8 842.7 L1376.3 842.7 L1376.8 842.8 L1377.3 842.8 L1377.8 842.9 L1378.3 842.9 L1378.8 843 L1379.3 843 L1379.8 843 L1380.3 843.1 L1380.8 843.1 L1381.3 843.2 L1381.8 843.2 L1382.3 843.2 L1382.8 843.3 L1383.3 843.3 L1383.8 843.4 L1384.3 843.4 L1384.8 843.4 L1385.3 843.5 L1385.8 843.5 L1386.3 843.6 L1386.8 843.6 L1387.3 843.6 L1387.8 843.7 L1388.3 843.7 L1388.8 843.7 L1389.3 843.8 L1389.8 843.8 L1390.3 843.8 L1390.8 843.9 L1391.3 843.9 L1391.7 843.9 L1392.2 844 L1392.7 844 L1393.2 844 L1393.7 844 L1394.2 844.1 L1394.7 844.1 L1395.2 844.1 L1395.7 844.2 L1396.2 844.2 L1396.7 844.2 L1397.2 844.2 L1397.7 844.3 L1398.2 844.3 L1398.7 844.3 L1399.2 844.4 L1399.7 844.4 L1400.2 844.4 L1400.7 844.4 L1401.2 844.5 L1401.7 844.5 L1402.2 844.5 L1402.7 844.5 L1403.2 844.6 L1403.7 844.6 L1404.2 844.6 L1404.7 844.6 L1405.2 844.7 L1405.7 844.7 L1406.2 844.7 L1406.7 844.7 L1407.2 844.8 L1407.7 844.8 L1408.2 844.8 L1408.7 844.8 L1409.2 844.9 L1409.7 844.9 L1410.2 844.9 L1410.7 844.9 L1411.2 844.9 L1411.7 845 L1412.2 845 L1412.7 845 L1413.2 845 L1413.7 845.1 L1414.2 845.1 L1414.7 845.1 L1415.2 845.1 L1415.7 845.2 L1416.2 845.2 L1416.7 845.2 L1417.2 845.2 L1417.7 845.2 L1418.2 845.3 L1418.7 845.3 L1419.2 845.3 L1419.7 845.3 L1420.2 845.4 L1420.7 845.4 L1421.2 845.4 L1421.7 845.4 L1422.2 845.4 L1422.7 845.5 L1423.2 845.5 L1423.7 845.5 L1424.2 845.5 L1424.7 845.5 L1425.2 845.6" stroke="#57b32c"/>
</g>
<text x="1298.5" y="507.4" font-size="29.4" text-anchor="end">ADA (w/g)</text>
<text x="1298.5" y="536.7" font-size="29.4" text-anchor="end">ADA (w/p)</text>
<text x="1298.5" y="565.9" font-size="29.4" text-anchor="end">DDA</text>
<text x="1298.5" y="595.1" font-size="29.4" text-anchor="end">TDDFT</text>
<rect x="1041.6" y="476.4" width="383.9" height="383.7" fill="none" stroke="#000" stroke-width="3.4"/>
<text x="1045.9" y="896.2" font-size="33" text-anchor="middle">250</text>
<text x="1155.6" y="896.2" font-size="33" text-anchor="middle">350</text>
<text x="1265.2" y="896.2" font-size="33" text-anchor="middle">450</text>
<text x="1374.9" y="896.2" font-size="33" text-anchor="middle">550</text>
<text x="1026.7" y="871.3" font-size="33" text-anchor="end">0</text>
<text x="1026.7" y="775.4" font-size="33" text-anchor="end">0.3</text>
<text x="1026.7" y="679.5" font-size="33" text-anchor="end">0.6</text>
<text x="1026.7" y="583.6" font-size="33" text-anchor="end">0.9</text>
<text x="1026.7" y="487.6" font-size="33" text-anchor="end">1.2</text>
<text x="1234.5" y="936.3" font-size="37.7" text-anchor="middle">Wavelength (nm)</text>
</g>
<g>
<path d="M1617.8 860.1 v-6.3 M1617.8 476.4 v6.3 M1727.5 860.1 v-6.3 M1727.5 476.4 v6.3 M1837.2 860.1 v-6.3 M1837.2 476.4 v6.3 M1508.2 764.2 h6.3 M1892 764.2 h-6.3 M1508.2 668.3 h6.3 M1892 668.3 h-6.3 M1508.2 572.4 h6.3 M1892 572.4 h-6.3" stroke="#000" stroke-width="1.5" fill="none"/>
<path d="M1782.1 497.5 H1858.9" stroke="#e2211c" stroke-width="4.8" fill="none"/>
<path d="M1782.1 526.8 H1858.9" stroke="#000000" stroke-width="4.8" fill="none"/>
<path d="M1782.1 556 H1858.9" stroke="#21409a" stroke-width="4.8" fill="none"/>
<path d="M1782.1 585.2 H1858.9" stroke="#57b32c" stroke-width="4.8" fill="none"/>
<clipPath id="cp3"><rect x="1508.2" y="476.4" width="383.9" height="383.7"/></clipPath>
<g clip-path="url(#cp3)" fill="none" stroke-width="4.8" stroke-linejoin="bevel">
<path d="M1508.2 673.8 L1508.4 673.4 L1508.6 672.9 L1508.8 672.5 L1509 672 L1509.3 671.6 L1509.5 671.1 L1509.7 670.7 L1509.9 670.3 L1510.2 669.8 L1510.4 669.4 L1510.6 668.9 L1510.9 668.5 L1511.1 668 L1511.3 667.6 L1511.6 667.2 L1511.8 666.7 L1512.1 666.3 L1512.3 665.9 L1512.6 665.4 L1512.8 665 L1513.1 664.6 L1513.3 664.2 L1513.6 663.8 L1513.9 663.3 L1514.1 662.9 L1514.4 662.5 L1514.7 662.1 L1515 661.7 L1515.3 661.3 L1515.6 660.9 L1515.8 660.5 L1516.1 660.1 L1516.5 659.7 L1516.8 659.4 L1517.1 659 L1517.4 658.6 L1517.7 658.3 L1518 657.9 L1518.4 657.6 L1518.7 657.2 L1519.1 656.9 L1519.4 656.6 L1519.8 656.3 L1520.2 655.9 L1520.5 655.7 L1520.9 655.4 L1521.3 655.1 L1521.7 654.9 L1522.1 654.6 L1522.6 654.4 L1523 654.2 L1523.4 654.1 L1523.9 653.9 L1524.3 653.8 L1524.8 653.7 L1525.2 653.7 L1525.7 653.6 L1526.2 653.6 L1526.6 653.6 L1527.1 653.7 L1527.5 653.8 L1528 653.9 L1528.4 654 L1528.9 654.2 L1529.3 654.3 L1529.8 654.5 L1530.2 654.7 L1530.6 655 L1531 655.2 L1531.4 655.4 L1531.8 655.7 L1532.2 656 L1532.6 656.2 L1533 656.5 L1533.4 656.8 L1533.8 657.1 L1534.2 657.4 L1534.6 657.7 L1535 658 L1535.4 658.3 L1535.7 658.6 L1536.1 658.9 L1536.5 659.2 L1536.9 659.6 L1537.2 659.9 L1537.6 660.2 L1538 660.5 L1538.4 660.9 L1538.8 661.2 L1539.1 661.5 L1539.5 661.8 L1539.9 662.1 L1540.3 662.5 L1540.6 662.8 L1541 663.1 L1541.4 663.4 L1541.8 663.7 L1542.2 664 L1542.6 664.3 L1542.9 664.6 L1543.3 664.9 L1543.7 665.2 L1544.1 665.5 L1544.5 665.8 L1544.9 666.1 L1545.3 666.3 L1545.8 666.6 L1546.2 666.8 L1546.6 667.1 L1547 667.3 L1547.5 667.5 L1547.9 667.7 L1548.3 667.9 L1548.8 668.1 L1549.2 668.3 L1549.7 668.4 L1550.1 668.6 L1550.6 668.7 L1551.1 668.8 L1551.5 668.9 L1552 669 L1552.5 669.1 L1553 669.1 L1553.4 669.1 L1553.9 669.1 L1554.4 669.1 L1554.9 669.1 L1555.4 669.1 L1555.8 669 L1556.3 669 L1556.8 668.9 L1557.3 668.8 L1557.7 668.7 L1558.2 668.6 L1558.7 668.4 L1559.1 668.3 L1559.6 668.1 L1560 667.9 L1560.5 667.8 L1560.9 667.6 L1561.4 667.4 L1561.8 667.2 L1562.2 667 L1562.7 666.7 L1563.1 666.5 L1563.5 666.2 L1564 666 L1564.4 665.7 L1564.8 665.5 L1565.2 665.2 L1565.6 664.9 L1566 664.7 L1566.4 664.4 L1566.8 664.1 L1567.2 663.8 L1567.6 663.5 L1568 663.2 L1568.4 662.9 L1568.8 662.6 L1569.2 662.2 L1569.5 661.9 L1569.9 661.6 L1570.3 661.3 L1570.6 660.9 L1571 660.6 L1571.4 660.3 L1571.7 659.9 L1572.1 659.6 L1572.5 659.2 L1572.8 658.9 L1573.2 658.5 L1573.5 658.2 L1573.9 657.8 L1574.2 657.5 L1574.6 657.1 L1574.9 656.7 L1575.2 656.4 L1575.6 656 L1575.9 655.6 L1576.3 655.3 L1576.6 654.9 L1576.9 654.5 L1577.3 654.2 L1577.6 653.8 L1577.9 653.4 L1578.2 653 L1578.6 652.6 L1578.9 652.3 L1579.2 651.9 L1579.5 651.5 L1579.9 651.1 L1580.2 650.7 L1580.5 650.4 L1580.8 650 L1581.1 649.6 L1581.4 649.2 L1581.8 648.8 L1582.1 648.4 L1582.4 648 L1582.7 647.6 L1583 647.2 L1583.3 646.8 L1583.6 646.5 L1583.9 646.1 L1584.2 645.7 L1584.5 645.3 L1584.8 644.9 L1585.1 644.5 L1585.5 644.1 L1585.8 643.7 L1586.1 643.3 L1586.4 642.9 L1586.7 642.5 L1587 642.1 L1587.3 641.7 L1587.6 641.3 L1587.9 640.9 L1588.2 640.5 L1588.5 640.1 L1588.8 639.7 L1589.1 639.3 L1589.4 638.9 L1589.6 638.5 L1589.9 638.1 L1590.2 637.7 L1590.5 637.3 L1590.8 636.9 L1591.1 636.5 L1591.4 636.1 L1591.7 635.7 L1592 635.2 L1592.3 634.8 L1592.6 634.4 L1592.9 634 L1593.2 633.6 L1593.5 633.2 L1593.8 632.8 L1594 632.4 L1594.3 632 L1594.6 631.6 L1594.9 631.2 L1595.2 630.8 L1595.5 630.4 L1595.8 630 L1596.1 629.6 L1596.4 629.1 L1596.6 628.7 L1596.9 628.3 L1597.2 627.9 L1597.5 627.5 L1597.8 627.1 L1598.1 626.7 L1598.4 626.3 L1598.7 625.9 L1598.9 625.5 L1599.2 625 L1599.5 624.6 L1599.8 624.2 L1600.1 623.8 L1600.4 623.4 L1600.7 623 L1600.9 622.6 L1601.2 622.2 L1601.5 621.8 L1601.8 621.3 L1602.1 620.9 L1602.4 620.5 L1602.6 620.1 L1602.9 619.7 L1603.2 619.3 L1603.5 618.9 L1603.8 618.5 L1604.1 618.1 L1604.3 617.6 L1604.6 617.2 L1604.9 616.8 L1605.2 616.4 L1605.5 616 L1605.8 615.6 L1606 615.2 L1606.3 614.8 L1606.6 614.3 L1606.9 613.9 L1607.2 613.5 L1607.4 613.1 L1607.7 612.7 L1608 612.3 L1608.3 611.9 L1608.6 611.4 L1608.9 611 L1609.1 610.6 L1609.4 610.2 L1609.7 609.8 L1610 609.4 L1610.3 609 L1610.5 608.6 L1610.8 608.1 L1611.1 607.7 L1611.4 607.3 L1611.7 606.9 L1612 606.5 L1612.2 606.1 L1612.5 605.7 L1612.8 605.3 L1613.1 604.8 L1613.4 604.4 L1613.7 604 L1613.9 603.6 L1614.2 603.2 L1614.5 602.8 L1614.8 602.4 L1615.1 602 L1615.4 601.5 L1615.6 601.1 L1615.9 600.7 L1616.2 600.3 L1616.5 599.9 L1616.8 599.5 L1617.1 599.1 L1617.3 598.7 L1617.6 598.3 L1617.9 597.8 L1618.2 597.4 L1618.5 597 L1618.8 596.6 L1619 596.2 L1619.3 595.8 L1619.6 595.4 L1619.9 595 L1620.2 594.6 L1620.5 594.1 L1620.8 593.7 L1621.1 593.3 L1621.3 592.9 L1621.6 592.5 L1621.9 592.1 L1622.2 591.7 L1622.5 591.3 L1622.8 590.9 L1623.1 590.5 L1623.4 590.1 L1623.7 589.7 L1623.9 589.2 L1624.2 588.8 L1624.5 588.4 L1624.8 588 L1625.1 587.6 L1625.4 587.2 L1625.7 586.8 L1626 586.4 L1626.3 586 L1626.6 585.6 L1626.9 585.2 L1627.2 584.8 L1627.5 584.4 L1627.7 584 L1628 583.6 L1628.3 583.2 L1628.6 582.8 L1628.9 582.4 L1629.2 582 L1629.5 581.6 L1629.8 581.2 L1630.1 580.8 L1630.4 580.4 L1630.7 580 L1631 579.6 L1631.3 579.2 L1631.6 578.8 L1631.9 578.4 L1632.2 578 L1632.5 577.6 L1632.8 577.2 L1633.1 576.8 L1633.4 576.4 L1633.7 576 L1634.1 575.6 L1634.4 575.2 L1634.7 574.8 L1635 574.4 L1635.3 574 L1635.6 573.6 L1635.9 573.2 L1636.2 572.8 L1636.5 572.4 L1636.8 572.1 L1637.2 571.7 L1637.5 571.3 L1637.8 570.9 L1638.1 570.5 L1638.4 570.1 L1638.7 569.7 L1639 569.3 L1639.4 569 L1639.7 568.6 L1640 568.2 L1640.3 567.8 L1640.6 567.4 L1641 567 L1641.3 566.7 L1641.6 566.3 L1641.9 565.9 L1642.3 565.5 L1642.6 565.1 L1642.9 564.8 L1643.3 564.4 L1643.6 564 L1643.9 563.6 L1644.2 563.3 L1644.6 562.9 L1644.9 562.5 L1645.3 562.2 L1645.6 561.8 L1645.9 561.4 L1646.3 561.1 L1646.6 560.7 L1647 560.3 L1647.3 560 L1647.6 559.6 L1648 559.2 L1648.3 558.9 L1648.7 558.5 L1649 558.2 L1649.4 557.8 L1649.7 557.5 L1650.1 557.1 L1650.4 556.8 L1650.8 556.4 L1651.2 556.1 L1651.5 555.7 L1651.9 555.4 L1652.2 555 L1652.6 554.7 L1653 554.3 L1653.3 554 L1653.7 553.7 L1654.1 553.3 L1654.5 553 L1654.8 552.7 L1655.2 552.3 L1655.6 552 L1656 551.7 L1656.3 551.4 L1656.7 551.1 L1657.1 550.7 L1657.5 550.4 L1657.9 550.1 L1658.3 549.8 L1658.7 549.5 L1659.1 549.2 L1659.5 548.9 L1659.9 548.6 L1660.3 548.3 L1660.7 548 L1661.1 547.7 L1661.5 547.4 L1661.9 547.2 L1662.3 546.9 L1662.7 546.6 L1663.1 546.3 L1663.6 546.1 L1664 545.8 L1664.4 545.5 L1664.8 545.3 L1665.3 545 L1665.7 544.8 L1666.1 544.5 L1666.6 544.3 L1667 544.1 L1667.4 543.8 L1667.9 543.6 L1668.3 543.4 L1668.8 543.2 L1669.2 543 L1669.7 542.8 L1670.1 542.6 L1670.6 542.4 L1671 542.2 L1671.5 542 L1672 541.9 L1672.4 541.7 L1672.9 541.5 L1673.4 541.4 L1673.8 541.3 L1674.3 541.1 L1674.8 541 L1675.3 540.9 L1675.7 540.8 L1676.2 540.7 L1676.7 540.6 L1677.2 540.5 L1677.7 540.4 L1678.2 540.3 L1678.6 540.3 L1679.1 540.2 L1679.6 540.2 L1680.1 540.1 L1680.6 540.1 L1681.1 540.1 L1681.6 540.1 L1682.1 540.1 L1682.5 540.1 L1683 540.1 L1683.5 540.1 L1684 540.2 L1684.5 540.2 L1685 540.3 L1685.5 540.3 L1686 540.4 L1686.4 540.5 L1686.9 540.6 L1687.4 540.7 L1687.9 540.8 L1688.3 541 L1688.8 541.1 L1689.3 541.2 L1689.8 541.4 L1690.2 541.5 L1690.7 541.7 L1691.1 541.9 L1691.6 542.1 L1692 542.3 L1692.5 542.5 L1692.9 542.7 L1693.4 542.9 L1693.8 543.1 L1694.3 543.3 L1694.7 543.6 L1695.1 543.8 L1695.5 544.1 L1696 544.3 L1696.4 544.6 L1696.8 544.8 L1697.2 545.1 L1697.6 545.4 L1698 545.7 L1698.4 546 L1698.8 546.3 L1699.2 546.6 L1699.6 546.9 L1700 547.2 L1700.4 547.5 L1700.8 547.8 L1701.1 548.1 L1701.5 548.4 L1701.9 548.8 L1702.3 549.1 L1702.6 549.4 L1703 549.8 L1703.3 550.1 L1703.7 550.5 L1704.1 550.8 L1704.4 551.2 L1704.8 551.5 L1705.1 551.9 L1705.5 552.2 L1705.8 552.6 L1706.1 553 L1706.5 553.3 L1706.8 553.7 L1707.1 554.1 L1707.5 554.4 L1707.8 554.8 L1708.1 555.2 L1708.4 555.6 L1708.8 556 L1709.1 556.3 L1709.4 556.7 L1709.7 557.1 L1710 557.5 L1710.3 557.9 L1710.6 558.3 L1711 558.7 L1711.3 559.1 L1711.6 559.5 L1711.9 559.9 L1712.2 560.3 L1712.5 560.7 L1712.8 561.1 L1713.1 561.5 L1713.4 561.9 L1713.7 562.3 L1713.9 562.7 L1714.2 563.1 L1714.5 563.5 L1714.8 563.9 L1715.1 564.3 L1715.4 564.7 L1715.7 565.1 L1716 565.5 L1716.2 566 L1716.5 566.4 L1716.8 566.8 L1717.1 567.2 L1717.4 567.6 L1717.6 568 L1717.9 568.4 L1718.2 568.9 L1718.5 569.3 L1718.7 569.7 L1719 570.1 L1719.3 570.5 L1719.5 571 L1719.8 571.4 L1720.1 571.8 L1720.3 572.2 L1720.6 572.6 L1720.9 573.1 L1721.1 573.5 L1721.4 573.9 L1721.7 574.3 L1721.9 574.8 L1722.2 575.2 L1722.5 575.6 L1722.7 576 L1723 576.5 L1723.2 576.9 L1723.5 577.3 L1723.8 577.8 L1724 578.2 L1724.3 578.6 L1724.5 579 L1724.8 579.5 L1725 579.9 L1725.3 580.3 L1725.5 580.8 L1725.8 581.2 L1726.1 581.6 L1726.3 582.1 L1726.6 582.5 L1726.8 582.9 L1727.1 583.4 L1727.3 583.8 L1727.6 584.2 L1727.8 584.7 L1728.1 585.1 L1728.3 585.5 L1728.6 586 L1728.8 586.4 L1729.1 586.8 L1729.3 587.3 L1729.5 587.7 L1729.8 588.1 L1730 588.6 L1730.3 589 L1730.5 589.4 L1730.8 589.9 L1731 590.3 L1731.3 590.7 L1731.5 591.2 L1731.8 591.6 L1732 592.1 L1732.2 592.5 L1732.5 592.9 L1732.7 593.4 L1733 593.8 L1733.2 594.2 L1733.5 594.7 L1733.7 595.1 L1733.9 595.5 L1734.2 596 L1734.4 596.4 L1734.7 596.9 L1734.9 597.3 L1735.1 597.7 L1735.4 598.2 L1735.6 598.6 L1735.9 599.1 L1736.1 599.5 L1736.3 599.9 L1736.6 600.4 L1736.8 600.8 L1737.1 601.2 L1737.3 601.7 L1737.5 602.1 L1737.8 602.6 L1738 603 L1738.3 603.4 L1738.5 603.9 L1738.7 604.3 L1739 604.8 L1739.2 605.2 L1739.4 605.6 L1739.7 606.1 L1739.9 606.5 L1740.2 607 L1740.4 607.4 L1740.6 607.8 L1740.9 608.3 L1741.1 608.7 L1741.4 609.2 L1741.6 609.6 L1741.8 610 L1742.1 610.5 L1742.3 610.9 L1742.5 611.4 L1742.8 611.8 L1743 612.2 L1743.3 612.7 L1743.5 613.1 L1743.7 613.6 L1744 614 L1744.2 614.4 L1744.5 614.9 L1744.7 615.3 L1744.9 615.7 L1745.2 616.2 L1745.4 616.6 L1745.7 617.1 L1745.9 617.5 L1746.1 617.9 L1746.4 618.4 L1746.6 618.8 L1746.9 619.3 L1747.1 619.7 L1747.3 620.1 L1747.6 620.6 L1747.8 621 L1748.1 621.4 L1748.3 621.9 L1748.5 622.3 L1748.8 622.8 L1749 623.2 L1749.3 623.6 L1749.5 624.1 L1749.7 624.5 L1750 625 L1750.2 625.4 L1750.5 625.8 L1750.7 626.3 L1751 626.7 L1751.2 627.1 L1751.4 627.6 L1751.7 628 L1751.9 628.5 L1752.2 628.9 L1752.4 629.3 L1752.7 629.8 L1752.9 630.2 L1753.1 630.6 L1753.4 631.1 L1753.6 631.5 L1753.9 631.9 L1754.1 632.4 L1754.4 632.8 L1754.6 633.3 L1754.9 633.7 L1755.1 634.1 L1755.3 634.6 L1755.6 635 L1755.8 635.4 L1756.1 635.9 L1756.3 636.3 L1756.6 636.7 L1756.8 637.2 L1757.1 637.6 L1757.3 638 L1757.6 638.5 L1757.8 638.9 L1758.1 639.3 L1758.3 639.8 L1758.6 640.2 L1758.8 640.6 L1759 641.1 L1759.3 641.5 L1759.5 641.9 L1759.8 642.4 L1760 642.8 L1760.3 643.2 L1760.5 643.7 L1760.8 644.1 L1761 644.5 L1761.3 645 L1761.5 645.4 L1761.8 645.8 L1762 646.3 L1762.3 646.7 L1762.5 647.1 L1762.8 647.6 L1763.1 648 L1763.3 648.4 L1763.6 648.9 L1763.8 649.3 L1764.1 649.7 L1764.3 650.2 L1764.6 650.6 L1764.8 651 L1765.1 651.5 L1765.3 651.9 L1765.6 652.3 L1765.8 652.7 L1766.1 653.2 L1766.4 653.6 L1766.6 654 L1766.9 654.5 L1767.1 654.9 L1767.4 655.3 L1767.6 655.8 L1767.9 656.2 L1768.1 656.6 L1768.4 657 L1768.7 657.5 L1768.9 657.9 L1769.2 658.3 L1769.4 658.8 L1769.7 659.2 L1770 659.6 L1770.2 660 L1770.5 660.5 L1770.7 660.9 L1771 661.3 L1771.3 661.7 L1771.5 662.2 L1771.8 662.6 L1772 663 L1772.3 663.4 L1772.6 663.9 L1772.8 664.3 L1773.1 664.7 L1773.4 665.1 L1773.6 665.6 L1773.9 666 L1774.2 666.4 L1774.4 666.8 L1774.7 667.3 L1775 667.7 L1775.2 668.1 L1775.5 668.5 L1775.8 668.9 L1776 669.4 L1776.3 669.8 L1776.6 670.2 L1776.8 670.6 L1777.1 671.1 L1777.4 671.5 L1777.6 671.9 L1777.9 672.3 L1778.2 672.7 L1778.5 673.2 L1778.7 673.6 L1779 674 L1779.3 674.4 L1779.6 674.8 L1779.8 675.2 L1780.1 675.7 L1780.4 676.1 L1780.7 676.5 L1780.9 676.9 L1781.2 677.3 L1781.5 677.8 L1781.8 678.2 L1782 678.6 L1782.3 679 L1782.6 679.4 L1782.9 679.8 L1783.2 680.2 L1783.4 680.7 L1783.7 681.1 L1784 681.5 L1784.3 681.9 L1784.6 682.3 L1784.8 682.7 L1785.1 683.1 L1785.4 683.5 L1785.7 684 L1786 684.4 L1786.3 684.8 L1786.6 685.2 L1786.8 685.6 L1787.1 686 L1787.4 686.4 L1787.7 686.8 L1788 687.2 L1788.3 687.6 L1788.6 688 L1788.9 688.5 L1789.1 688.9 L1789.4 689.3 L1789.7 689.7 L1790 690.1 L1790.3 690.5 L1790.6 690.9 L1790.9 691.3 L1791.2 691.7 L1791.5 692.1 L1791.8 692.5 L1792.1 692.9 L1792.4 693.3 L1792.7 693.7 L1793 694.1 L1793.3 694.5 L1793.6 694.9 L1793.9 695.3 L1794.2 695.7 L1794.5 696.1 L1794.8 696.5 L1795.1 696.9 L1795.4 697.3 L1795.7 697.7 L1796 698.1 L1796.3 698.5 L1796.6 698.9 L1796.9 699.3 L1797.2 699.7 L1797.5 700.1 L1797.8 700.5 L1798.1 700.9 L1798.4 701.3 L1798.7 701.7 L1799 702.1 L1799.3 702.5 L1799.6 702.9 L1800 703.3 L1800.3 703.6 L1800.6 704 L1800.9 704.4 L1801.2 704.8 L1801.5 705.2 L1801.8 705.6 L1802.1 706 L1802.5 706.4 L1802.8 706.8 L1803.1 707.2 L1803.4 707.5 L1803.7 707.9 L1804 708.3 L1804.4 708.7 L1804.7 709.1 L1805 709.5 L1805.3 709.9 L1805.6 710.2 L1806 710.6 L1806.3 711 L1806.6 711.4 L1806.9 711.8 L1807.2 712.1 L1807.6 712.5 L1807.9 712.9 L1808.2 713.3 L1808.5 713.7 L1808.9 714 L1809.2 714.4 L1809.5 714.8 L1809.8 715.2 L1810.2 715.6 L1810.5 715.9 L1810.8 716.3 L1811.2 716.7 L1811.5 717.1 L1811.8 717.4 L1812.2 717.8 L1812.5 718.2 L1812.8 718.6 L1813.2 718.9 L1813.5 719.3 L1813.8 719.7 L1814.2 720 L1814.5 720.4 L1814.8 720.8 L1815.2 721.2 L1815.5 721.5 L1815.8 721.9 L1816.2 722.3 L1816.5 722.6 L1816.9 723 L1817.2 723.4 L1817.5 723.7 L1817.9 724.1 L1818.2 724.4 L1818.6 724.8 L1818.9 725.2 L1819.3 725.5 L1819.6 725.9 L1820 726.3 L1820.3 726.6 L1820.6 727 L1821 727.3 L1821.3 727.7 L1821.7 728.1 L1822 728.4 L1822.4 728.8 L1822.7 729.1 L1823.1 729.5 L1823.4 729.8 L1823.8 730.2 L1824.1 730.5 L1824.5 730.9 L1824.9 731.3 L1825.2 731.6 L1825.6 732 L1825.9 732.3 L1826.3 732.7 L1826.6 733 L1827 733.4 L1827.4 733.7 L1827.7 734.1 L1828.1 734.4 L1828.4 734.7 L1828.8 735.1 L1829.2 735.4 L1829.5 735.8 L1829.9 736.1 L1830.2 736.5 L1830.6 736.8 L1831 737.2 L1831.3 737.5 L1831.7 737.8 L1832.1 738.2 L1832.4 738.5 L1832.8 738.9 L1833.2 739.2 L1833.5 739.5 L1833.9 739.9 L1834.3 740.2 L1834.7 740.5 L1835 740.9 L1835.4 741.2 L1835.8 741.5 L1836.1 741.9 L1836.5 742.2 L1836.9 742.5 L1837.3 742.9 L1837.6 743.2 L1838 743.5 L1838.4 743.8 L1838.8 744.2 L1839.2 744.5 L1839.5 744.8 L1839.9 745.2 L1840.3 745.5 L1840.7 745.8 L1841 746.1 L1841.4 746.5 L1841.8 746.8 L1842.2 747.1 L1842.6 747.4 L1843 747.7 L1843.3 748.1 L1843.7 748.4 L1844.1 748.7 L1844.5 749 L1844.9 749.3 L1845.3 749.6 L1845.7 750 L1846.1 750.3 L1846.4 750.6 L1846.8 750.9 L1847.2 751.2 L1847.6 751.5 L1848 751.8 L1848.4 752.1 L1848.8 752.5 L1849.2 752.8 L1849.6 753.1 L1850 753.4 L1850.4 753.7 L1850.8 754 L1851.2 754.3 L1851.6 754.6 L1852 754.9 L1852.4 755.2 L1852.7 755.5 L1853.1 755.8 L1853.5 756.1 L1853.9 756.4 L1854.3 756.7 L1854.7 757 L1855.1 757.3 L1855.6 757.6 L1856 757.9 L1856.4 758.2 L1856.8 758.5 L1857.2 758.8 L1857.6 759.1 L1858 759.4 L1858.4 759.7 L1858.8 760 L1859.2 760.2 L1859.6 760.5 L1860 760.8 L1860.4 761.1 L1860.8 761.4 L1861.2 761.7 L1861.6 762 L1862.1 762.3 L1862.5 762.5 L1862.9 762.8 L1863.3 763.1 L1863.7 763.4 L1864.1 763.7 L1864.5 764 L1864.9 764.2 L1865.4 764.5 L1865.8 764.8 L1866.2 765.1 L1866.6 765.4 L1867 765.6 L1867.4 765.9 L1867.9 766.2 L1868.3 766.5 L1868.7 766.7 L1869.1 767 L1869.5 767.3 L1869.9 767.5 L1870.4 767.8 L1870.8 768.1 L1871.2 768.4 L1871.6 768.6 L1872 768.9 L1872.5 769.2 L1872.9 769.4 L1873.3 769.7 L1873.7 770 L1874.2 770.2 L1874.6 770.5 L1875 770.8 L1875.4 771 L1875.9 771.3 L1876.3 771.5 L1876.7 771.8 L1877.1 772.1 L1877.6 772.3 L1878 772.6 L1878.4 772.8 L1878.9 773.1 L1879.3 773.4 L1879.7 773.6 L1880.1 773.9 L1880.6 774.1 L1881 774.4 L1881.4 774.6 L1881.9 774.9 L1882.3 775.1 L1882.7 775.4 L1883.2 775.6 L1883.6 775.9 L1884 776.1 L1884.5 776.4 L1884.9 776.6 L1885.3 776.9 L1885.8 777.1 L1886.2 777.4 L1886.6 777.6 L1887.1 777.9 L1887.5 778.1 L1887.9 778.4 L1888.4 778.6 L1888.8 778.9 L1889.2 779.1 L1889.7 779.4 L1890.1 779.6 L1890.5 779.8 L1891 780.1 L1891.4 780.3 L1891.9 780.6" stroke="#e2211c"/>
<path d="M1508.2 691.8 L1508.4 691.4 L1508.7 691 L1509 690.6 L1509.3 690.1 L1509.6 689.7 L1509.9 689.3 L1510.2 688.9 L1510.5 688.6 L1510.8 688.2 L1511.1 687.8 L1511.4 687.4 L1511.7 687 L1512 686.6 L1512.3 686.2 L1512.6 685.9 L1512.9 685.5 L1513.3 685.2 L1513.6 684.8 L1514 684.5 L1514.3 684.1 L1514.7 683.8 L1515 683.5 L1515.4 683.2 L1515.8 682.9 L1516.2 682.6 L1516.6 682.3 L1517 682.1 L1517.4 681.8 L1517.8 681.6 L1518.2 681.4 L1518.6 681.1 L1519.1 681 L1519.5 680.8 L1520 680.6 L1520.4 680.5 L1520.9 680.4 L1521.4 680.3 L1521.8 680.2 L1522.3 680.1 L1522.8 680.1 L1523.2 680.1 L1523.7 680.1 L1524.2 680.1 L1524.7 680.1 L1525.2 680.1 L1525.6 680.2 L1526.1 680.2 L1526.6 680.3 L1527.1 680.4 L1527.5 680.5 L1528 680.6 L1528.5 680.7 L1529 680.8 L1529.4 681 L1529.9 681.1 L1530.4 681.3 L1530.8 681.4 L1531.3 681.6 L1531.8 681.7 L1532.2 681.9 L1532.7 682.1 L1533.1 682.3 L1533.6 682.4 L1534.1 682.6 L1534.5 682.8 L1535 683 L1535.4 683.2 L1535.9 683.4 L1536.4 683.6 L1536.8 683.8 L1537.3 684 L1537.7 684.2 L1538.2 684.3 L1538.7 684.5 L1539.1 684.7 L1539.6 684.9 L1540 685.1 L1540.5 685.3 L1541 685.5 L1541.4 685.7 L1541.9 685.8 L1542.4 686 L1542.8 686.2 L1543.3 686.4 L1543.8 686.5 L1544.2 686.7 L1544.7 686.8 L1545.2 687 L1545.6 687.1 L1546.1 687.3 L1546.6 687.4 L1547.1 687.5 L1547.5 687.6 L1548 687.7 L1548.5 687.8 L1549 687.9 L1549.5 688 L1550 688.1 L1550.4 688.2 L1550.9 688.2 L1551.4 688.3 L1551.9 688.3 L1552.4 688.4 L1552.9 688.4 L1553.4 688.4 L1553.9 688.4 L1554.3 688.4 L1554.8 688.4 L1555.3 688.4 L1555.8 688.4 L1556.3 688.3 L1556.8 688.3 L1557.3 688.2 L1557.7 688.1 L1558.2 688 L1558.7 687.9 L1559.2 687.8 L1559.6 687.7 L1560.1 687.6 L1560.6 687.4 L1561 687.3 L1561.5 687.1 L1562 686.9 L1562.4 686.8 L1562.9 686.6 L1563.3 686.4 L1563.8 686.2 L1564.2 686 L1564.6 685.7 L1565.1 685.5 L1565.5 685.3 L1565.9 685 L1566.3 684.8 L1566.8 684.5 L1567.2 684.2 L1567.6 684 L1568 683.7 L1568.4 683.4 L1568.8 683.1 L1569.2 682.8 L1569.6 682.5 L1570 682.2 L1570.4 681.9 L1570.8 681.6 L1571.2 681.3 L1571.6 681 L1571.9 680.7 L1572.3 680.4 L1572.7 680 L1573.1 679.7 L1573.4 679.4 L1573.8 679 L1574.2 678.7 L1574.6 678.4 L1574.9 678 L1575.3 677.7 L1575.6 677.4 L1576 677 L1576.4 676.7 L1576.7 676.3 L1577.1 676 L1577.4 675.6 L1577.8 675.3 L1578.1 674.9 L1578.5 674.6 L1578.9 674.2 L1579.2 673.8 L1579.6 673.5 L1579.9 673.1 L1580.3 672.8 L1580.6 672.4 L1581 672.1 L1581.3 671.7 L1581.6 671.3 L1582 671 L1582.3 670.6 L1582.7 670.3 L1583 669.9 L1583.4 669.5 L1583.7 669.2 L1584.1 668.8 L1584.4 668.5 L1584.8 668.1 L1585.1 667.7 L1585.5 667.4 L1585.8 667 L1586.2 666.7 L1586.5 666.3 L1586.9 666 L1587.2 665.6 L1587.6 665.2 L1587.9 664.9 L1588.3 664.5 L1588.6 664.2 L1589 663.8 L1589.3 663.5 L1589.7 663.1 L1590 662.8 L1590.4 662.4 L1590.7 662.1 L1591.1 661.7 L1591.5 661.4 L1591.8 661 L1592.2 660.7 L1592.5 660.3 L1592.9 660 L1593.3 659.6 L1593.6 659.3 L1594 658.9 L1594.3 658.6 L1594.7 658.3 L1595.1 657.9 L1595.4 657.6 L1595.8 657.2 L1596.2 656.9 L1596.6 656.6 L1596.9 656.2 L1597.3 655.9 L1597.7 655.6 L1598 655.2 L1598.4 654.9 L1598.8 654.6 L1599.2 654.2 L1599.5 653.9 L1599.9 653.6 L1600.3 653.2 L1600.7 652.9 L1601 652.6 L1601.4 652.3 L1601.8 651.9 L1602.2 651.6 L1602.6 651.3 L1602.9 651 L1603.3 650.6 L1603.7 650.3 L1604.1 650 L1604.5 649.7 L1604.8 649.3 L1605.2 649 L1605.6 648.7 L1606 648.4 L1606.4 648.1 L1606.8 647.7 L1607.1 647.4 L1607.5 647.1 L1607.9 646.8 L1608.3 646.5 L1608.7 646.2 L1609.1 645.8 L1609.5 645.5 L1609.9 645.2 L1610.2 644.9 L1610.6 644.6 L1611 644.3 L1611.4 643.9 L1611.8 643.6 L1612.2 643.3 L1612.6 643 L1613 642.7 L1613.4 642.4 L1613.7 642.1 L1614.1 641.8 L1614.5 641.4 L1614.9 641.1 L1615.3 640.8 L1615.7 640.5 L1616.1 640.2 L1616.5 639.9 L1616.9 639.6 L1617.3 639.2 L1617.6 638.9 L1618 638.6 L1618.4 638.3 L1618.8 638 L1619.2 637.7 L1619.6 637.4 L1620 637 L1620.4 636.7 L1620.8 636.4 L1621.1 636.1 L1621.5 635.8 L1621.9 635.5 L1622.3 635.2 L1622.7 634.8 L1623.1 634.5 L1623.5 634.2 L1623.9 633.9 L1624.2 633.6 L1624.6 633.3 L1625 632.9 L1625.4 632.6 L1625.8 632.3 L1626.2 632 L1626.5 631.7 L1626.9 631.3 L1627.3 631 L1627.7 630.7 L1628.1 630.4 L1628.5 630 L1628.8 629.7 L1629.2 629.4 L1629.6 629.1 L1630 628.7 L1630.3 628.4 L1630.7 628.1 L1631.1 627.8 L1631.5 627.4 L1631.9 627.1 L1632.2 626.8 L1632.6 626.4 L1633 626.1 L1633.3 625.8 L1633.7 625.4 L1634.1 625.1 L1634.5 624.8 L1634.8 624.4 L1635.2 624.1 L1635.6 623.7 L1635.9 623.4 L1636.3 623.1 L1636.7 622.7 L1637 622.4 L1637.4 622 L1637.8 621.7 L1638.1 621.4 L1638.5 621 L1638.8 620.7 L1639.2 620.3 L1639.6 620 L1639.9 619.6 L1640.3 619.3 L1640.6 618.9 L1641 618.6 L1641.3 618.2 L1641.7 617.9 L1642 617.5 L1642.4 617.2 L1642.7 616.8 L1643.1 616.4 L1643.4 616.1 L1643.8 615.7 L1644.1 615.4 L1644.5 615 L1644.8 614.6 L1645.2 614.3 L1645.5 613.9 L1645.9 613.5 L1646.2 613.2 L1646.5 612.8 L1646.9 612.4 L1647.2 612.1 L1647.5 611.7 L1647.9 611.3 L1648.2 611 L1648.6 610.6 L1648.9 610.2 L1649.2 609.8 L1649.5 609.5 L1649.9 609.1 L1650.2 608.7 L1650.5 608.3 L1650.9 608 L1651.2 607.6 L1651.5 607.2 L1651.8 606.8 L1652.2 606.5 L1652.5 606.1 L1652.8 605.7 L1653.1 605.3 L1653.5 604.9 L1653.8 604.5 L1654.1 604.2 L1654.4 603.8 L1654.7 603.4 L1655.1 603 L1655.4 602.6 L1655.7 602.2 L1656 601.8 L1656.3 601.5 L1656.6 601.1 L1657 600.7 L1657.3 600.3 L1657.6 599.9 L1657.9 599.5 L1658.2 599.1 L1658.5 598.7 L1658.8 598.4 L1659.2 598 L1659.5 597.6 L1659.8 597.2 L1660.1 596.8 L1660.4 596.4 L1660.7 596 L1661 595.6 L1661.3 595.2 L1661.6 594.8 L1662 594.4 L1662.3 594 L1662.6 593.6 L1662.9 593.3 L1663.2 592.9 L1663.5 592.5 L1663.8 592.1 L1664.1 591.7 L1664.4 591.3 L1664.7 590.9 L1665 590.5 L1665.3 590.1 L1665.6 589.7 L1666 589.3 L1666.3 588.9 L1666.6 588.5 L1666.9 588.1 L1667.2 587.7 L1667.5 587.3 L1667.8 586.9 L1668.1 586.6 L1668.4 586.2 L1668.7 585.8 L1669 585.4 L1669.3 585 L1669.6 584.6 L1669.9 584.2 L1670.3 583.8 L1670.6 583.4 L1670.9 583 L1671.2 582.6 L1671.5 582.2 L1671.8 581.8 L1672.1 581.4 L1672.4 581 L1672.7 580.6 L1673 580.2 L1673.3 579.9 L1673.6 579.5 L1674 579.1 L1674.3 578.7 L1674.6 578.3 L1674.9 577.9 L1675.2 577.5 L1675.5 577.1 L1675.8 576.7 L1676.1 576.3 L1676.4 575.9 L1676.8 575.6 L1677.1 575.2 L1677.4 574.8 L1677.7 574.4 L1678 574 L1678.3 573.6 L1678.7 573.2 L1679 572.8 L1679.3 572.4 L1679.6 572.1 L1679.9 571.7 L1680.2 571.3 L1680.6 570.9 L1680.9 570.5 L1681.2 570.1 L1681.5 569.8 L1681.8 569.4 L1682.2 569 L1682.5 568.6 L1682.8 568.2 L1683.1 567.8 L1683.5 567.5 L1683.8 567.1 L1684.1 566.7 L1684.4 566.3 L1684.8 566 L1685.1 565.6 L1685.4 565.2 L1685.8 564.8 L1686.1 564.5 L1686.4 564.1 L1686.8 563.7 L1687.1 563.3 L1687.4 563 L1687.8 562.6 L1688.1 562.2 L1688.5 561.9 L1688.8 561.5 L1689.1 561.1 L1689.5 560.8 L1689.8 560.4 L1690.2 560.1 L1690.5 559.7 L1690.9 559.3 L1691.2 559 L1691.6 558.6 L1691.9 558.3 L1692.3 557.9 L1692.6 557.6 L1693 557.2 L1693.3 556.9 L1693.7 556.5 L1694.1 556.2 L1694.4 555.9 L1694.8 555.5 L1695.2 555.2 L1695.5 554.8 L1695.9 554.5 L1696.3 554.2 L1696.7 553.8 L1697 553.5 L1697.4 553.2 L1697.8 552.9 L1698.2 552.6 L1698.6 552.2 L1698.9 551.9 L1699.3 551.6 L1699.7 551.3 L1700.1 551 L1700.5 550.7 L1700.9 550.4 L1701.3 550.1 L1701.7 549.8 L1702.1 549.5 L1702.5 549.2 L1702.9 549 L1703.3 548.7 L1703.8 548.4 L1704.2 548.1 L1704.6 547.9 L1705 547.6 L1705.4 547.3 L1705.9 547.1 L1706.3 546.8 L1706.7 546.6 L1707.2 546.4 L1707.6 546.1 L1708 545.9 L1708.5 545.7 L1708.9 545.5 L1709.4 545.3 L1709.8 545.1 L1710.3 544.9 L1710.7 544.7 L1711.2 544.5 L1711.7 544.3 L1712.1 544.1 L1712.6 544 L1713 543.8 L1713.5 543.6 L1714 543.5 L1714.5 543.4 L1714.9 543.2 L1715.4 543.1 L1715.9 543 L1716.4 542.9 L1716.9 542.8 L1717.3 542.7 L1717.8 542.6 L1718.3 542.5 L1718.8 542.4 L1719.3 542.3 L1719.8 542.3 L1720.3 542.2 L1720.8 542.2 L1721.2 542.1 L1721.7 542.1 L1722.2 542.1 L1722.7 542 L1723.2 542 L1723.7 542 L1724.2 542 L1724.7 542 L1725.2 542.1 L1725.7 542.1 L1726.2 542.1 L1726.7 542.2 L1727.2 542.2 L1727.6 542.3 L1728.1 542.3 L1728.6 542.4 L1729.1 542.5 L1729.6 542.5 L1730.1 542.6 L1730.6 542.7 L1731.1 542.8 L1731.5 542.9 L1732 543 L1732.5 543.2 L1733 543.3 L1733.5 543.4 L1733.9 543.5 L1734.4 543.7 L1734.9 543.8 L1735.4 544 L1735.8 544.1 L1736.3 544.3 L1736.8 544.5 L1737.2 544.6 L1737.7 544.8 L1738.2 545 L1738.6 545.2 L1739.1 545.4 L1739.5 545.6 L1740 545.8 L1740.4 546 L1740.9 546.2 L1741.3 546.4 L1741.8 546.6 L1742.2 546.8 L1742.7 547.1 L1743.1 547.3 L1743.6 547.5 L1744 547.7 L1744.4 548 L1744.9 548.2 L1745.3 548.5 L1745.7 548.7 L1746.2 549 L1746.6 549.2 L1747 549.5 L1747.5 549.7 L1747.9 550 L1748.3 550.3 L1748.7 550.5 L1749.1 550.8 L1749.6 551.1 L1750 551.4 L1750.4 551.6 L1750.8 551.9 L1751.2 552.2 L1751.6 552.5 L1752 552.8 L1752.4 553.1 L1752.8 553.4 L1753.2 553.7 L1753.6 554 L1754 554.3 L1754.4 554.6 L1754.8 554.9 L1755.2 555.2 L1755.6 555.5 L1756 555.8 L1756.4 556.1 L1756.8 556.4 L1757.2 556.7 L1757.6 557 L1757.9 557.4 L1758.3 557.7 L1758.7 558 L1759.1 558.3 L1759.5 558.6 L1759.8 559 L1760.2 559.3 L1760.6 559.6 L1761 560 L1761.3 560.3 L1761.7 560.6 L1762.1 561 L1762.5 561.3 L1762.8 561.6 L1763.2 562 L1763.6 562.3 L1763.9 562.6 L1764.3 563 L1764.7 563.3 L1765 563.7 L1765.4 564 L1765.7 564.4 L1766.1 564.7 L1766.5 565.1 L1766.8 565.4 L1767.2 565.8 L1767.5 566.1 L1767.9 566.5 L1768.2 566.8 L1768.6 567.2 L1769 567.5 L1769.3 567.9 L1769.7 568.2 L1770 568.6 L1770.4 568.9 L1770.7 569.3 L1771 569.7 L1771.4 570 L1771.7 570.4 L1772.1 570.7 L1772.4 571.1 L1772.8 571.5 L1773.1 571.8 L1773.5 572.2 L1773.8 572.6 L1774.1 572.9 L1774.5 573.3 L1774.8 573.7 L1775.2 574 L1775.5 574.4 L1775.8 574.8 L1776.2 575.1 L1776.5 575.5 L1776.8 575.9 L1777.2 576.3 L1777.5 576.6 L1777.8 577 L1778.2 577.4 L1778.5 577.8 L1778.8 578.1 L1779.2 578.5 L1779.5 578.9 L1779.8 579.3 L1780.1 579.6 L1780.5 580 L1780.8 580.4 L1781.1 580.8 L1781.5 581.1 L1781.8 581.5 L1782.1 581.9 L1782.4 582.3 L1782.8 582.7 L1783.1 583 L1783.4 583.4 L1783.7 583.8 L1784.1 584.2 L1784.4 584.6 L1784.7 584.9 L1785 585.3 L1785.3 585.7 L1785.7 586.1 L1786 586.5 L1786.3 586.9 L1786.6 587.2 L1786.9 587.6 L1787.3 588 L1787.6 588.4 L1787.9 588.8 L1788.2 589.2 L1788.5 589.6 L1788.8 589.9 L1789.2 590.3 L1789.5 590.7 L1789.8 591.1 L1790.1 591.5 L1790.4 591.9 L1790.7 592.3 L1791.1 592.7 L1791.4 593.1 L1791.7 593.4 L1792 593.8 L1792.3 594.2 L1792.6 594.6 L1792.9 595 L1793.3 595.4 L1793.6 595.8 L1793.9 596.2 L1794.2 596.6 L1794.5 597 L1794.8 597.3 L1795.1 597.7 L1795.4 598.1 L1795.7 598.5 L1796.1 598.9 L1796.4 599.3 L1796.7 599.7 L1797 600.1 L1797.3 600.5 L1797.6 600.9 L1797.9 601.3 L1798.2 601.7 L1798.5 602.1 L1798.8 602.4 L1799.2 602.8 L1799.5 603.2 L1799.8 603.6 L1800.1 604 L1800.4 604.4 L1800.7 604.8 L1801 605.2 L1801.3 605.6 L1801.6 606 L1801.9 606.4 L1802.2 606.8 L1802.5 607.2 L1802.8 607.6 L1803.2 608 L1803.5 608.4 L1803.8 608.7 L1804.1 609.1 L1804.4 609.5 L1804.7 609.9 L1805 610.3 L1805.3 610.7 L1805.6 611.1 L1805.9 611.5 L1806.2 611.9 L1806.5 612.3 L1806.8 612.7 L1807.1 613.1 L1807.4 613.5 L1807.7 613.9 L1808.1 614.3 L1808.4 614.7 L1808.7 615.1 L1809 615.5 L1809.3 615.9 L1809.6 616.3 L1809.9 616.7 L1810.2 617.1 L1810.5 617.4 L1810.8 617.8 L1811.1 618.2 L1811.4 618.6 L1811.7 619 L1812 619.4 L1812.3 619.8 L1812.6 620.2 L1812.9 620.6 L1813.2 621 L1813.6 621.4 L1813.9 621.8 L1814.2 622.2 L1814.5 622.6 L1814.8 623 L1815.1 623.4 L1815.4 623.8 L1815.7 624.2 L1816 624.6 L1816.3 625 L1816.6 625.4 L1816.9 625.8 L1817.2 626.2 L1817.5 626.6 L1817.8 627 L1818.1 627.3 L1818.4 627.7 L1818.7 628.1 L1819 628.5 L1819.4 628.9 L1819.7 629.3 L1820 629.7 L1820.3 630.1 L1820.6 630.5 L1820.9 630.9 L1821.2 631.3 L1821.5 631.7 L1821.8 632.1 L1822.1 632.5 L1822.4 632.9 L1822.7 633.3 L1823 633.7 L1823.3 634.1 L1823.6 634.5 L1823.9 634.9 L1824.2 635.3 L1824.5 635.7 L1824.9 636.1 L1825.2 636.4 L1825.5 636.8 L1825.8 637.2 L1826.1 637.6 L1826.4 638 L1826.7 638.4 L1827 638.8 L1827.3 639.2 L1827.6 639.6 L1827.9 640 L1828.2 640.4 L1828.5 640.8 L1828.8 641.2 L1829.1 641.6 L1829.5 642 L1829.8 642.4 L1830.1 642.8 L1830.4 643.2 L1830.7 643.6 L1831 643.9 L1831.3 644.3 L1831.6 644.7 L1831.9 645.1 L1832.2 645.5 L1832.5 645.9 L1832.8 646.3 L1833.1 646.7 L1833.5 647.1 L1833.8 647.5 L1834.1 647.9 L1834.4 648.3 L1834.7 648.7 L1835 649.1 L1835.3 649.5 L1835.6 649.8 L1835.9 650.2 L1836.2 650.6 L1836.6 651 L1836.9 651.4 L1837.2 651.8 L1837.5 652.2 L1837.8 652.6 L1838.1 653 L1838.4 653.4 L1838.7 653.8 L1839 654.2 L1839.3 654.5 L1839.7 654.9 L1840 655.3 L1840.3 655.7 L1840.6 656.1 L1840.9 656.5 L1841.2 656.9 L1841.5 657.3 L1841.8 657.7 L1842.2 658.1 L1842.5 658.5 L1842.8 658.8 L1843.1 659.2 L1843.4 659.6 L1843.7 660 L1844 660.4 L1844.4 660.8 L1844.7 661.2 L1845 661.6 L1845.3 662 L1845.6 662.3 L1845.9 662.7 L1846.2 663.1 L1846.6 663.5 L1846.9 663.9 L1847.2 664.3 L1847.5 664.7 L1847.8 665.1 L1848.1 665.4 L1848.5 665.8 L1848.8 666.2 L1849.1 666.6 L1849.4 667 L1849.7 667.4 L1850.1 667.8 L1850.4 668.1 L1850.7 668.5 L1851 668.9 L1851.3 669.3 L1851.7 669.7 L1852 670.1 L1852.3 670.4 L1852.6 670.8 L1852.9 671.2 L1853.3 671.6 L1853.6 672 L1853.9 672.4 L1854.2 672.7 L1854.5 673.1 L1854.9 673.5 L1855.2 673.9 L1855.5 674.3 L1855.8 674.7 L1856.2 675 L1856.5 675.4 L1856.8 675.8 L1857.1 676.2 L1857.5 676.6 L1857.8 676.9 L1858.1 677.3 L1858.4 677.7 L1858.8 678.1 L1859.1 678.5 L1859.4 678.8 L1859.7 679.2 L1860.1 679.6 L1860.4 680 L1860.7 680.3 L1861.1 680.7 L1861.4 681.1 L1861.7 681.5 L1862 681.8 L1862.4 682.2 L1862.7 682.6 L1863 683 L1863.4 683.3 L1863.7 683.7 L1864 684.1 L1864.4 684.5 L1864.7 684.8 L1865 685.2 L1865.4 685.6 L1865.7 686 L1866 686.3 L1866.4 686.7 L1866.7 687.1 L1867 687.4 L1867.4 687.8 L1867.7 688.2 L1868.1 688.5 L1868.4 688.9 L1868.7 689.3 L1869.1 689.6 L1869.4 690 L1869.7 690.4 L1870.1 690.7 L1870.4 691.1 L1870.8 691.5 L1871.1 691.8 L1871.4 692.2 L1871.8 692.6 L1872.1 692.9 L1872.5 693.3 L1872.8 693.7 L1873.2 694 L1873.5 694.4 L1873.9 694.7 L1874.2 695.1 L1874.5 695.5 L1874.9 695.8 L1875.2 696.2 L1875.6 696.5 L1875.9 696.9 L1876.3 697.3 L1876.6 697.6 L1877 698 L1877.3 698.3 L1877.7 698.7 L1878 699 L1878.4 699.4 L1878.7 699.8 L1879.1 700.1 L1879.5 700.5 L1879.8 700.8 L1880.2 701.2 L1880.5 701.5 L1880.9 701.9 L1881.2 702.2 L1881.6 702.6 L1882 702.9 L1882.3 703.3 L1882.7 703.6 L1883 704 L1883.4 704.3 L1883.8 704.6 L1884.1 705 L1884.5 705.3 L1884.8 705.7 L1885.2 706 L1885.6 706.4 L1885.9 706.7 L1886.3 707 L1886.7 707.4 L1887 707.7 L1887.4 708.1 L1887.8 708.4 L1888.1 708.7 L1888.5 709.1 L1888.9 709.4 L1889.2 709.8 L1889.6 710.1 L1890 710.4 L1890.4 710.8 L1890.7 711.1 L1891.1 711.4 L1891.5 711.8 L1891.8 712.1" stroke="#000000"/>
<path d="M1508.2 832.1 L1509.1 832.2 L1510.1 832.4 L1511.1 832.5 L1512.1 832.6 L1513.1 832.8 L1514.1 832.9 L1515.1 833.1 L1516.1 833.2 L1517.1 833.4 L1518.1 833.5 L1519.1 833.7 L1520.1 833.8 L1521.1 833.9 L1522.1 834.1 L1523.1 834.3 L1524.1 834.4 L1525.1 834.6 L1526.1 834.7 L1526.3 834.7 L1527.1 834.9 L1528.1 835 L1529.1 835.2 L1530.1 835.3 L1531.1 835.5 L1532.1 835.6 L1533.1 835.8 L1534.1 835.9 L1535.1 836.1 L1536.1 836.3 L1537.1 836.4 L1538.1 836.6 L1539.1 836.8 L1540.1 837 L1541.1 837.2 L1542.1 837.4 L1542.1 837.4 L1543.1 837.6 L1544.1 837.8 L1545.1 838 L1546.1 838.3 L1547.1 838.5 L1548.1 838.8 L1549.1 839 L1550.1 839.3 L1551.1 839.6 L1552.1 839.9 L1552.6 840 L1553.1 840.2 L1554.1 840.5 L1555.1 840.8 L1556.1 841.1 L1557.1 841.4 L1558.1 841.8 L1559.1 842.2 L1560.1 842.5 L1561.1 842.9 L1562.1 843.3 L1563.1 843.7 L1563.2 843.7 L1564.1 844.1 L1565.1 844.5 L1566.1 845 L1567.1 845.4 L1568.1 845.9 L1569.1 846.3 L1570.1 846.8 L1571.1 847.3 L1572.1 847.7 L1573.1 848.2 L1573.7 848.4 L1574.1 848.6 L1575.1 849.1 L1576.1 849.6 L1577.1 850 L1578.1 850.4 L1579.1 850.8 L1580 851.1 L1580.1 851.1 L1581.1 851.4 L1582.1 851.6 L1583.1 851.8 L1584.1 851.9 L1584.2 851.9 L1585.1 851.8 L1586.1 851.4 L1587.1 850.8 L1588.1 850.2 L1588.4 850 L1589.1 849.4 L1590.1 848.2 L1591.1 846.6 L1592.1 844.7 L1592.6 843.7 L1593.1 842.3 L1594.1 838.8 L1595.1 834.3 L1595.8 831.1 L1596.1 829 L1597.1 821.5 L1598.1 813.9 L1598.4 812.1 L1599.1 807.9 L1600.1 802.7 L1600.4 801.4 L1600.8 798.9 L1601.1 800.5 L1601.3 801.5 L1602.1 806.3 L1603.1 812.1 L1603.2 812.1 L1604.1 818.4 L1605.1 824.2 L1605.3 824.7 L1606.1 828.3 L1607.1 831.8 L1608.1 834.6 L1608.4 835.3 L1609.1 836.9 L1610.1 839 L1611.1 840.8 L1612.1 842.2 L1612.6 842.6 L1613.1 843 L1614.1 843.7 L1615.1 844.3 L1616.1 844.7 L1616.8 844.7 L1617.1 844.7 L1618.1 844.5 L1619.1 844 L1620.1 843.3 L1621.1 842.6 L1621.1 842.6 L1622.1 841.5 L1623.1 839.9 L1624.1 837.9 L1625.1 835.6 L1625.3 835.3 L1626.1 832.3 L1627.1 827.6 L1628.1 822.1 L1628.4 820.5 L1629.1 816 L1630.1 808.7 L1631.1 801.6 L1631.1 800.8 L1632.1 791.1 L1632.8 785.8 L1633.1 784.4 L1634.1 781.2 L1634.1 780.8 L1634.5 779.5 L1635 782.4 L1635.1 783.5 L1636.1 789.8 L1636.3 791.1 L1637.1 799.3 L1637.9 806.8 L1638.1 809 L1639.1 817.2 L1640 822.6 L1640.1 823.4 L1641.1 828.1 L1642.1 832 L1643.1 834.2 L1643.2 834.2 L1644.1 835.3 L1645.1 836.2 L1646.1 836.7 L1646.8 836.8 L1647.1 836.8 L1648.1 836.1 L1649.1 834.6 L1650.1 832.8 L1650.5 832.1 L1651.1 830.7 L1652.1 827.4 L1653.1 823.1 L1653.7 820.5 L1654.1 817.9 L1655.1 810.4 L1655.8 804.7 L1656.1 801 L1657.1 788.4 L1657.4 785.8 L1658.1 777.2 L1659.1 766.3 L1659.5 762.1 L1660.1 753.7 L1661 741 L1661.1 739.6 L1662.1 725 L1662.4 720 L1663.1 695.5 L1663.3 690 L1664.1 657.1 L1664.2 655 L1665 620 L1665.1 613.4 L1665.9 580 L1666.1 569 L1666.5 552.4 L1666.8 540.5 L1667.1 552.4 L1667.1 553.1 L1667.9 580 L1668.1 590.5 L1668.8 620 L1669.1 635.3 L1669.7 660 L1670.1 684.8 L1670.5 700 L1671.1 713.5 L1671.6 720 L1672.1 727.2 L1673.1 737.6 L1673.2 738 L1674.1 745.4 L1674.9 750 L1675.1 751.5 L1676.1 756.5 L1676.4 756.8 L1677.1 752.6 L1678.1 740.6 L1678.2 740 L1679.1 727.2 L1679.6 720 L1680.1 709.6 L1680.9 695 L1681.1 690.7 L1682 678 L1682.1 676.6 L1682.6 672.8 L1682.9 670.5 L1683.1 672.5 L1683.2 673.4 L1684 680 L1684.1 682.1 L1685 700 L1685.1 703.2 L1685.9 720 L1686.1 725.4 L1687.1 745 L1687.1 746 L1688.1 764 L1688.5 770 L1689.1 781.5 L1690 795 L1690.1 797 L1691.1 808.8 L1691.8 815 L1692.1 818 L1693.1 826.2 L1694.1 832.7 L1694.7 835.3 L1695.1 836.9 L1696.1 839.8 L1697.1 842.1 L1697.9 843.7 L1698.1 844.2 L1699.1 846.1 L1700 847.4 L1700.1 847.6 L1701.1 848.7 L1702.1 849.7 L1703.1 850.5 L1704.1 851.3 L1705.1 852 L1705.3 852.1 L1706.1 852.7 L1707.1 853.4 L1708.1 854 L1709.1 854.6 L1710.1 855.1 L1710.5 855.3 L1711.1 855.5 L1712.1 856 L1713.1 856.3 L1714.1 856.7 L1715.1 857 L1715.8 857.2 L1716.1 857.2 L1717.1 857.5 L1718.1 857.7 L1719.1 857.9 L1720.1 858.1 L1721.1 858.2 L1721.1 858.2 L1722.1 858.3 L1723.1 858.4 L1724.1 858.5 L1725.1 858.6 L1726.1 858.7 L1727.1 858.7 L1728.1 858.8 L1729.1 858.8 L1730.1 858.9 L1731.1 858.9 L1731.6 858.9 L1732.1 859 L1733.1 859 L1734.1 859 L1735.1 859.1 L1736.1 859.1 L1737.1 859.1 L1738.1 859.2 L1739.1 859.2 L1740.1 859.2 L1741.1 859.3 L1742.1 859.3 L1743.1 859.3 L1744.1 859.3 L1745.1 859.4 L1746.1 859.4 L1747.1 859.4 L1748.1 859.4 L1749.1 859.4 L1750.1 859.5 L1751.1 859.5 L1752.1 859.5 L1752.6 859.5 L1753.1 859.5 L1754.1 859.5 L1755.1 859.5 L1756.1 859.5 L1757.1 859.5 L1758.1 859.5 L1759.1 859.5 L1760.1 859.5 L1761.1 859.5 L1762.1 859.5 L1763.1 859.5 L1764.1 859.5 L1765.1 859.6 L1766.1 859.6 L1767.1 859.6 L1768.1 859.6 L1769.1 859.6 L1770.1 859.6 L1771.1 859.6 L1772.1 859.6 L1773.1 859.6 L1774.1 859.6 L1775.1 859.6 L1776.1 859.6 L1777.1 859.6 L1778.1 859.6 L1779.1 859.6 L1780.1 859.6 L1781.1 859.6 L1782.1 859.6 L1783.1 859.6 L1784.1 859.7 L1785.1 859.7 L1786.1 859.7 L1787.1 859.7 L1788.1 859.7 L1789.1 859.7 L1790.1 859.7 L1791.1 859.7 L1792.1 859.7 L1793.1 859.7 L1794.1 859.7 L1795.1 859.7 L1796.1 859.7 L1797.1 859.7 L1798.1 859.7 L1799.1 859.7 L1800.1 859.7 L1801.1 859.7 L1802.1 859.7 L1803.1 859.7 L1804.1 859.7 L1805.1 859.7 L1806.1 859.7 L1807.1 859.8 L1808.1 859.8 L1809.1 859.8 L1810.1 859.8 L1811.1 859.8 L1812.1 859.8 L1813.1 859.8 L1814.1 859.8 L1815.1 859.8 L1816.1 859.8 L1817.1 859.8 L1818.1 859.8 L1819.1 859.8 L1820.1 859.8 L1821.1 859.8 L1822.1 859.8 L1823.1 859.8 L1824.1 859.8 L1825.1 859.8 L1826.1 859.8 L1827.1 859.8 L1828.1 859.8 L1829.1 859.8 L1830.1 859.8 L1831.1 859.8 L1832.1 859.8 L1833.1 859.8 L1834.1 859.8 L1835.1 859.8 L1836.1 859.8 L1837.1 859.8 L1838.1 859.8 L1839.1 859.8 L1840.1 859.8 L1841.1 859.8 L1842.1 859.8 L1843.1 859.9 L1844.1 859.9 L1845.1 859.9 L1846.1 859.9 L1847.1 859.9 L1848.1 859.9 L1849.1 859.9 L1850.1 859.9 L1851.1 859.9 L1852.1 859.9 L1853.1 859.9 L1854.1 859.9 L1855.1 859.9 L1856.1 859.9 L1857.1 859.9 L1858.1 859.9 L1859.1 859.9 L1860.1 859.9 L1861.1 859.9 L1862.1 859.9 L1863.1 859.9 L1864.1 859.9 L1865.1 859.9 L1866.1 859.9 L1867.1 859.9 L1868.1 859.9 L1869.1 859.9 L1870.1 859.9 L1871.1 859.9 L1872.1 859.9 L1873.1 859.9 L1874.1 859.9 L1875.1 859.9 L1876.1 859.9 L1877.1 859.9 L1878.1 859.9 L1879.1 859.9 L1880.1 859.9 L1881.1 859.9 L1882.1 859.9 L1883.1 859.9 L1884.1 859.9 L1885.1 859.9 L1886.1 859.9 L1887.1 859.9 L1888.1 859.9 L1889.1 859.9 L1890.1 859.9 L1891.1 859.9 L1892 859.9" stroke="#21409a" stroke-linejoin="miter" stroke-miterlimit="2.5"/>
<path d="M1508.2 552 L1508.3 552.5 L1508.5 552.9 L1508.6 553.4 L1508.8 553.9 L1508.9 554.4 L1509.1 554.8 L1509.2 555.3 L1509.3 555.8 L1509.5 556.3 L1509.6 556.8 L1509.7 557.2 L1509.8 557.7 L1509.9 558.2 L1510 558.7 L1510.1 559.2 L1510.2 559.7 L1510.3 560.2 L1510.4 560.6 L1510.5 561.1 L1510.6 561.6 L1510.7 562.1 L1510.8 562.6 L1510.9 563.1 L1510.9 563.6 L1511 564.1 L1511.1 564.6 L1511.2 565.1 L1511.3 565.6 L1511.3 566.1 L1511.4 566.6 L1511.5 567.1 L1511.6 567.6 L1511.6 568 L1511.7 568.5 L1511.8 569 L1511.8 569.5 L1511.9 570 L1511.9 570.5 L1512 571 L1512.1 571.5 L1512.1 572 L1512.2 572.5 L1512.2 573 L1512.3 573.5 L1512.3 574 L1512.4 574.5 L1512.4 575 L1512.5 575.5 L1512.5 576 L1512.6 576.5 L1512.6 577 L1512.7 577.5 L1512.7 578 L1512.8 578.5 L1512.8 579 L1512.9 579.5 L1512.9 580 L1512.9 580.5 L1513 581 L1513 581.5 L1513.1 582 L1513.1 582.5 L1513.2 583 L1513.2 583.5 L1513.3 584 L1513.3 584.5 L1513.4 585 L1513.4 585.5 L1513.5 586 L1513.5 586.5 L1513.5 586.9 L1513.6 587.4 L1513.6 587.9 L1513.7 588.4 L1513.7 588.9 L1513.8 589.4 L1513.8 589.9 L1513.9 590.4 L1513.9 590.9 L1514 591.4 L1514 591.9 L1514.1 592.4 L1514.1 592.9 L1514.2 593.4 L1514.2 593.9 L1514.3 594.4 L1514.3 594.9 L1514.4 595.4 L1514.4 595.9 L1514.5 596.4 L1514.5 596.9 L1514.6 597.4 L1514.6 597.9 L1514.7 598.4 L1514.7 598.9 L1514.8 599.4 L1514.8 599.9 L1514.9 600.4 L1514.9 600.9 L1515 601.4 L1515 601.9 L1515.1 602.4 L1515.1 602.9 L1515.2 603.4 L1515.2 603.9 L1515.3 604.4 L1515.3 604.9 L1515.4 605.4 L1515.4 605.9 L1515.5 606.4 L1515.5 606.9 L1515.6 607.3 L1515.6 607.8 L1515.7 608.3 L1515.7 608.8 L1515.8 609.3 L1515.8 609.8 L1515.9 610.3 L1515.9 610.8 L1516 611.3 L1516 611.8 L1516.1 612.3 L1516.1 612.8 L1516.2 613.3 L1516.2 613.8 L1516.3 614.3 L1516.3 614.8 L1516.4 615.3 L1516.4 615.8 L1516.4 616.3 L1516.5 616.8 L1516.5 617.3 L1516.6 617.8 L1516.6 618.3 L1516.7 618.8 L1516.7 619.3 L1516.8 619.8 L1516.8 620.3 L1516.9 620.8 L1516.9 621.3 L1517 621.8 L1517 622.3 L1517.1 622.8 L1517.1 623.3 L1517.2 623.8 L1517.2 624.3 L1517.2 624.8 L1517.3 625.3 L1517.3 625.8 L1517.4 626.3 L1517.4 626.8 L1517.5 627.3 L1517.5 627.8 L1517.6 628.3 L1517.6 628.7 L1517.7 629.2 L1517.7 629.7 L1517.8 630.2 L1517.8 630.7 L1517.9 631.2 L1517.9 631.7 L1518 632.2 L1518 632.7 L1518.1 633.2 L1518.1 633.7 L1518.2 634.2 L1518.2 634.7 L1518.3 635.2 L1518.3 635.7 L1518.4 636.2 L1518.5 636.7 L1518.5 637.2 L1518.6 637.7 L1518.6 638.2 L1518.7 638.7 L1518.7 639.2 L1518.8 639.7 L1518.9 640.2 L1518.9 640.7 L1519 641.2 L1519 641.7 L1519.1 642.2 L1519.2 642.7 L1519.2 643.2 L1519.3 643.7 L1519.4 644.2 L1519.4 644.6 L1519.5 645.1 L1519.6 645.6 L1519.6 646.1 L1519.7 646.6 L1519.8 647.1 L1519.8 647.6 L1519.9 648.1 L1520 648.6 L1520 649.1 L1520.1 649.6 L1520.2 650.1 L1520.2 650.6 L1520.3 651.1 L1520.4 651.6 L1520.5 652.1 L1520.5 652.6 L1520.6 653.1 L1520.7 653.6 L1520.8 654.1 L1520.8 654.5 L1520.9 655 L1521 655.5 L1521.1 656 L1521.2 656.5 L1521.2 657 L1521.3 657.5 L1521.4 658 L1521.5 658.5 L1521.6 659 L1521.7 659.5 L1521.7 660 L1521.8 660.5 L1521.9 661 L1522 661.4 L1522.1 661.9 L1522.2 662.4 L1522.3 662.9 L1522.4 663.4 L1522.5 663.9 L1522.6 664.4 L1522.7 664.9 L1522.8 665.4 L1522.9 665.9 L1522.9 666.4 L1523 666.8 L1523.2 667.3 L1523.3 667.8 L1523.4 668.3 L1523.5 668.8 L1523.6 669.3 L1523.7 669.8 L1523.8 670.3 L1523.9 670.7 L1524 671.2 L1524.2 671.7 L1524.3 672.2 L1524.4 672.7 L1524.6 673.1 L1524.7 673.6 L1524.9 674.1 L1525 674.5 L1525.2 675 L1525.4 675.4 L1525.5 675.9 L1525.7 676.3 L1525.9 676.7 L1526.1 677.1 L1526.3 677.5 L1526.6 677.9 L1526.8 678.2 L1527 678.5 L1527.3 678.8 L1527.5 679 L1527.8 679.2 L1528.1 679.3 L1528.4 679.4 L1528.7 679.3 L1529 679.2 L1529.3 679 L1529.5 678.8 L1529.8 678.5 L1530 678.2 L1530.2 677.9 L1530.5 677.5 L1530.7 677.2 L1530.9 676.8 L1531.1 676.4 L1531.3 675.9 L1531.4 675.5 L1531.6 675.1 L1531.8 674.6 L1531.9 674.1 L1532.1 673.7 L1532.2 673.2 L1532.4 672.7 L1532.5 672.3 L1532.6 671.8 L1532.7 671.3 L1532.9 670.8 L1533 670.3 L1533.1 669.8 L1533.2 669.3 L1533.3 668.9 L1533.4 668.4 L1533.5 667.9 L1533.6 667.4 L1533.7 666.9 L1533.8 666.4 L1533.9 665.9 L1534.1 665.4 L1534.2 665 L1534.3 664.5 L1534.4 664 L1534.5 663.5 L1534.6 663 L1534.7 662.5 L1534.8 662 L1534.9 661.5 L1535 661 L1535.1 660.5 L1535.2 660.1 L1535.3 659.6 L1535.4 659.1 L1535.5 658.6 L1535.6 658.1 L1535.7 657.6 L1535.8 657.1 L1535.9 656.6 L1536 656.1 L1536.1 655.6 L1536.2 655.2 L1536.2 654.7 L1536.3 654.2 L1536.4 653.7 L1536.5 653.2 L1536.6 652.7 L1536.7 652.2 L1536.8 651.7 L1536.9 651.2 L1537 650.7 L1537.1 650.2 L1537.2 649.8 L1537.3 649.3 L1537.4 648.8 L1537.5 648.3 L1537.6 647.8 L1537.7 647.3 L1537.8 646.8 L1537.9 646.3 L1538 645.8 L1538.1 645.3 L1538.2 644.8 L1538.3 644.4 L1538.4 643.9 L1538.5 643.4 L1538.5 642.9 L1538.6 642.4 L1538.7 641.9 L1538.8 641.4 L1538.9 640.9 L1539 640.4 L1539.1 639.9 L1539.2 639.4 L1539.3 639 L1539.4 638.5 L1539.5 638 L1539.6 637.5 L1539.7 637 L1539.8 636.5 L1539.9 636 L1540 635.5 L1540.1 635 L1540.2 634.5 L1540.3 634.1 L1540.4 633.6 L1540.5 633.1 L1540.6 632.6 L1540.7 632.1 L1540.9 631.6 L1541 631.1 L1541.1 630.7 L1541.2 630.2 L1541.4 629.7 L1541.5 629.2 L1541.6 628.7 L1541.8 628.3 L1541.9 627.8 L1542.1 627.3 L1542.2 626.9 L1542.4 626.4 L1542.6 626 L1542.7 625.5 L1542.9 625.1 L1543.1 624.7 L1543.3 624.3 L1543.5 623.9 L1543.7 623.5 L1544 623.2 L1544.2 622.9 L1544.5 622.6 L1544.7 622.4 L1545 622.2 L1545.3 622.1 L1545.5 622 L1545.8 622.1 L1546.1 622.2 L1546.3 622.4 L1546.6 622.6 L1546.8 622.9 L1547 623.2 L1547.2 623.6 L1547.4 623.9 L1547.5 624.3 L1547.7 624.7 L1547.9 625.1 L1548 625.6 L1548.2 626 L1548.3 626.5 L1548.5 626.9 L1548.6 627.4 L1548.7 627.9 L1548.9 628.4 L1549 628.8 L1549.1 629.3 L1549.2 629.8 L1549.3 630.3 L1549.5 630.8 L1549.6 631.3 L1549.7 631.7 L1549.8 632.2 L1549.9 632.7 L1550 633.2 L1550.1 633.7 L1550.2 634.2 L1550.3 634.7 L1550.3 635.2 L1550.4 635.7 L1550.5 636.2 L1550.6 636.7 L1550.7 637.1 L1550.8 637.6 L1550.8 638.1 L1550.9 638.6 L1551 639.1 L1551.1 639.6 L1551.2 640.1 L1551.2 640.6 L1551.3 641.1 L1551.4 641.6 L1551.5 642.1 L1551.5 642.6 L1551.6 643.1 L1551.7 643.6 L1551.8 644.1 L1551.8 644.6 L1551.9 645.1 L1552 645.5 L1552.1 646 L1552.1 646.5 L1552.2 647 L1552.3 647.5 L1552.4 648 L1552.4 648.5 L1552.5 649 L1552.6 649.5 L1552.7 650 L1552.7 650.5 L1552.8 651 L1552.9 651.5 L1553 652 L1553 652.5 L1553.1 653 L1553.2 653.5 L1553.3 654 L1553.3 654.4 L1553.4 654.9 L1553.5 655.4 L1553.5 655.9 L1553.6 656.4 L1553.7 656.9 L1553.8 657.4 L1553.8 657.9 L1553.9 658.4 L1554 658.9 L1554 659.4 L1554.1 659.9 L1554.2 660.4 L1554.3 660.9 L1554.3 661.4 L1554.4 661.9 L1554.5 662.4 L1554.5 662.9 L1554.6 663.4 L1554.7 663.8 L1554.8 664.3 L1554.8 664.8 L1554.9 665.3 L1555 665.8 L1555 666.3 L1555.1 666.8 L1555.2 667.3 L1555.2 667.8 L1555.3 668.3 L1555.4 668.8 L1555.5 669.3 L1555.5 669.8 L1555.6 670.3 L1555.7 670.8 L1555.7 671.3 L1555.8 671.8 L1555.9 672.3 L1555.9 672.8 L1556 673.3 L1556.1 673.7 L1556.1 674.2 L1556.2 674.7 L1556.3 675.2 L1556.3 675.7 L1556.4 676.2 L1556.5 676.7 L1556.6 677.2 L1556.6 677.7 L1556.7 678.2 L1556.8 678.7 L1556.8 679.2 L1556.9 679.7 L1557 680.2 L1557 680.7 L1557.1 681.2 L1557.2 681.7 L1557.2 682.2 L1557.3 682.7 L1557.4 683.2 L1557.4 683.7 L1557.5 684.2 L1557.6 684.6 L1557.6 685.1 L1557.7 685.6 L1557.8 686.1 L1557.8 686.6 L1557.9 687.1 L1558 687.6 L1558 688.1 L1558.1 688.6 L1558.2 689.1 L1558.2 689.6 L1558.3 690.1 L1558.4 690.6 L1558.4 691.1 L1558.5 691.6 L1558.6 692.1 L1558.6 692.6 L1558.7 693.1 L1558.8 693.6 L1558.8 694.1 L1558.9 694.6 L1559 695.1 L1559 695.6 L1559.1 696 L1559.2 696.5 L1559.2 697 L1559.3 697.5 L1559.3 698 L1559.4 698.5 L1559.5 699 L1559.5 699.5 L1559.6 700 L1559.7 700.5 L1559.7 701 L1559.8 701.5 L1559.9 702 L1559.9 702.5 L1560 703 L1560.1 703.5 L1560.1 704 L1560.2 704.5 L1560.2 705 L1560.3 705.5 L1560.4 706 L1560.4 706.5 L1560.5 707 L1560.6 707.5 L1560.6 707.9 L1560.7 708.4 L1560.8 708.9 L1560.8 709.4 L1560.9 709.9 L1561 710.4 L1561 710.9 L1561.1 711.4 L1561.2 711.9 L1561.3 712.4 L1561.3 712.9 L1561.4 713.4 L1561.5 713.9 L1561.6 714.4 L1561.7 714.9 L1561.8 715.4 L1561.8 715.9 L1561.9 716.3 L1562 716.8 L1562.1 717.3 L1562.2 717.8 L1562.3 718.3 L1562.3 718.8 L1562.4 719.3 L1562.5 719.8 L1562.6 720.3 L1562.6 720.8 L1562.7 721.3 L1562.8 721.8 L1562.8 722.3 L1562.9 722.8 L1563 723.3 L1563 723.8 L1563.1 724.3 L1563.1 724.7 L1563.2 725.2 L1563.3 725.7 L1563.3 726.2 L1563.4 726.7 L1563.4 727.2 L1563.4 727.7 L1563.5 728.2 L1563.5 728.7 L1563.6 729.2 L1563.6 729.7 L1563.7 730.2 L1563.7 730.7 L1563.8 731.2 L1563.8 731.7 L1563.9 732.2 L1563.9 732.7 L1564 733.2 L1564 733.7 L1564.1 734.2 L1564.1 734.7 L1564.2 735.2 L1564.2 735.7 L1564.3 736.2 L1564.3 736.7 L1564.4 737.2 L1564.4 737.7 L1564.5 738.2 L1564.5 738.7 L1564.6 739.2 L1564.6 739.7 L1564.7 740.2 L1564.7 740.7 L1564.8 741.2 L1564.8 741.7 L1564.9 742.2 L1565 742.7 L1565 743.2 L1565.1 743.6 L1565.1 744.1 L1565.2 744.6 L1565.2 745.1 L1565.3 745.6 L1565.3 746.1 L1565.4 746.6 L1565.5 747.1 L1565.5 747.6 L1565.6 748.1 L1565.6 748.6 L1565.7 749.1 L1565.7 749.6 L1565.8 750.1 L1565.8 750.6 L1565.9 751.1 L1566 751.6 L1566 752.1 L1566.1 752.6 L1566.1 753.1 L1566.2 753.6 L1566.2 754.1 L1566.3 754.6 L1566.4 755.1 L1566.4 755.6 L1566.5 756.1 L1566.5 756.6 L1566.6 757.1 L1566.7 757.6 L1566.7 758.1 L1566.8 758.6 L1566.8 759 L1566.9 759.5 L1567 760 L1567 760.5 L1567.1 761 L1567.2 761.5 L1567.2 762 L1567.3 762.5 L1567.3 763 L1567.4 763.5 L1567.5 764 L1567.5 764.5 L1567.6 765 L1567.6 765.5 L1567.7 766 L1567.7 766.5 L1567.8 767 L1567.9 767.5 L1567.9 768 L1568 768.5 L1568 769 L1568.1 769.5 L1568.1 770 L1568.2 770.5 L1568.2 771 L1568.3 771.5 L1568.3 772 L1568.4 772.5 L1568.4 773 L1568.5 773.5 L1568.5 774 L1568.5 774.5 L1568.6 774.9 L1568.6 775.4 L1568.7 775.9 L1568.7 776.4 L1568.7 776.9 L1568.8 777.4 L1568.8 777.9 L1568.9 778.4 L1568.9 778.9 L1568.9 779.4 L1569 779.9 L1569 780.4 L1569 780.9 L1569.1 781.4 L1569.1 781.9 L1569.1 782.4 L1569.2 782.9 L1569.2 783.4 L1569.2 783.9 L1569.3 784.4 L1569.3 784.9 L1569.3 785.4 L1569.3 785.9 L1569.4 786.4 L1569.4 786.9 L1569.4 787.4 L1569.5 787.9 L1569.5 788.4 L1569.5 788.9 L1569.6 789.4 L1569.6 789.9 L1569.6 790.4 L1569.7 790.9 L1569.7 791.4 L1569.7 791.9 L1569.8 792.4 L1569.8 792.9 L1569.8 793.4 L1569.9 793.9 L1569.9 794.4 L1569.9 794.9 L1570 795.4 L1570 795.9 L1570.1 796.4 L1570.1 796.9 L1570.2 797.4 L1570.2 797.9 L1570.2 798.4 L1570.3 798.9 L1570.3 799.4 L1570.4 799.9 L1570.5 800.4 L1570.5 800.9 L1570.6 801.4 L1570.6 801.9 L1570.7 802.4 L1570.8 802.9 L1570.8 803.3 L1570.9 803.8 L1571 804.3 L1571.1 804.8 L1571.2 805.3 L1571.2 805.8 L1571.3 806.3 L1571.4 806.8 L1571.5 807.3 L1571.6 807.8 L1571.7 808.3 L1571.8 808.8 L1571.9 809.2 L1572 809.7 L1572.1 810.2 L1572.2 810.7 L1572.4 811.2 L1572.5 811.7 L1572.6 812.2 L1572.7 812.6 L1572.8 813.1 L1573 813.6 L1573.1 814.1 L1573.2 814.6 L1573.4 815.1 L1573.5 815.5 L1573.7 816 L1573.8 816.5 L1574 817 L1574.1 817.4 L1574.3 817.9 L1574.4 818.4 L1574.6 818.9 L1574.7 819.3 L1574.9 819.8 L1575.1 820.3 L1575.2 820.7 L1575.4 821.2 L1575.6 821.7 L1575.8 822.1 L1576 822.6 L1576.2 823.1 L1576.4 823.5 L1576.6 824 L1576.8 824.4 L1577.1 824.8 L1577.3 825.3 L1577.5 825.7 L1577.8 826.1 L1578 826.6 L1578.3 827 L1578.6 827.4 L1578.8 827.8 L1579.1 828.2 L1579.4 828.6 L1579.7 829 L1580.1 829.4 L1580.4 829.7 L1580.7 830.1 L1581.1 830.4 L1581.4 830.8 L1581.8 831.1 L1582.2 831.4 L1582.5 831.7 L1582.9 832 L1583.3 832.2 L1583.8 832.5 L1584.2 832.7 L1584.6 832.9 L1585 833.1 L1585.5 833.3 L1585.9 833.5 L1586.4 833.6 L1586.9 833.8 L1587.3 833.9 L1587.8 834 L1588.3 834.1 L1588.7 834.1 L1589.2 834.1 L1589.7 834.2 L1590.2 834.2 L1590.7 834.1 L1591.1 834.1 L1591.6 834 L1592.1 833.9 L1592.6 833.8 L1593.1 833.7 L1593.5 833.6 L1594 833.5 L1594.5 833.4 L1595 833.2 L1595.4 833.1 L1595.9 832.9 L1596.4 832.7 L1596.8 832.6 L1597.3 832.4 L1597.8 832.2 L1598.2 832 L1598.7 831.8 L1599.2 831.7 L1599.6 831.5 L1600.1 831.3 L1600.5 831.1 L1601 830.9 L1601.5 830.7 L1601.9 830.5 L1602.4 830.3 L1602.8 830.1 L1603.3 829.9 L1603.7 829.6 L1604.2 829.4 L1604.6 829.2 L1605.1 829 L1605.5 828.8 L1606 828.6 L1606.4 828.4 L1606.9 828.2 L1607.3 827.9 L1607.8 827.7 L1608.2 827.5 L1608.7 827.3 L1609.1 827.1 L1609.6 826.8 L1610 826.6 L1610.5 826.4 L1610.9 826.2 L1611.4 825.9 L1611.8 825.7 L1612.2 825.4 L1612.7 825.2 L1613.1 824.9 L1613.5 824.7 L1614 824.4 L1614.4 824.2 L1614.8 823.9 L1615.2 823.6 L1615.7 823.4 L1616.1 823.1 L1616.5 822.8 L1616.9 822.5 L1617.3 822.3 L1617.7 822 L1618.1 821.7 L1618.5 821.4 L1618.9 821.1 L1619.3 820.7 L1619.7 820.4 L1620 820.1 L1620.4 819.8 L1620.8 819.5 L1621.2 819.1 L1621.5 818.8 L1621.9 818.4 L1622.2 818.1 L1622.6 817.7 L1622.9 817.4 L1623.3 817 L1623.6 816.6 L1623.9 816.3 L1624.3 815.9 L1624.6 815.5 L1624.9 815.1 L1625.2 814.7 L1625.5 814.3 L1625.8 814 L1626.2 813.6 L1626.5 813.2 L1626.8 812.8 L1627.1 812.4 L1627.3 812 L1627.6 811.6 L1627.9 811.1 L1628.2 810.7 L1628.5 810.3 L1628.8 809.9 L1629 809.5 L1629.3 809.1 L1629.6 808.7 L1629.9 808.2 L1630.1 807.8 L1630.4 807.4 L1630.6 807 L1630.9 806.5 L1631.2 806.1 L1631.4 805.7 L1631.7 805.2 L1631.9 804.8 L1632.2 804.4 L1632.4 804 L1632.7 803.5 L1632.9 803.1 L1633.2 802.7 L1633.4 802.2 L1633.7 801.8 L1633.9 801.4 L1634.2 800.9 L1634.4 800.5 L1634.7 800 L1634.9 799.6 L1635.2 799.2 L1635.4 798.7 L1635.6 798.3 L1635.9 797.9 L1636.1 797.4 L1636.4 797 L1636.6 796.5 L1636.8 796.1 L1637.1 795.7 L1637.3 795.2 L1637.6 794.8 L1637.8 794.4 L1638 793.9 L1638.3 793.5 L1638.5 793 L1638.8 792.6 L1639 792.2 L1639.2 791.7 L1639.5 791.3 L1639.7 790.8 L1640 790.4 L1640.2 790 L1640.4 789.5 L1640.7 789.1 L1640.9 788.7 L1641.2 788.2 L1641.4 787.8 L1641.7 787.4 L1641.9 786.9 L1642.2 786.5 L1642.4 786.1 L1642.7 785.6 L1643 785.2 L1643.2 784.8 L1643.5 784.4 L1643.8 784 L1644.1 783.6 L1644.4 783.1 L1644.6 782.7 L1644.9 782.3 L1645.2 781.9 L1645.5 781.5 L1645.8 781.1 L1646.1 780.8 L1646.5 780.4 L1646.8 780 L1647.1 779.6 L1647.4 779.3 L1647.8 778.9 L1648.1 778.5 L1648.5 778.2 L1648.8 777.9 L1649.2 777.5 L1649.6 777.2 L1650 776.9 L1650.4 776.6 L1650.7 776.3 L1651.2 776 L1651.6 775.8 L1652 775.5 L1652.4 775.3 L1652.8 775.1 L1653.3 774.9 L1653.7 774.7 L1654.2 774.5 L1654.6 774.3 L1655.1 774.2 L1655.6 774.1 L1656 774 L1656.5 773.9 L1657 773.8 L1657.4 773.8 L1657.9 773.8 L1658.4 773.8 L1658.9 773.8 L1659.3 773.8 L1659.8 773.9 L1660.3 774 L1660.7 774.1 L1661.2 774.2 L1661.6 774.4 L1662.1 774.6 L1662.5 774.8 L1662.9 775 L1663.4 775.2 L1663.8 775.5 L1664.2 775.8 L1664.6 776 L1665 776.3 L1665.3 776.6 L1665.7 777 L1666.1 777.3 L1666.4 777.6 L1666.8 778 L1667.1 778.3 L1667.4 778.7 L1667.8 779.1 L1668.1 779.5 L1668.4 779.8 L1668.7 780.2 L1669 780.6 L1669.3 781 L1669.6 781.4 L1669.9 781.8 L1670.2 782.2 L1670.5 782.6 L1670.8 783.1 L1671 783.5 L1671.3 783.9 L1671.6 784.3 L1671.8 784.7 L1672.1 785.1 L1672.4 785.6 L1672.6 786 L1672.9 786.4 L1673.2 786.8 L1673.4 787.3 L1673.7 787.7 L1673.9 788.1 L1674.2 788.6 L1674.4 789 L1674.7 789.4 L1674.9 789.9 L1675.2 790.3 L1675.4 790.7 L1675.6 791.2 L1675.9 791.6 L1676.1 792.1 L1676.4 792.5 L1676.6 792.9 L1676.8 793.4 L1677.1 793.8 L1677.3 794.3 L1677.5 794.7 L1677.8 795.2 L1678 795.6 L1678.2 796 L1678.5 796.5 L1678.7 796.9 L1678.9 797.4 L1679.1 797.8 L1679.4 798.3 L1679.6 798.7 L1679.8 799.2 L1680.1 799.6 L1680.3 800 L1680.5 800.5 L1680.7 800.9 L1681 801.4 L1681.2 801.8 L1681.4 802.3 L1681.6 802.7 L1681.9 803.2 L1682.1 803.6 L1682.3 804.1 L1682.5 804.5 L1682.8 805 L1683 805.4 L1683.2 805.9 L1683.4 806.3 L1683.6 806.7 L1683.9 807.2 L1684.1 807.6 L1684.3 808.1 L1684.5 808.5 L1684.8 809 L1685 809.4 L1685.2 809.9 L1685.4 810.3 L1685.6 810.8 L1685.9 811.2 L1686.1 811.7 L1686.3 812.1 L1686.5 812.6 L1686.8 813 L1687 813.5 L1687.2 813.9 L1687.4 814.4 L1687.6 814.8 L1687.9 815.3 L1688.1 815.7 L1688.3 816.1 L1688.5 816.6 L1688.8 817 L1689 817.5 L1689.2 817.9 L1689.4 818.4 L1689.7 818.8 L1689.9 819.3 L1690.1 819.7 L1690.4 820.2 L1690.6 820.6 L1690.8 821 L1691.1 821.5 L1691.3 821.9 L1691.5 822.4 L1691.8 822.8 L1692 823.2 L1692.3 823.7 L1692.5 824.1 L1692.7 824.6 L1693 825 L1693.2 825.4 L1693.5 825.9 L1693.7 826.3 L1694 826.7 L1694.2 827.2 L1694.4 827.6 L1694.7 828.1 L1694.9 828.5 L1695.2 828.9 L1695.4 829.4 L1695.7 829.8 L1695.9 830.2 L1696.1 830.7 L1696.4 831.1 L1696.6 831.5 L1696.9 832 L1697.1 832.4 L1697.4 832.8 L1697.6 833.3 L1697.9 833.7 L1698.1 834.1 L1698.4 834.6 L1698.7 835 L1698.9 835.4 L1699.2 835.8 L1699.5 836.3 L1699.7 836.7 L1700 837.1 L1700.3 837.5 L1700.6 837.9 L1700.9 838.3 L1701.2 838.7 L1701.5 839.1 L1701.8 839.5 L1702.1 839.9 L1702.4 840.3 L1702.7 840.7 L1703 841.1 L1703.3 841.4 L1703.7 841.8 L1704 842.2 L1704.3 842.6 L1704.7 842.9 L1705 843.3 L1705.3 843.7 L1705.7 844 L1706 844.4 L1706.4 844.8 L1706.7 845.1 L1707.1 845.5 L1707.4 845.8 L1707.8 846.2 L1708.1 846.5 L1708.5 846.9 L1708.8 847.2 L1709.2 847.6 L1709.6 847.9 L1709.9 848.3 L1710.3 848.6 L1710.7 848.9 L1711 849.3 L1711.4 849.6 L1711.8 849.9 L1712.2 850.2 L1712.6 850.6 L1712.9 850.9 L1713.3 851.2 L1713.7 851.5 L1714.1 851.8 L1714.5 852.1 L1714.9 852.3 L1715.4 852.6 L1715.8 852.9 L1716.2 853.2 L1716.6 853.4 L1717 853.7 L1717.5 853.9 L1717.9 854.1 L1718.4 854.4 L1718.8 854.6 L1719.3 854.8 L1719.7 855 L1720.2 855.2 L1720.6 855.4 L1721.1 855.6 L1721.6 855.7 L1722 855.9 L1722.5 856 L1723 856.2 L1723.4 856.3 L1723.9 856.5 L1724.4 856.6 L1724.9 856.7 L1725.4 856.8 L1725.9 856.9 L1726.3 857 L1726.8 857.1 L1727.3 857.2 L1727.8 857.3 L1728.3 857.4 L1728.8 857.4 L1729.3 857.5 L1729.8 857.5 L1730.3 857.6 L1730.8 857.7 L1731.3 857.7 L1731.8 857.8 L1732.3 857.8 L1732.8 857.8 L1733.3 857.9 L1733.8 857.9 L1734.3 858 L1734.8 858 L1735.3 858 L1735.8 858.1 L1736.3 858.1 L1736.8 858.1 L1737.3 858.2 L1737.8 858.2 L1738.3 858.2 L1738.8 858.2 L1739.3 858.3 L1739.8 858.3 L1740.3 858.3 L1740.8 858.3 L1741.3 858.4 L1741.8 858.4 L1742.3 858.4 L1742.8 858.5 L1743.3 858.5 L1743.8 858.5 L1744.3 858.5 L1744.8 858.6 L1745.2 858.6 L1745.7 858.6 L1746.2 858.6 L1746.7 858.7 L1747.2 858.7 L1747.7 858.7 L1748.2 858.7 L1748.7 858.8 L1749.2 858.8 L1749.7 858.8 L1750.2 858.8 L1750.7 858.8 L1751.2 858.9 L1751.7 858.9 L1752.2 858.9 L1752.7 858.9 L1753.2 858.9 L1753.7 859 L1754.2 859 L1754.7 859 L1755.2 859 L1755.7 859 L1756.2 859.1 L1756.7 859.1 L1757.2 859.1 L1757.7 859.1 L1758.2 859.1 L1758.7 859.1 L1759.2 859.2 L1759.7 859.2 L1760.2 859.2 L1760.7 859.2 L1761.2 859.2 L1761.7 859.2 L1762.2 859.2 L1762.7 859.2 L1763.2 859.3 L1763.7 859.3 L1764.2 859.3 L1764.7 859.3 L1765.2 859.3 L1765.7 859.3 L1766.2 859.3 L1766.7 859.3 L1767.2 859.3 L1767.7 859.3 L1768.2 859.3 L1768.7 859.3 L1769.2 859.4 L1769.7 859.4 L1770.2 859.4 L1770.7 859.4 L1771.2 859.4 L1771.7 859.4 L1772.2 859.4 L1772.7 859.4 L1773.2 859.4 L1773.7 859.4 L1774.2 859.4 L1774.7 859.4 L1775.2 859.4 L1775.7 859.4 L1776.2 859.5 L1776.7 859.5 L1777.2 859.5 L1777.7 859.5 L1778.2 859.5 L1778.7 859.5 L1779.2 859.5 L1779.7 859.5 L1780.2 859.5 L1780.7 859.5 L1781.2 859.5 L1781.7 859.5 L1782.2 859.5 L1782.7 859.5 L1783.2 859.5 L1783.7 859.5 L1784.2 859.5 L1784.7 859.5 L1785.2 859.5 L1785.7 859.6 L1786.2 859.6 L1786.7 859.6 L1787.2 859.6 L1787.7 859.6 L1788.2 859.6 L1788.7 859.6 L1789.2 859.6 L1789.7 859.6 L1790.2 859.6 L1790.7 859.6 L1791.2 859.6 L1791.7 859.6 L1792.2 859.6 L1792.7 859.6 L1793.2 859.6 L1793.7 859.6 L1794.2 859.6 L1794.7 859.6 L1795.2 859.6 L1795.7 859.6 L1796.2 859.6 L1796.7 859.6 L1797.2 859.6 L1797.7 859.6 L1798.2 859.6 L1798.7 859.7 L1799.2 859.7 L1799.7 859.7 L1800.2 859.7 L1800.7 859.7 L1801.2 859.7 L1801.7 859.7 L1802.2 859.7 L1802.7 859.7 L1803.2 859.7 L1803.7 859.7 L1804.2 859.7 L1804.7 859.7 L1805.2 859.7 L1805.7 859.7 L1806.2 859.7 L1806.7 859.7 L1807.2 859.7 L1807.7 859.7 L1808.2 859.7 L1808.7 859.7 L1809.2 859.7 L1809.7 859.7 L1810.2 859.7 L1810.7 859.7 L1811.2 859.7 L1811.7 859.7 L1812.2 859.7 L1812.7 859.7 L1813.2 859.7 L1813.7 859.7 L1814.2 859.7 L1814.7 859.7 L1815.2 859.7 L1815.7 859.7 L1816.2 859.7 L1816.7 859.7 L1817.2 859.7 L1817.7 859.7 L1818.2 859.7 L1818.7 859.7 L1819.2 859.7 L1819.7 859.7 L1820.2 859.7 L1820.7 859.7 L1821.2 859.7 L1821.7 859.7 L1822.2 859.8 L1822.7 859.8 L1823.2 859.8 L1823.7 859.8 L1824.2 859.8 L1824.7 859.8 L1825.2 859.8 L1825.7 859.8 L1826.2 859.8 L1826.7 859.8 L1827.2 859.8 L1827.7 859.8 L1828.2 859.8 L1828.7 859.8 L1829.2 859.8 L1829.7 859.8 L1830.2 859.8 L1830.7 859.8 L1831.2 859.8 L1831.7 859.8 L1832.2 859.8 L1832.7 859.8 L1833.2 859.8 L1833.7 859.8 L1834.2 859.8 L1834.7 859.8 L1835.2 859.8 L1835.7 859.8 L1836.2 859.8 L1836.7 859.8 L1837.2 859.8 L1837.7 859.8 L1838.2 859.8 L1838.7 859.8 L1839.2 859.8 L1839.7 859.8 L1840.2 859.8 L1840.7 859.8 L1841.2 859.8 L1841.7 859.8 L1842.2 859.8 L1842.7 859.8 L1843.2 859.8 L1843.7 859.8 L1844.2 859.8 L1844.7 859.8 L1845.2 859.8 L1845.7 859.8 L1846.2 859.8 L1846.7 859.8 L1847.2 859.8 L1847.7 859.8 L1848.2 859.8 L1848.7 859.8 L1849.2 859.8 L1849.7 859.8 L1850.2 859.8 L1850.7 859.8 L1851.2 859.8 L1851.7 859.8 L1852.2 859.8 L1852.7 859.8 L1853.2 859.8 L1853.7 859.8 L1854.2 859.8 L1854.7 859.8 L1855.2 859.9 L1855.7 859.9 L1856.2 859.9 L1856.7 859.9 L1857.2 859.9 L1857.7 859.9 L1858.2 859.9 L1858.7 859.9 L1859.2 859.9 L1859.7 859.9 L1860.2 859.9 L1860.7 859.9 L1861.2 859.9 L1861.7 859.9 L1862.2 859.9 L1862.7 859.9 L1863.2 859.9 L1863.7 859.9 L1864.2 859.9 L1864.7 859.9 L1865.2 859.9 L1865.7 859.9 L1866.2 859.9 L1866.7 859.9 L1867.2 859.9 L1867.7 859.9 L1868.2 859.9 L1868.7 859.9 L1869.2 859.9 L1869.7 859.9 L1870.2 859.9 L1870.7 859.9 L1871.2 859.9 L1871.7 859.9 L1872.2 859.9 L1872.7 859.9 L1873.2 859.9 L1873.7 859.9 L1874.2 859.9 L1874.7 859.9 L1875.2 859.9 L1875.7 859.9 L1876.2 859.9 L1876.7 859.9 L1877.2 859.9 L1877.7 859.9 L1878.2 859.9 L1878.7 859.9 L1879.2 859.9 L1879.7 859.9 L1880.2 859.9 L1880.7 859.9 L1881.2 859.9 L1881.7 859.9 L1882.2 859.9 L1882.7 859.9 L1883.2 859.9 L1883.7 859.9 L1884.2 859.9 L1884.7 859.9 L1885.2 859.9 L1885.7 859.9 L1886.2 859.9 L1886.7 859.9 L1887.2 859.9 L1887.7 859.9 L1888.2 859.9 L1888.7 859.9 L1889.2 859.9 L1889.7 859.9 L1890.2 859.9 L1890.7 859.9 L1891.2 859.9 L1891.7 859.9" stroke="#57b32c"/>
</g>
<text x="1765.1" y="507.4" font-size="29.4" text-anchor="end">ADA (w/g)</text>
<text x="1765.1" y="536.7" font-size="29.4" text-anchor="end">ADA (w/p)</text>
<text x="1765.1" y="565.9" font-size="29.4" text-anchor="end">DDA</text>
<text x="1765.1" y="595.1" font-size="29.4" text-anchor="end">TDDFT</text>
<rect x="1508.2" y="476.4" width="383.9" height="383.7" fill="none" stroke="#000" stroke-width="3.4"/>
<text x="1512.5" y="896.2" font-size="33" text-anchor="middle">250</text>
<text x="1622.1" y="896.2" font-size="33" text-anchor="middle">350</text>
<text x="1731.8" y="896.2" font-size="33" text-anchor="middle">450</text>
<text x="1841.5" y="896.2" font-size="33" text-anchor="middle">550</text>
<text x="1493.2" y="871.3" font-size="33" text-anchor="end">0</text>
<text x="1493.2" y="775.4" font-size="33" text-anchor="end">0.3</text>
<text x="1493.2" y="679.5" font-size="33" text-anchor="end">0.6</text>
<text x="1493.2" y="583.6" font-size="33" text-anchor="end">0.9</text>
<text x="1493.2" y="487.6" font-size="33" text-anchor="end">1.2</text>
<text x="1701.1" y="936.3" font-size="37.7" text-anchor="middle">Wavelength (nm)</text>
</g>
</svg>
</body>
</html>
